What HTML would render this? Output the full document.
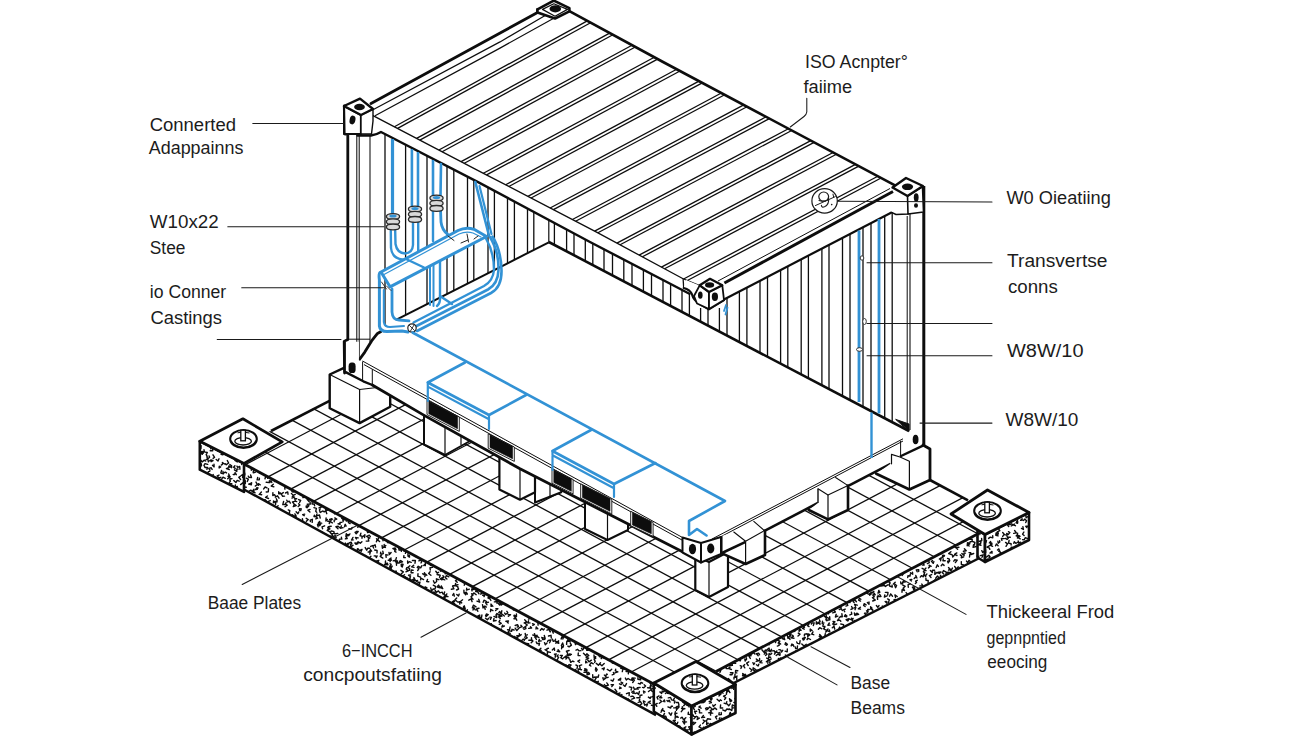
<!DOCTYPE html>
<html lang="en"><head><meta charset="utf-8"><title>Container foundation diagram</title>
<style>
html,body{margin:0;padding:0;background:#fff;}
body{width:1312px;height:736px;overflow:hidden;font-family:"Liberation Sans",sans-serif;}
svg{display:block;}
</style></head><body>
<svg width="1312" height="736" viewBox="0 0 1312 736">
<rect width="1312" height="736" fill="#ffffff"/>
<clipPath id="cTop"><polygon points="225.8,454.2 557.8,279.8 1004.6,519.8 672.6,694.2"/></clipPath>
<polygon points="225.8,454.2 557.8,279.8 1004.6,519.8 672.6,694.2" fill="#fff" stroke="none" stroke-width="1" stroke-linejoin="round"/>
<g clip-path="url(#cTop)" stroke="#0d0d0d" stroke-width="1.3">
<line x1="245.3" y1="464.7" x2="665.3" y2="244"/>
<line x1="268" y1="476.9" x2="688" y2="256.2"/>
<line x1="290.7" y1="489.1" x2="710.7" y2="268.4"/>
<line x1="313.4" y1="501.3" x2="733.4" y2="280.6"/>
<line x1="336.1" y1="513.5" x2="756.1" y2="292.8"/>
<line x1="358.8" y1="525.7" x2="778.8" y2="305"/>
<line x1="381.5" y1="537.9" x2="801.5" y2="317.2"/>
<line x1="404.2" y1="550" x2="824.2" y2="329.4"/>
<line x1="426.9" y1="562.2" x2="846.9" y2="341.6"/>
<line x1="449.6" y1="574.4" x2="869.6" y2="353.8"/>
<line x1="472.3" y1="586.6" x2="892.3" y2="366"/>
<line x1="495" y1="598.8" x2="915" y2="378.1"/>
<line x1="517.7" y1="611" x2="937.7" y2="390.3"/>
<line x1="540.4" y1="623.2" x2="960.4" y2="402.5"/>
<line x1="563.1" y1="635.4" x2="983.1" y2="414.7"/>
<line x1="585.8" y1="647.6" x2="1005.8" y2="426.9"/>
<line x1="608.5" y1="659.8" x2="1028.5" y2="439.1"/>
<line x1="631.2" y1="672" x2="1051.2" y2="451.3"/>
<line x1="653.9" y1="684.2" x2="1073.9" y2="463.5"/>
<line x1="676.6" y1="696.3" x2="1096.6" y2="475.7"/>
<line x1="694.4" y1="682.7" x2="174.4" y2="403.4"/>
<line x1="716.2" y1="671.3" x2="196.2" y2="392"/>
<line x1="738" y1="659.8" x2="218" y2="380.5"/>
<line x1="759.8" y1="648.4" x2="239.8" y2="369.1"/>
<line x1="781.6" y1="636.9" x2="261.6" y2="357.6"/>
<line x1="803.4" y1="625.5" x2="283.4" y2="346.2"/>
<line x1="825.2" y1="614" x2="305.2" y2="334.7"/>
<line x1="847" y1="602.6" x2="327" y2="323.3"/>
<line x1="868.8" y1="591.1" x2="348.8" y2="311.8"/>
<line x1="890.6" y1="579.7" x2="370.6" y2="300.4"/>
<line x1="912.4" y1="568.2" x2="392.4" y2="288.9"/>
<line x1="934.2" y1="556.7" x2="414.2" y2="277.5"/>
<line x1="956" y1="545.3" x2="436" y2="266"/>
<line x1="977.8" y1="533.8" x2="457.8" y2="254.5"/>
</g>
<polygon points="244,464 656,685.3 656,715.1 244,489.5" fill="#fff" stroke="none" stroke-width="1" stroke-linejoin="round"/>
<polygon points="716,671.4 980,532.7 980,557.7 716,692" fill="#fff" stroke="none" stroke-width="1" stroke-linejoin="round"/>
<clipPath id="cFL"><polygon points="244,464 656,685.3 656,715.1 244,489.5"/></clipPath>
<path d="M242.8 464.5l2.3 1.1l0.8 -2.8l1.2 -0.4M249.3 465.1l1.5 1.5l0.7 -2.3l-1.7 -0.2M254.9 464.1l-2.3 -1.1l0.2 2.4M261 462.5l1.9 0.8l-2.1 1.6M265.9 463.2l1.2 2.6l-1.9 1.3M271.3 465.6l1.8 1.6l0.3 -2.9l-2 0.2M278.9 463.4l-0.9 -2.5l1.7 0.1l0.6 -1.1M283.7 465.7l1 -2l1.3 1M287.5 462.5l0.2 -2l2.9 0.4M294.1 463.3l1.6 1.8l-2.8 0.9M299.1 462.6l1.6 2.2l1.8 -0.7l1.1 1.4M304.3 465.2l2.6 -0.8l-0.9 2.7M312.2 463.6l-1.6 1.2l1.7 0.8M315.5 464.3l2.1 1.6l-2.1 1.3l-1.2 -0.7M321.9 463.5l2.1 2.1l-2.3 -0.3l-0.8 -1.8M328.6 464.1l0.9 3l2.4 -1.1l-0.7 -1.8M333.2 462.9l0.3 -2.5l1.7 1.8M340.1 463l0.2 2.4l1.7 -1.6l-0.2 -2M343.8 464.4l-1.6 2.4l-1.1 -2.7l-1.7 -0.2M350.3 465.6l-1.4 -1.2l2.7 -0.2l0.3 2M355.9 462.9l0.6 -2.2l1.3 1.8M360.5 465.7l2.6 0.5l-0.3 -2.4M368.7 462.8l-1.7 -0.5l0.9 2.2M374 465.1l0.5 2.1l2.5 -0.9l-0.2 -1.2M379.7 464.5l1 -2.3l-2.2 0.7M383.8 462.9l2.9 0.1l0.1 2.5l-1.6 1.2M389.8 463.2l-0.5 2.8l2.6 -0.4M395.6 464l-2.8 -0.2l0.8 -2.2l2.1 0.3M399.8 463.8l-2 1.2l1.3 1.8l2 -0.5M407.1 464.5l1.9 2.4l0 -2.6l-2.2 0.3M410.9 463.8l-2.3 -0.2l0.1 -1.7l1.6 -0.5M417 464.4l-1.9 -0.1l2.2 2l1.9 -0.8M424.1 465.1l1.6 -2.2l0.1 1.8M429.5 462.6l2.6 1l0.2 -2l1.1 -0.6M432.9 465.2l-2.2 0.7l0.3 -2.5l-2.1 -0.3M438.9 465.5l-1.8 -1.8l1.6 -1.6l-0.9 -2M444 464l2.5 -0.3l0.2 1.7M451.2 465.1l-2 1.6l2 0.7M457.3 463.7l-1.1 1.5l1.8 1.6M460.9 464.6l-1.8 1.7l2.6 -0.2l0.9 1.4M469.6 465.6l-2 -0.6l1.8 -0.7l-0 -1.7M472.6 464l2.2 0.1l0.3 2.4l1.2 0.3M483.6 465.3l0.6 -2.6l1.2 1.4M488.9 465.1l2.1 -1.7l-2.8 -0.8M497.1 462.4l-1.1 -2.7l-1 1.4l1.2 1M500.1 462.4l-2.1 -0.4l0.7 -2.6M507.3 464.5l2.6 1.1l1 -2.6l-1.8 -0.7M518 463.9l-1.2 -2.6l-1.1 1.3l-1.8 -0.4M523.9 464l1.9 -0.3l0.4 2M529.5 462.7l1.6 -1.3l-0.4 1.6M536.8 463.8l-0.2 2.1l1.3 -1.2l1.5 1.6M541.9 464l2.1 -1.8l1.4 1.6l-1.4 0.8M546.1 463.6l1.6 1.6l-2.1 1.8l1.6 1.4M551.6 463.6l2.6 -0l-0.4 2.6M556.1 464.5l-1.3 -1.5l2.3 0.4l0.3 2.1M563.6 465.4l2.4 -0.9l-2.4 -1.7l-1.2 1.4M567.3 465.4l1.7 1.8l-1.6 1.2M574.1 463.1l-2.7 0.3l-0 1.7M580.2 463.8l-1.4 2.5l1.9 0.5l-0.2 1.4M585.8 465.3l-0 -2.4l-2.1 0.5l-1.3 -1.2M591.8 464.1l0.7 -2.9l-2 -0.9M596.2 465.1l1.9 -0.4l-0.1 3M603.8 465.4l-2.4 -0.4l0.2 1.9l2 -0.6M608.5 464.9l-2.5 0.7l0.1 1.9M612.9 462.7l-0 2.7l1.5 -0.9l-1.1 -1.2M619.5 462.4l-0.8 2.3l1.9 -1.2l1.6 1M623.2 464l-1.1 -2.1l2.6 -1.2l1.7 0.9M630.1 462.3l-0.8 2.9l-2.9 -0.2l-0 1.7M637.3 462.7l-1.9 -1.9l2.2 0M646.8 463l2 -0.3l0.1 -1.9l1.9 0M251.3 470.3l-0 -1.8l2.4 1.3M256.7 467.5l2.1 1.2l-0.6 -2M264.6 467.5l-0.6 -2l1.9 0.2l-0.1 -1.8M269.6 468.6l-1.7 1.7l2 0.2M274.3 468.1l2.6 -0.7l0.6 2.8l1.2 -0.2M280.3 470.4l2.2 -0.7l0.7 2.6l2 -0.1M287.1 469.8l-1.8 -1.4l1.9 -1.9M291.2 467.7l-2.3 1.5l-0.5 -1.8l-1.4 -0.4M295.8 468.9l-0.6 -2.3l2.2 -0.5M302.9 469.8l0.2 -2.9l2.4 0.3l0.2 -1.6M307.5 468.1l1.7 -1.1l2.1 2.1M315 469.4l1.9 -0.1l-1 -2.6M318.9 467.6l1.2 2.9l1.5 -1.5M324.4 469.8l1.8 -0.7l-0.2 1.9l1.8 1.3M331.6 470.3l1.2 -2.7l1.5 1.1l-0.2 1.7M335.1 468.5l-2.6 -0.8l-1 1.9l-1.2 -1M342.8 470.2l-1.6 0.9l0.3 -2.5l-1.5 -0.7M346.3 467.5l-2 -1.1l0.3 1.6M354.6 467.5l-1.7 -1.6l-0.9 1.9l0.8 1.1M359.8 470.4l0.6 1.9l-1.8 -1M363 469.6l-1.2 -2.8l-1.6 1.9M369.9 469.1l3 0.8l-0.3 1.7l1.2 0.2M376.5 467.3l1 -1.7l1.3 2.1l-1 1.6M381 467.3l-1.8 -1.7l1.9 -2M385.3 468.4l-1.9 2.2l1.5 0.6l-1 1.7M390.9 468.9l-2.3 2.2l1.8 2.4M397 470.5l-3.1 0.2l2 1.6M404.7 469.2l-0 2.3l-1.6 -0.8M408.2 468.1l-2.2 -0.1l-0.6 2.1M414.2 468.5l0.6 -2.1l-2.3 0.9l0.7 1.3M421.6 469.7l-1.6 1.7l1.7 1.2M424.9 469.7l2.8 0.9l-0.9 2.5M430.9 469.3l-2 1.1l-1.3 -1.4M435.5 468.4l1.8 1.4l-1.5 1.9l-1.2 -0.7M443.8 469.6l-1.8 0.6l-0.9 -2l0.9 -1.6M448.7 468.9l-2 0.1l-0.5 2.3l1.6 1.3M454.4 469.4l0.8 2.2l-2.7 -0.1l-0.7 -1.7M465.1 469l-1.7 1.7l2.6 -0.1M469.5 468l2.2 0.5l-2 1.7l-1.4 -1.2M478 468.2l2.7 -1.3l-0.5 -1.8M481 467.7l1.8 -1.1l-1.4 -1.6M489.2 470l-2.4 -0.6l0.4 2.8l-2 0.3M493.5 469.1l0.9 1.6l2 -0.7l0.4 -1.3M497.3 467.4l2.9 0.9l-0.9 -2.6M502.9 470.1l2.7 -1.6l-0.7 -1.7l-1.7 1.1M509.3 467.5l2.3 1.7l-1.2 1.7l-1.2 -0.3M517 469.8l-2 -1.5l-1.5 2.3l1.1 1.1M521.3 467.9l1.2 -1.5l-2.2 0M527.6 467.4l-1.1 1.6l3 0.2M538.3 467.7l1.2 -2.9l-1.6 -0.7M544.6 469.5l0.6 -2.6l2.7 1.1M548.9 469.4l-1.5 1.6l1.8 1.1M554.7 469l0.1 -2.9l2.1 1.2M560.2 469.1l-1.1 2.2l-1.3 -2.1l-1.6 0.5M566.9 470l-2.1 -1.9l2.4 0.2l0.7 -1.3M583.3 467.8l1.2 1.6l-1.9 1.1l0.6 1.3M588.3 467.2l1.5 -1.9l1.8 1.4l-0.6 1M595.2 469.5l-2.3 -1.4l0.5 2.5M599 469.3l2 1.4l-0.1 -1.9l1.6 -0.5M606.5 470.2l-0.9 1.6l1.6 -0.4M611.7 470.4l-1.9 -0.2l0.8 2.5M617.5 468.9l-2.6 1.7l1.1 1.8M623.6 468.4l2 0.8l0.2 -1.7M628.2 469.1l1.7 1.4l1.4 -2.7M632.1 470.3l2.6 1.2l1.2 -2.4l1.5 0.7M639 467.6l1.2 -2l0.8 2.5M649.9 469.9l0.7 -2.2l1.5 1.7l-0.9 1M655.2 467.5l-2.1 -0.9l2.4 -0.7l0.6 -1.7M242.7 472.5l0.3 2.9l1.8 -0.5l-0.1 -1.9M250.6 474.9l0.9 2.6l-2.5 -0.1l-0.7 -1.2M255.2 472.3l-2 0.4l0.2 -1.8M259.7 473.1l-0.8 -2.4l2.1 -0.5l-0.6 -1.2M266.9 472.1l2.7 0.8l-1.4 -1.9M270.4 474.5l-1.6 -1.6l2.1 -0M279 473l-1.2 1.8l-1.9 -0.7M283.2 473l-3.2 -0.1l0.9 1.8l2 -0.1M289.5 475l-1.8 -0.5l-0.3 1.6M295.3 472.3l-2.6 -0l0.4 2.4M300.6 472.8l-1.2 -2.1l-1 2.3M304.3 475.2l3 0.3l0 2.4l-1.1 0.5M311.4 474l2.1 -1.3l-2.1 -1.7l1 -1.3M316.4 474.1l2.9 -1.2l0.2 2.4l1.8 0.3M320.8 474.3l3 -0.3l-0.1 -1.8l-1.6 0.1M329.4 473.3l-0 -2.8l-2 -0.2M334.2 475.1l1.6 -1l-0.5 -1.5M337.8 473.1l-0.3 -2l2 1.5l-1.2 1.1M346.4 472.5l1.9 -0.6l-0.8 2M356.2 473l2.9 1.2l-2.3 1.6M360.4 474.9l-2.7 -1.6l1.4 -2.2M368.2 473l2.2 0l-0.4 -2l-1.4 0.5M373.8 474.4l2 -1.2l1.8 2.1l1.1 -1M378 474.4l2.3 -1.2l1.5 1.7l1 -1M385.3 475l-2.4 -0.3l0.6 1.8l-1.5 0.4M389.3 473.8l1.1 1.5l-2.7 -0.8l-0.7 1.2M394.7 473.8l1.8 0.2l-2.1 1.2l-0.6 -1.5M407.5 475.3l-0 1.9l2.1 0.1l1.1 1.7M413.5 475.1l2.4 1l0.5 -2.5l-1.5 -1M422.8 473.6l1.7 2.7l0.2 -1.8M434.6 472.2l1.9 -1.1l0.3 1.7l1.8 -0.3M440.3 474.6l1.8 1.4l1.2 -1.7l-1.3 -1.7M445.5 475.1l0.6 -1.9l-2.7 1.2M450 473.6l2.5 1.8l-0.3 -2.2l1.3 -0.1M456.2 474.5l1 2.2l-2.6 -1l-0.7 1M461.7 474.8l-0.1 1.9l-1.7 -0.6M469.3 474.3l0.6 2.4l-2.6 0.5M472.8 472.9l0.2 2.3l1.6 -0.5M480.8 472.1l0.8 -2.1l-2.4 -1.2M484.3 472.2l-1.8 1.2l1.2 2l2 -0M491.2 474.6l0.9 1.8l1.3 -2l2 -0.1M496.1 473.2l-0.5 2.6l1.3 -1M502.8 473l1.2 2.7l2.2 -1.4M506.7 475.2l1.9 -0.4l-1 -2.6M513.5 473.3l0 -1.9l1.6 1.6l0.8 -0.9M522.9 472.4l-0 2.9l2.8 0.7M530.7 474.2l-2.1 0.5l0.1 -2.8M533.9 473.7l-2.2 -0l-0.3 -2.8M539.9 474.3l-2.3 0.6l2.6 1.3l1.1 -1.2M551.5 472.9l-1.2 2.1l-0.4 -2.7M557.7 475.3l2 -0.9l-1.3 -1.7M563 473.8l2 0.3l-2.1 1.3M570.1 472.2l-1.4 -1.7l2.5 -0.3M573.1 472.5l2.1 0.2l0.6 -1.9M580.3 475.3l-2.2 -0.2l0.4 2.2M587 474l-0.4 2.8l-2 -1.9M591.7 472.7l-0.6 -2.4l2.2 0.3l0.8 -1.2M598.4 473.4l1.8 -0.9l-0.9 2.2M604 473.1l0.3 -2l2.2 -0.1l0.6 1.4M608.1 475.4l-1.4 -2.8l1.8 -0.4l0.7 1.9M614.4 474.6l0.2 -2.5l-1.8 1.2l0.5 1.6M624.5 474.7l1.8 -1.9l1.5 2.1l-0.9 1.3M630 473.1l0.7 -2.9l1.7 1.1M635.8 473.3l0.3 2.9l2.9 -0.7l0.1 -1.2M642.9 473.1l-2.2 -0.5l1.5 -1.8M646.8 473.3l-1.9 -1.3l0.6 2.2l-1.5 1.1M651.6 472.7l-2.1 1.1l0.4 -2.5M246.3 478.2l2 1l-1 2.4M257.7 477.5l-0.6 2.4l2.2 -0.2l0.1 -1.5M267.7 478.3l0.5 -2.2l-2.7 0.9l-0.5 1.8M274.8 478.8l-0.3 2.7l2.3 -0.6l0.5 -1.6M278.8 477.2l2.4 -0.8l0.1 2.7l-1 0.9M285.2 477l-2.1 -2.2l0.1 2.1l1.4 0.4M292.5 477.1l2 0.7l1 -2.7M298.5 479.7l-0.9 2.5l-1 -2.8l-1.5 0.5M303.5 477l1.3 -1.4l1.5 1.2M308.6 477.3l-2.3 -0.5l0 2.9l1.6 -0.2M313.5 478.4l-0.3 1.8l2.3 -1.3l-0.1 -1.7M320.6 477.7l-1.4 1.6l1.7 1M326.4 479.2l3 -1.1l-0.2 2.4l1.1 0.7M331.4 477.2l1.7 -2.3l-2.5 0M336 477.2l1.3 2.7l1.4 -0.9M342.9 477.6l-0.4 -1.9l2 -0.2l-0.6 -2.1M347.2 479.6l-1.1 -2.8l1.6 -1.1M353.6 477.5l2.3 2l0.2 -2.2M359.7 477.5l-0.2 -2.6l-2 1.3l-1.5 -1.5M364.7 480.1l2.2 1.9l0.5 -2.8M371.6 479.2l2.2 0.5l-2.1 1.7l-1.5 -1.7M374.7 478.7l-1.8 2.5l-1.6 -2M381.6 478.5l2.6 0.9l0.2 -2.3l1.3 0.4M387.7 477.7l-0.2 3.1l-2.2 0l-0.7 1.7M392.3 479.3l2.8 0.1l0.2 2.6l1.5 -0.1M398.2 479.5l1.3 2.4l-2.8 0.2l-0.6 -1M402.1 479.9l-0.6 1.8l1.8 0.4l-0.1 1.4M407.6 480.3l0 -1.9l1.5 1M413.8 478.8l3.1 0.2l-1.3 2.1l1.7 1M419.7 477.6l-1.9 -2.3l-0 1.7M426.4 478.2l-1.4 -1.8l-1.9 1.4l0.8 0.9M432.6 480l2.4 -0l0.5 -2.2M436.5 478.9l2.4 1.3l-1 2.3l-1.3 -1M442.4 477l-2.3 -1.9l-0.7 1.9M448.1 478.1l-2.5 1l1.9 1l-0.9 1.5M454.1 478.7l-2.3 1.1l2.4 1.8M460.6 477.1l-1.2 -2.4l2.7 -1.1M464.5 478.1l1.4 -1.2l1.8 1.9l-1 1.2M470.6 477.8l0.4 3.1l1.9 -0.2M475.4 479.2l-0.5 -2l-2.3 1.3M483.2 479.2l0.6 -1.9l-2.5 0M487.5 479.2l-3 -0.9l0.6 -2.6l-1.6 -0.3M491.7 479.3l2.3 -0.7l-0.3 -2.2M500.1 478.8l2.6 -1.5l1.5 2.3M503.6 477.7l-2.5 -0.2l0.4 -1.6M510.2 479.6l2.3 2l-2 0.7M517.2 478.4l0.6 -2.4l1.9 0.1M521.8 478.2l1.9 2.4l-2.8 0.8l-0.1 1.7M525.2 479.7l2.4 1.2l-2.3 1.6M532.2 477.7l2.4 -0.7l-0.8 -1.9l-1.3 0.4M537.9 478.9l-1.7 1.5l-1.7 -1.2l-1.4 1.2M542.4 478.2l2.9 1.2l0.7 -2.9l-1.9 -0.8M549.6 479.1l-1.4 1.7l2.6 0.1l-0.1 1.7M554.3 478.8l-1.6 1l-1.3 -2.5M561.7 479.7l2 -0l0.1 2.2l1.8 -0.1M566.7 477.8l-2.4 -1.2l1.2 2.6M570.5 478.9l2.3 -0.2l-1.4 2.2M576.6 477.5l2.1 -1.5l0 1.9l-1.1 0.8M584 479.1l0.9 2.7l0.6 -1.6M587.9 477.4l1 2.4l-2.7 -1.1l-1.3 1.3M594.6 478.1l2.2 0.8l-0.4 2.7M601.1 479.9l2.2 0.4l-1 1.3M604.6 477.2l1.1 1.7l0.7 -2l-1.4 -1.2M610.2 479.4l-0.1 2.8l-1.9 -1.6M616.6 478.2l-2.1 -0.4l0.4 -1.7M628 478.3l3.1 -0.4l-1 -1.4M632.1 480.1l-1.3 1.5l1.7 1.7l-1.5 1.6M639.3 478.1l0.8 -2.3l-1.7 -0.3M644.9 478.3l1.2 -1.4l1.2 2.6l1.1 -0.4M650.7 477.7l-1.4 1.8l-1.3 -1.6M655.8 477.5l2 -2.3l-2.2 -1.7l0.6 -2M243.4 483.9l2 -0.6l-0.2 -2.8M250.5 483.3l-1.8 0.8l2.6 0.8l0.3 -2.1M256 482.1l1.3 2.4l-2 1.6M260.2 484.8l-1.8 -1.1l-0.1 1.7M266.2 482.2l3.2 0.4l0 -1.8M271.8 482.4l-0.8 -1.8l-1.2 2M284.8 484.7l2.1 -0.4l0 -1.6l-1.7 0.3M289 483l2.8 0.2l-1.3 2M300.7 483.1l-1 2.2l-0.6 -2.6M306.9 483.9l0.2 2.5l-2 -2.2M309.8 483.9l2.7 0.6l-1.1 2.3l-2 -0.8M317.6 484.7l-2.6 -0.2l2.1 1.8M321.9 482l2.1 -0.3l-0.6 1.6M329.4 484.4l-0.2 3l-1.6 -1.7M332.4 484.9l-2.5 -0.5l1 -1.7l1.1 0.8M345.3 484.9l-1 2.1l-0.6 -1.7l-1.6 -0.1M350.5 482.8l-1.1 -1.9l2.3 -1.2l-0.5 -1.9M356.6 483l-2.1 -0.3l0.8 -2.6l-1.6 -0.8M360.5 484.2l-0.3 2.2l-1.7 -0.3M366.2 483.2l0.7 -2.6l-2.6 -0.2l-1.1 -1.9M373.2 482.7l0.2 3l3 0.1M376.9 482.5l1.2 -1.5l1.3 1.9M384.9 481.9l-2 -1.3l1.7 -1.4M389.4 483.5l-2.9 -0.2l1 1.9l-1.7 1M393.9 482.5l2.6 1.4l1.6 -2.2l-1.2 -1.5M399.3 484.1l-2.3 1.3l2.8 0.4l0.7 -1.2M406.5 482.1l-2 1.8l-1.4 -1.9l0.4 -1.4M411.8 483.6l-0.7 1.9l-2.8 -0.9M416.4 484.9l-1.3 2l2.6 -0l0.7 1M423 482.5l0.8 3.1l-2.8 -0.6l-0.1 1.4M427.5 482.3l2.1 -2l-2.6 -1.4M434.4 484.1l-1 -2l-1.6 0.8M438.7 482.1l0.7 -3.1l2.3 1.1l1.4 -1.6M444.5 483.3l0.2 -3l-1.6 1.2l0.6 1.2M452.8 483.1l2.3 0.5l-0.7 -2.4M455.6 482.4l-1.2 2l-1.7 -0.5M472.9 483l0 -2.5l-1.3 1.4l0.6 1.3M480.1 484.4l2.2 -1.5l-1.9 -2.3l1.1 -0.6M484.6 482.6l-0.1 -2l2.2 1.6M491.2 482.2l1.2 2l2.2 -0.7l-0.4 -1.6M494.6 484.3l-0.2 -2.3l-1.7 1.2M501.5 482.3l2.5 1.7l-0.9 1.8M506.3 483.7l2.1 0.6l-2 0.9l-0.2 1.9M511.9 482.1l1.5 1.2l-0 -2.6l-2 0M524.4 482.2l-1.8 -0.8l0.2 1.9M530.3 482l0.1 2.6l1.1 -1.5M534.5 482.1l0.2 -2.6l2.9 0l0.6 -1.9M540.8 482.4l0.8 -2.8l-2.4 -0.8M544.7 484.8l2.5 0.6l0.3 -2.6M552.4 484.6l0.4 -1.9l1.6 1.8M558.5 483.5l-0.2 2.8l2.6 -0.1M563.5 483.3l1.3 -2.6l0.8 2.5M569.2 482l0.6 -2.9l-1.8 0.8M575.7 483.7l2.8 -1.2l1.6 2.2M585.3 482.1l-1.7 -2.4l2.4 -1.2l-0.5 -2.1M591.1 483.2l-0.6 1.9l2.1 -0.2M596.1 482.1l-0.4 2.8l1.8 -0.2M603.5 482.4l-0.4 3.1l2.1 -0.1M609.5 482.8l-1.3 2.8l2.7 -0.7M612 484.7l1.7 1.3l-2.3 1.3M625.7 484l1.9 2.1l-1.3 1.1M631.9 483l-1.4 -2.3l-2.1 1.9M637.6 482l1.4 -2.4l1.2 1.6M642 483.3l2.3 -0.8l1 1.5M645.7 483.1l-0 -2.7l-2 0.2M654.4 484l0.9 -2.6l2.2 1.3l-0 2M246.3 487.2l-3 -0.3l-0.4 2.5M254 489.3l-1.8 2.1l-1.4 -1.3l-1.6 1M257.4 489.3l-1.9 0.3l1.4 -1.8l1.2 0.2M263.7 488.9l1.4 -1.9l1.9 0.9M268.5 488.8l-0.2 2.9l-2.1 0.3M273.9 486.9l-2.7 -0.9l2.1 -1.8M284.9 489.1l-0.1 -2l2.1 0.4M292.8 489.1l1.8 2.2l-1.6 0.8l-1.1 -0.6M297.4 487.5l-1.9 0.9l1.6 0.9M302.8 489.7l2.3 -1.7l-0.2 2.8l-1.8 -0.1M306.9 488.7l1 -1.9l-1.8 -0.9l-0.9 1.3M312.6 489.5l-0.8 1.6l2.2 -0M325.5 486.8l-2.4 -0.6l1.3 -2.1l-0.9 -1.1M329.8 489.5l0.9 -2.4l-1.4 -0.9M334.9 488.8l-0.4 -2.6l1.9 0.1M349.2 487.8l1.9 -0.2l-0.8 -2M353.6 487.3l-1.5 -1.3l-1.2 1.2M359.7 489.3l-0.1 -2.9l2.6 -0.2M365.1 489.1l1.9 0.8l-0.3 2.4M369.4 487.9l2.2 1.7l-2.7 1M374.3 487l1.6 2.4l1.8 -2.3M382.3 487.1l2 1.6l0.7 -2M391.7 489.4l-2.9 -0.3l1.3 2.4M396.4 487.4l-2 -1.2l-1.6 1.6l1.6 1.3M403.8 488.2l0.4 -3l-2.7 -1.1l-1.8 1.2M409.4 489.8l-1.2 -2.8l-1.4 2.4l1.6 1.1M416.1 488.7l1.8 1.7l1.4 -2.3M420.6 489.2l0.5 2.8l1.4 -1.1M424.4 486.8l0.2 3.1l2.9 -0.2M430.8 487.2l2.8 0.3l0.5 -1.8M437.2 487l0.7 -3l-1.4 1l0.8 1.5M443.1 489.4l1.7 0.9l-1.7 1.4M447.4 487.3l-3 -0.1l-0.2 2.5M452.6 488.4l-0.8 -1.7l-1.5 0.8l-1 -0.9M461.2 489.3l1.9 0.1l0.4 -2.3M465.6 488.9l2.4 -1.4l-2.6 -1M471.4 489.5l-2.7 1.3l-1 -2M475.7 487.9l-0.9 1.7l-2 -1.8M486.8 487.5l-1.6 1l-1.5 -2.5l-1.8 1.1M493.3 487l1 -2l1 1.4l1.6 -0.6M498.9 489.8l-2.6 1.7l2.3 1.1l0.8 -1.7M503.1 489.9l-2 -1.7l1.6 -2.2l-0.6 -1.1M510.5 488.8l-1.6 -2.4l-2.1 1.1M514.1 486.9l2.3 0.2l0.5 -2.6M522.5 489.8l-2.9 0.9l-0.6 -2.1M527.6 487l2.1 -0.9l-2 -0.9M531.4 487.9l-1.4 2.3l2.8 -0.6l0.5 1.8M536.8 487l2.3 -0.3l-1 -1.4l-2.1 0.4M543.7 487.3l-1.9 2.1l2 1.3l1.3 -0.8M550.1 487.4l0.7 2l-1.9 0.3M553.1 487l-1.7 1.6l-1.4 -1.7l0.7 -1.1M560.3 487.3l0.3 2.4l2 0l0.8 1.6M565.1 489.2l-2.8 -1.2l1.7 -0.5M570.7 487.3l1.4 -1.6l1.9 1.2M576 489.4l-1.3 -1.4l1.3 -1.1M582 488.4l-2 -2.1l2.6 0.1l0.1 1.9M587.9 488l1.7 -1.5l2 1.5M592.4 488.2l-0.4 -2.4l1.8 1.2l-0.2 1.8M605.8 486.7l2 -0.7l0.1 2.5l2 -0.3M612.5 488.2l0.5 3.1l-1.8 0.1l-0.1 -2M617.5 487.2l1 -2.5l1.4 1.1l-0.2 1.3M622.1 488.6l1.4 -1.2l-1.1 -1.3M626.8 488.6l0.3 2l-1.6 -0.8l-0.8 1.9M634.1 487.3l1.2 1.5l-2.4 1.4M637.5 487.5l-1.4 -2.2l-0.7 2.1M644 489.6l2.6 -0.7l0.1 2.5l-1.4 0.1M651.4 488.2l-1.5 2.4l2.1 -0.7l0.1 1.3M243.7 492l-0 -2.3l2.1 1.3M248.7 492.3l-0.2 1.8l-2.5 0M255 492.7l-2.2 -0.6l1.5 -1.1M261.4 492.1l-2.2 2.3l2.5 0.3M272.9 492.6l-0.1 2.9l1.7 -0.8l0.7 1M278.7 491.8l0 2l1.6 0.1l-0.2 -1.3M283.3 492.6l-2.1 1.2l1.5 2.5l1.8 -0.2M288 494.2l-0.3 -2.3l-2.2 1.1M295.2 494.4l-2 1l-1.8 -2M300.3 492.2l-0.8 -2.8l-1.4 2M305.4 491.6l1.9 -0.9l-0.6 1.8l-1.9 -0.1M312 492.3l-0.7 2.6l2.7 -0.9l0.9 1M316.7 492.7l-0.8 -2.6l2.1 0.6M323.3 492.6l-0.6 2.2l2.8 0.7M327 492l-2.5 -0.1l0.5 -2.3M332.2 492.9l-2.1 0.2l1.3 1.8M345.5 493.3l0.5 -2.8l-1.7 -0.1M349.7 491.7l3.1 -0.4l0.6 2.5l-1.6 0.5M355.6 491.9l1.8 -0.4l-0.7 -2.2M362.7 493.6l-1.8 1.2l-1 -2.4l2.1 -0.6M366.4 494l2.4 -1.9l-2 -1.4l-1.4 1.3M371.8 494.8l2.3 1.8l0.8 -1.4M379.1 494.8l-1.7 -1.5l2.5 -0.6M382.3 492.3l-1.6 2.4l2.4 1.5M390.8 494.3l-0.2 2.3l-2.1 -0.6l-0.2 2.1M395.7 494.5l0.1 -2.1l-2.1 2.1M401.9 492.4l-1.3 -1.9l-0.5 1.9M404.9 494.6l1 2l1.1 -2.5M423.1 494.1l1.5 -2.4l-1.6 -0.7l-1.2 0.7M427.3 494l0.8 2.3l-2.9 0.3l-0.3 -1.5M435.5 494l-1.8 2.5l2.2 0.4l0.1 -1.4M439.5 494.8l-0.7 -1.9l-0.9 2.1M444.4 494.9l0.9 2l-1.7 0.1M449.7 492.8l2.6 -1l-0.8 -2.8l1.3 -1.1M463.2 491.6l1.8 -1.9l-1.6 -1M468.9 494.5l-2 2.4l2.1 1.9M474.3 492.3l-2 0.5l0.5 2.4M479.5 492.4l-0.4 2.4l-1.5 -0.8M486.2 492.1l0.5 -2.5l-1.9 -0.4l-0.2 1.9M491.1 492.5l1.6 -2.6l-1.6 -1.5l0.2 -1.3M496.5 494.9l-1.5 2.5l1.7 0.9M501.4 492.6l-1.6 -1.8l1.2 -1.3l1.8 0.9M507.1 492.5l-2.4 -0.3l0.4 1.9l1.6 0.2M512.5 492.7l-0.9 -2.2l-1.6 0.5M518.4 493.9l-1.4 -2.8l-1.4 1.9M525.5 492l-2 2.2l2.1 0.1M529.3 492.2l2.3 2l0.1 -2.5M534.4 493.3l2.5 0.3l-1.8 1.7M540.4 493.6l0.5 -2.1l1.6 0.7M544.8 494.5l-0.6 2.4l-0.7 -1.4l-1.3 -0.2M550.5 492.4l-0.3 -2.8l-1.4 1.9M559 493l1 2.7l-2 -0.9M562.1 492l-0.6 1.8l1.5 0.6M567.5 492.1l1.1 2.4l1.2 -1.7M574 492.4l0.3 3.1l0.9 -1.6M580.4 493.8l-2.5 0.9l1.1 -2.1M585.4 491.6l-1.8 -2l-1.3 2.5M590 492.1l-2.1 1.9l1.3 2.5l1.6 -0.7M596.5 494.8l3 -0.9l-0.5 2.8l2 -0.1M603.5 494.9l-0.9 -2.1l2.6 0.7l-0.2 2.1M609.6 493.2l0.9 -1.6l-2.3 -0.6M613.4 494.7l2.5 1.5l-1.1 2.6M620.5 494.3l2.1 1.2l0.8 -2.2M625.3 492.5l-2.1 2.2l0.1 -2.7M629.7 493.7l-1.1 2.5l1.6 -0.2M635.3 493.6l1.9 -2.1l-0 2.5l1.5 0.7M640.2 494.2l1.6 -1.4l-2.4 -1l-0.5 2.1M648.1 493.7l1.1 -1.8l-1.8 -1.3M654.2 492.3l2.2 -1.5l-2.5 -0.2M246.6 496.8l2.5 -1.5l-0 1.9M254 499.5l1.5 2.3l-2.8 0.5M257.9 499.6l-1.8 -0.7l1.2 -1.4M265.1 499.7l1.7 2l-2.4 -0.5l0.3 -1.4M268.5 498.5l-2.9 -1.2l1.8 -1.3M276.3 498.7l0.9 1.8l-2.6 1.5l1.1 1.2M279 498.2l-1.5 -2.4l-2.2 1.4M292.3 496.4l2.3 0.7l-2.7 1M296.7 498.8l-2 -0.4l0.6 2.8l1.4 0.4M302.9 497.5l2.3 -0.5l-1.7 -1.7M309.5 499.4l-2.4 -0.2l1.9 2.3M320.1 497l-0.4 -2.5l2 0l0.7 -1.1M323.9 497.5l-1.8 -0.8l1.6 -1.7l1.3 0.2M329.1 499.4l-1.8 2.3l-0.4 -2.2M338 499.8l3 1l0.7 -2.3l-1.2 -1.5M341.5 496.7l0.1 -1.9l1.5 1.2l-0.6 2M347.6 499.5l-2.1 -1.3l1 2.6M351.7 496.6l-2.8 -0.4l0.2 -1.8M359.3 496.7l1.5 -1l1 1.4l-1.5 1.6M363.6 498.7l0.4 2.3l-1.6 -0.6l-1.8 1.2M368.7 498.1l-2.1 0.2l1.1 -2.1l1.3 -0.2M375.4 498.6l2 0.3l-1.9 -2M382.2 497.2l0.6 3.1l2.5 -0.6l0.4 1.3M385.7 496.9l-2.3 -0.7l-0.7 2.4l-1.2 0.4M391.2 499.4l1.9 1.1l-2.4 1.7M402.6 498.2l-2.3 0.2l0.7 2.4M407.6 497.9l-1.5 -1.1l-1.4 2.3M414.9 497.3l2.2 -1.1l0.6 1.9M419.6 497.5l-1.2 -2.6l2.1 0.7l1.3 -1.6M432.4 497.3l-1.2 1.4l-0.9 -1.9l1.9 -0.5M436.7 496.8l0.8 -2.7l1.5 1.1M441.6 497.6l-2.8 1.5l1.1 1.7M447.3 497.4l2.6 -1.4l-1.6 -2.3l0.8 -1.5M453.2 498.1l3.2 -0.1l-1.7 1.4l-1.3 -0.3M458.3 496.5l-0.4 -2l-1.6 1.2l1 1.1M465.5 497.5l2.2 0.5l-0.6 -2.2l1.6 -1.5M469.2 497.2l-1.2 2.1l-1 -1.7M474.8 499.1l0.8 -2l1.1 1.9l-1.2 0.8M482.9 499.3l-2.2 -0.7l1.1 2.8M489.1 499.4l-1.1 2.8l1.7 -0.3l0.8 1.4M494.6 497.6l-1.9 2.1l-1.5 -1l-1.5 1.5M498.2 498.5l-2 -0.9l0.6 -2.7l1.2 0.6M503.1 497l3 0.4l0.3 -1.8M509.8 497.8l0.3 2.9l-2.7 -0.5l-0.3 -1.9M515.6 498l0.7 1.9l1.3 -1.5M521.6 497l-2.2 -0.1l0.8 2.5M526 497.4l1 3l1.4 -2.1M531.1 499.3l-2.6 0.1l-0.1 2.5l1.8 0.3M538 496.9l0.7 -1.8l-1.5 0.7M544.7 498.7l-2.9 -0.6l0.4 -2.4l-1.1 -0.6M547.7 498.8l-1.1 -2l-1.3 2.5M555.8 497.4l2.6 -1.3l-1.8 -1M560.3 498.4l1.7 -1.6l0.9 2.5M567.5 497.4l-0.1 -3l2.2 -0l0.8 1.5M571.5 498.5l0.3 -2.9l1.5 1.2l-0.8 1.1M576.9 497l2.1 -0.4l-1.8 -1M582 498.6l-2.3 0.3l1 1.8M587.7 499.1l1.7 2l1.1 -2.3l-1.7 -1M595.1 497.9l-1.5 -2.8l-1.6 0.8l-0.4 -1.4M599.2 496.9l1.1 2.4l-2.2 1.1l-1.1 -1.7M606.6 497.1l2.8 0.7l-1.2 1.5M611.6 497.2l-2.4 -1.2l1.6 -2.2M615.8 497.3l1.1 -2.7l-1.6 -1l-1.3 0.8M620.3 499.5l0.4 2.1l-1.4 -1l-0.1 -1.9M627.6 496.5l0.4 2.3l-2.2 0.1M632.6 496.7l2.4 -0.8l0.2 2.4M638 499.2l2.4 -1.6l-1.3 -2M643.5 498.3l1.3 -1.4l1.9 2.3l1.7 -1.1M648.8 497.4l-0.7 -2.7l2.4 -0.6M655.4 497.5l-1.9 -1.3l-1.3 1.5M244.2 504l2.1 1.9l-0.8 1.4M248.5 502.6l-2.4 -0l-0.2 -2M255 502.1l2.2 -0.4l-0.7 2M259.5 501.4l-2.9 1l-0.7 -2M266.7 501.9l1.3 1.8l0.5 -2.3l1.7 -0.8M273.4 502.8l0.2 -1.9l1.5 1.4M277.2 501.7l-1.8 0.3l0.2 2.5M283.6 501.5l-0.8 3.1l2 -0M290.4 503.1l-1.2 -1.9l-1.6 0.7l-0.8 -1.7M294.7 501.4l-2.2 0.6l1.1 1.4M299.6 502.4l1.1 -1.9l-2 -0.9M307.2 504.3l3.1 -0.2l-0.2 -1.8M312.2 501.3l-0.1 2.8l2.1 -0.2l0.4 1.8M316.7 503.5l-0.7 -1.7l1.9 -0.9l1.1 1.2M322.5 501.9l3 -1l-0.6 1.6l1.8 0.7M334.9 502.2l0.6 -2.4l2.8 1M339.4 501.9l2.6 1.6l-1.7 1.3l0.3 2.2M346.4 502.3l1.8 1l-1.9 0.4M350.8 503.9l2.6 1.7l0.6 -1.5l-1.3 -0.6M357.6 502.5l3 -0.2l0.1 -2.5M361.6 501.8l-2.5 1.8l-0.7 -2l1.7 -0.7M368.2 503.2l-1.4 2.8l1.6 0.5l-0.6 1.8M378.2 502.8l0.1 -2.2l-2.7 -0.5l-0.4 1.4M384.6 501.9l-1.4 2.4l2.4 0.5l0 -1.6M388 504.3l-0.1 -2.5l-2.8 -0.3M394.3 502.3l-2.3 0.1l1.1 1.7M405.8 501.3l1.6 1l-1.9 1.7M412.3 503.2l2.3 0.2l0.1 -2.3M416.2 503.5l-2.4 0l0.6 1.7M424.8 503.8l2.9 0.9l-1.8 1.7l0.8 1.4M427.5 503.4l-1.5 -1.1l-1.5 2.5M434.6 504.6l2.4 0.4l-0.5 -2.4M440.1 503.7l1.7 -0.6l-1.2 -2.4l-1.7 1.1M445.2 502.1l-0.7 -2.4l2.4 0.4l0.2 -1.4M450.8 502.5l0.7 -1.9l2.2 2l-0.4 1.2M457.9 501.3l1.4 -2.4l0.8 1.9l-1 1.4M463.7 504.2l-2.8 0.7l1 1.6M467.1 501.3l2 -2.2l-1.7 -2.1M475.2 502.4l1.6 -2.7l2.1 1.5M478.4 502.1l-1.9 -0.5l0.9 1.7M483.5 503.9l0.2 -2.2l2.9 -0.1M490.5 502.8l2 1.3l1 -1.4M496.6 501.6l0.1 2.7l-1.8 -1.7l-1.3 0.7M502.3 503.9l-2.7 -0.6l0.1 -1.7l-1.2 -0.7M506.5 504.2l-1.6 -1.9l-1.8 2.3l-1.3 -0.7M511.5 503l0.2 -2l-2.3 0.3l-0.1 -1.6M518.9 503.8l2.4 -1.3l-1.1 -1.7l1.2 -1.3M522.9 502.1l-1.8 -0l1.1 1.7M530.9 504.2l-1.6 0.8l2.5 0.5M535.7 504.6l-0.8 1.9l-2.1 -1.3l-1.4 0.6M541.6 503.8l2.5 -1.1l-1.4 -1.3M548 502.4l-2.4 2.1l2.9 0.7M550.5 501.8l-1.6 2.4l2.3 -0.4l0.1 1.7M556.1 503.5l-0.9 -2.2l1.9 0.9l-0.1 1.4M563.2 501.4l-0.2 -2.7l3 -0.1l0.5 -2M569.5 502.5l0.9 -2.5l1.7 2l-0.9 1.7M574.9 501.6l-1.1 1.8l1.6 -0.3M580.4 502.5l-2.6 0l-0 2.6l-2 -0M592.8 501.3l1.3 -1.3l0.9 2.3M596.6 503.5l-1.7 -1.2l2.7 -0.1l0.4 -1.9M603 501.8l0.1 -2.9l-1.8 0.8M609.4 504.6l-1.5 1.1l1.6 1.8l1.2 -1M615.2 502.3l0.2 -2.4l2.5 1.6l-0.8 1.2M629.8 502.4l0.8 2.3l1.1 -2.4M636 504.5l1.5 1.8l-1.7 0.4l-1 -1.3M641.7 504.1l2.3 0.6l-1.6 1.8M646 504.3l-1.5 -1.2l0.3 1.6M652.9 504.1l-1.5 2l2.5 0.3l0.1 1.4M245.3 507.1l1.5 1.4l1.1 -2.7M251.2 507.4l-0.9 2.5l2.8 0.6l0.1 1.2M258 506.8l-3.2 -0.1l1.5 -2.3M262.3 509.4l2.3 1.7l-2 0.7l-0.4 1.5M270.2 507.7l-0.3 2.3l1.6 -1l1.6 0.9M276.4 509.3l1.8 -0.5l-1.8 -1.6l1.7 -1.4M279.6 509.2l-2.2 1.4l-0.4 -1.8M285 506.7l2.2 -1.6l-2 -1.1l1 -1.3M293.3 506.5l2.9 -0.9l-1.7 -1.4l-0.8 1.1M298.2 506.6l1.7 -1.7l-1.3 -1.2M301.4 509l-2 -0.4l0.2 1.6l1.2 0.3M307 507.8l1.9 -2l-2.7 0.1l0 1.3M313.9 507.7l2.5 0.7l-0.7 2.9l1 0.9M319 507.9l2.4 -0.9l-0.6 -2.4M326.1 508.1l1.7 1.7l-1.7 1M329.6 507l-0.8 2.5l-2.2 -1.4l-1.1 1.1M334.8 509.1l2 -0.8l0.3 2.9M342.6 507.7l1.4 -2.7l0.6 2.1l-1.3 0.3M349.2 508.6l-1.9 0.5l0.1 1.7M353.1 509.2l2.4 -1.1l-0.6 -2.1l-1.6 0.8M357.9 509.2l2.2 1.4l-2.9 0.8M365.7 506.2l-0 3.1l-2.8 0.2l-0.4 1.3M370.4 509.2l-2.1 -0.2l1.1 -1.9M376.3 506.9l-2 -1.6l-1.1 2.4l-1.4 -0.7M380.9 508.8l2 -1.4l-0.4 1.8M385.8 509.5l0.9 -1.8l0.6 2.2M392.9 509.5l0.3 -2.2l1.5 1.1M396.7 507.2l-2.6 0l2.1 -1.7M402.1 508.7l-2.5 -1.1l0 1.8l-1.4 0.3M409.3 508.9l-2.9 0.8l0.8 2M415 508.6l-0.1 -3.1l1.5 1.3l1.2 -0.3M420.6 508.4l-1.2 1.8l-0.9 -1.6M424.9 507l-2.5 -0.2l1.3 -2.5M432.7 506.2l-0.8 1.8l1.8 -0l-0.2 -1.7M438.5 508.3l-2.1 -0.6l0.4 -1.8l1.3 -0.5M441.9 507.4l0.6 -2.5l2.2 1.8M448.5 508.8l-1.8 -0.9l-0.7 1.7l1.7 0.5M454.7 508.8l0.9 -2.9l-2.6 -0.5l-0.6 -1.4M460.7 507.7l0.9 -2.1l-2.5 -0.7M465.8 507.5l1.8 -2.2l1 2l-0.9 1.6M471.3 507.6l3 0.8l0.4 -2.1M477.8 506.5l1.8 2.1l1.1 -2.7l-1 -1.7M481.6 509.1l1.8 2.4l-2.9 -0.4M488.7 506.9l-1 2.4l2 -0.5M493 508.1l0.9 -2.4l-2.2 1.3M499 508l2.5 0.1l-1.5 1.5M502.9 506.6l2.3 1.2l-1.4 2.1M510.1 509l2.4 -1.1l0.1 2.3M521 507.6l-2.8 -0.2l0.9 2.8l1.6 0.2M525.2 507.6l2.5 -1.4l0.8 2.5M531.3 507.7l1.5 -1.8l1.6 0.9M539.2 508.9l-2 0.1l0.3 2M543.2 508.7l2.9 -1l0.6 2.7l1.7 -0.5M547.7 508l-0.3 -3.2l-0.9 1.3l-2.1 -0.7M553.2 509.3l-0.2 2.6l-2.7 -0.7l-0.3 1.5M559.7 506.2l1.8 0.6l-1.1 1.3M566.7 507.3l1.2 1.5l-2.2 -0.6l-0.5 -2.1M572.7 507.8l0.4 -2.1l-1.7 0.5M578.4 506.4l0.9 -2.8l2 0.9M581.1 506.5l-0.5 -1.9l-2.5 0.7M589.6 507.2l2 0.8l1 -2.8l-0.7 -1.1M593.8 509.5l-1 2l2.7 0.5M599.2 507.7l-2.7 -0.6l0.1 -1.7M604.8 506.6l-2.2 -1.8l1.8 -1.2l0.6 1.2M611 509.2l2.6 -0.1l-0.4 -2.4M616.2 508.9l1.6 -1.9l-1.8 -0.7l-0.2 1.3M620.9 507.7l3 -0.6l-0.1 1.7l2 0.8M634.1 507.3l-1 1.9l2.4 -0.1l-0.1 -2.1M645.6 506.4l-0.9 -1.6l-0.7 1.5M656.4 507.4l1 -1.5l0.9 1.6l-1.4 0.7M245.4 512.8l2.3 0.3l-0.1 -2.7l-1.7 -0.4M250.6 512.7l1 -1.6l0.4 1.6l1.5 -0.5M255.8 513.1l-1 -2.3l-1.7 2.4M262.4 511.3l0 -2.1l2.1 0.3M267 512.7l0.9 -1.9l-2.5 -1l0.2 -1.9M271.4 513.9l-0.2 -2.6l1.7 0.2l0.9 -1.5M276.2 513.4l1.8 0.4l0.8 -2.3l1.3 -0.2M283.6 514.2l1 1.9l1.9 -2.1l2 0.6M289.3 513l0.5 -2.3l-1.5 -0.8M294.9 513.9l1.1 1.7l-2.1 0.4l-1.4 -1.2M298.8 511.9l-0.9 1.8l-1.8 -1.9M304.7 514.1l-2 0.6l1.5 1M309.9 512.1l-2 -1.9l2.2 -0.8M317 513.9l-0.9 2.9l-2.1 -0.3l0.4 -1.4M322.1 511.4l-1.9 1.1l-0.8 -2.6l0.9 -1M326.8 513.7l-1.1 -3l-1.5 1.2l-1.3 -0.9M334.1 511.3l0.5 2.6l2.2 -1.3M343.5 512.3l2.2 -0.9l-1.3 2.6l1.4 1.4M351.1 513.2l3.1 -0.8l-1.4 -1.1l1.4 -1.4M356.7 512.7l-2.5 1.2l0.4 -2.7l1.9 0.1M361.6 512.7l-1.2 -1.7l1.7 0.2M366.1 512.5l-1.4 2l-1.4 -2.1M371.4 512.3l1.7 2.3l-2 1.1M377.2 511.7l-1.6 1.7l-1.4 -2M384.3 513.8l0.2 2.8l1.8 -1.5M390.4 512.3l-1.4 -1.7l1.9 0.3M395.1 511.6l-0.1 -2.6l1.9 2l-1 1.7M402.1 512.2l1 -2.3l0.8 2M405.1 513.8l-0.7 -2l-1.5 1.2l-1.4 -0.4M412.8 512.8l-2.3 -1.9l0.4 1.9M418.1 513.1l2.7 -1.6l-0.7 -1.6M422.6 513.8l2.9 -1.2l-1.8 -0.5l-1 0.9M430.4 514l-1.9 0.6l-0.1 -2.7l1.1 -0.5M433 513.6l-2.7 1.4l0.9 1.7l2 0.2M444.2 513.4l0.8 -1.8l1.7 1.7l-0.7 1.7M449.9 511.2l-0.2 2.7l-1.6 -2.3l1.8 -1.1M456.8 511.8l-0.6 -1.7l-2.8 0.7l-1 -1M461 512.2l0.2 3.2l1.7 -1.7M468.1 511.4l0.5 2.7l2 0M473.3 512.6l3 0.6l-0 2.8l-2.1 0.6M478.1 513l-1.1 2.2l2.8 -0.4l0.6 1.9M485.2 512l-0.1 2.5l2 -0.7M489.8 511.5l-0.9 2.6l-1.5 -0.8M497.2 513.3l-1.3 2.1l2.1 -0l1 1.5M500.6 511.9l2.6 0.5l-1.4 1.9M507.3 512l-3 0.7l1.1 1.8M511.2 512.9l-1.3 1.7l-1.4 -0.9M518.9 512.7l2.4 0.5l-0.8 -1.5l-1.1 0.8M525.7 514.1l3.1 -0.7l0.4 2l-1.2 0.1M529.8 514.2l-2.2 -2l1 -1.5l1.9 0.1M536.4 511.8l1.2 1.5l-2.9 0M541.5 511.6l2.5 -0.3l-1.5 1.8l0.7 1.5M546.1 513.4l0.3 2l-1.7 -0.3l0.8 -1.9M550.7 511.4l1.9 2.6l-2 1.1M556.5 513.4l1.5 1.6l-2.3 0l-0.3 1.9M562.4 512.7l2.1 1l0.3 -2M569.2 513.5l-0.3 3l1.9 -0.5l0.1 -2M573.6 512.5l-2.4 -0.2l-0.7 2.5M579.2 511.8l-1.1 -2l1.9 0.7M585.1 511.3l-3.1 -0l1.8 -2.3M591.9 513.1l0.1 2.8l1.8 -1.2l1.4 1.6M595.1 513.7l-1.6 -2.2l-1.7 0.8M604.1 511.1l-1.9 -1l-0.6 1.7M609.4 511.5l-1.3 1.6l2.6 1l0.8 -1.2M617.7 512.1l2.8 1.5l-1.3 1.7l-1.7 -0.3M625 513.2l-1.2 -3l-2.6 0.9l-0.5 2M632 512.9l1.5 -2l1.9 1.1l-0.3 1.2M636.7 513.7l1.8 -1l0.8 2.4l-2.1 0.4M641.7 511.4l2 -1.5l0.3 2M647.9 513.2l-1.7 0.8l0.6 2M653.7 511.8l1.6 -2.4l0.5 1.7M246 518.6l-1.1 -2.1l2.6 -0M253.9 516.3l2.1 1.1l-0.5 2M264.8 516.1l1.6 -1.4l1.5 2.5M268 519.2l1.9 -1.9l0.6 1.7M274.8 516.6l-0.5 2.4l-2.2 -1.6M279 518.7l1.6 2.4l2.1 -0.9M285 516.5l-1 2.7l1.6 0.5l-0.5 1.5M291 519.2l-0.5 -1.8l-1.4 1.6M295.7 519.1l0.4 -2.7l-2.1 1.1l-0.3 2.2M302.4 518.7l0.5 3.1l-2.2 0.7l-0.2 -2.1M315.5 516.2l2.1 2l-1.8 0.7M320.2 518l-0.7 -3l-2 0.7M326.1 517.9l-0.2 3.1l1.4 -1.5M331.9 518.6l-2.3 0.7l1.4 0.9l1.3 -1.1M334.8 517.9l1.9 1.3l-2.5 0.9l0 1.7M341.7 518.2l2.1 1.8l-0.3 -2.3l-1.6 -0.7M348.2 517.9l-1.6 1.9l2.1 1.9l1.5 -0.7M354.4 517.2l-1.8 1l-0.4 -2.1M357.2 519.1l-0.6 2.5l2.3 -1.7l-0.5 -1.6M363.6 517.6l1 2l-2.2 -0.8M370.5 515.9l-2.4 -1.7l-1 2.7M374.5 518.3l0.7 -1.8l2.4 1.7M382.5 516l-1.9 -0.3l1.7 -1.5M385.7 518.7l1.2 1.9l-2.8 -0.5M391.2 516.2l-0.6 -1.8l1.5 -0.6l-0 -1.7M397.8 516.3l0.5 -2.5l2.9 0M403.7 516.5l-0.9 1.9l1.8 1M410.3 516.2l1.4 -2.1l-2.9 -0.4M416.3 516.8l0.5 2.9l1.6 -1.9M419.8 517.5l-2.8 0.4l-0.1 2M425 516.7l1.8 -1.4l-0.2 2M438.3 518.3l2.4 -0.6l-0.7 1.6M442.1 518.3l1.9 -2.3l1.7 0.9M448.3 518.9l1 -3l-2.2 1.4M454 517.6l0.5 2.1l-2.2 -1.3M459.8 518.2l2.4 0.1l-1.6 -1.4l0.6 -1.9M466.2 518.6l1.5 -1.6l-0 2.3M474.8 516.2l-0.4 -2.3l-2.4 -0M482.9 518.3l1.6 -2.6l-2.7 0.2M487.1 516.3l-1.3 2.5l1.7 0.1M493.4 516.3l-1.1 -1.9l2.6 0.3M498.9 519.2l-1.7 -1.6l2 0.1M505.6 519.2l2.2 -1.8l-1.1 -1.7l1.6 -1M509.9 516.8l-1.8 -1.5l1.6 -1.2l-0.2 -1.7M514.7 518.3l3 0.3l-1.4 2.7l0.7 1.3M527.9 517.8l0.2 -2.9l-1.7 0.5M533.7 517.9l-2 -1.4l1 -1.4l-1.4 -1.7M539.4 518.4l1.8 0.6l-0.6 -2.6l1.5 -0.7M544.8 518l-1 -2.5l-2.4 0.4M549.3 516.8l-2.1 -0.2l-0.7 1.8M555.1 517.5l-2.8 -0.2l1.8 2M559.6 517l-1.5 2l2.2 1.4l-0.7 1.2M567.5 517.2l2.1 -2l-1.7 -1.4M571.1 518.5l-2 1.2l-0.4 -1.8l-1.4 -0.7M577.8 517.6l-0.6 -2.6l2.5 -0.6l0.8 -1.8M582.1 516.8l-0.7 -1.9l-0.8 2.2l-1.8 0.1M588.8 518.1l0.3 -2.1l-1.6 1l-0.1 1.4M592.4 519.2l1.7 1.1l1.2 -1.3M600.8 515.9l-0.7 3l1.6 -0.7M606.1 516.6l-0.4 2.1l1.5 -1M610.7 516.8l0.3 -2.8l-1.8 0.9M616.2 516.5l0.8 -2.5l-2.2 1.2M622.1 518.5l-1.8 0.1l0.6 -1.8M628.8 518.6l0.6 2.7l1.7 -0.4l1.2 1.2M633.9 517.6l2.5 1.6l1.6 -1.5M639.7 517.8l0 -2l-1.2 1.5l-1.7 -1.3M649.7 519.2l-0.6 1.8l-0.9 -2.2l-2.1 0.2M655.6 518.6l2.3 2l-2.3 -0M245.3 521.3l-1.9 2.6l-1.8 -1.2M249.3 520.9l2 2.2l-1.5 1.8l0.6 1.3M253.7 522.7l-0.7 -2.8l-1.1 1.3M259.2 522.1l0.2 2.5l-1.8 -1.8M266.2 522.6l-1.9 1.8l-1.4 -1.1l1.3 -1.5M271.6 523.2l0.8 2.5l2.9 -0.2l-0.3 -1.2M276.2 524l2.5 -0.8l-1.1 2.5l-2 0.2M281.8 522.5l-2.2 -1.7l1.7 -2.4l1.7 1.3M293.5 522.7l0.6 -3l2.1 1.1M300.7 522.3l0.1 2.6l2.1 -0.3M306.4 521.3l1.8 -1.8l-2 -1.2M312.2 522.4l0.2 -3.1l-2.2 0.9l0.2 1.3M318.2 523.2l1.4 -1.8l0.4 1.9l1.7 -0.2M321.1 523.3l-1.4 2.4l-1.5 -1.4M329.2 523.5l0.7 -2.4l-2.2 0.1M332.3 522.9l-2.3 -1.6l-0.4 1.7M338.1 523.7l2 0.5l-0.1 -1.8l1.8 0M346.4 521.1l-1 -2l-2.5 1.1l0.2 1.4M350.1 523.6l-1.7 -1l0.7 -1.5l2.2 0.3M355.9 524l1.2 -1.7l-1.1 -1.3M362.4 522.2l1.5 -2.3l0.4 2.9M365.9 523.9l2.8 1.2l-1.1 -2.4M371.4 523.3l-1.9 0.6l0.2 -2.2l1.4 -0.4M377.5 521.9l2.2 0.9l-0.5 -1.8l-1.5 -0.2M389 523.3l1.1 -1.7l0.5 2.9M394 522.5l2.3 1.7l0.5 -2.1M399.6 520.8l-2.4 -0.8l0.5 -1.5l-1.6 -0.2M405.8 521.6l0.9 -2.8l1.7 0.4M413.4 523.4l2.8 -0.6l-1.1 -2.5l-1.9 0.4M418 523.3l-2 1.9l0.1 -1.8M424.1 523.3l-2.1 1.6l-1.1 -2.8M428.5 520.9l-2 1.7l1.3 2.1M433.5 521.9l-1.2 -1.7l2.7 -0.9l0.1 -1.9M438.6 523l-2.8 0.3l1.7 -1.8l-0.9 -1.4M445.9 523.2l2 -0.1l-0.8 -2.3l1.2 -1.2M449.7 522.8l1.3 2l-1.7 0.7l-0 1.9M456.6 522.4l1.3 1.7l1.2 -1.8M462.8 523.8l1.5 -1.3l-1.6 -2.1l-1.1 0.7M469.6 521.8l-0.5 1.9l-1.4 -1.6l1.2 -1M475.3 522.2l-2.1 0.8l0.4 -1.9l1.9 -0.4M480.3 523.9l2.4 -0.7l-1 -1.8l-1.9 1.1M486.3 520.8l-1.8 2.2l-0.8 -2.1l1.9 -0.5M490.1 521.8l-2.5 -1.2l2 -0.7M496.6 522.1l2.5 -1.8l-0.1 2.9M501.8 523.3l-0.5 2.5l2.4 -1.8M508.1 522.2l2.2 2l-0.1 -2.4M519.4 522.2l-2.1 0.2l1.2 1.5l-1.1 1.1M523.6 523.4l-2.7 0.1l1.5 -1.2l-0.1 -1.8M530.9 522.1l2.3 -0.2l-1.3 -1.6l0.7 -1.2M535.8 521.4l2.6 1.4l-2.2 1.9l-1.2 -1.6M539.5 522.6l-2.8 -0l1.3 2.3M544.9 521l-0.5 -2.6l-1.2 2.4l0.8 1.6M552.6 522.6l1.5 -1l-0.6 2l1 0.7M557.3 522.7l1 -1.7l0.6 1.8l-1.4 0.4M564.7 521.4l-0.6 2.3l-2 -1.8M568.5 522.5l2.4 1.8l-1.2 1.2M573.3 522.2l1.8 0.7l0.6 -2.8M580.3 522.5l-1.4 -2.1l2.6 -1.1M585.1 521.9l2.1 -2.2l-1.5 -2l-1.3 0.1M590.2 523l-0.9 -1.9l2.6 -1.3M598.3 521.7l2.6 -1.2l-0.3 1.7l-1.6 0.5M601.4 522.9l-2.5 1.9l-0.7 -2.2l-1.6 0.5M606.6 522.6l0.3 -1.9l2.7 -0M619.6 521.5l1.2 -1.5l-2.7 0.2l-0.2 1.4M625.9 521.1l1.9 1.9l2 -1.5M629.8 521.3l-1.4 -1.6l-2.5 1.3M635.5 522.5l1.8 -2.2l-1.4 -0.8M651.5 522.5l2.7 -0.1l-1.4 -1.1M248.3 529l-2.1 -1.5l1.3 -2.5l-1.2 -1M250.8 526.3l2 2.4l-2.1 1.4l-0 1.9M258.9 526.1l2.2 -1.2l0.1 1.7M262.9 528.5l-2.9 1.4l2.2 1.9l-1.2 1.4M269.8 528.2l0.7 1.8l2 -0.3l0.7 1M276.2 527.5l-1.5 2.2l-2.4 -1M281.4 527.8l0.9 -1.8l-1.9 0.8M287.3 527.7l-2.2 1.4l1.5 1.3M291.8 528.8l2.1 -1.9l-2.6 -1.3l-1.2 1.4M296.8 528.4l1.5 -2.4l-2.8 -0.9M301.4 528.7l1.9 0.6l-0.6 -2.6M307.2 528.9l-1.4 -2.4l2.2 0.5M318.2 526.9l-0.7 -2.2l2.7 -1M324.6 525.8l-2.6 1.1l0.6 1.8M331.2 526.3l-2.9 0.4l1.6 2.2l-1.5 0.8M338 528.8l-2.1 -2l2.2 -0.5l1.4 1.3M341.4 525.9l-1 2.3l2.7 -0.6M346.1 526.1l-0.9 -1.8l-0.7 2.4M352.1 527.4l-0.6 1.7l-2.6 -0.4M357.7 527.2l1.8 -1l-1.3 -1.6M365.8 529l1.7 -1.7l1.2 1.8l1.6 -1.1M376.2 528.4l-0.3 3l3 -0M380.8 527.2l-2.5 -1.5l-0.6 1.8M385.7 526.6l2.5 0.8l-1.7 1.8M393.6 527.2l2.7 -1l-0 1.8M398.6 528.6l1.5 -2.8l0.4 2.1M404.5 528.9l-2.2 -0.5l-0.5 2.4l-2.1 0.3M407.9 528.4l-2.8 -1.4l1.1 -1.5M413.9 525.7l-2.4 1.1l0.6 2.3l-1.7 0.2M420.7 526.3l-1.4 -1.9l2 -0.1M424.9 528.7l2.9 0.9l0 -2.1l-1.5 0.2M432.6 528.9l1 2.8l-2.5 1l-1.3 -0.9M437.8 527.6l1.7 -1l0.9 2.1M443.6 527.3l2.2 1.1l-1.6 2M446.9 528.4l-0.1 2.8l-2.6 -1M453.7 526.7l3 -0l-0.7 -1.9M458.1 526.2l2.4 1.9l-2.4 1.5l0.3 1.2M466.7 525.7l2.8 0.1l-1.3 1.2M470 526.8l-2.9 1l0.6 -1.9l1.6 -0.3M476.9 525.8l-1.6 -2.2l1.8 -1.8l1.5 0.2M481.6 526.8l2.5 -1.3l-0.8 1.7M488.4 527.9l-1.3 -2l2.2 -0.7l0 -1.8M499.9 527.6l-1.5 -1.4l-0 2M503.8 529l0.4 -2.7l-1.8 1.2M510.6 527.1l-1.9 -0l1.7 -1.7M514 527l-0 2.7l-2.1 -0.3l-0.8 -1.5M519.6 526l3.1 0l0.5 2.5l-1.7 0.7M531.7 526l-0.5 2l-2 -0M539 525.7l-2.6 -1.5l1.5 -0.9l1.5 0.7M542.5 527.9l1.4 -2.3l2.1 0.6M549.1 528.4l-1.8 0.9l1.7 0.7M555.5 526l2.8 -0.5l-2.3 -1.7M559 526.4l1.3 -2.6l-2.1 -1.5l1.3 -1.4M565.2 528.3l-1.9 0.8l0.4 1.7l1.3 -0.1M571.4 525.9l-2.3 2.1l2 0l0.1 -1.7M576.8 526.1l2.7 -0.9l-1.1 2M583.8 528.8l-0.6 2.3l1.7 -1.1M589.2 526.6l-2.1 1.3l-1.5 -2.5l0.6 -1.6M599.7 526.5l2.1 -1.5l1.2 1.8l-1.9 0.9M603.9 527.1l0.4 2.9l-2.7 -0.3l0.1 1.5M611.3 526.8l-1.6 -1.7l2.6 -0.1M616 526.2l-1.5 1.7l-2.1 -1M620.5 526.1l-0.4 -1.8l2.5 1.6M627.1 527.1l0.3 -2.4l-2.4 1.2M633.2 527.6l-2.7 1.5l2.6 0.4M639.7 526.4l-1.7 -2.5l-1.3 1l-1.1 -1.1M645.2 526.3l1.9 0.9l-1.4 1l0.8 1.1M650.5 526.5l-1 -1.7l-0.4 2.9M656.4 527.7l-2 1.9l2.6 0.4M242.7 531.3l-2.5 -0.4l0.5 2.2l1.6 0.4M251.2 531.9l-2 1.5l1.4 2.4l-0.9 1.3M254 531.9l2.1 -2.1l-1.9 -0.1l-0.3 -1.4M260.9 532l2.5 0.9l1.1 -2.4l-1.4 -1.1M266.3 530.6l2.9 0.8l0.1 -2.7l-1.3 -0.8M273.2 532.1l1.5 1.5l-2.2 0.4l-1.3 -1.3M276.9 530.7l-1.8 -2.1l-0.2 2.8l1.5 0.9M281.9 531.9l0.7 -2l2.8 0.3l0.8 1.7M289.4 531.9l-2.6 0.7l1 1.9M294.3 532.5l-0.9 2.5l3 -0.1l-0.1 1.8M301.3 532.6l0.3 -1.9l1.7 2.2M304.5 532.1l-0.7 -2.8l1.8 1.1l-0.6 1.9M309.6 533l1.1 2.8l1.5 -1.4M322.1 531.9l0.1 2.9l2.8 -0.6l1.4 1.2M329.5 531.7l-2.3 -1.3l1.2 -1.5l-0.6 -1.4M333.9 531.7l-2.6 -0.8l-1.1 1.7l1.3 1.3M337.8 533.4l-3 0.6l-1.2 -2.3M346.3 533.6l-0.4 2.8l2.3 -1.9M349.9 533.9l-1.2 1.8l-1.4 -1.3M356.2 531.5l2 0l-2 2.2l-1.1 -1.4M360.9 533.1l-0.8 2.7l1.9 0.3l-0 2.1M368.4 532.4l0.9 -2.5l-2.1 1l0.4 1.7M373.9 533.8l1.2 -2.9l0.5 1.7l1.3 -0.4M378.2 532.4l2.3 -0.1l0.9 2.6M383 533.7l-0.3 2.5l3 -0.2M390.1 533l-1.2 -2.5l2 -0.5l0.4 -1.3M394.5 531.8l-2.7 1.6l-0.3 -1.6M401.3 532.6l2.3 1.6l1.3 -1.5l-0.8 -1.2M405.7 530.6l2.1 -0.7l-0.3 1.8l-1.2 -0.4M416.8 533.7l2.3 0.7l0.2 -3l-1.2 -0.9M423.6 531l1.2 1.8l-2 0.9l-0.4 2M429.8 532.5l-1.7 -1.4l1.1 -2.4M433.9 532.6l-3 0.8l0.3 -2.5M440.5 532.5l2.2 -0l-0.8 -2.2l1.4 -1.6M444.3 533.2l-1.8 -0.7l1.4 2.3l1.9 -0M451.5 532.6l1.8 0.5l-1.5 2.1l0.9 1.5M457.1 531.7l-1 1.8l2.1 0.6M460.8 531.2l2.1 -1.8l2.1 1.8M466.5 531.1l-1.5 1.5l1.3 1.3l1.1 -1.1M473 532.7l-0.1 2.8l1.6 -1.9l-1.8 -1.1M479.2 531.6l-1.9 2.5l-0.1 -2.3M483.5 531.5l1.4 -2.1l-1.8 0.5M490.9 531.5l-2.2 -0.2l0 -2.3M497.6 531l1.6 -1.6l2.1 1.9M506.2 532.2l1.5 -2.5l2.3 1.3M512.5 532.6l-2.1 -0.6l0.5 -1.9l1.6 -0.1M519.5 532.9l1.1 -2.9l2.9 0.4M525.2 533.6l-0 -2.3l2 0M528.9 533l1.2 2.7l-2.5 -0.1M535.1 532.5l-2 -0.9l-0.9 2.8M540.4 532.9l-1.8 -2.5l2.5 -0M545.8 530.6l1.4 2.1l0.2 -2M552.5 532.5l0 2.7l-1.9 -0.9M557.1 532.7l1.2 1.7l-2.5 -0.4M564.5 533.1l-2.6 1.5l1.9 1.2l1.1 -0.6M568.6 533.8l-1.8 1.6l0.4 -2.2l-1.3 -1M574.4 533.9l2 1.6l-2.2 1.3M579.6 530.8l0.6 2.6l1.4 -2l1.6 0.6M585 531.8l-0.4 -2.4l1.8 0.1M590.1 532.3l-0.7 -2.4l2.7 0.1M597.5 533.8l-2.2 -0.6l0.1 1.9M601.7 532.4l-1.9 0.5l1 -2.8M607.2 530.9l0.7 -1.8l-2.1 0.4l-0.1 2.1M613.4 533.8l0.5 -2.1l1.2 1.2M618.8 531.7l2 -0.9l-1.4 -2.4M626.3 533.7l1.2 -1.9l-1.6 0.3M631 533.3l1.8 0.7l-1.5 2.5l1.2 0.6M643.2 532l-1.7 0.8l-0 -1.6l1.3 0.2M647.6 532.8l-2.1 0.7l1.8 2.2M654.4 532.2l-1.1 -1.9l-1.5 0.8l-0.9 -1.2M246.2 537.3l2.1 1.7l1.7 -1.2l-0.6 -1.3M253.3 538.2l2.4 -0.4l-0.5 2.3M259.5 537.1l-1.5 1.3l1.9 1.3l1.6 -1.3M262.7 538.4l1.7 -0.8l-1.6 -1.3M269 536l2.6 -1.8l-1.2 -1.4l-1.4 1.4M275 536.3l1.6 2.7l-2.8 0.2l-0.4 1.6M281 537.5l-1.1 -1.7l2.6 -0.3l0.3 1.9M287 535.6l2.6 -1.5l-0.6 -2M290.4 536.9l0.1 2.1l1.2 -1.4M296.3 536.8l-1 -2.1l-1.6 0.8l0.3 1.3M304 537.4l-2.3 -1.2l-1.1 1.8M307 538.4l-0.5 3.1l1.9 0.5M319.6 536.4l-2.1 0.3l0.9 1.9M324.4 536.6l1.5 -2.2l-1.6 -0.5M330.4 536.1l2.1 0.2l-0.4 -2.6l1.8 -0.3M336.2 537.7l-2.2 0.3l-0.3 -1.8l1.6 -0.6M341.4 537.3l0.4 1.8l-2.4 0l-0.1 1.3M347 536.8l-1.6 2.1l1.8 -0.4M353 537.4l-1.5 2.6l1.7 -0.1M358.2 537.9l-2.7 -0.4l0.9 1.4M364.6 537.5l0.3 -2.7l-1.9 1.8M369.2 537.8l-2.6 -1.5l2.7 -1.1l1 1.4M376.5 538.7l1.4 1.4l0.8 -2.5M381.7 538.4l-0.1 -2.7l-1.7 -0.3M394 536.2l-1.5 1.6l1.3 1.8M396.7 536.6l-2.1 -1.3l-0.8 2.3l1.5 1M402.8 535.4l0.7 -2l-2.4 0M409.5 538.7l1.3 2.8l-1.8 -0.4M414.8 536.5l1.8 -0.9l-1.2 -1.6M421.7 537.7l1.4 -2.3l-2.6 -0.5l-0.3 -1.2M425.1 538.2l1.2 2.6l-2.4 1.2l-0.6 -1.3M430.7 538.4l2.9 -1.2l-1.4 -1.3M438.4 537.6l-2.4 -0.2l1.3 2.5M441.4 537.6l2 0.8l1 -1.5M447.6 536.6l-1.1 -1.7l1.7 -0.4M454.1 536l1.9 1.1l-2.4 0.3M465.9 536.5l-2.3 0.5l-0 -1.9M469.2 538.7l-0.7 -2l-0.7 1.5l2 0.8M475.2 538.3l-2.8 -0.8l-0.9 1.7l-1.8 -1M482.8 536l2 0.3l-1.4 -2.4l-1.8 0M487.9 538.3l2.6 1.7l-2.2 0.9M492.6 536.9l-0.6 1.7l-1.9 -1.9M497.5 535.8l0.1 -1.9l1.6 2.3M503.3 536.2l1.7 1l-2 2.2l-1.3 -0.5M509 535.6l0.4 2l2.4 0.2l0.1 -1.3M514.6 538l1.8 1l1.1 -1.4l-1.1 -0.9M520.6 535.6l-1.1 2.2l-1 -1.6M526.9 538.4l-0.2 -1.8l2 -0.1M533.5 537.5l-2.4 -0.8l2 -1l-1.1 -1.5M537.3 536.7l2 -0.6l-1.6 -1.5l-1.1 1.2M544.7 536.8l0.7 2.4l-1.8 0.4M550 535.8l2 -0.6l-0.3 -2.4l1.9 -0.7M555.2 536l2.8 1l-0.2 1.8M559.6 536.2l2.2 0.3l-1.2 1.7l1.5 0.7M567.4 536.2l0.3 -2.1l-2.1 -0.1l-0.1 -1.9M570.4 537.1l-2 1.4l1.7 1.6M578.3 537.6l-1.8 -0.7l0.6 -2.1l1.5 0.6M583.5 535.4l2.4 0.1l0.4 2.1M589.6 536.9l0.6 -2.3l-2.5 -0.6M595.6 536.6l-0.9 2.9l2 -0.9l-0.8 -1.1M598.8 536.8l-2.8 -0.9l1.9 -0.8l1.1 1.5M610.8 535.5l2.4 1l-1.8 0.9M615.6 538l-1.6 -1.3l-0.5 2.8l-2 -0.5M623.3 536.3l-2.8 0.8l0.2 1.6l-1.9 0.9M629 538.7l-1.2 2.5l-2.5 -0.5l-1.5 1.4M634.2 536.1l-1.8 1.4l2.9 0.7M637.7 537.8l1.9 -0.9l-1.1 -2.2l-1.2 0.8M643.5 536.3l-1.8 1l0.7 2.2l-1.2 1.1M650.4 536.4l-2 1.4l1.4 1.6l-0.9 1.2M656 536.1l-2.8 -0.2l0.8 -2.1l1.5 -0.4M242.6 540.9l1.9 -1.5l-0.1 1.9l1.2 -0.1M251.1 541.2l2 1.3l-1.9 0.3l-1 1.9M256.8 541.2l0.9 2l-2.4 -1.3l-0.1 -2.1M259.9 542l2.4 -1.1l-2.4 -1l-0.2 -2M266.2 542.6l-0.9 -2.3l3 -0l0.1 -1.6M271 541.2l-2.1 -0.6l2.1 -1.6l1.7 0.6M276.8 541.4l0.3 2.9l1.9 -0.6M283 542.2l0.1 -2.2l-2.1 -0.3M289.1 540.8l-1.4 1.4l1.9 1.7M296.1 541.5l1.8 -0.7l0.5 2.5M298.5 540.4l0.4 -2l1.8 0.9M305.5 541.6l-1.2 -2.8l-1.5 2.2M311.8 541l1.7 1.5l-1.6 -0.1M315.5 542.3l1 2.9l-1.7 -0.1l-0.9 -1.9M322.7 540.8l-0.4 1.9l2.6 1.3l0.3 -1.2M326.6 542.8l-0.7 -3.1l-1.8 0l0.2 -1.2M334.1 540.8l-1.8 0.8l-1.1 -1.8l1.2 -1M339.4 540.8l-1.5 2.8l2.7 0l-0.3 -1.5M345.3 543.1l1 1.8l1.3 -1.5l1.1 0.8M349.1 543l2.1 -0.8l0.7 1.7M356.8 543.1l-1.9 -0.1l1.1 1.4l2 -0.8M361.9 541.7l-1.6 1.5l-2.2 -1.4l-1 1.3M366.2 541.1l2.6 -0l-0.5 -2.2l1.5 -0.9M379.6 541.5l-2.4 -1.9l-0.8 2.2M383 540.8l0.1 -2.7l1.7 -0.3M388.3 540.9l-0.3 1.9l-1.6 -1.9M396.3 542.5l0.5 2.9l-2.4 -1.3M399.8 542.5l1.7 -1.9l-1.6 0.1l0.4 1.6M407.7 543.3l0.5 -2.1l-1.9 0.2M412.2 542.2l-1.2 2.9l1.5 1.1M419.2 541.4l-2.5 -1.5l1.3 -2.1M422.6 543.3l-1.1 2.5l-2.8 -1M434.7 541.1l2.6 -1l0.4 1.7M440.5 542.1l2.2 2.2l0.7 -1.8l-0.9 -0.9M446.2 543.5l-1 1.7l-0.4 -1.9l1.3 -0.9M452.7 542.5l-0.5 2.4l-1.9 -2.2l0.8 -1.6M456.7 542.9l-1.4 -1.6l-1.8 1.6M462.6 543.3l0.2 -2.8l1.7 1.6l1.5 -1M467 542.1l-3.1 -0.2l-0 -1.7M472 540.7l1.3 -1.5l-2.9 -0.4M477.6 542l-1.1 1.6l-1.5 -1.9M485.3 543.3l-2.1 0.7l-0.2 -1.8M490.1 542l-2.2 0.1l2.1 1.8M501.5 541.2l-0.7 -2.3l-2.2 1l-0.9 -1M507.7 540.7l2.3 -2l0.5 1.9l-1.2 1.4M514.2 542.9l-1.2 -2.2l2.5 0.7M518.5 543.1l-2.9 1.2l-0.6 -2M522.7 541.3l1.9 1.6l-1.6 0.9M531 542.7l-0.2 3.1l1.6 -0.5M536.3 543.6l2.6 1.7l-0.9 2.8M541.6 541.8l-1.9 -1.4l0.5 1.8M545.7 542.5l1.5 2.1l1.7 -0.9M553.6 541.2l-0.8 -1.7l-0.4 1.6l-2.1 0.7M557.4 540.3l1.4 2.4l0.5 -1.6M563.7 543.6l-1.9 1.1l2.2 1M568.3 540.3l0.4 2l1.6 -0.1M573.1 542l1.8 2.1l1.2 -2.4M584 542.8l2.4 -0.4l-1.3 -1.9M592.6 542.2l2.4 -0.6l-0.9 -1.6l1.2 -0.9M597.1 541.1l-2.1 -0l1.4 1.5M603.8 541.2l1.2 -2.1l0.7 2.3M608.4 542l-0 -2.4l1.6 1M615 543.5l1.4 -1.4l2.4 1.6l0.8 -1.9M619.7 542.1l-1.8 -2.1l-1.5 2M623.8 543.6l0.6 2.9l2.3 0.1l1.1 1.5M632.1 540.7l2.4 1l1.1 -2.6M636 543.1l-1.9 2.1l2.3 1.2l1.8 -1M642.8 542.1l2.4 -0.2l-0.9 -2.5M648.4 541.1l2 -0.2l-1.1 -1.8l-1.2 0.1M653.9 542.7l0.2 2.9l-2.1 -1.5l-1.2 1.6M247.2 545.7l2.4 -0.9l-0.5 2.5M252.3 545.5l-0.3 -2.4l2.9 0.7l-0.4 1.8M257.4 548.1l-0.8 -1.6l2.3 -1.3l-1.4 -1.7M262.5 545.7l-1.8 0.5l2.3 0.9l-0.8 1.7M270.2 548.4l-2.1 -0.8l0.9 1.6l-1 0.9M276.4 546.3l-3 -0.7l0.3 2.3l-1.5 0.7M281.3 547.3l2.2 1.3l-1.9 0.7l-1.1 -1.6M287.2 547l0.4 -2.6l2.8 0.8M293.2 545.6l0.3 -2.6l-2.6 -0M295.5 545.7l0.5 2.7l2 -0.6l1.1 1.3M301.3 546.6l-2.8 -1.6l-1.6 1.9M312.8 546l2.5 0.9l-1.2 1.2M324.9 546.9l1.7 2.2l1 -2.7l1.1 0.5M329.3 548l0.9 2.4l-1.8 -0.4M335.3 546.7l1.7 -0.7l-2.3 -1.6M343.2 545.5l-0.8 -2l-1.8 0.3M347.5 545.2l-2.3 0.1l1.5 1.7M353.1 545.3l-2.3 1.6l-0.1 -2.8M365.2 547.6l1.5 2.6l1.1 -2.1l2 0.2M370.7 546.4l1.9 -0.8l1 2.5M375.6 547l-0.5 -2.2l-1.6 0.8M382.1 545.5l0.3 2.8l1.5 -1.6l1.5 0.8M385.8 545.6l-1.6 1.7l-0 -2.8M392.9 548.5l2.3 0.6l-0.5 2.2l1.3 0.8M398.5 547.3l0.6 2.7l1.9 -0.1M404.1 548.3l-0.5 -2l2.7 -1M408.2 547l-2.6 1.4l1.8 0.5l-0.9 1.8M414.7 545.7l2.7 -1.3l-1.4 -1.5M420.7 547.2l-0.4 -1.8l2.2 -0.3M424.9 546l-2.5 -1l1.6 -1.4M430.8 545.6l-2.1 -2.1l0.2 2.7M436.5 548l-0.4 2.5l2.6 -0.6l0.3 -1.5M443.3 546l-1.8 -1.8l-2.2 1.5M449.1 547.1l2.9 -0.1l-0.2 2.4l2 -0M454.8 546.3l-2.3 -0.1l1.6 2.5M460 546l2.4 1.2l1.3 -1.9M469.5 547.3l-1.8 -1.9l-0.6 1.5l-1.2 0.3M482.4 545.3l-1.8 2.1l1.6 2.1M491.6 547.7l-1.1 -2.7l2.4 0.5l0.2 -1.5M498.2 547.6l-0.5 -1.8l2.1 0.3l-0.6 1.6M510.6 545.3l0.9 1.7l-1.6 0.7l0.6 1.3M514.6 547.1l2.7 -1.6l-1.1 -1.9l1.4 -1.6M525.2 547.5l1.8 -1.9l1.2 2.4l1.4 -0.3M532.9 546.6l1.8 -0.9l-2.4 -1.8M536.7 546.7l0.8 2.9l1.3 -1.8l-0.7 -1.3M544 547.5l-1.6 2.6l1.2 1.1l-1.2 0.9M550.8 546.7l-2.6 1.5l2.6 0.8l-0.5 1.7M554.3 547.7l1.4 1.6l-2 1M565.3 545.6l2.6 -1.4l-2.1 -1.8M572.1 548.1l-2.4 0.4l1.5 1.9M577 547.8l0.2 2.8l-2 0.1M582.4 547.2l0.1 -3.2l-1.9 1.6l1.4 1.1M587.5 547.4l1.9 -2l0.5 1.9M595.3 547.2l-3.1 -0.3l1.6 2.5M599.9 548l-2.9 0.8l0.6 -1.8M604 545.5l-2 0.3l0.9 1.7l-1.2 1.3M610.5 545.3l2 0l-0 2.3l1.3 -0M617 546l1.7 -1.2l-2 -1.4l-1.4 0.5M621.1 547.5l-0.1 2.8l2.1 -2M628.5 547.9l-2 1.9l1.1 2M633 547.5l-2.3 -1.4l-1.8 1.7M640.3 548.1l2.9 0.9l1.3 -2M645.1 546.3l-0.8 1.9l1.8 0.3M651.5 547.1l0.8 1.7l-2.1 0.4M655.4 547.4l-0.9 -2.1l1.5 -0.8l-0.4 -2.1M243.5 550.3l0.3 -2.6l-2.2 2M254.3 551.1l0.2 2l-2.7 0.2l-0.1 -1.9M262.4 553l-2.3 0.4l-0.6 -2.8M266.3 550.2l0.2 2l1.8 0.1M273.5 551.3l-1.2 -1.3l1.6 -0.4M276.3 553.2l-2.4 -1.3l-1 1.8M284.2 551.6l-0.4 -1.8l2.3 -0.5l-0.4 -2.1M289.3 550.2l-0.7 2.1l3 0.2l0.7 -1.7M293.8 552.7l-0.3 -2.3l-2.8 0.1l-0.3 1.4M300.4 552.7l2.6 -0.9l-0.4 2.1l1.8 0.4M307 551.8l2.7 -0.4l-0.9 1.7l-1.6 -0.9M311.7 552.8l-2.5 -0.4l1.1 -1.2l1.4 0.7M316.5 550l1.8 1l-0.6 -2.3M321.1 550.3l1.4 -2l1.4 1.6l-0.7 1.7M327.4 551.6l2.2 -0.2l0.3 -1.8M334.3 552.8l-2 0.2l-0.2 -2.9M338.2 552.7l1.9 -0.9l-0.8 2.3M344.9 552.3l2.3 -1.3l-2.6 -0.9l-1 1.9M349.6 553.2l-0.9 2.2l2.2 0.4M354.8 550.8l2.6 -0.5l0.1 -1.7M361.1 551.4l0.9 -1.9l-2.7 1.2l-1 -1.8M368.2 552l2.2 -0.5l-0.6 2.6M371.6 551.1l-1.1 -1.5l-0.8 1.7M377 552.9l0.1 -2.4l-2.4 -0.5M382.8 551.2l0.5 2.4l-2.8 0.3l0.2 -1.6M391.1 552.5l-1.7 2l-0.4 -2M395.1 550.3l-1.9 -1.7l1.9 -0.7l0.9 1.9M401.4 551.3l-0.3 -2.6l2.3 -0.9l0.1 -2.1M405.4 553.3l0.6 -2l-2.1 -0.3l-0.6 -1.8M412.2 550.8l2.6 0.6l0.1 2.7l1.8 0.5M417.3 553.1l-2.6 -0l1.1 1.4M421.6 550.9l-1.1 -1.5l2 0.5M429.2 552.7l-2 2.1l-1.7 -1.3l0.4 -1.2M432.9 550.4l-2 -0.3l-0.1 1.7l1.4 0M438.6 552.3l0.5 2.9l-1.4 -0.9l-1.2 1M444.4 551.6l1.7 1l-1.9 1.1l-1 -1.4M450.1 553.4l0.2 -3l-2.9 0.1M455.6 550.3l2.3 1.5l-1 2.8l1.1 1.6M467.7 552.5l-1 2.8l2.3 -1.5l1.7 0.7M474.2 552.6l-2.6 0.9l0.4 2.7M477.6 553l-2.6 0.1l0 -1.6l1.9 0.1M490.7 552.6l0.2 1.8l-2.2 -1.4M497.3 552.2l2.4 -0.9l-1.8 -0.9l-0.9 1.3M502.9 550.3l1.6 -1.4l0.2 1.9l-1.2 0.8M506.5 550.4l-0.7 -2l2.3 1.3l-1 1.2M512.2 553.4l-0.6 1.8l2.1 1.4l-0.6 2.1M519.1 552.2l-2.5 1l0.1 -1.9l1.7 -0.6M524 550.3l2.4 -0.3l-0.5 -2M528.3 551.9l-0.4 2l-1 -2M534.5 550.5l-1.8 -1l0.3 2.4M544.9 551.1l2 0.1l-0.5 1.8l0.8 1M551.5 551.3l-0.2 -2l-2.1 1.6M559 552.9l2.7 -1.2l-1.5 -1.5M568.2 551.8l-2.1 -0.2l0.9 1.4M575.9 551.1l-2.1 -0.3l1.8 2.2M579.2 553.1l2.6 0.9l1 -2.7l-1.4 -0.3M585.7 551.5l-2.7 0.3l0 2.4M590.1 552.4l-2.1 2l-2 -1.7l-1.7 0.4M597.5 552.2l2.2 2.1l1.3 -1.1l1.2 0.4M602.3 552.1l-2 1.4l1.9 1l0.6 -1.5M606.6 552.4l-3.2 0.3l2 1.6l-0.9 1.2M612.6 550.1l1.8 -2.3l-2.1 -0.5l-0.9 0.9M620.7 552.9l-1.9 1.1l-0.5 -1.9l1.9 -0M626 553.2l2.2 0.3l-1.7 2.3M631.5 550.3l-0.6 -2l-0.8 1.9l-2 -0.9M635 551.3l-2 0.6l1 -1.7l1.3 0.1M640.3 552.9l-1.9 2.4l2.2 0.5M647.1 551.3l0.4 -2.7l1.3 2.5l1.6 -0.7M651.4 551l-2.9 0.2l-0.2 -1.7l1.8 -0.7M246.9 556.2l1.5 -1.6l-1.3 -1.4l-0.9 0.9M253.8 557.8l1.4 1.4l-1.2 1.7M258.6 558l1.1 -2.4l-2.2 -1.3M262.7 558.2l-1.8 -1.5l-0.3 1.7M269.1 557.8l-0.1 -2.9l2.6 -0.7l0.4 -2M276.1 555.2l-0.2 2.9l2.3 -1.7M281.9 556.8l-1.8 -0.4l1.6 -0.7M285.7 555.6l2.4 -0.3l-1.1 -2.6M290.4 555.2l2.2 -1.9l0.2 1.7M296.2 555.2l-1.4 -1.8l1.8 -1.6M307.5 555.1l0.7 1.7l1.6 -0.2l0.2 1.7M312.8 557.2l2.8 -0.4l0.3 2.7M319.5 558.2l-2.4 1.3l1.8 1.2M323.9 554.9l-1.5 2.5l2.5 0.4M336.7 556.7l-1.4 -1.7l1.7 -1.7M341.2 557.9l-2.1 1.1l1.9 1.3M347.9 555.8l0.6 2.6l1.1 -2l-1.4 -1M354.1 555.7l1 -2.1l2.2 1.9l-0.3 2.1M365.7 555.5l-0 2.1l-2 -1.2M370.9 556.2l-2 2.3l-1.9 -1.2M377.1 555.9l-0.8 1.7l-0.5 -1.6l-1.6 -0.1M382.8 558.1l-2.6 -1.8l1.8 -1.9M386.2 557.3l-0.4 -2.7l2.1 0.5M391 558l-1.5 1l1 1.5l-0.5 1.2M396.4 557.6l-0.9 3l2 0.4l-0.2 1.7M403.9 555.6l-0.2 1.9l1.6 0.1M409.4 555.1l0.1 2l-1.5 -1l-0.1 -2.1M416 556.8l2.8 -1.3l0.8 2.6M426.3 555.8l-2.1 1.3l-0.1 -2.9M431.6 555.9l2.7 -1.1l-2.4 -1.6l0.2 -1.5M436.4 556.3l-1.3 1.4l-0.3 -2.2l1.8 -1.2M442.9 555.3l-1.9 1.4l0.7 -2.6l-1.4 -1M448.8 556.8l2.9 0.4l-1.6 1.4l1.1 1.5M454 556.1l1.3 -2.2l1 2M459.6 557.6l-0.4 2l-1.3 -1.8l-1.7 0.8M465.2 557.8l1.7 1.9l-2.8 0.8M469.4 555.9l0.1 -2.8l-1.4 0.8M475.5 555.9l-1.9 0l0.6 2.5M480.4 557.7l1.7 -1.9l1.5 2.5l-1.3 1.2M487.8 556.5l1.2 2.3l0.6 -1.5M493.2 556.2l-0.4 -2l-1.5 0.8l-1.6 -1.2M499.3 555.7l0.4 -2.7l1.2 2.2l1.2 -0.7M503.7 555.8l-1.7 2.3l-0.8 -1.7M509.5 554.9l-1 1.8l-0.5 -1.6M515.1 556.7l2.5 0.1l-1.3 2.1M520.5 555.2l0.7 2l1.7 -0.7l-0.4 -1.5M525.9 557l-0 -1.8l1.9 1.1M533.7 558.1l-2.6 1.8l2.4 0.2l0.7 1.3M536.5 557.7l2 -2l-1.4 -1.7M541.9 558l2.6 0.5l-0 2.2l1.4 -0.1M549.8 556.6l0.6 -1.7l-2.1 0.2l0.2 -1.8M555.3 555.4l0.2 2.3l2.1 -1.3M559.2 554.9l2.1 1.3l0.3 -1.7l1.8 -0.8M566 558.1l-0.6 3.1l2.6 0.7l-0.5 1.7M572.4 555.8l2.6 0.4l0.1 -2.1M577.6 557l-2.3 -0.2l0.5 -2.6l-1.3 0M582.5 556.9l-2.2 2l0.9 1.4l1.9 -0.7M587.8 556.9l1.8 0.7l-2.4 0.7M598.5 558.2l2 -1.1l-2.7 -0.6M603.6 557.7l-1.6 1.5l-0.3 -2.4M609.2 557.3l1.5 -2l1.6 1.2l1.3 -1.6M614.8 555l-1.8 -0.6l0.4 3l-1.2 0.8M627.7 557.7l-0.7 3.1l2.5 0.3l0.2 -1.3M634.1 557.4l1.9 -0.1l-0.9 1.6l-1.7 0M638 556.9l-0.1 -2.3l-2.4 0.2M645.3 556.8l-1 -1.7l1.9 0.4l0 -1.6M649.6 557.9l0.8 2.5l-2.5 0.4M654.3 554.9l-0.4 -2.4l2 1.4l0.6 -1.2M244.9 562.7l-1.1 2.3l-0.6 -2.3M250.4 560.8l-2.6 -1.3l1.2 -2.2l1.6 1.1M254.4 561.1l-0.1 -2.9l2.2 0.4M259.8 561.6l-0.3 2l2.2 0.3l0.7 1.7M267.1 560.6l-2.3 1.6l2 0.9l-0 1.5M272.2 560.3l3.1 0.1l-1.1 -1.7M278 559.9l-0.4 2.3l3 -0.3M284.2 561.4l1.8 2.4l-2.3 0.1M289 562.5l0.2 2.7l-1.8 -1.1M294.2 562.2l-0 -2.9l-2.2 0.6M301.3 562.3l0.1 3.2l-1.3 -1.1l-1 1.2M311.4 560.9l1 2.6l1.9 -0.3l0.5 1.8M318.4 560.1l2 -1.8l0.5 2M321.2 563.1l-1.2 2.4l-1.4 -1.3l-1 0.9M327.9 560.7l1.4 1.4l-1.6 2.4M334.9 562.9l1.5 2l-2.1 -0.4M338 561.4l-1.1 1.5l-0.5 -2.4l1.2 -0.9M344.9 560.6l-2.5 -1.5l2.2 -1.9l1.1 1.2M350.3 560.2l2.2 2l1.6 -1.5l1.5 0.5M356.5 562.4l1.3 -1.7l1.8 1.9M367.2 561l-2.8 1l1.6 2.3M371.5 561l1.1 2.7l1.6 -2.1M378 562l0.8 -1.6l-2.7 0.8M385.5 561l-0.2 2.6l1.9 -0.3M388.2 560.3l3.1 -0.1l-0.6 -1.9M396 560l-0.1 2l-1.4 -1.6l-1.3 0.5M399.7 562.7l2.8 -0.9l-1.8 -1.2M407.6 560.9l0.1 2.3l1.6 -1.5l1.9 0.6M412.4 560.5l3 0l-0.4 2.7M418.9 560.8l1.7 -0.9l1.1 1.8l-0.7 1.3M428.2 560.8l-2.2 1.7l-0.5 -1.8M434.1 562.8l-0.2 -2.8l1.8 1.2l1.2 -1.4M440.9 561.6l-3 -1.2l-0 2.1M446.3 560.5l1.1 -1.6l1.4 1.9M452.8 562.6l-0.2 -2.5l2.1 0.9M458 562.5l-2.3 -1.1l2.1 -0.9l1.4 0.9M461.8 561.9l-1.9 -1.1l0.2 1.7M466.7 561.5l-1 -1.9l2.4 -0.9M477.7 562l-1.6 2.1l-1.6 -1.1l0 -1.4M485.3 560.8l-1.9 2.2l-0.9 -2.6M489.8 562.5l-1.4 -1.7l-0.3 2.9l-1.9 -0M497 562.7l0.9 -2.1l1.2 2.5M501.4 562.1l-2.9 1.3l1.2 1.6M507.9 563l-2.4 0.7l0.5 -2.9l-1.8 -0.8M511.5 562.1l2.1 2.1l2.4 -1.4M519.3 562l-0.1 1.9l2.7 0.5l-0.2 1.6M524.7 560l-2.3 1.3l-1.1 -2.5l-1.3 0.3M528.1 562.5l-2.4 -1.1l-0.8 1.8M536.4 560.5l-1.5 1.5l1.3 2M541.9 560.4l3 -0.4l-1.5 1.9l-1.7 -0.7M548 559.8l-1.2 -1.5l2.7 -0.9M550.7 561.5l2.3 -1.7l-1 -2.5M557.6 563l-0.2 2.3l-1.5 -0.8M564.1 561l-0.5 -2.2l-1.9 1.1l-1.6 -1.4M569 561.2l2.4 -0.9l-0.6 -1.6l-1.9 1.1M574.4 560.8l2.4 -0.7l0.7 2l-1.6 0.8M580.2 562.9l-1.5 1.8l-0.1 -2.2M586.2 563l0.7 2.3l2.5 -0.5l0.3 1.3M591.8 561.1l1 1.9l0.8 -2.2l-2 -0.4M596.6 561.9l-3 -1.1l2 -1l1.2 1.4M600.9 561.4l-1.2 1.9l-1.4 -1M612.7 562l-1.3 1.6l2.3 1.9l0.7 -1.2M619 561.8l-2.1 0.8l0.9 -2.7M624.7 562.4l-0.1 -2.2l1.6 0.1l0.9 -1.3M629.5 560.6l0.4 3l-2 -0.3M634.9 562l3.2 0l-1.6 -2.3l0.9 -1.8M640.6 561.9l-1.8 -1l-1.8 2.2l1.3 1.3M647.1 561.7l-2.1 -0l-0.1 -1.7l-1.7 -0.9M653.3 561.5l-2.2 -1l1.5 -1.4l-1.4 -1.2M246.9 564.7l-1.9 -0.9l1.6 -0.4l0.2 -1.7M253 566.8l2.2 -0.7l-0.6 1.5l1.3 0.9M257.8 567.4l-2.6 -1.5l1.1 -1.6M265.1 566.2l2 2l2.2 -1.9M270.2 567.4l-2.4 -1.9l2.2 -0.7l0.6 -1.5M275.8 567l-1.2 1.9l2 1l0.1 1.4M280.5 564.8l-1.7 1.2l0.5 -2.9M284.7 565.2l-1.6 -1.7l-0.2 2.5M292 567.7l2.4 0.3l-1.8 -1.9M296.2 566.1l-0.6 2.4l-1.6 -1.2M301.1 566.8l0.9 2.3l1.7 -1.2l-0.4 -1.7M308.7 566.1l-0.2 -2.8l-1.8 -0.2l0.1 2.1M319.1 566.4l-1.3 -1.5l1.3 -1M325.9 565l-2.4 -1.5l-1.2 2.3l-1.2 -0.1M329.5 566.8l-2.5 1.6l1.1 1.4l-0.9 0.8M335.5 566.1l1.2 -2.5l2.4 1.2l-0.4 1.5M342.8 564.8l-2.6 0l0.5 2.2M348.2 567.4l-1.9 -2.2l-2.5 1.2l-0.6 -1.3M352 565.7l-0.8 2.7l2.8 -0.4M358.8 564.7l0.1 -1.9l-2.1 2l0.3 1.8M365.5 568l1.6 1.4l-2 1.2l0.6 2M368.5 564.9l-2.2 1.6l-1 -2.5l1.3 -0.9M374.7 567.9l-1.2 2.2l-1.3 -1.3l1.2 -1.8M380 565.3l-0.8 1.7l-1.8 -1.2M387.3 564.9l-2.7 -0.4l2.6 -1.4l0.8 1.6M392.3 566.1l-2.6 0.4l1.4 -2.1l-1 -0.7M396.5 565.2l-0.1 -2.4l2.8 0.2l0.6 -2.1M402.2 567.1l0.9 -2.8l-1.9 -0.2l0.1 2.1M409.9 565.8l-2.5 1.9l2.2 0.7l-0.2 2M414 567.4l-2.3 -0.5l2 -1.6M421.9 565.7l-1.2 2.1l-2.3 -1.4M425.3 565.6l0.1 -1.9l-1.6 1.8M430.7 565.3l-1.4 -2.1l1.7 -0.9M438.3 567.7l1.8 -2.1l-2.8 -0.3M453 566.7l-2.3 -0.7l0.1 1.8M459.2 564.8l2.5 -0.8l-0 1.6M464.1 565.1l1.3 2.5l-2.7 0M470.3 566.7l0.2 2.4l-2.3 -0.2M482.1 566.1l-1.4 2.4l-1.9 -1.5M489.2 565l-0.5 2l-2.2 -0.4l0.5 -1.9M491.7 566.2l-0.6 2.5l2.1 -0.6M500.4 565.9l0.3 1.8l1.5 -0.7M502.8 567.8l0.6 -1.8l1.8 0.1l0.5 1.2M511.2 567.4l2 0.4l0.1 1.8M516.4 566.6l-0.2 -1.9l-1.2 1.9M522.2 565.3l0.8 1.7l-2.1 -0.8l0.2 -2M528.4 565.2l3.1 0.3l-1.3 -2.7l0.8 -1.3M533.7 566.1l2.5 -1l-0.5 -1.8M537.8 566.4l-2.3 0.6l0.4 -2.5M545.1 567.7l-2.4 1.8l-1 -1.7M550.7 566.2l-2.8 -0.4l1 -1.8l-1.7 -0.5M555.2 567.4l-1.9 2l1.7 1.7M567.5 567.1l-2.1 -1.6l2.4 -1.3M572.4 567.7l0.5 2.3l2.7 -0.4M578.8 565.3l1.7 1.9l1.4 -2.2M582.9 566.6l-1 -1.8l1.8 -0.6M588.1 567.6l1.5 1.4l-0.4 -2.9l2 0.1M595.4 568l2 -2.1l-1 -1.3M599.9 567.2l1.4 1.4l0.8 -1.5M605.6 565.7l2.4 -1.6l0.4 1.6l-1.7 0.3M610.8 564.9l2.5 -1.4l-1 -2.5l-1.6 -0.2M616.1 564.8l1.9 0.9l1.6 -2.1M627.2 566l0.8 -1.8l-2.2 1l-0.2 1.6M632 567.9l-0.3 2l-1.6 -0.6M638.4 567.5l-1.8 -1.4l2.1 -1.2M643.4 567.3l-0.7 -1.9l-2.5 1.1M651.3 566.2l-2.6 -1.8l-1.1 1.4M654.9 567.2l2.5 -0.8l-2.1 -0.9M242.9 571.2l-1.1 1.6l1.8 -0.1l-0.3 1.9M249.6 570.7l-1.9 0.1l0.1 -2.5M253.6 570.1l-1.5 1.6l1.5 1.7M262.4 571l-3.1 0.7l-0.3 -2M265.8 570.1l-3 1l-1.2 -1.9l-1.5 1M272.1 572l-0.9 1.6l-0.4 -2.4l-1.7 -0.6M279 571.6l2.4 0.1l0.3 2.9M282.5 570.3l-3.1 0.4l0.3 2.5l-1.6 1.5M287.1 570.5l0 -2.8l2.8 -0.5M295.6 570.6l0.3 2l1.6 -0.5M301.1 572.5l-0.2 2.3l-1.4 -2.1l-1.7 1.2M304.3 572.4l-2.8 0.1l1.3 1.1M310.1 571.8l0.6 -2.5l-2.7 0.7M316.8 572.2l-1.1 2.9l2.6 -1.4M322.1 572.6l-1.1 -2.9l-2 0.4l-0.3 -1.7M329.6 572.7l-1.8 -1.6l1.3 -2.4l1.3 0.9M332.2 572l-2.5 1.4l-0.2 -2l1.7 -0M351.5 572.5l2.3 0.4l-0.1 -2M363.1 571.9l2.6 -0.6l-0.9 -1.9M366.8 570.8l-1.3 1.4l-0.6 -2.7M374.1 570.7l1.1 -2.1l2.4 1.2M377.6 572.3l-1.4 -2.4l-0.6 1.9l1.5 0.2M382.6 572.2l-0.9 2.1l2.6 1.1M390.6 570l1 -2.7l-1.9 0.5l-0.1 1.7M395.1 571.5l-0.4 2l1.7 -1.1l-0.3 -1.4M400.9 570.3l2.4 1.6l-1.9 1.9M405.9 571.8l2.4 -0.9l-2.1 -1.8l0.5 -1.5M413.1 570.3l-1.9 -0.3l-0.1 2.8l2 0M417.7 570.5l1.3 -1.8l-1.7 -1.3l0.8 -1.1M424.5 572.6l-0.7 2.1l1.5 -0.8l1.5 1.3M430.3 570l-0.3 -2.3l2.5 -0.3M435.8 571.3l1.3 1.7l1.5 -0.7M440.5 571.2l2.7 -1.7l-2.3 -1.5l-0.5 1.2M446.4 569.9l1.1 2.5l-2.1 0l-0.2 1.4M450.4 571.5l-0.7 -2.6l1.7 0.5l-0.9 1.7M457.5 571.5l-2.7 1.6l1.2 1.2M462.4 570.6l-1 -2.1l-0.7 1.8M469.6 570.3l2.1 0.5l-1.5 -2.1M473.4 571.3l-1.7 -2.4l-0.1 1.7M479.1 571.7l1.3 1.5l0.9 -2.3l1.7 1M483.9 571.3l1.6 1.6l2.3 -1.5l1.4 1M490.6 570.7l1.7 2.7l1.3 -1.7l1.4 0.8M495.7 571.4l2.1 -0.2l-1.2 -1.5l-1.2 0.6M501.6 572l-2.2 -0.4l1.9 -1.2l-0.9 -0.9M507.2 571.9l-1.7 2.1l1.9 1.4M512.4 569.5l-2.1 2l-0.3 -2.7M516.9 570.9l-2.1 1.5l-0.6 -2.5M530.1 572l3 -0.2l-1.5 -2.1M534.3 571.2l0.2 3.1l2.8 0.5M539.9 572.7l-1.6 2.4l-1.4 -2.5M546.3 570.1l-2.2 1.2l0.7 2l-1.5 0.4M551 570.9l2.2 1l-1.3 1M558.8 571.5l-1.1 -2.6l1.6 0.6l1.5 -0.9M561.8 570.1l1.3 1.4l0.1 -2.1M569.5 569.8l1.8 -0.3l0.6 2M574.3 571.2l0.9 -2.2l-2.8 0.7l-0.3 1.7M580.4 570.6l2.5 1.7l-0.4 -2.1M585.6 569.8l2.6 -0.3l-1.2 -1.4l-1 1M592.3 571.5l-0.5 -2.5l-1 1.6l1.5 0.9M595.4 570.4l1.6 1l-2.3 0.8l0 2.1M603.2 572.8l-0.7 2.7l-1.6 -2M608.3 570.3l-2.8 -0.5l0.2 2.8M613.3 571l-2.3 -1.4l2.8 -0.7M619.3 569.8l2.7 1.1l-0.5 2.4l-1.4 0.3M630.9 570.3l2.8 -1.3l-1.8 -1.9M634.6 569.8l1.7 -2.7l2 2.1M640.1 571.4l-2.4 -0.7l1.7 -0.7M653.2 570.5l0 -3.2l2.3 1.9l1.1 -1.6M245.9 576.4l2.4 0.1l0.4 -2.6l-1.4 -0.7M251.5 577l2.2 -1.7l-2.1 -0.6l-0.3 -1.3M259.3 577.5l3.2 0.4l-1.3 1l-1.3 -1.2M265.3 577.6l1.8 1.8l-1.3 2.2M270.4 575.7l0.4 -2.4l-2.6 -0.9M273.7 575.5l-2.1 2.2l-2.1 -1.7M280.5 574.5l-2.2 1.6l2.3 1.2l0.3 -1.4M287.2 576.1l1.4 -1.8l0.4 2l1.3 0.5M292.4 575.3l1.1 1.9l1.6 -2.3l-0.8 -1.5M298.9 576.2l-0.4 -2.6l2.6 0.9M304.1 575.9l-2.6 1.2l1.7 1.8M307.9 574.4l-1.8 -2l1.4 -0.8l0.2 -1.6M312.5 574.5l-1.6 -2.7l-1.4 2.6M318 574.8l2.5 -0.6l-0 2.2l-2.1 -0.4M326.2 575.2l1.1 -1.5l0.3 2.4l1.8 -0.6M330.5 576.9l1.9 2.2l-2.7 -0.2l-0.3 1.3M336.9 576.3l1.1 -1.8l0.9 1.3l-0.9 1M341.5 576.5l-2.1 0.7l1 1.4l-1.1 1.9M346.6 575.3l1.8 1.4l-1.5 1.4l-1.3 -1.6M354.1 577.5l0.4 2.7l2.8 -0.3l0.8 1.4M358 575.1l-1.5 -1.2l-1.6 2M363 575l-2.1 -0.2l1 -1.9l1.5 -0M371 575.1l0.5 -3.1l-2.3 -0.3M376.9 576.3l-1.8 0.7l0.9 1.9l-0.7 1.3M382 574.6l0.7 2l1.3 -2.6l-1.5 -0.6M391.7 575.3l-2.4 -0l1.1 1.4l2 -0.8M398.9 577.6l2.5 -2l1.1 2.5l-1.5 1.2M404.5 574.8l-2 1.6l1.3 1.3l1.8 -0.9M410.6 575l-2.1 0.2l2 1.6l-0.9 1.8M413.9 577.6l1.3 2.4l-2 0.4l0.7 1.7M420.5 577.1l-2.7 -1l0.2 -2.3M424.8 576.6l0.5 -2l-2.7 -0.8M430.9 575.2l-2.2 -1.7l1.4 -1.7M437.1 574.5l3.1 0.8l-0.7 2.1M442.3 577.6l-2 1.2l1.6 1M448.9 576.8l-2.5 -1.2l-1.1 2.1l1.6 1.3M455 576.5l0.3 -1.8l-2.6 -0.3M461 575.3l-1.9 0.6l0.3 -2.7l1.9 -0.2M466.4 576.6l0.2 -2.2l-1.5 1.5M471 576.4l0.7 -3.1l2 0.4l-0.3 1.8M477.6 576.5l-0.5 2.4l-2.1 -0.2M480.7 575l-1.5 1.5l-1.8 -1.4l0.7 -1.5M486 576.4l-3.1 -0.5l-0.4 2.7M492.7 574.9l2.1 -0.3l-0.6 -2l1.1 -1.6M498.3 577.5l-0.2 2.8l-1.7 -2.2M503.8 577.4l1.3 2.4l2.3 -0.6M509.6 574.8l2 1.4l-2.7 1.2l-0.6 -1.4M520.3 575.7l2.1 0.1l-1 2.4M525.4 576l2.6 -0l-1.7 1.9M538.2 575.2l1.1 2.2l1.5 -2.5l-1 -0.7M544.3 575l-3.1 0.2l-0.2 -1.9M550.2 575.5l-0.7 -1.8l2.6 -0.2l0.5 -1.3M554.2 577.1l-0.2 -3.1l2.1 0.7M559.8 577.7l2 2.4l0.5 -2.1M564.9 576.1l-2.2 0.6l1 -2.1M570.7 576.6l-0.2 2.4l1.8 -1.7l1.3 1.3M578.8 575.7l2.4 0.4l0.2 1.8M583.8 576l1.7 -1.7l1.3 1.2l-1 1.3M589.7 576l2.1 -1.9l-2.8 -1.1M600.1 577.5l0.3 2.5l-2.8 -0.9l-0.4 -1.1M606.6 576.1l-0.5 2.5l-2.5 -0.8l-0.9 1.9M610.7 577.5l-1.4 -2l-0.2 1.9M616.7 575.1l-1.5 -1.1l2.5 -0.8l0.6 1.5M621.2 577.1l3 -1l1.1 1.8l1.6 -1M627.4 576.7l0.7 -2.9l2.1 0.3l0.7 1.1M633.4 576.2l-0.5 2.1l2 0.3l-0.3 2.2M637.2 575.7l-2.6 -0.9l0.8 1.8l-1.6 1.2M644.5 577.5l-2.3 1.5l0.2 -2.5l-2.1 0M650.2 574.9l-2.4 -0.5l0.8 2.7M656.8 575l2.8 -0.7l1.1 2.8M243.2 581l-2 -0l0.8 -1.7M248.6 582.1l1.9 2.2l-1.2 1.5M255.8 581.8l-0.3 2.4l-1.5 -1l-0.8 1.4M260.2 579.4l-0.7 -2.1l-2.3 0.3M265.9 582.6l-0.9 1.8l-0.9 -2.1M270.3 581.3l2.5 0l-0.3 -1.8l1.3 -0.8M277.2 581.3l-1.5 1.7l-1.6 -1.8M282.9 581.9l-2.4 -1.3l2.6 -1.4l1.2 1.8M289.6 579.7l-2 -0l1 1.3M295.6 582.3l-2.1 -1.3l1.5 -0.8l1.4 1.5M300.1 582.1l-1.1 1.9l-0.9 -2.2M305.2 580.7l2.4 1.1l-1.9 0.9l-1 -1M311.5 582.2l1.9 0.3l0.5 -2.9l1.3 0.3M316.7 581.3l-2 2.4l2.7 -0.2l0.5 2M323.3 581.6l-2.8 -0.1l0.9 -2.1l-1.2 -1.3M327 581.6l2.3 -0.9l0.1 2.4M332.1 582l-0.8 -1.8l2 0.9M339.7 580.4l2.8 0l0.5 2.9l1.3 0.3M344.7 579.3l-1.9 -0.8l-0.2 2.2l1.3 1M350.4 581.5l1 -2.7l-1.9 -1l-0.9 1.1M361.4 582l-0.5 -2.2l-1.8 0.2M366.6 580.6l-0.1 1.8l-1.2 -1.7M373.4 582.1l2.9 0.7l-2.1 1.3l0.9 1M379.7 579.7l0.3 -2.6l2.1 -0.2M384.5 581l-1.6 -1l1.4 -2.3M391 582l1 -1.7l-2.6 -0.6M394.7 581.4l-0.7 -3l1.9 0.8M401.4 582.6l2 -1.5l-1.7 -0.3M407.6 580l-2.8 -0.2l1.1 -2l1.8 0.4M413.2 581.1l0.4 -1.9l-2.5 1.3l-0.7 -1.4M418.5 582.4l-2.7 -1.4l1.8 -0.6M423.6 579.6l-2.8 -1.4l-0.2 1.6M428.8 581.7l-2.1 -0.2l0.8 -2.1M433.4 580.8l1.1 2.4l1.5 -1.1M438.8 579.7l-2.4 -0.9l0.3 2.5M444.8 579.8l-2.4 -0.7l1.5 -2.5l-1 -0.9M457.2 582.3l-1.7 -1.6l2 -1.8M463.2 582.5l2.9 0.3l-1.3 -2.6l1.9 -0.6M473.1 580.8l-1.9 -1.6l1.8 -2.1M478.8 581.1l0.2 2.5l-1.7 -0.9l0.5 -1.3M485.1 581.5l-1.7 0.8l0.1 -2l1.9 -0.1M489.7 582l1 2.2l-1.9 0.2M497.1 581l1.4 -1.4l1.8 1.3l-0.9 1.1M501.9 579.4l-2.6 -0.4l0.2 -2.1M507 582.5l-1.8 1.7l-1.4 -1.7l-1.7 1.3M520 579.9l2.4 0l-2 1.8l1 0.7M522.5 582.3l1.9 -2.6l2.4 1.4l1.1 -0.7M528.5 582.2l2.4 -1.3l-0.1 2l1.4 0.6M535.9 582.1l-2.8 1.4l-0.7 -1.7l1.1 -1.3M542.3 579.7l2.4 -0.2l0.9 2.6l1.9 -0.6M545.7 579.6l-2.2 -1.4l2.5 -0.7M552.3 581.3l2 -1l-2.5 -0.9l0.3 -1.3M558.4 582.1l1.9 2.2l0.8 -2.3l1.6 0.2M562.7 582.6l-1.8 1.9l1.7 1.1l1.7 -1M573.4 579.4l3.1 0.5l-1.6 1.1M578.9 580.4l2.4 0.4l0.7 -2.6M585.3 579.4l-1.9 0.6l1.1 2.6M597.6 581.4l-1.9 -0.6l0 2.9M602.1 582.1l-0.5 -2.4l2 0.2l-0.4 1.7M606.9 581.4l-2.2 -1.1l1.8 -1.7M613.5 581.9l1.3 2.6l-1.8 -0.9M619.4 580.2l2.2 1.8l-2.9 0.4M623.6 581.7l-0.3 2.6l-1.9 -0.2l-0.8 -1.7M629.2 581.4l2.8 -1l1.1 2.3M634.6 580l1.8 -0.9l-0.9 -2.1M641.9 580.8l-3 1.1l-1 -1.9l1.8 -0.9M648 579.8l1.6 -1.2l-1 -2.4M651.4 579.4l-1.7 -2.3l-1.5 1.5M247.4 586.3l1.8 2.1l0.4 -2.1M251.3 587.1l2.4 1.3l1.9 -2.2M258.1 585.9l1.8 0.3l0.7 -1.7M267.7 585.7l1.6 -1l-1.8 -0.7l0.6 -2.1M274.6 585l1.5 1.4l0.5 -2.7l2 0.6M287.3 586.2l1.1 -2.4l-1.6 -0.8M290.1 584.5l2.2 -1.7l-1.9 -1.2M296.8 585.3l-3.1 0.5l1 2.8M303.7 584.5l-0 -2.5l-1 1.3M309.1 585.9l2.4 -1.4l-0.8 2.6M320 586.6l2.3 1.1l-0.5 -2.1M324.3 585l1.2 -2.6l-2.1 -0.4l-0.9 -1.7M331.4 586.1l2.5 0.9l-2.3 1.7M337 585l-1.7 -0.6l-0.6 2.4l-1.7 -0.3M340.7 586.9l-0.8 -2.6l-2.5 0.9l-0.1 1.9M348.1 585.1l-1.5 -1.5l0.2 2.9M353.1 585.7l-2.9 0.3l1.2 1.2M357.6 586.6l1.9 1.2l1.2 -2.1M365.9 584.3l0.7 2.9l-2 -0.6l-0.3 1.6M368.8 584.8l-1.8 -1.7l1.8 -0.5M374.2 585.1l-1.9 1.7l-1.2 -1.1l-1.4 1.2M379.8 587.2l3 -0.6l-0.1 -2.9M388 584.2l2.1 -1.2l0.9 1.4M391 586.9l1.6 2.1l0.4 -2.3l1.8 0.1M397.9 586.4l-2.7 -0l1 -2.2M403 586.2l-2.3 -0.9l-0.7 2.3M409.8 587.4l-1.1 -1.8l1.7 -1.1M416.4 584.4l2.7 0.3l-0.2 2.8l1.5 0.1M419.2 584.8l0.8 -2.7l-1.8 0.5M425.2 586.8l0 1.8l1.6 -1.2M433.3 585.2l2.5 1.5l-0.9 2.3l-1.8 -0M438.6 585.1l1.4 2.7l-2.6 -0.8l0.7 -1.4M441.5 586.3l1.2 2.3l-2.1 -0.9l0.7 -1.8M452.8 585.6l2.3 0.2l0.5 -2.4M457.9 586.9l-2.7 -1.7l2.8 -0.6M464.2 585.2l1.2 -2.7l-2.2 -0.6M472.2 586.6l1.4 2.1l-1.9 0.3l0.3 1.9M475.2 586.3l-2.7 0.5l1.8 1.3M483.5 585.2l-1.9 -2.3l2.2 -1.1M486.1 586.8l-3 1l-0.8 -2.4l2 -0.6M492.9 587l-1.6 1.3l0.9 1.8l-1.5 0.7M497.4 585.2l-1.3 -2.3l2.4 -0.3M503.4 585.6l1 2.1l-1.6 0.3M508.4 585.1l-1.8 -0.4l1.8 -0.8M516 585.7l3 -1.1l-0.3 1.6M520.5 586.2l-2.9 0.4l0.4 2.6M527.3 584.2l1.9 -1.6l1.9 2.2M533.6 585.2l2.2 1.3l-0.8 2.5M536.6 586.6l-1 1.6l2.4 -0.8M549.7 587.4l0 1.9l2.6 -1.5M553.6 585.7l0.8 -2.4l2.6 0.2M562 587.3l1.5 -1.6l-1.2 -1.7M567.5 585.1l-1.2 -2.5l-1.9 1.8M573.2 586l-2.1 -0.5l0.5 1.7M577.9 586.7l1.8 -1.2l0.3 2.3l-1 0.9M583.3 584.4l-1.6 -1.1l1.8 -1.5l-1.1 -1.3M589.7 585.9l-1.4 -2.4l2.1 -0.7l0.8 1.7M595.2 585.5l-2.5 1.5l1.2 1.7M600.3 584.7l-0.1 -1.8l2.3 1.9l-0.3 1.3M604.1 586.7l-0.6 2.2l2.3 -1.5M611.1 587.4l1.9 -0.5l-1.3 -1.3l0.6 -2M615.8 584.3l-1.3 -2.4l-1.2 2l1.9 0.6M626 585.3l-2.6 -0.5l1.1 1.4M634.7 585.1l1.8 1.3l-0.3 -2.3l1.7 -0.9M639.3 585.6l2.2 1.9l-0.4 -2.9l-1.9 -0.7M645.2 586l-0.4 2.5l2.6 0.2M648.4 585.3l-2.1 -0.6l2.1 -1.5M657.2 586l-1.8 0.5l0.2 2.1M244 591.5l3 0l-0.3 2.7M248.7 590l-2.8 -0.2l-0.1 -1.8M256.5 589.5l1.5 -1.1l0.8 1.4l-1.5 1.5M260.4 589.7l2 1l1.9 -2.3M267.5 589.6l0.8 -1.9l1 2.4M273 592.1l-1.8 -2.1l2.2 -1.8M277.7 589.3l-2.6 0.2l0.5 1.7M284.8 590.4l0.8 -2.5l-1.6 0.3l-1.2 -1.4M289.5 591.6l-0.5 1.9l-1.8 -0.7l0.2 -1.6M294.7 591.6l2.6 0.2l-1.5 1l0.4 1.3M299.3 589.2l-2.3 2.2l0.2 -3M307.2 591.3l-1.7 1l2.4 0.4M312.1 589.1l2.5 0.6l1.2 -2.6M322.6 590.9l2.2 0.3l-0.4 -2.8M329.6 591l2.3 1.1l-1.5 2.5M332.5 591.8l-1.4 2.2l2.1 -0M339.6 589.7l-1.8 -1.1l-0.4 2.1M345 590.8l-2 -2.3l-0.3 2.6M351 590.7l1.1 2.5l0.5 -1.8l2 -0.1M357.6 592.1l-1.8 -1l0.2 1.9M360.8 589.3l3 -0.9l0.2 2.3l-1.3 0.6M368.2 592.3l0 2.3l2.5 -0.7l-0.5 -1.5M372.5 589.4l-1.3 -1.3l-1.3 1.5M378.6 591.9l-1.7 -1l-0.6 1.6l1.3 0.8M384.8 590.9l-0.4 -1.9l2.7 -0.1M390.7 589.1l-1.9 -1.1l1 -1.9l1.6 0.3M396 589.4l1.5 -2.6l-2 -1.2l0.8 -0.9M399.6 589.2l2.8 -1.4l-0.8 1.8l1 0.6M405.7 591.2l1.4 -2.5l-2.8 0.9l-1.1 -1.7M413.4 589.8l-0.2 -2.1l-1.3 2M417.3 590.3l-0.6 2l-1 -1.6M422.1 591.8l-0.2 2.3l2.6 0.7M429.7 592l-2.4 1.4l0.7 1.6M433.1 589.4l-1.6 1.2l-0.8 -2.7M438.5 590.9l-2.3 1.5l-1 -2M444.6 592l-0.6 2.4l2 0.9l0.8 -1.4M451.3 589.2l2.6 -0.4l-1.3 -2.5M456.6 590l2 -1l-1 -2.3M463.9 590.3l0.1 2.8l2.4 -0.9l0.7 1.7M469.4 589.2l-2.9 0.9l0.2 -1.8M473.1 589.6l2.7 -1.2l-0.5 1.6l1.4 0.3M478.3 589.8l-2.6 1.7l2.1 0.3l1 1.9M484 590.7l-2.4 0.5l0.3 2.3l-1.6 0.6M489.5 591.2l2.3 -2.1l-1.5 -1.3l-0.8 1.2M495.9 591.2l2 -1.6l-2 -0.4l-1.1 1.4M500.6 590l1.3 -1.6l-2.3 -1.5M505.6 590.6l1.9 0l-0.9 2.4l1.7 1.3M517.5 590.6l-3 0.5l1.6 1.7M523.8 592l2 2.2l0.8 -2.6M529.5 590.9l2.5 0.8l-0.2 -2.4l1.9 -0M535.8 591.5l-2.4 -0.1l0.5 2.9l1.3 -0.5M540.7 591.5l-2.1 -0.9l-1.2 1.7M547.5 592.4l1.4 1.3l0 -2M551.4 591.3l0.6 -2.4l-1.6 0.2l-0.7 -1.8M558.4 590.7l1.6 -1l0.3 2.4M563.4 592.2l1 1.8l1.1 -2M567.8 590l-0.9 2.1l-2 -0.6l-0.4 -1.4M574.3 591.1l-1.2 1.6l2.4 0.2M580.5 589.2l-1.6 1.2l1.4 1.6M587.1 591.8l1.6 2.4l-1.6 1.6l0.4 1.7M597.8 590.8l-1.4 1.4l1.3 1.5l1.2 -0.7M604 591.6l-2.4 -0.2l0.7 -1.7l1.8 0.4M606.4 590.3l-1 -3l-0.8 1.6M615.1 589.3l0.7 2.6l1.6 -0.6l-0.6 -1.2M618.4 589.1l2.9 0.2l-1.8 -1.6l-1.4 1.6M623.9 591.4l-1.5 1.3l1.3 2.6l1.3 -0.7M630.8 592.1l2.5 -1.4l0.4 2.8M635.3 589.7l-1 1.6l-0.7 -2.1M641.3 591.3l1.1 2.7l2.1 -0.6l1.5 1.3M648.3 591.5l0.4 2.2l1.6 -0M654.3 589.2l-1.3 1.3l1.5 0.5M245.3 596.1l-2.7 0.9l0.7 2.3M250.8 596.2l-0.8 2.5l-1.2 -1.6M257.8 595.6l2.5 0.6l-0.6 -2.6M262.9 596.2l0.6 -2.4l-2.1 -0.2M270.5 594.3l-0.5 1.9l-2.1 -1.5M273.7 594.1l1.7 1.5l1.1 -2l-1.2 -1.8M279.4 597l2 1.7l1.1 -1.2M286.6 596.7l0.3 -3l1.6 1.3l1.7 -0.4M298.6 594.3l2.2 -0.6l-0.8 -1.8l1.4 -0.9M301.6 594.6l2.2 -0.3l-1.1 1.7M313.7 596.8l1.9 1.6l1.5 -1.4M320.1 596.1l-1.4 1.8l1.6 -0.1l0.5 2M325.3 597l-2.7 1.2l1.4 1l1.3 -0.5M335.4 595.2l2.2 -0.1l-1.3 1.8M342.8 596.3l-0.8 -3l-1.8 0.4M347.6 595.5l-1.9 0.5l0.9 -1.5l-0.6 -1.2M353.8 596.2l-1.8 0.3l0.2 -2.1M357.3 595.3l-2.5 -1.1l-0.1 1.9M364.7 596.9l-2.1 1.8l-1.6 -1.3l-1.1 1.4M374.4 595.2l1.3 -1.3l1.7 2.1l-0.4 1.2M382.6 596.7l-0 -2.4l-2.5 -0.2l-0.4 -1.5M386.4 596.2l2.8 0.7l-0.9 -2.9M392.4 595.6l1.5 1.3l1.6 -2l-0.3 -1.4M397.7 595.9l1.2 2.3l-2.4 -0l0.2 1.8M402.2 594.2l2 -1.4l0.9 2.1l-1.3 1.3M407.7 596.4l-0.7 -3l-2.3 1l-0 1.9M414.8 595.8l-0.4 2.6l-0.8 -1.4M421.1 594.4l2.7 1.3l-1.5 0.7l-1.7 -1.2M425.8 596.7l1.5 1.8l-1.9 0.4l-0.7 1.7M430.4 595.4l-1.3 -1.3l1.7 0M435.8 594.1l-1.8 -2.2l-0.5 1.6l-1.4 -0.4M443 593.9l-0.7 -1.7l-2.5 0.7l-0.7 -1.2M447.2 596.2l-3 -0.1l-0.4 1.6M454.3 596.1l-0.6 -2.6l-1 1.7M459.2 594.1l-0.7 1.9l-1.7 -1.6M465.7 594.8l-1.1 -1.5l2.8 0.7M471.2 596.6l1.9 -1.6l-1.5 -1.3M476.2 594.7l-2.4 -1.8l-1.8 2.1M482.6 595.2l2.1 -0.2l-0.7 1.6M488.5 596.7l2.4 0.2l-1.6 1.7l-1.4 -0.7M493.6 594.1l-1.9 2.4l1.1 1.4M497.5 595.7l3 0.5l-1.3 -2.4l1.2 -1.7M503.7 597.2l-3 -0.2l1.6 2.5l1.2 -1M510.4 596.6l-0.8 -2.5l2.4 1.2l-0.8 1.2M521 596.5l1.8 1.2l-2.3 0.2M526.7 595.7l-0.6 3l1.3 -1l1.2 1.5M533.4 596.7l2.4 -0.8l-0.6 1.9M537.8 594.1l2.1 -1.9l1.7 1.3M544.5 594.9l-0.6 -1.9l2.7 -1.1l0.2 -1.6M549.7 594.3l1.9 -1l-2.2 -0.6l0.7 -1.4M554.7 594.8l0.8 -1.8l1.9 1.7M559.3 596.5l0.9 1.6l-1.6 0.2M567.3 596.6l-2.6 -0.9l0.3 1.7l1.3 0.4M571.4 595.1l-1.7 -2.4l-2.1 1.4M575.8 596l-2.4 -1.9l2.1 -0.6M583.1 593.9l1.8 2.2l-2.6 1.2l-0.4 -1.9M587.5 595.3l-2.4 0.8l2.1 1.5l-0.9 1.2M594.1 594.2l-2 0.3l0.9 2.2l1.9 -0.2M599 596.1l-1.7 0.6l2.2 1.6M603.7 596.1l2.7 -0.7l-0 -2.9l1.5 -1M609.8 595.5l1.5 -1.1l-0.7 -1.5M616.9 594.7l-2.7 0.4l1.5 1M623.3 597.2l-1.7 2.1l-1.1 -2.7M627.1 596.1l2.3 1.3l0.2 -2.3l2.1 -0.6M632.7 596.2l-2.6 -0.6l-0 2.2l1.6 0M639.5 593.9l1.3 -2.3l2 0.8M643.2 595l-2.7 -1.7l2.3 -1.2M648.5 596.8l1.2 1.6l-1.9 1.2l-0.1 1.9M656.9 594l1.2 -2.6l1.2 1.1l1.2 -0.4M243.2 598.9l1.3 -2.8l-1.9 0.4l-0.1 1.3M248.8 600.5l-0.9 2.2l2.1 0.1l0.1 1.8M253.6 600.5l1.9 -1.3l-1.4 -1.8l0.5 -1.3M259.6 600.2l-1.6 -2.2l-2.1 1.9M264.9 599l0.6 1.7l1.1 -1.3l1.3 0.4M273.5 601.1l-0.6 3.1l-1.6 -0.5M283.8 601.2l-2.5 0.5l1.2 2.5l-1.5 1.1M290 600.4l1.8 1.6l-0.7 1.4M293 601l-2.3 -1l1 -1.9M301.3 601l1.2 -2.6l1.1 2.3l-1 1.1M312.1 599.4l1.2 -2l1.5 0.7l-0.6 1.1M317.5 600l1.4 -1.2l0.2 1.7M323.8 599l1.7 -2.3l0.7 2.3M326.5 600.5l1.2 2l-1.3 1l0.1 1.7M339.5 601l-2.1 -0l0.1 2.5M346.5 599.4l0.7 -1.9l-2.1 -0.4M349.3 599.1l0.4 -2.6l1.8 0.2l0.5 1.7M362.6 601.2l-0.1 -2.5l1.8 2.1M368.1 599.5l-2.5 0.5l1.6 1.3l1.2 -0.4M377.5 600.5l1.3 2.9l2.2 -1.4l-0.1 -1.4M382.4 601.5l-1.7 -0.7l1 1.6M389.5 599.9l-2.7 0.1l0.4 1.7M395 599.3l-1.3 -2.6l1.7 0.8l0.5 -1.8M399.5 600.7l2.7 -0.7l-0.5 2.9M405.2 601.1l2.3 -1.7l-0.9 -1.4l1 -1.7M412.5 601.5l-0.8 -3.1l-2.2 1.8l0.5 1.8M416.1 601.9l-1.7 0.7l1 2.5M424.4 599.3l3 0.4l-1.2 1.2l1 1.1M427.5 600.8l-0.2 2.7l2.7 0.9l0.7 -1.8M433.1 599.9l-3.1 -0.3l1.4 -1.2M438.5 600.1l-2.1 -0.1l-0.1 -2.5M444.4 599.3l1.1 -3l2.5 0.3M452.3 601.8l1.8 -1.1l-0.7 2.5l-1.3 -0.1M457.1 601.5l-2.1 -1.7l1.7 -1.7M462.6 599.8l-2.5 1.9l1.6 1.2M468.8 600.2l2.3 -1.3l1 2.8M473 599.2l-2 -2.3l1.1 -1.5M478.7 599.3l1 2.9l-2.7 -1.1M486.3 601.4l-2.3 -1.2l-0.8 2.1M490.9 600.5l-1.5 -2.6l2 -0.9l-0.4 -1.7M494.4 601.9l3.1 -0.4l-0.6 1.7M500.6 601.6l-2.3 1.9l1.4 1.5l1 -1.2M506.8 602l-2.8 -1.2l-0.6 1.5M511.4 599.8l2.2 1.2l0.2 -2.9M518.7 598.8l-2.2 -0.9l2.2 -1.3M523.5 600.8l1.9 -1.2l-2.1 -0.8M530.2 601.6l2.8 1.1l-0.4 2.5l-1.7 -0.2M535.3 600.6l-2.4 -2.1l1 -1.7M541.9 600.6l-2.2 -1.1l2.2 -1.5M544.9 599l-1.4 -1.8l-1.4 1.4l1 1M551.7 602l-1.6 1.7l-0.9 -1.4l1.2 -1.7M558.8 601.7l-2.9 1.3l0.6 -2.4M561.7 602.1l-2.1 -1.5l2.6 -1M567.7 599.7l-1.7 1.5l-0.9 -2.4M573.7 600.8l-2.4 -0.5l1.3 1.7l1.8 -0.6M580.9 599.8l-0.4 2.3l2.1 0.6M586.1 600.9l-1 2.4l-0.6 -1.8l1.3 -0.7M592.5 600.2l1 -2.4l-1.9 0.7l-0.5 1.6M595.4 600.3l1.1 -1.8l-2.6 -0.5l-0.2 -1.8M601.8 600.1l-2.2 1.6l0.3 -1.7M609.2 599l1.3 -1.7l-1.1 -1.3M612.1 601.5l-1.7 2.4l-0.8 -2.9l-1.8 0.2M619.1 599.6l-2.1 1.6l-1.5 -2.1M625.1 600.3l1.9 2.1l-1.6 1.8l-1.3 -0.7M632 599.1l2.2 -0.7l-0 1.7M635.6 599.6l-2.6 -1.5l-1 1.9M643 599.7l1.3 1.3l1.3 -1.3M647.8 599l-2.3 -1.1l0.5 2.6l-1.2 0.3M247.3 604.6l-2.9 0.3l-0.5 -2.5M253.8 604.9l1.2 2.1l-2 1.1M256.5 606.4l-1.5 1.3l2.1 0.4M263.1 605.4l-2.9 -1.1l-0 2l1.3 -0M269.2 605.6l1.5 -1.2l-2.3 -0.4l-0.2 1.4M273.2 603.7l-2.2 2.2l2.5 0.7M280.5 604.9l1.6 1.3l-1.5 2l1.3 1.6M287.2 606.4l-2.5 0.4l-0.7 -2.1l-1.3 0.6M291.9 604.3l-2.7 -0.7l-0.2 2.8M297.1 606.1l-1.6 2.4l-1.6 -0.8M302.9 605.3l-0.9 -2.7l-2.5 0.4l-0.6 -2.1M308.2 603.7l0.1 2.2l-1.8 0l-0.5 -2M314.8 605l0.4 -3l-2.7 -0.9l0.2 -1.6M321 606.4l2.6 0.4l-0.8 -1.7l0.6 -1.2M325.9 605.2l-1.9 -0.4l0.2 -2.3l1.7 -0.9M331.3 604.7l-1.8 -1.1l2 -0.4l-0.4 -1.8M336.7 604l2.8 0.1l0.3 1.8M343.1 605.6l1.8 -1.3l0.7 2.5l-1.3 0.3M347.4 606.1l-0.3 -2.2l1.5 0.8M352.5 605.3l-0.2 2.6l-2.8 -0.2M363.9 605l2.3 1.1l0.9 -1.6l1.8 0.1M368.6 604.7l2.8 1.4l0.5 -2.7l-1.6 -0.2M375.8 603.7l-2.4 1.4l-1.8 -1.8l1.3 -1M380.6 606.9l2.3 -0.6l1.3 2.4l1.4 -0M387.6 606.2l-1.5 2.7l-1.7 -1.1M393.5 603.7l1 -2.9l0.8 1.6M397 605.4l-2 1l-1.1 -1.6l1 -1.3M402.2 604.7l0.2 2.3l-1.3 -1.3M409.3 605.3l0.3 -1.9l-2.2 1.3l-1.1 -1.7M415.1 604.6l-0.9 2.2l2.6 0.3M427.7 606.9l-1.6 0.7l2.3 1.5M430.1 606.5l-0.1 2.9l-1.6 -0.6l-0.7 1.8M437.3 605.2l1.6 -2.6l-2.3 0.1l-0.9 1.7M443.2 607l-0.5 2.5l2.2 -0.5l0.2 2M449.7 605.6l1.1 1.5l0.6 -2M454.6 603.6l-2.4 -0.5l2.4 -1.6M459.9 604l-0.4 -2.2l-1.6 0.3M464.2 605.8l1 3l-1.9 -0.4l0.3 -2M476 606.9l-2.6 -1.7l-1.1 2.7M482.5 604.6l0.5 2.7l1.9 -1.3l1.4 1M487 604.8l-1.5 -2.1l2.9 -0.5M492.3 605.7l-1.3 -1.6l0.1 2.3l1.8 -0.3M500.3 603.7l2.2 0.3l-1.2 1.1l-1 -1.7M514.3 604.1l0 2.4l-2.6 -1M521.4 606.8l2.2 -0.2l-0.3 -2.3M527.9 606.9l0.1 2.1l2.9 0.4M530.9 604.3l-2.7 -0.8l1.3 -1.7M539.1 605.5l-2.3 0.5l1.3 -1.8l-1.5 -1.3M544.1 604l1.3 1.9l-2.2 1.4M550.4 604.8l1.5 2.6l2 -2.3M553.4 606.1l1.3 2.2l-2 -0.6l-0.4 1.3M561.4 605.9l-1.7 -1.5l-0.2 2.4l2 0.8M565.2 604l2 2l1.1 -1.6M570 604.1l2.7 -0.5l0.5 2.3M577.3 604.7l2.3 0l0.4 2.1l-1.3 0.3M581.9 604.1l-2 -0.4l-0.7 1.7M589.6 605.6l-2.2 -1.1l-0.6 1.6l-1.9 -0.7M592.9 606.6l2.1 -1.5l-1.9 -2M605.3 606.6l-0.3 2l2.8 -1.1M611.9 606.2l0 2.5l2.4 0.2l0.7 -1.3M616.9 605l-0.6 -2l-1.5 2.1l-2 -0.9M626.6 604.4l0.8 -2.2l2.3 1.4M632.5 604.1l2.7 -0.6l-0 2.7M638.3 606.4l-0.2 -2.4l1.8 0.3l0.6 -1.7M644.9 603.6l-1.3 -1.7l-0.9 2M648.5 605.7l0.4 -2.6l2 -0.2M656.8 606l-1.7 -0.7l0.9 1.8l1.5 0M245.7 611.4l1.4 2.4l2 -0.8l-0.5 -1.8M250.1 609.7l2.4 -1.9l-0.1 2.7l1.3 0.2M255.5 608.7l0.6 -2.7l-2.2 -0.5l-0.4 -2M261.9 608.9l-1.3 2.6l2.2 -0.2M265.4 609.3l-0.3 -2.9l2.6 1.1M277 610.1l-0.4 -2l-2 1.7M282.4 608.9l-1.9 2.1l1.8 1.7M288.8 608.9l2.1 -1.8l0.7 2.5l1.4 -0.1M292.8 611l1 -1.8l2.6 1M300.6 609.9l-2.4 1.5l-0.1 -2.2M304 609.9l2.9 -0.4l0.3 2.5M310.6 611.7l3 -0.2l-1.7 -2.3l1.6 -0.8M317.2 611.8l-2.1 -0.2l1.6 -1M320.9 608.8l2.2 0.5l-0.1 1.8l1.7 0.7M328.2 610.3l-1.3 -1.9l-1.4 1.5M339.6 611.2l0.7 3l2.9 -0.7M346 610.5l-2.5 0.8l-0 -1.7l1.2 0.2M348.8 611.4l-2 1.4l2.1 2l-1.3 0.8M356.3 610.2l1.5 -1l-0.1 2.4l1.9 0.1M362.7 611.5l-1 -1.9l2.5 0.8M365.9 609.9l-1.4 1.5l1 1.5M372.1 611.3l1.9 0.2l0.7 -2.4l1.5 0.4M378.7 608.9l-1.3 2.1l-1.8 -0.7M384 609.9l2.2 1.1l0.4 -1.6l1.3 -0.3M390.5 610.3l-1.2 2.7l2.7 1l0.7 -1.9M396.5 609.4l-0.8 -1.9l-0.5 2.1M401.2 610.6l1.8 0.7l-0.9 -2.1M406.7 611.8l-0 -2.7l2 -0.1l-0.2 -1.2M413.1 610.6l0.6 -2.6l1.9 0.1M424.6 610.1l-1.8 -0.3l1.1 1.4l1.6 -1.4M429.8 608.9l-1.9 -0.6l1.5 -1.7l-1.5 -1.2M434.3 611l-0.2 2.2l2.3 -1.2M440.9 610.1l2.2 -0.5l-0.8 1.9M444.4 609.7l0 2.7l2.1 0.2l-0.4 1.5M451.6 610.8l0.4 -2.2l-2.1 0.2M455.8 610.1l1.8 1.2l1.2 -1.2M461.8 609.1l-1.8 -0.9l-1.5 2.1M467.4 609.8l-1.8 2.5l1.5 0.8M473 610l1 -2.4l1.1 2.1l1.4 0.2M477.8 611.3l-1.1 -2.5l2.3 -0.6M485.2 609.4l-0.6 -2.1l-1.7 0.6M490.5 611.6l0.2 -2.3l2.2 1.3M495.9 608.6l2 0.2l-2.3 1.7M501.8 610.8l-0.5 2.5l-1.7 -1.7l-0.8 1.1M506.9 611.3l1 1.7l-2.4 1.4l-0.8 -1.3M513.3 609.9l2.3 -1.9l-2 -1M517.4 610.7l0.9 -2.3l-2.4 1.5l-0.7 -1.7M525 609.4l-2 2.1l0.4 -2.9M528.2 611.7l-2.3 -0.7l0.9 -2.8l-1.3 -1.8M536.3 611.3l-0.7 -1.8l-1.3 1.8l1.2 1.6M541.4 611.6l-1.1 1.8l2.1 0.1l0.1 -2M544.7 610.3l-0.7 1.9l1.7 0.9l-0.7 1.2M552.3 609.8l-2.1 2.4l-0.7 -1.5l1.4 -1.5M559.2 610.3l-1.8 -2.1l1.8 0.1l0.4 1.5M562.3 610.7l2.4 0.2l-1.7 1.7l-1.2 -0.3M567.5 610.1l1.6 0.9l-0.1 -2.9l2.1 0M575.6 609.3l2.6 -0.6l-2.5 -1.3l0.4 -1.7M581.2 611.4l1.8 -1.4l-1.9 -0.3M586.6 609.2l1.8 -0.5l-0.6 1.9M592.8 611.7l2.4 -0.6l-1.6 -1.3M597 608.5l0.8 1.9l1 -2.8l-1.8 -0.2M603.7 608.7l-1.1 2.4l-1 -2.2l-1.3 0.2M607 611.5l0.7 1.7l2.3 -1.3M614.6 608.6l2.8 -1.3l-1.4 -1.8l1.3 -1.2M620.8 609.2l2.1 -1.7l-1.8 -2l-1.1 0.6M625.5 610.6l0.8 -1.7l1.7 1.9l1.4 -1.4M630.6 611.7l2.8 1.1l-1.7 2.4M642 609.9l-1.5 -2.2l-1.2 1.2l0.5 1.7M648.1 611.4l0.8 -2l1.6 2.1M654.2 610.9l0.4 -2.2l-2.3 -0.3l-0.1 1.3M248.4 615.5l1.2 2.2l0.8 -1.7l-1 -0.6M253.7 615l-1.1 2.9l-2.2 -2l-1.4 0.9M256.8 616.2l-2.5 0.9l0.6 2.2M262.8 615l-2.8 1.6l1.7 2l-0.8 0.9M270.8 614.4l-0.7 2.4l-1.4 -1M274.2 614.9l-1.1 -1.6l-1.2 1.7l0.7 1M280.7 613.8l2.6 0.8l-1.9 2l-1.6 -0.4M284.5 616.2l-0.3 2.4l2.9 0.8M290.1 614.6l-2.8 0.4l0 -2.4l1.5 0.3M296.3 613.8l2 -1.9l1.2 2.7M304.1 614.9l1.5 1.8l1.4 -1.6l-1.7 -1.4M308.6 613.5l1.5 -1.6l2.2 1.3M313.6 616.5l1.3 2l1.9 -1.7l1.5 1M320.4 614.7l-0.3 2.8l-2.4 -0.6M324.3 616.5l2.7 0.4l0.1 -3M330.1 616.5l1.9 0.2l-1.9 -2.1M337.2 614l-0.3 2.2l-1.6 -1.5M340.4 616.1l3 0.1l-1.4 2.3M348.3 614.8l-2.6 0.2l1.9 1.5M352.9 615.8l1.9 -0.9l-0 2.3M358.2 614.4l2.7 -1.5l-1.7 -0.4l-0.8 1.7M363.2 614.5l-1.1 -3l2.5 -0.1l0.9 1.2M368.5 616.4l-0.1 -2.3l-2.2 0.1M375.1 616.6l1.9 -1l-2.9 -0.5M382.2 614l0.9 1.9l-1.8 0.6M386.8 615.3l0.4 3l-2.5 -0.1M393.6 613.6l1.2 -2.3l1.6 1.3M398 613.8l-2.2 -2l0.3 1.9l1.2 0.7M403.2 613.7l0.6 2.8l-1.7 0.2M410.2 614.1l2 -0.8l-2.3 -1.7M415.2 615l2.1 1.8l-2.4 1.3l0.1 1.4M419.3 615.8l2.5 -1.4l-2.2 -0.4l-0.5 -1.8M425.8 613.8l2.8 0.7l1 -1.9M432.7 615.3l2.1 -1.5l-0.1 2.5l-1.8 -0.1M438.5 616.4l2.3 0.3l-2 1.3M441.6 616.4l-2.1 -0.1l0.9 -2.1l-1.6 -1.1M449.3 613.9l1 -1.8l-1.8 -0.7M455.3 613.9l2.4 0.4l-1.2 1.5M460.9 615.9l-1.3 2.5l2.5 -1l-0.6 -1.4M465.1 616.4l1.5 -2l-2 -0.6l-0.4 -1.8M469.5 615.9l-2.5 -0.3l1 -2.8M477.7 616.1l2 -1.1l-0.1 1.8l-1.2 -0.3M481.9 615l-0.3 2.2l-2.9 0.2M486.2 616.5l2.1 -1.9l-1.9 -0.6l-0.8 1.8M493.9 616.4l2.8 1.1l-0 -1.8M500.2 613.7l-1.2 1.5l-2 -1.8l-1.1 1.8M504.3 616l-2 -1.7l-1.9 2.3M508.4 616.3l2.1 -1.6l-2.4 -0.1M516.4 614l0.1 2.6l-2.3 -1.4M528.4 616.6l2.1 1.5l-2 1M531.2 615.4l-2.3 0.7l0.3 1.8M537.4 614.9l-2.1 1.5l1.5 2M543.6 613.8l-1 -1.7l-1.4 2.2M548.1 616.6l2.6 -0.9l0.2 1.6l-1.4 0.3M554.4 614.9l-1.2 -1.6l-1.7 1l0.3 1.6M559.2 616.4l3.1 0.5l0.1 -1.7l-1.8 -0.8M567.2 616.6l1.9 1l0.2 -2.6M572.2 615.1l-1.6 2.7l1.7 1.5l1.7 -0.8M578.5 616.3l0.7 -2.2l1.5 0.9l1.2 -1.2M582.7 615.6l-2.1 -1.6l1.7 -1.5M586.8 616.7l1.1 -2.7l1.1 1.3M592.5 615.8l-0.1 -3l2.5 1M599.9 614.6l-1.7 2.2l1.7 2M605.2 614.2l-2.1 -1.1l0.6 2.3M611.6 616.7l-1.2 -2.2l2 -1.6M615.6 615.7l0.8 2.9l-1.6 -0l-1 1.3M623.5 613.7l1.3 2l1.5 -1.8M629 616.2l0.4 -2.6l-1.9 -0M631.7 616l-1.6 1.1l-0.3 -1.6M638.4 614.6l-2.7 0.6l0.6 2.2l1.1 -0.4M644 614.1l-2.2 1.6l1.4 1.7M648.4 613.6l-2.9 -0.2l1.4 -1.7M656.4 614.3l-2.6 -0.8l1.5 -2.4M243.9 620.5l-1.3 -1.7l-1.3 1.6M251.3 620.2l1.3 1.7l-1.7 1.6l-1 -1.1M256 618.9l1.6 -1.8l2 1.3M262.2 618.5l2.8 0.5l0.5 -1.8l-1.1 -0.8M266.8 619.1l2.4 -0.1l0.5 1.9l-1.2 1.5M273.5 621.5l-2.1 -0.8l1.3 -2.3M276.9 619.6l0.1 -2.6l2.2 1.5l0.1 1.6M281.7 618.4l1.4 -1.2l-2.6 -1.3M290.2 621.4l0.5 2.9l-1.7 -0.7M294.3 618.3l1.1 2.9l2.5 -1.2M298.8 619.5l2.2 -0.3l-1.5 -1l-1.2 0.5M307.2 619l1.5 -1l-2.2 -1.1l1 -1.7M311.8 618.3l-1.1 -2.6l1.4 -0.9l-0.7 -1.3M317.9 618.9l-1.2 2l1.6 0.3M321.4 618.4l0.9 2.3l-2.1 -0.1l-0.9 1.1M328.7 621.4l1.7 -2.3l1.5 1.1M332.4 619.6l2.9 -0.1l-1.1 -2.3l-2.1 0M339.4 620.3l0.8 -3.1l1.7 1.5M345.7 618.3l-2.3 -0.4l1 -1.3l-1.5 -0.8M351.1 620.4l2.2 2.1l1.1 -2.5M354.8 618.3l-0.7 1.7l-1 -2.1M363.1 619.8l3.2 0.2l-0.5 -2.1M366.4 619.3l1.2 -1.8l-2.5 -0.2l-0.4 1.1M372.5 619.6l-2.8 -0.5l0.2 -1.7M378.4 618.9l-1.9 1.2l1.7 0.8l1.1 -1.4M385.4 620.3l-1.7 -1l-1.7 1.6l-1.8 -0.5M390.8 621.4l-0.8 -2.9l-1.6 1.4M396.1 621l-2.4 2l-0.5 -2.4M401.5 621.5l0.8 -2.9l1.7 0.1l0.9 -1.5M407 621.3l1.2 1.7l1.4 -1M412.4 618.4l-0.4 -2.7l1.8 0.3M418.7 620.3l-0.9 2.9l-2.1 -0.8l-0.6 -2.1M422.4 621.5l2 -1.5l-1.7 -0.5l-0 -1.5M427.3 621.4l1.5 -1.8l1.6 1l0.8 -1.8M434.3 620.8l2.1 1.7l-1.3 2.5l1.8 0.6M438.4 620.4l1.5 -2.6l-1.2 -1.1M444.2 619.4l-0.1 2.8l-2.8 -0.5l0.2 -1.4M452 618.5l2.4 0.8l-1.9 1.5M458 619.3l-1.5 2l2 1.1M463.2 619.4l-2 2.2l2.2 1.4l-0 1.6M466.6 619.2l-2.4 -1.1l1.6 -0.6M474 620.9l0.4 -2.2l2.9 0.1M479.9 620.8l-2.5 -1.2l1.7 -1.9l1.9 0.5M485.5 618.2l1.9 1.6l1.3 -1.6M490.4 619.3l1 -1.9l-1.6 -0.3M496.1 620.5l-2.6 0.5l0.5 -2.5M500.3 618.5l-1.6 -1.6l2.2 -1.7l1 1.1M505.9 621.3l2.6 -0.3l-1.2 1.2l0.9 0.9M514 618.6l1.8 -1.5l-2 -1.3M516.8 620.2l-0.8 -1.7l-1.9 0.4M524.7 619.8l2.1 2.2l-2.6 1M528.6 620.8l-0.7 2.2l2.1 -0.1M536.2 619.3l1.1 -1.8l-1.5 -1.3M539.2 621l-0.1 -2.8l1.6 1l-0.5 1.2M547.5 618.6l0.3 1.9l-1.8 -1.3M550.6 620.2l0 2l1.6 -0.3l0.2 -1.7M557.5 619.9l2.4 -0.3l0.1 -2.1M563.6 620.8l-1.2 1.8l1.8 -0.3M569.8 620.5l1.7 -1.7l-1.9 -1.8M574.5 621l1.7 1l-0 -2.1l-1.3 -0.1M579 620.2l1.8 -0.4l-0.3 -1.7l1.2 -0.2M585.5 620.6l-2.3 -1.2l1.2 -1.5M591.5 618.2l1.8 1.7l-0.1 -2.6l-1.5 -0.2M597.7 619l2.6 -1.6l-1.4 -1.9l-1.1 0.6M603.4 619.1l-1.3 2.2l-1.9 -1.1l-1.5 0.8M606.8 620.6l1.2 2.4l0.7 -2.3l1.7 0.1M612.9 618.8l-1.9 -0.5l-0.2 1.6M620.5 620.8l-0.3 -3l-2.1 0.7l0.7 1.5M626 620.4l1.2 1.3l-1.7 2.4M631.8 619.2l-2.3 -0.2l0.1 -2.2l1.3 -0.4M636.9 621l2.4 0.2l-2.2 1.6l-1.7 -0.8M640.7 619.9l-0.3 3l2.7 -0.1M646.3 618.4l-2.1 -1.5l2 -0.6M652.5 620.3l2.5 1.7l-0.1 -2.3M245.6 625.8l-1.4 1.3l-1.4 -1.2M251 624.8l-2.5 -1.6l2.4 -0.7M258.7 623.3l3 0.9l-1.2 2.5l1.1 1M263.9 624.6l-0.6 2.9l2.6 -0.3l0.2 2M269 623.9l-0.5 -1.9l-1.9 2.2l-1.7 -0.5M276.2 625.7l-3 0.1l0.3 2.8M280.7 625.9l-0.7 -2.1l-1.1 1.6M285.2 626.4l-1.9 -1.7l-1.4 1.3M290.7 625.1l-0.1 1.9l-1.6 -0.6M297 623.9l2.5 1.6l-2.5 0.3l-0.5 1.8M303.8 623.4l-1.3 -1.5l2.9 -0.2M308 625.9l0.7 2.2l-2.4 -0.9l0.2 -1.6M315.7 623.2l-1.9 -0.3l0.9 2.3M319.5 624.2l-0.1 2l-1.4 -1.3M323.5 625.6l-0.8 -1.7l2.5 -1.1M330 626.3l2.4 0.2l-0.9 -1.9l1 -1.9M335.1 625.2l-2.2 1l2.3 0.6M340.9 624.5l0.1 1.9l-2.6 0.5M349.2 624.2l-1.5 -2.3l2.7 0.1l-0.4 1.8M354.7 623.6l-2.1 -1l1.1 -2.1M357.5 624.9l-0.7 -2.4l1.8 -0.7M364.1 623.7l-1.1 1.8l-0.6 -2.8M371.3 625l-3.1 -0.1l0.9 2.4M377.2 623.9l0.5 -2.3l2.8 -0.1l1.1 -1.9M382.6 625.4l0.1 -2.9l1.8 -0.3M386.2 623.8l1 -2.2l-2.5 0.6M392.9 626.3l-1.9 0.1l0.7 -2.5M396.6 626.3l0.1 2.4l2.2 -0.3l0.8 0.9M404.4 623.2l-0.8 -2.2l2 0.1M409.2 624.9l-1.9 1.7l-0.1 -1.8l1.7 -0.6M415.8 626.2l-1.4 1.7l1.3 1.1l-0.2 1.5M420.9 623.5l2.2 0.2l-1.6 -2l-1 1.1M425.1 625.1l3.1 0.6l-1.2 -1.8M438.4 624.6l-0.3 -2.5l1.9 -0.2M441.4 623.6l0.8 -2.8l-2.9 -0.1l-0.2 -2.2M447.1 624.7l-0.1 -2.2l1.7 0.9M459.4 624.7l2.8 1.5l-1.5 2.5l-1.8 -1.1M464.1 623.2l1.4 -1.8l-2.5 -0.6M471.2 623.7l1.9 0.3l0.5 -2.6l-1.9 -0.3M475.4 623.8l-2.2 -0.6l-0.5 1.6l-1.4 0.4M483 624.3l-1.6 -1.6l1.3 -1.1l1.5 0.4M486.4 625.8l-1.7 -1.2l0.3 2.9l-1.7 0.6M492.8 625.7l-2.8 0.1l1.3 -2.1M499.2 624.3l2.1 -1l-2.3 -1.4l0.8 -1.6M504.4 626l-2.6 1l0.8 -1.8M515.2 625.5l2.3 -0.8l0.9 1.7l-1.2 0.7M520.9 625.3l1.2 1.4l-2.5 1M525.3 623.4l1.9 1.6l-2 1.7M532.8 625.3l1.6 -1l-1.9 -0.6M538.1 625.1l-0.2 -2.9l3 -0.2M544.6 623.8l2.8 1.6l-2.6 0.4l-0.2 -2.1M550.4 623.3l-0 -3l2 0.5l0.2 1.5M554.2 623.5l-2 0.9l-0.4 -1.9l-1.7 -0.6M561 625.8l0.9 -2.3l-2.5 -1.2M566.7 625.5l-1.4 -2.5l2.3 0.5l0 -1.2M571.8 623.4l-3 0.9l-1 -2.2M576.8 623.3l3 0.1l-0.7 -2.4l0.9 -1.1M581.8 625l1.1 -1.4l-1.3 -1.7l-1.7 -0M600.9 623.5l1.5 2.3l1.3 -1.4l-1.7 -1M603.7 624.8l0.9 -2.9l2.7 1.2M610.4 625.5l1.3 -1.6l-2.9 -0.6l-0.6 -1.2M616.4 624.9l-0.3 1.9l-1.7 -2.2M622 623.3l1.9 -1.3l-1.6 -0.8l0.3 -1.3M627.4 626.3l2.1 -2.2l2.3 1.2l-0.5 1.8M634.7 623.8l2.1 -1l1 2.3l1.5 -0.8M638.3 623.1l-0.1 -2.8l-2.3 0.5l0.2 1.7M644.1 624.7l-0.7 2.4l2.3 1.4M651.5 624.1l1.9 -0.8l-2.1 -1.8l1.1 -0.9M657.1 625.2l2.2 0.9l-0.6 -2.5M243.3 628.9l1.9 -0.2l0.6 2.1M254.5 630.6l3.1 -0.5l-0.4 2.2M259.7 629.9l1.2 2.8l-1.7 -0.5M266.3 630.2l1.5 -2l-2.7 0.6M270.4 629.7l1.2 1.9l2.4 -1M277.6 629.2l-0.2 -3.1l1.6 -0.4l0.9 1.3M284 629.7l0.1 2.6l-2.5 0.4l-0.4 -1.7M290.5 630.8l-0.8 -2.6l2.6 -0.3l0.8 -1.9M296 630.1l1.4 2.2l-2.3 -0.4l-0.6 1.3M299.9 629.8l-2.3 2l2.6 -0.1M304.1 630.8l-1.6 -1.9l-0.7 1.7M312.5 630.1l1 -2.5l1.4 2.6l-1.2 0.4M317.3 629.9l-0.5 -1.8l-1.1 1.8M322.5 628.6l0.8 -1.9l-2.4 -1l0.3 -1.3M329.3 629.6l2.8 -0.6l-2.4 -1.7M333.7 630l1.5 -2.3l1.4 1.5M339.4 629.9l-1.7 -0.7l0 1.8M350.1 629.6l-0 3l-2.7 0.5l0.5 1.4M357.5 631.2l1.3 -2.6l-2 0.5M360.3 629.3l-1.1 -1.7l-0.7 1.6M365.6 630.5l0.6 3l2.7 -1M371.3 630.1l2 -1l-0.1 2.9l-1.2 0.7M377.2 629.9l2.1 0.5l-0.2 2.7l2.1 -0.2M384.7 630.4l-0.8 2.6l2.9 -0.2l0.9 1.1M390.5 628.6l2 0.4l-1.4 2.4M395.8 630.1l-1.4 1.3l-1.7 -2.3l1.4 -1.2M400 628.6l1.2 1.4l-0.1 -1.9l-2.1 0.2M407.7 630.4l-2.2 -1.5l-1.6 1.7l1.1 0.8M410.5 630.2l-1.7 1.3l-1.2 -1.1M417.5 630.4l2.6 -0l-1.1 -2.6M422.9 628.5l1.5 1.3l2 -1.9l1.9 0.3M428.6 629.8l1.1 -2.4l1.3 1l1.3 -1.3M435.3 631.1l-2.4 -0.8l1.7 -2.2l-1.8 -1.1M441.1 630.7l1.4 2.7l-2 0.6M451.5 630.8l2.4 0.3l0.5 -2.6l1.9 -0.1M458.2 630.3l2 2.5l-2.5 0.9l-1.4 -1.2M462.8 630.5l1.1 2.8l-3 -0.5l0.4 -1.7M467.3 631.2l-1.7 -2.3l-1.7 0.6l0.5 2.1M472.6 628.1l1 1.7l-2.2 -0.2l0.5 -1.7M478.9 630l-3 -1l-0.3 1.7M486.1 630.7l-0.5 -1.9l2 0.6l1 -1.5M490.1 631.2l2.8 -0.9l-0.4 -2.2M497.3 630.7l-2.1 -0.2l0.9 2.4l1 -0.6M501.4 628.9l-0.1 2.6l-2.2 -1.7l-1.6 0.7M507.5 629.7l2 0.2l0.6 -2.9M514.1 630l-2.1 -0.7l-0.4 2l-1.7 -0.5M518.8 628.2l-2 2.4l-1.6 -2.4M523.2 628.1l2.2 -1.6l0.5 2.2l-1.9 0.7M528.7 628.4l2.9 -0.4l-1.1 -1.2M536 629l0.2 -2l1.6 1.7M540.3 630.2l1.5 -1.6l1.7 1.3l0.8 -1M547 630.2l1.9 -0.8l1.3 2.4M552.5 629l-2 -1.1l-1 1.9l0.9 2M556.7 630.5l-2.5 -0.7l1.9 -1.3M563.2 628.4l-1 2.7l2.2 0.8l0.2 1.5M567.9 630.2l1.9 -0l-0.1 -3l2 0.2M574.4 629.5l-2.5 1.3l-0.8 -1.4l1.6 -1.2M580 630l-2.7 -1.6l1.6 -2.5l1.8 0.7M584.8 629.1l-2.4 -0.1l-0.7 2.9M591.8 628l-2.2 0.6l1.7 2.4M597.3 629.6l0.6 2.9l1.8 -0.3M607.9 630.6l-0.6 -1.9l-2.3 0.2l-0.3 2.1M619.2 631.2l-1.9 1.1l2.2 0.4l0.6 1.9M623.3 628.2l-1.3 -2.8l2.8 0.9l0 1.4M631.3 629.7l1 -2.6l-2.5 -0.9M634.5 629.5l-0.2 -2.8l1.6 1.6l-0.7 1.2M642.4 631.1l-0.9 -1.7l-1.4 2.1M646.4 630.6l-0.8 -2.2l-1.7 0.1M248.4 633.2l2.1 2.4l-2.1 0.5l-0.9 -0.9M252.4 634.3l0.7 -2.4l2.3 0.9l-1 1.5M258.2 634.4l2.4 -1.4l0.1 1.9M263.3 636.2l-1.1 2.8l-2.1 -2M269.8 634.1l-2.1 -2l-1.1 1.3l0.7 1M276.2 635l-0 2.6l-1.6 -1.2M281.6 635.4l-2.4 1.9l2.8 0.3M286.9 633.3l0.9 -1.7l0.5 2.8M291.9 636.1l2 -1.9l2 1.5M298.4 633.7l-1.2 2l2.1 0.8l0.5 2.1M302.2 634.7l2.3 -1.9l-1.7 -0.3M307.5 633.8l0.8 2.8l-1.4 -0.8l-0.9 1.7M314 633l1.2 2.6l0.8 -2.5l1.9 0.3M321.2 633.1l-2 1.1l2 0.3l0.4 -1.2M324.4 633.7l0.8 -2.5l1.4 1.9l1.8 -0.3M329.6 635.7l-1.5 1.8l0.1 -2.4M336.6 634.4l-1.1 1.7l-1.7 -2.1M348.8 635.1l-1.4 -1.4l1.8 -0.5M353.1 633.6l1.8 0.4l-1.1 -1.7M359.2 636.1l2.1 1.6l1.2 -1.2M365.3 634.2l2.1 2.3l0.7 -2.2M369.1 634.4l-0.5 -2.4l2 0.1l0.9 -1.3M375.2 633.9l0.6 -2.3l-2.6 -0.5M382.1 633.1l-1.3 -2.7l1.7 -0.7M385.9 633.4l-0.2 -1.8l-2.3 -0.2l0.3 -1.4M392.3 636.2l-1.8 -1.2l-0.5 2.9M398.3 634.7l-1.4 2.6l1.9 -0.5M402 635.4l1.3 1.6l-1.5 0.8l-0.1 1.2M409.6 633.6l-0.2 3.1l-1.7 -1.3l-1.3 0.4M415 635.2l1.9 1.3l-2.4 0.2M422 636l2 2l-0.9 1.4l-1.6 -0.8M426.2 633.4l0.3 2.3l1.9 -1.1M431.9 635.1l-0.8 -2.7l2.8 0.8M442.9 634.6l1.7 0.8l-1.9 2.3l-1.6 -0.7M447 634.8l-1.2 1.7l-1.1 -2.6l-1.5 0.1M458.8 633.6l0.2 2.8l-2.8 0.6M466.3 634.5l-1.9 2l1.2 1.3M475.9 635.1l2.4 -0.7l-0.9 -1.5M482.8 635.6l1.5 1.6l0.5 -2l-1.1 -0.7M486.3 635.4l1.3 -1.5l0.6 1.6M493.3 634.9l0.7 -1.8l1.4 1.5l2 -0.4M499.1 634.5l0.7 2l-2.3 -1.4l-0.7 1.7M502.8 634.9l0.9 3.1l-2.6 -0.7l-0.4 1.4M510.2 633.4l-2.4 -1l1.7 -1.9M516.8 635.7l2.4 0.1l-1.8 1.7l-2.1 -0.4M521.2 634.6l-1.7 1.4l-0.2 -2.4M525.2 633.4l0.3 1.9l1.8 -0.5M532.8 635l2.4 0.6l-0.8 -2M537.2 635.3l-2.7 1.7l1.6 0.3l0.3 -1.9M544.3 635.5l0.9 3l-2.7 -0.8M548.5 636l2.5 -0.7l0.3 2.7M553.3 633.1l-1 -2.3l2 -0.1M560.1 633.7l2.7 0.7l-0.5 1.8M567.2 634.6l1.5 -1.6l-2 -0l-0 -2M570 635.2l-2.9 -0.7l0.6 -2M578.2 634.6l2.4 -0.8l-0.5 -2.6M582.3 636.1l-2.8 1.4l-0.8 -1.9l-2.2 -0.4M588.8 634.5l0.7 -1.7l2.4 1.4l1.4 -0.8M592.4 636.1l0.5 3l-2.4 -1.4M598.2 633.9l1.8 1.2l-1.8 1.5l0.9 1.7M609.3 633.3l0.2 2.4l-2.1 -1.1l0.3 -1.4M615.8 633.3l-2.9 0.5l-0.1 2.6l-1.5 -0.3M620.8 633.3l2.6 0l-0.5 2.7M627.2 635.4l3.1 0.1l-1.6 -1.4l-1.4 1.5M634.6 633.6l1.6 -2.5l-2.6 -0l-0.8 -1.2M638.6 633.1l2.1 -0.2l0.1 -2.3M644.3 634.1l-0.8 -3l-2.5 1.6M648.9 635.7l2.1 1.1l-1.9 1.3l1.1 1.7M656.5 634.2l1.5 2.2l1.8 -0.7M244 639.3l-1.4 -2.1l1.8 -0.5M250.2 640.2l1.7 -1.3l0.1 1.7l-1.7 -0.3M255.3 641l1.3 -1.9l-1.3 -1.3M262.2 639.3l0.2 -2.3l2.1 -0.1M267 640.8l-0.2 -1.9l-1.7 1.3l1.1 1M271.2 638.8l2 -2.1l-2.1 -0.6M277 638.4l0.6 1.7l1.3 -1.3M282 638.2l0.4 -3.1l2.2 0.4M288.9 638.2l-0.1 2l2.3 -0.7l0.7 1.5M295.3 639.2l-2.2 0.5l1.7 -2.4M300.5 638l2.6 1.5l-1.8 0.3l-0.9 -1.3M306.3 638.7l1.8 1.1l1.2 -2.3l-0.8 -1.2M309.6 640.4l-2.5 1.3l0.4 1.8l1.8 -0.8M323.7 640.7l2 -0.5l-0.5 1.6M329.3 640.1l1.1 2.3l2.8 -1M332.5 638.9l-2.4 0.7l0.5 -2.2M340.8 637.9l0.9 -1.9l-1.6 -0.7M344.5 640.3l1.4 1.6l0.1 -2.3l-1.7 0.1M351.8 640.5l-2.1 -1.2l0.7 -2.3l-1.3 -1.2M356.2 640.6l1.8 -1.1l-1.6 -1.5M363.2 639.7l-0.2 1.9l1.7 0.1l0.8 1.5M366 638.3l-1.7 -1.9l-1.3 1.2M371.9 640.3l1.5 2l-2.7 1M377.7 638.4l2.7 0.3l-1.4 1.1M384.1 639.5l-2.1 -0.4l0.5 -2.9M388 640.4l1.4 -2.1l2.2 1.5M394 640.2l-0.5 -3l1.5 -0.7l-0.4 -1.4M401.1 640.2l-2.3 2l1.6 1M406.6 640.1l-0.9 -1.7l-2.5 0.9M413.2 639.1l-2.3 -1.3l0.6 2.4M417.2 638.4l0.2 2.4l1.9 -0.5M422 640.6l1.8 0.7l-2.1 0.7l0.8 1.5M427.7 640.1l1.7 -1.6l-2.6 -0.3l-0.5 -2M435.2 638.1l-1.9 1.2l2.3 1.4M439.4 640l0.2 -2l1.5 1.5M445.4 638.5l-0.3 3.2l-1.5 -0.7l-1.2 1.7M452.6 640.9l-0.1 -2.5l2.1 -0.4M456 640.6l-2.5 0.3l0.2 -2.5l-1.5 -0.9M461.7 638.9l-2.5 0.1l1.1 -1.3M467.1 638.3l-1.5 1.4l1.4 1l2 -0.6M473.9 640.1l0.5 -2.3l2.6 1l-0.6 1.9M479.9 638.7l0.3 1.9l-2.1 -1.4M483.5 640.3l-1.8 -0.2l1.2 1.3M490.3 639.1l-1.2 2l2.8 0.5l0.5 -1.4M496.8 640l-0.6 3.1l1.9 0.2M508.5 640.9l2 0.7l0.4 -2.2M512.9 637.9l1.9 -1.5l-0.6 2.9l1.8 0.6M517.6 638.4l-2.4 1.9l1.6 2.3M524.8 639.2l2.4 -1.4l-1.1 -1.2l-1.5 0.6M528.8 640.3l2.7 -0.1l0 -2.6M536.4 639.5l-1.2 -2.1l1.9 -1l1.8 1.2M541.2 640.9l-2.6 0.3l0.7 -1.8M544.9 639.2l-2.1 0.4l-1 -2.1M552.5 639.2l0.8 2.2l1.9 -0.8l0.3 -1.4M558.6 640.8l-0.9 2.2l-2.1 -1.5M563.1 638.8l-2 0.1l0.7 -1.9l1.9 0.6M569.6 640.7l-2 -0.9l0.7 1.6l1.9 0.2M580.8 638.8l-0.6 1.7l-1.7 -1M584.9 639.2l-2 -1.8l0.9 -1.5l1.9 1M591.2 640.5l-0.6 -2.5l-1.9 1.9M596.9 638.7l-1.6 -1l1.4 -1.2l0.8 0.9M601.9 639.5l0.1 -2.3l1.8 -0.2M609 639.2l2.5 0.9l0.1 -2.3M612.9 639.2l-2.6 0.4l-0 -2.5l1.4 0.2M624 639.3l-0.9 1.9l-1.4 -1.5l-1 1.1M629 638.6l-2.1 1l-0.5 -2l-1.3 -0.4M637.1 639.8l1.7 1.3l1.8 -2.2l-1.9 -1M641.3 639.7l1.5 1.8l-1.9 0.4l-0.2 1.6M647.2 637.9l-2.2 -0.5l1.3 -2l1.2 0.9M651.9 638.3l-2.3 0.4l0.7 2.1l1.5 -0.3M247.7 643.6l1.4 -2.6l-1.6 -0.6l-1 1.4M251.5 645.9l0.3 2.1l1.3 -1.6M257 645.9l-0.9 1.8l2.4 1.2M264.1 643.4l2.9 -0.7l-0.4 2.3M267.9 644.6l-3.1 -0.5l1.3 1.4M273.6 644.2l-1.7 -1.4l2.3 -1.6l1.9 0.9M279.9 644.4l-0.3 -2.2l-2.5 0.7M286.2 643.3l0.9 -2.8l-2.3 -1.6l0.5 -1.3M292 643.7l1 1.8l1.2 -2.1l1.9 0.3M296.7 643.9l-1.3 -1.4l2.1 -0.7l1.5 1.4M303 642.8l-1.4 1.6l1.2 1.7l1.2 0M309.4 643.3l1.9 -0.6l-1.2 1.9M313.9 644.6l-0.8 -2.5l-1 2.8M318.3 644.3l-2.4 -0.7l1.5 -2.1M325.2 644.1l-1.1 -2l2.3 -1.5M330.9 643.2l0.1 2.7l2.3 0.5l1 -1M343 645.2l-1.2 2.1l2.4 1.2l0.4 2.1M346.7 644.9l-1 -1.8l-0.5 1.6l-1.2 -0.4M351.8 644.3l2.6 0.5l0.7 -1.5l-1.9 -0.4M359.8 645.1l1 -2l2.1 0.6M362.9 645.1l-2 -0.1l1.6 2M371.2 644.7l-1.9 1.3l1.1 2.7l1.2 0.1M374.1 644.6l-1.1 2.4l-2.4 -0.9M381 642.8l-2.4 -1.2l0.4 2.3l1.4 0.5M386.4 645.4l-1.8 1.6l-2.5 -1.6M394 644.1l0.9 2.9l2.1 -1.2M398.6 645.6l2.7 1.5l0.6 -2.6M404 645.3l1.2 2.2l-1.9 0.2M410.8 643.3l0.4 1.9l-2.5 -0.8l-0.4 -1.8M415.5 645.5l1.3 2.3l-1.4 1M421.8 643.8l-1.9 0.7l1.7 0.7l-0.7 1.3M427.2 643.9l0.3 -2.1l-2.2 0.9M431.2 645l-0.8 -1.8l-1.8 1.2l-1.7 -0.7M435.8 644l1.3 1.9l-1.7 0.3M441.3 644l1.6 -2l1.3 1.3l-1.3 1.3M447 642.8l0.9 2.4l-2.7 0.9M453.8 645.1l1.6 1.6l0.8 -1.7l1.5 -0.3M460.3 642.8l-2.1 0.9l1.6 0.6l-0.7 1.9M472.4 644.5l-0.8 -2.2l-2 0.7l-0.7 -1.5M475.3 645.4l-2.3 -0l0.4 2.1l-1.3 0.6M483.1 644l-1.4 1.8l1.2 1.2M486.3 645.6l-0 2l-2.1 -1.1M492.6 644l-1.5 -1.2l-1 2.5l-1.8 -1M497.8 644.4l-2.9 -0.3l0.7 2M504.4 644.5l2.4 1.3l0.3 -1.7l1.2 -0.4M509.7 642.6l-0.7 2.3l2.3 -1.1M516.6 643.7l-1.1 2l-2.4 -1.1M522.7 643.2l-1.6 -1.9l2 -2.2l1.2 1.1M526.4 643.5l2.3 0.2l-1.5 1.3l0.1 1.6M531.2 642.7l1.7 -1.8l-1.4 -1.3M539 645.2l0.5 -1.9l-2.4 0.3l-0.9 -1.7M544.5 642.6l0.8 2.2l1.7 -1.8M549.6 642.8l1.3 -2.8l-2.7 0.4l-0.6 1.1M555.9 643.3l0.6 -1.8l2 0.3l0.2 1.6M561.4 645.6l1.2 -2.6l0.9 2.8l-1 1.5M566.6 644.4l0.2 -3.2l1.9 -0.4M570.3 643.1l1.1 2l-2.3 1.8l-1.2 -0.8M575.5 644.6l-0.4 -1.8l1.9 1.2M582.3 642.7l-2 1.7l1.6 0.7M587.3 643.2l-1.9 0.5l-0.6 -1.7M594.2 643.8l3 0.9l-1.4 1.1l0.2 1.2M599.6 643.7l0.5 -3l2 -0.1M606.8 644.7l-2.7 0.7l0.1 2.6l1.9 0.6M612.1 643.3l2 2.3l-2.1 -0.4l-0 -2.2M615.9 644l-0.6 -2.9l-1.8 1.4M622 644.1l1.4 1.2l1.2 -1.5l1.4 0.6M627.1 644.1l-1.3 2.2l2.7 -0.4M632.3 643.6l1.8 -0.7l-0.9 2M639.2 643.8l-0 2.1l-2.2 -0.3l0.1 -1.3M645 642.6l0.9 -1.9l-2.2 -0.7l0.1 -1.4M650 643l-0.2 2.5l2.8 0.5l0.2 -1.5M656 642.6l0.6 1.8l-2 -1.2M244.6 648.5l-1.4 2.5l-1.7 -1.5M250.7 649.9l-0.9 2.1l1.6 -0.6l-0.5 -1.8M256.2 647.8l-0.9 -2.8l-2.5 1M260.3 650.3l-1.2 1.6l2.2 -0.5l0.3 1.6M265.9 648.5l0.3 -2.1l-2.3 1.4M278.5 650.2l1.6 0.9l-1.8 0.6M284 647.7l-1.3 2.9l-1.4 -2.3l1.9 -1M289.7 649.1l1.4 -2.2l1.3 1.9M293.4 649.2l1.8 -0.1l-1 2.8M298.9 649.2l1.4 -1.1l0.3 1.9M305.1 649.7l1.4 -1.8l1.2 2M312.3 648.7l1.7 -1.5l-2 0.1l0.2 2M317.2 647.9l-2.1 -2.3l-1.2 2.5M322.9 647.7l2.6 1l-1.5 1.8M327.2 650.7l-2.5 -0.3l-1 2.8M335.2 647.9l0.3 -2.5l1.4 1.1M340.1 648l2.6 -0.9l-0.8 -1.5l-1.5 1.2M345.4 648.7l-2.2 -0.1l-0.2 -2.1M349.5 647.6l2.7 -1.6l-1 -1.5M360.8 648.4l1.5 -1.2l1.3 1.1l-0.9 0.9M367.3 649l-1.6 -2l2.2 -1.3l-0.3 -1.2M371.9 649l1.6 -0.9l-1.3 -1.8M377.5 648.2l2.9 0.2l0.3 -2.2M384.8 649.1l-1.2 -1.6l2.8 -0.4M389.5 650.4l-2 2.4l-0 -2.1l-1.9 -0.8M396.5 647.7l2.9 0.5l0.1 2.5M400.9 647.5l2.5 1.5l1.1 -1.1M406.2 648.8l1.1 -2.7l-2 -0.1l-0.9 1.8M413.5 648.1l-1.8 -0.2l-0.4 -2.3l-1.7 0.2M417.6 649.8l2.2 -2.2l0.5 2.2M423.4 647.6l3 -0.5l-1.5 -1.2M428.6 650.6l-0.7 2.6l2.1 -1.5M434.1 649.6l0.2 -2.1l-1.5 0.5l-0.9 -1.9M438.5 649.1l-2.6 -0.5l1.6 -1.8M447 648.1l1.1 -1.7l0.3 1.7M449.7 647.6l-0 -2.1l-2.8 -0.3l-0.3 -1.4M457.7 647.7l0.8 2.2l-2.6 0.7M460.8 649.8l-2 1.8l-0.3 -2.1M468.3 649.5l1.2 -1.9l1.5 1.3l1.8 -0.6M471.9 648.7l2.3 1.2l0.7 -2M480.5 647.6l-3.1 -0.4l0.6 -2.1M491.7 647.9l-2.4 -0.9l1.5 -1.1M494.4 650l-2.3 -1.9l1.3 -0.9M500.4 647.5l1.3 2.8l2.4 -0.5M508.4 649.5l-0 2.8l-1.9 0l0.2 1.3M512.8 650.3l1.4 -1.7l-1.6 -1l1.1 -1.6M517.7 648.7l-0.4 2.4l-2.9 -0.2M525.5 649.5l1.9 -2.1l1 1.8M530.3 649.8l-1.9 0.8l-0.4 -1.9M535.6 649.6l0.3 1.9l1.2 -1.6l1.5 1.4M540.9 648.2l-1.5 1.6l1.7 0.6M545.1 649.6l1.7 1.2l0.1 -2.2l1.5 -0.3M552.3 649.9l2 -1.8l0.3 2.2M558.1 649.8l1.6 2l-2.5 -0.5M561.6 648.7l0.2 -2.4l1.5 0.7M569.1 650.5l-2.7 0.7l1.4 2.4l-0.7 1.2M576 650.1l1.7 -0.8l1.2 1.6l2 -0.3M581.5 648.3l1.1 1.7l1.3 -1.8M585.9 648.6l1.3 -2.7l1.9 1.9M589.7 649.1l-2.7 -1l-0.3 2.2l1.6 -0M602.1 647.9l1.9 -2.3l-1.6 0.3l-0.4 1.6M608.6 650.1l-1.1 -2.1l2 0l-0.2 1.4M613.3 649.9l1.8 -1l0.4 1.9l1.8 -0.8M626.3 647.7l-1.6 0.9l-1 -2.2l-2 -0M631.3 647.5l1.7 -0.8l0 2.4M635 649.3l2.7 -0.8l-0.3 -2.1l-1.3 -0.5M641.9 649.5l0.5 2.5l-2.5 -0.7l-0.4 1.6M647.1 649.9l1.5 2.1l0.9 -1.6l-1.1 -0.6M245.6 655.3l2.2 -1.1l0.9 2.7M253.1 652.8l2.2 1.8l-2.4 1l0 2.1M258.7 653.9l0.8 -3l-2.3 -1M263.5 655.6l0.9 2.3l1.7 -2l-1.5 -1.5M269.8 655.6l-2.4 0.8l-0.8 -1.7l-1.4 0.4M273.6 653.5l2.1 1.6l-2.7 -0l0.1 1.4M279.8 654.2l0.8 -2.1l-1.8 -0.1l-0.8 -1.9M285.7 655.5l-2.3 0.1l-0.3 1.8l1.3 0.4M290.1 655.5l2.9 0.4l-0.7 -1.8M297.1 655.6l-1.5 -1.6l-0.3 1.8M303.6 653.2l1.6 2.5l-1.8 0.4M309.5 655.5l-0.7 1.8l1.8 1.2M312.6 654.8l2.4 0.6l-0.3 2.4M318.5 654.9l1.8 1.2l-1.6 0.4M326.7 652.4l2.6 1.2l-0.2 -2.3M330.4 654.2l-2 0.3l0.6 2M337.4 655.3l-1 2.9l-1.6 -1.9M340.7 653.7l0.1 -2.3l0.9 1.4M345.9 654.5l-0.7 2.9l-2.2 -1.1M354.6 654.3l2.6 1.6l1.1 -2l-1.8 -0.5M359.5 654.9l1.9 -0.2l0.2 -2.4M370.9 655.6l1.1 1.5l2.2 -1.8l-0.8 -1.8M376.8 653.5l0.7 -1.9l2.4 0.5l0.2 -1.3M380.3 652.6l-1 2.9l-1.8 -1.8M385.8 654.6l-1.1 1.8l-0.4 -2.1l-1.9 0.4M399.1 654l1.8 2.5l1.7 -2.1M402.2 654.7l-0.9 1.8l2.5 -0.5M410 655.4l1.9 0.1l-0.5 -1.9l1.1 -0.7M415.5 655.6l-1.5 -1.5l2.1 -1.1M419.5 653.5l1 2.5l1.1 -1.2M425.3 652.5l0.3 -2.8l-1.5 1.1l0.9 1.7M433.1 653l2.1 -0.6l-1.5 -1M437.8 655.5l-2.6 1.3l1.4 1.4l1.6 -0.9M443.2 653l-2.4 0.4l1.3 -1.4l-0.8 -1.4M447.8 654.9l1.6 1.4l0.6 -2M452.6 654.6l-1.9 -1.1l1.8 -0.8M459.7 653.7l-0.5 -2.2l1.9 -0.9M471.5 652.8l-1.9 -1.9l1.8 -2.2l0.8 1M478 653.6l2.2 2.1l-2 0.7l-1 -1.2M481.4 652.8l-1.7 1.5l2.3 0.9l-0.5 1.2M486 652.7l2.9 -0.6l-1.5 -1.3l0.3 -1.5M492.7 654.2l1.4 1.5l0.7 -2.5M498.3 655.3l-1.2 2.3l1.3 1.1l-1.2 0.9M506 654.7l-1.3 2.5l-1.6 -2.1M509.1 655.6l-2.1 -0.4l1.2 1.6l1.9 -0.9M514.4 654.2l2.1 -0.8l1.1 1.8l-1.8 1.1M522.4 652.7l0.7 2.1l2.7 -0.6l1.4 1.4M533.7 653.3l-1.5 1l-1.9 -1.8M536.9 655l-2.4 1.5l2.2 1.3l1.5 -1.5M544.1 652.9l0.8 2.1l-2.7 -1l0.6 -1.7M550.4 652.4l-2.9 -0.7l-0.1 2.6M556.4 654l-2 0.1l1.2 1.4l-0.5 1.7M560.3 655.4l2.1 -0l-1.6 2.2l1.8 1.2M567.1 655.6l-1.2 2.2l2.8 -0.6l0.3 1.5M570.5 655.1l-2.2 0.1l1.5 -1.3l1.6 0.5M578.3 653l-0.2 2.5l2 0.1M583.5 653.2l2.2 2.3l1.3 -1.7M587.4 654.4l1.4 1.2l-2.4 1.2M594 655l0.2 2.6l1.5 -0.9M600.1 654.7l-1.8 -0.5l1.2 2.6M604.7 655.7l-0.6 2.3l-2.1 -0.9l-0.7 1.5M611.7 653.6l-2 1l1.2 -2.6l-1.4 -0.8M615.9 655.6l-1.8 1.1l1.3 1.7l-1.5 0.8M623.3 654.9l1.2 -2.8l2.1 1.5l1.2 -1.4M627.7 654.2l-0.8 -1.8l2 0.6M631.8 655.5l-1.5 -2.5l-2.8 0.9l-0.2 2M638.3 654.6l0.5 2.7l-2.9 0.3l-0.7 1.6M645.5 652.3l-0.9 -1.8l2 0.7M650.4 654.9l-1.6 -1.1l0.3 1.9l1.4 0M657 654l-1.1 -2.2l2.8 -0.6l0.1 -1.3M243.5 658.8l-1.5 -1.1l2.2 -0.4M249.7 660.5l2.1 -0.2l-1.2 2.6l-1.9 0.1M253.7 659.1l0.6 -2.9l-2.6 -0.6l-0.7 -1.8M261.4 659.5l-1.3 -1.4l2.1 -0.4l-0.1 -1.7M266.8 660.3l-1.3 -2.6l-2.3 1.3M273.3 659.6l-0.1 2.4l2.5 0.3l0.6 1.3M278.5 658.7l-1.3 2.5l2.4 0.1l0.2 1.9M283.4 660.1l2.2 -1.2l0.2 2.5l-1.6 0.8M289.7 660.4l1.2 -1.3l-2.6 -1l0.7 -1.3M294.4 659.4l2 -0l-1 2.4M298.8 657.8l2.9 0.7l0.7 -1.9l1.4 0M306 658.1l2.1 -0.5l-1.4 2l-1.7 -0.4M312.8 660.2l2.2 -1.2l0.5 2.1M318.2 658.8l1.8 -0.4l0.4 2.8M322.1 658.7l-1.7 1.5l-0 -2.3l1.3 -0.1M328.7 659.3l-2 2.1l-1.4 -1l-1.1 1.1M333.3 657.3l1.8 0.8l-1.1 2.3M337.9 660.3l-0.6 -1.9l2.2 -0.4M346.4 660.1l2.7 1.5l0 -1.7l-1.2 0.1M351.1 658.9l-1.4 -2.3l-0.8 2.4l0.8 0.9M357.7 659.8l2.6 -1.7l-0 3M368 657.8l0.8 2.1l2.2 -0.4l-0.1 1.4M385 657.5l-1.2 -1.6l1.7 0.3l0.7 1.4M390.3 659.6l-2.7 -0.5l1.5 -0.9M395.3 658.2l-1.5 2.8l1.8 0M400.4 660.4l-1.6 -1l0.8 -2.5M405 658.8l2.3 1.3l1.5 -1.6M411.2 658.1l-2.6 -0.2l-0.3 2.7l1.4 0.2M422.6 657.4l-1.7 1.7l1.7 0M428.9 658.1l1.2 1.9l-2 0.5M433.6 658.2l1.7 -1.4l-0.1 2.4l-1.8 0.2M440.2 660.4l-1.5 -2.7l2.2 -1.3M447.1 658.2l-2 2.3l1.6 0.4l0.9 -1.4M451.8 660.4l-1 -2l-1.7 1.5M456.9 660l-0.4 2.9l1.8 -0.9M463.9 659.7l1.4 1.5l-1.8 2.2l1.3 0.9M467.3 657.6l-2.1 -0.6l0.7 -2.6M474.4 657.6l2.7 -1l-1.8 -1.5M479.5 660.3l1.8 2.1l-2.9 0.3l0.1 1.5M484.3 657.5l-2.5 1.4l1.8 0.6l0.1 1.5M490.3 659l0.9 1.6l-1.9 0.4M496.1 658.9l-2.7 -0.6l2.2 -2l1.6 0.6M501.7 658.2l-1.9 1.4l-0.4 -2.2M506.5 658.8l-0.6 3l1.8 -0.9l-0.1 -1.6M514.5 657.3l0.6 -1.8l1 2l-1.2 1M524.7 659.4l-2.2 1.9l2.5 0.6l-0.4 2M531 660.2l1.6 1.4l2.1 -2.1M534.6 660.5l-2.1 -1.3l-0.6 1.9M541.5 658.7l-0.9 -1.6l2.7 -0.8l1.2 1.8M547.6 660.5l2.1 0.3l-0.6 -2.2M557.1 660l1.5 -2.6l-1.5 -1.2l1 -1.3M563.5 658l2.4 -1.9l1.1 1.8l-1.1 1.2M569.8 659.5l0.9 2.9l2 -1.4l1.2 0.7M579.7 660.1l-1.8 1.1l1.5 1.1M586 659.3l2.7 -1.1l-2.7 -1M591.4 660.2l-2.4 1.6l-1.2 -1.8M595.8 658.1l-1.7 1l1.1 2.3l-0.6 1.1M601.1 657.9l1 -2l1.4 1M608.2 659.9l-1.4 -1.2l1.8 -1.4l-0.5 -1.9M618.9 658.4l1.6 2.7l2 -2.1l-1.4 -1.3M626.2 658.8l-2.2 -1.4l-0.4 2.1M630.3 657.4l-2.9 0.4l1.1 -1.2l1.3 0.8M636.5 658.2l1.3 -1.8l1.6 1.3M646.8 660.2l2.3 0.1l-0.7 -2.8M651.8 659.7l-1.6 1.9l-1.2 -2.5l-1.5 0.7M246.8 664.8l2.5 -0.5l-1.9 -1.8M253.6 665.4l-1.3 -2.5l-2.6 0.7l0.3 1.4M256.8 663.7l-1 -1.6l2.4 1l1.5 -1.2M263.3 662.7l-2 -0.7l-1.1 2M267.8 662.8l1.6 1.8l1.4 -1.9M275 663.1l-1.6 -2l-2.4 1.4l-0.2 1.7M281.4 664.1l2.4 -0.5l-0.6 2.3l1.4 1.6M290.6 664.3l-2.4 -0.7l0.3 -2.2M298.6 663.4l-1.8 0.8l-0.4 -1.6M303.8 664.6l2.2 -0.3l-0.7 2.7l1.7 0.7M309 664.4l1.9 -0.1l-0.5 2.4l-1.3 -0.4M315.6 662.6l2.8 -0l-0.4 2.8l-1.6 0.8M318.4 662.2l0.3 -2l-2.1 1.4l-1.3 -1.5M324.7 665.3l-1.8 -1.3l-0.2 2.4M332.3 663.3l-0.3 -2.9l-1.5 1M337.5 664.5l0.2 -2l-2.5 1.1l0.7 1M341.2 664.6l1 1.9l2 -2.1M346.4 664.9l-2.1 -0.5l0.4 -2.4M351.7 663l1.1 1.9l1.4 -2.3l-1 -1.7M360 664.1l2.1 -0.8l0.7 1.8M364.3 662.5l-1.2 1.9l1.8 0.3M371.1 663.8l2.3 1.7l-0.7 1.7l-1.6 -0.1M376.9 662.3l2.3 -1.6l-2 -1.7M379.6 662.6l1 2.8l2.9 -0.6l0.7 1.1M394 664.5l-1.8 -0.5l0.3 -2.6l1.6 0.4M398.8 663.4l-0.2 -2.1l1.2 1.2M402.7 663.8l-1.7 2.2l1.7 0.9l-0.2 1.5M407.6 665.1l-1.1 -1.4l2.4 -0.7M413.7 662.2l-0.8 -1.8l1.6 0.7M420.7 664.4l-2.2 1l2.5 1.2l1.6 -0.9M425.9 665l-1.9 -1.2l-0.9 2l1.2 1M433 663.4l1.6 -1.7l-1.6 0M442.1 664l-2.2 0.4l2.3 1.2M448.8 663.6l1.2 1.8l0.5 -2.4M452.7 662.3l-2.5 1.1l1.2 2.2l-0.9 1.7M459.2 664.6l-0.7 -2.5l1.8 -0.2l1 -1.8M465.8 664l-1 -2.4l-2.5 0.3M471.5 664.9l-1.6 1l1.1 1.3l1.3 -0.7M476.8 664.6l3.1 -0.6l-1 2.1l1.1 1.4M481 662.1l1.4 -2.7l-2.3 -1.5l0.6 -1.4M488.1 663.9l-1 -1.9l1.8 -0.2M491.7 664.4l-2.7 -1.2l1 -1.6l-1.4 -1.3M498.9 663.8l0.2 2.2l1.6 -0.7l0.1 -2.1M503.9 664.5l-1.2 -1.7l-0.9 1.5l-1.5 -0.1M514.8 663.9l1.5 1.5l-1.5 0.9l-1.1 -0.5M522.1 662.8l-1.1 2.8l-1.5 -2l-1.3 -0M525.5 662.6l0.4 3.1l-2.6 0.4l0.3 2.1M544.2 662.7l-1.3 -2.1l-1.8 1.3M549.2 665l-3.2 -0.1l1.4 1.4M554.2 663l-2 -0.1l1.2 1.8l1.2 -0.6M560.6 662.4l-1.1 2.2l-1.8 -1.8M565.8 664.9l1.9 1.6l1.5 -2l1.7 0.9M570.8 664.7l-1.1 2.4l-2.6 -1.3l-1.2 0.7M575.9 665l1.7 0.8l-0.6 2.9M581.7 664.9l-2.3 0.7l0.8 2.7M587 662.6l-1.3 -1.6l0 1.9M593.3 663.8l-2.1 -1.1l-1.7 2.4l1.3 0.9M600.5 662.8l-2.1 2.4l-2.1 -1.8M604.2 663.6l-2.3 2.2l-1.8 -1.6M612.4 663.1l3.1 0.2l-0.7 -1.6M617.1 662.2l0.6 1.9l2.1 -1.8l-0.9 -0.8M620.9 665.4l2.9 0l-1.9 -1.7M629.3 664.3l0.4 2.4l-2.3 0.1l0.3 -1.5M633.2 663.1l-1.2 -1.4l1.3 -2l-1.7 -1.1M638.3 664.9l0.7 2.4l1.1 -1.4l1.7 1.3M644.4 662.8l2 -1.6l0.3 2.1M648.9 663.7l2.4 1.7l-1.2 2l0.8 1.1M657 665.1l2.3 1.8l-1.5 0.7M242.7 667.6l2.7 -0.3l-1.2 -2.4l-1.2 0.5M248.4 668.6l-1.9 -1.1l-1.3 1.7M254.6 668.6l-2.5 0l1 1.5l1.9 -0.8M262.4 668.5l-2.5 -1.2l0.2 2.2M267.8 670.1l-0.5 -3l-1.1 1.4M270.5 668.4l2.4 1.3l-0.4 -1.7l-1.7 -0M277.5 668.8l2.5 1.8l1.5 -1.4l1.3 1.2M282 667.6l-0.1 1.9l2.4 -1.4M289.7 667.2l1.4 -2.2l0.7 2.8M295.5 669.3l-2.5 1l0.7 -2.2M300.2 667.9l0.9 2.9l-2.7 -0.9M306.5 667.3l-0.3 -2l-2.1 0.7l-0.6 2.1M311.3 670l-1.7 1.8l2.8 -0.2M316.1 668.4l2 0.5l-1.4 1.8l0.8 1M322.4 668.5l1.1 -1.9l-1.8 -0.3l-0.1 -1.2M328 669l-1.1 1.8l-1.9 -0.7l-0.3 1.3M332.8 669.5l-2 -0.9l0.2 2l2 0.3M339.7 670l-0.9 3l2.2 -0.2l0.7 -1.5M345.4 668.3l1 -2.6l1.9 1.3M348.8 668.3l1.8 0.7l-0.8 1.8l-1.2 -0.4M356.4 669l0.9 1.8l1.2 -1.5l1 0.8M360 668.7l0.9 2.6l0.9 -1.7l1.2 0.3M368.3 670.2l-2.1 -0.2l-0.1 2.4l-1.3 -0.4M371.3 668.2l2.6 -0.3l-0.5 1.7M377.6 670l-3 1l0.8 1.4l1.6 -0.3M384.4 670l1.9 -2.2l1 2.1l2.1 0.3M395.9 669.9l-0.1 3l-2.3 -0.5l-1.2 1.7M405.1 669.8l2.7 -0.2l-0.4 2M411.3 668.8l1.3 -1.4l1 2M417.2 668.5l-0.2 2.4l1.6 -0.2l0.7 1.1M422.6 667.1l-2.9 -1.1l1.1 -2.3M428.6 667.4l-2.8 -0.5l0.3 1.7M433.9 667l-2.9 -1.1l1.8 -0.9l-0.7 -2.1M441.5 668.8l1.8 0.8l-0.8 2.1M446 668.8l-0.1 -2.9l1.7 0.5M451.6 667l1.7 0.6l1 -2.5M455.6 667.1l2.5 1.8l-1.6 0.9l0.4 1.8M461.3 670.1l0.7 2.3l-1.6 -0.7l-0.6 1.6M472.9 668.6l2.1 2.3l0.2 -2l1.8 -0.5M480.7 667.6l1.8 0.8l-0.4 -2.3M484.2 667.3l-2.5 -1.8l1.8 -2M488.9 667l-0.3 -2.6l2.2 -0.3M494.7 669.3l0.1 -2.7l1.7 0.4M501.5 669l0.3 1.9l-2.8 -0.6M506.5 669l1.8 0.6l-0.4 -2M513.4 668.7l2.2 2.2l-0.1 -2.4M518.8 667.3l-1.8 -0.2l-0.4 -2.9M523.4 668.4l-1.3 -2.7l2.3 -1.1M529.4 669.6l2.3 0.9l0.8 -1.7M535.6 668.1l-2.3 -1.7l1.6 -0.7l-0.9 -1.6M546 668.6l1.6 1.1l-1 2.8l1.2 1.7M553.6 669.8l2.3 1.6l0.6 -2.7l1.4 0.3M557.9 667.1l1.2 2.4l0.3 -1.9l-1.7 -1.3M564.7 667.4l0.5 -2l-1.4 0.9M568.2 670.2l0.1 -2l-1.3 1.5l-1.4 -1.6M575.3 669.4l1.1 2.2l-2.7 -0.1M581.5 669.7l-2.9 -0.7l-0.6 1.9l0.9 1M584.8 668.7l2.3 1.5l-2.8 0.4M595.4 670l0.4 -2.2l1.4 1.8l-1.1 1.7M603.6 669.9l0.7 -2l-2.2 0.9M607.3 669.4l2.6 1.6l1.8 -1.7M620.8 668.2l2.2 0.5l-0.7 2.9M624.2 669l1.9 -1.5l1.3 1.6M630.7 667.5l-2.9 0.3l0.5 -2.8M635.2 668.2l-0.7 -2.2l-1.5 2.1M642.9 669.2l2.6 -0.1l-0.4 2.3l-1.8 0.8M646.3 669.8l-2.8 -0.6l-1 2.1M652.2 669.5l1.2 -1.4l2.1 1l0.2 1.4M246.1 673.1l-2 2.4l2.3 0.7M250.8 673.7l-2.1 0.8l-0.9 -2l1.5 -1.6M259.6 673.7l-2.1 0.3l-0.1 2.8M265 673.3l-1 -1.9l3 0.1l0.4 1.9M268.8 674.8l-0.8 -2.3l-1.2 2.4l1.9 1M273.7 672.8l-0.4 -2l-1.4 1.3M281.7 672.4l-1.8 1.9l1.8 2.4M286.6 675.1l1.6 2.3l1.3 -1.4l-0.6 -1.1M290.8 673.8l-0.9 -2.1l-0.6 1.8M298.3 672.4l0.8 2.4l-2.4 -0.4M302.9 675.1l-2 1.9l-2 -1.7l-0.7 1.3M309.9 673.3l0.2 2.9l-2.1 -1M314.9 673.7l-0.4 2l-2.9 -0.3M320.8 674.1l-0.1 -2.5l1.7 0M324.5 672.7l-1.4 -1.2l-1.3 2.6l-2 -0.5M331.3 675l-1.8 0.1l-0.4 2.3M335.5 672.1l-0.8 -1.9l-0.8 2.2M341.9 672.8l2.2 -1.4l-0.8 -1.5M347.5 674.4l0.9 2.9l2.5 -0.2l-0.1 -1.3M352.3 673.3l-0.4 -2.4l1.9 0.8l1.6 -0.9M357.7 674.9l2.6 1.3l-1.2 1.9l1.3 0.6M364.2 673.2l-0.4 2l-2.2 -1l-1.4 1.4M370.3 674.6l-2.7 1.4l1.4 1.4M376.4 674.8l-0.9 1.9l2.4 -0.3M382.7 675l0.8 2.7l2.2 -1.1l-0.4 -1.4M385.3 673.4l-1.7 2.6l-0.6 -2.2M391.6 673.9l0.4 2l1.8 -1.7M398.8 674.8l-1.6 1.2l2.2 0.7l1 -1.9M402.4 673.6l0.9 1.8l1.8 -0.6M410.5 674.4l2.3 0.7l-0.9 -1.9l1.2 -0.9M415.7 673.8l1.4 1.6l1.4 -2.4M420.2 674.1l-1.1 -2l-1.8 1.3l-1.6 -0.4M425 674.8l-0 2.1l-2 -2.1l-1.2 0.8M432.3 672.4l-2.1 -0.3l1.3 1.4M436 673.7l1.3 -1.6l-1.7 -2.3M444.1 675l2.7 0.5l-2 1.7M447.3 672.7l1 2.7l2.5 -0.7l0.2 -1.2M452.8 673.6l0.5 2.3l2.1 -0.6M459.7 672.3l1.3 -1.7l-1.6 0.4l-0.3 -1.7M464 675l1.3 2.7l-1.4 0.9M469.9 674.5l1.4 1.2l-1.9 0.2M477.5 674.7l-1.3 -2.2l-2.2 1.8M482.7 672.6l1.1 2.6l1.6 -0.6l0.6 1.5M488 672.1l-0.1 -2.2l-1 1.4l-1.3 -0.1M510.9 674.5l0.7 -1.9l-1.8 -0.7M515.7 672.1l-0.8 2.3l2.7 -0.6M520 673.6l0.4 -2.6l2.3 0.3l-0.3 1.7M539.1 673.5l-2.6 0.5l-0.1 2.9M542.6 671.8l1.9 0.1l-0.8 2.7M550 673.8l0.3 3l2.2 -1.2M554.2 672.2l-1.8 1.8l2.3 -0.3M560.4 672l-1 2l2.3 0.3M567.3 673.9l-2.8 -0.3l1.4 -2.5M572.2 673l1.6 -1.3l2 1.6l-0.9 1M578.2 675l0.6 1.8l-1.4 -0.9M584 672.4l2.9 -0.4l-0.3 -2.7l-1.8 0.3M586.9 674.9l2.7 -0.9l-0.9 -1.6l-1.7 1.2M592.7 674.8l0.1 3.1l2.2 -0.9l1.1 1.2M598.7 675l-0.6 2.3l-2 -0.4M606.6 674.1l-1 2.3l-1.2 -1.3M612.2 674.8l1.9 -0.6l-0.7 -1.8M615 672.9l2.9 -1.1l-2.6 -0.9l0.4 -1.7M628.3 673.8l0.3 -2.4l-2.5 0.1M632.6 672.7l2.6 -1.4l-2.1 -1.8l0.3 -2M637.7 673.8l0.7 1.8l1.7 -1.8M650.1 672.4l2.3 -1.6l-1.7 -1l0.2 -1.9M655.5 673l-1.9 0.9l-1.9 -2.2M245.5 677.6l-1.5 1.4l-0.1 -2M250.8 678.7l-2.4 -0.1l0.1 -2.9l2 -0.4M254.8 679.3l1.2 -1.7l-2.1 -1M260.4 679l-3.1 0.4l1.1 2.8l2 0M266.2 679.6l1.6 1.1l-0.4 -2.6l-1.9 0.1M272.7 677.2l-2.4 0.7l-0.6 -1.6l-1.3 0.5M276.1 679.6l-2 -0.5l1.2 -1.7l-0.8 -1.7M283.6 677.7l-1.6 0.8l1.1 2.4M287.4 677.7l-1.2 -2.2l2.2 -0.4l-0 1.5M299.3 678.8l2.7 -0.2l-1.2 2.2M304.5 676.9l-1.8 -1.8l-1.2 1.6M310.4 678.6l1.8 0.8l-1.4 1.4M315.8 679.9l2.6 0.9l-0.7 1.6l-1.7 -0.5M323.4 677.8l2.3 2.1l-1.7 1.2M326.9 679.3l-2.8 -0.1l1.6 -1.9l1.6 0.4M334.7 677.4l1.9 2.2l-2.9 0.3M338.1 676.7l2.1 0.7l-1 -1.5M343.7 678.1l2.4 -1.7l-0.4 2l1.3 0.1M350.8 677l-1.3 -2l1.6 -1.5M356.1 679.3l-0.9 1.9l1.7 -0.2l0.2 -1.4M362.4 679.8l2.2 0.1l-1.5 -1.6M368.1 677.6l1.5 2l0.4 -1.8M372.1 680l2 0.6l-1.9 2M377.4 679.2l-1.4 -1.8l1.6 -0.3l0.4 -1.7M383.2 677.7l-2.9 0.3l-0.5 -1.7M389.7 678l2.2 -2.3l0.8 1.8M394.1 676.7l-0.3 2.3l-2.2 0.1M407.3 679.6l0 2.4l2.9 0.1M412.5 677.3l-2 2.3l0.1 -2.5M424.6 678.2l-3 0.4l-0 -2M427.6 677.4l1.1 2.8l-2.1 0.5M435.6 678.9l-2.7 -0.3l0.6 2l-1.4 0.7M441.5 680l0.3 2.8l1 -1.3M445.3 676.9l0.6 2.6l1.7 -0M452.3 678.6l-2.6 0.2l0.5 2.6l1.3 -0.2M458.4 677.4l-0.2 3.1l-1.6 0.1M461.2 677.9l-2.2 2l-0.4 -2.8l-1.2 0.4M467.4 678l1.6 1.1l1.6 -1.9M473.6 679.7l3 0.4l-2.5 1.4l0.1 1.5M478.9 677.5l-1.1 -1.7l2.1 0.4l0.3 -2.2M483.6 679l2.5 -1.6l0.7 1.5l-1 1.8M491.2 678.6l-1.5 2l-1.7 -1.3M497.1 678.9l-2.7 -0l1.3 -1.5l1.1 0.9M500.2 679.5l-0.6 2.9l2.3 1l0.1 1.4M507.4 679.2l-2 1.9l1.1 2M512.8 679.9l0.1 2.9l-2.1 0.4l-0.3 2.1M518.7 677.1l0.8 2.5l1.9 -1.7l-0.2 -1.7M523.7 679.2l-2.3 0.7l1.5 2.2M530.4 677.1l2.3 -0.2l0.1 -2.2M534.3 679.9l-2.1 1.4l-0.4 -1.9l-1.5 0.6M539.9 677.5l-0.9 2.6l-1.3 -1M547.7 678l2.5 0.6l-1.2 2l1 1.5M550.6 679.4l-0.1 -2.2l2.1 0l0.2 1.7M561.6 677.2l0.9 -2.5l1.3 2.2l1.6 -0.2M568.6 677.2l-1.6 1.3l-1 -2M574 679.5l1.4 -1.4l0.4 2.5M581.7 679.9l-2.2 2.3l-0.9 -2.2M587.1 677l-1.2 1.5l-2.3 -1.4l-1 1.9M595.6 678.8l-1.2 2l2.4 1.1l-0.2 2M602.6 678l2.8 0.4l-2.1 1.5M608.1 677.3l-2.1 0.6l0 -2.9l1.3 -0.7M613.8 678.9l-1 2.3l-1.8 -1M619.2 679.3l1.5 -1.1l-0.2 1.9l-2.2 -0.1M625.4 678.1l0.9 1.9l1.8 -1.5l1.6 1M630.4 679.9l2 0.4l-0.5 -2M635.2 678.1l-3 -0.2l-0.5 1.5M640.1 677.7l0.6 2.1l-2.8 -0.5l0 -1.6M647.5 678.1l3.2 -0.3l-0 2.4M652.9 679.4l0.8 2.6l2.9 -0.7M245.6 683.4l2.1 -1.1l-1.4 -0.9l-1.4 0.6M251.6 684l1.9 -2.1l-1.8 -2.2M258.1 684.3l0.6 2.4l2.4 -0.6M264.8 684.8l1.1 1.5l0.6 -2.4M268.2 683.4l-0.6 -3.1l-2.2 0.3M275.3 684.4l-1.9 1.8l1.7 1.9M285.8 684l1.7 1.1l-1 1.5M291.1 682.9l0.9 2.5l-1.6 0.9l0 1.2M296.4 681.9l-0.4 3.1l-1.9 0.2l-0.7 -1.1M303.8 683.1l2.5 1.6l-1.4 2M306.7 682l1.3 2.5l2.3 -1.3M312.7 682.9l-2.2 0.2l0.1 2.3M321 683.5l2.2 -2.1l-1.6 -0.4M325.9 684.1l-1.8 0.6l-1.1 -2.1M329.2 683.1l1.4 -2.5l-1.7 -0.6M335.7 683.6l1.9 -2.4l1.5 1.5M340.5 684.8l-2.7 1.5l-0.4 -2.4M347.7 684.8l1.6 1.2l-1 1.6l-2.2 -0.3M354 681.7l-2.6 -0.8l1.3 -1.6l-0.3 -1.3M358.1 681.9l1.8 1l-1.3 1.1M365.3 683l-0.4 -2l-1.7 2.1l-1.2 -0.8M368.7 683.3l-1 2.5l-1.3 -1.5l-1.7 0.5M374 683.6l0.4 1.9l2 -1.4l1.1 1.1M379.8 682.9l-2.1 1.4l1.7 0.6M387.8 682.8l-2 -1l-1.8 2l0.5 1.4M392 683.7l-2.1 0.6l-0.2 -2.7M398.8 683.1l1.5 -1.9l1.2 1.5M403.4 682.3l-0.4 -1.9l-1.6 1.2l0.1 1.9M408.2 682.1l2.6 -1l1 2.2l1.4 -0.7M413.8 683.5l-1 2.1l2.5 0.5M421.4 682.6l-0.2 2.8l2.3 0.6M424.5 684.2l1 -2.4l-1.9 -0.4l-0.3 1.9M430.3 683.7l0.5 -2l2 0.6M437.1 682.4l-1.2 2.2l-2.1 -1.9M444.1 682.4l1.8 -1l-1.1 -1.7l1.7 -1.2M448.3 684.1l2.3 -0.3l-1.2 2.2M458.5 684.8l2.6 0.4l-0.9 -2l1.2 -1.7M466.2 681.7l-2 0.5l1.8 1.6M470.1 681.8l1.5 1.1l0 -2.7M475.2 684.2l-1.9 0.8l-0.8 -1.9l-1.6 -0.4M482.8 683.5l1.9 -0.3l-1.6 -2.2M491.7 683l-3 0.5l0.2 2.4M500 683.4l1.2 2.9l1.8 -0.4l0.5 1.1M505.7 682.1l-1.4 2.5l-0.8 -1.5M509.9 684.1l2.2 0.1l-0.2 -2.1M516.7 681.6l-2.3 -0.6l1.3 -2.5l-1.3 -0.5M521.3 683.6l1.4 2.7l-2.9 0.5M526.6 684.6l2.9 1.1l-0.3 -1.8l-1.5 -0.3M533.7 684.4l1.4 -2.3l-2.8 0.1l0.2 -1.8M543.9 684.1l1.9 -1l-1.8 -0.9l-1.4 1.3M549.5 684.6l1.7 1.8l0.9 -1.6M554.9 681.8l1.2 2.8l-1.6 -0.5l-0.5 1.5M560.5 683.1l-1.8 1.7l-0.5 -1.8M564.5 684.4l2 2.3l-1.8 0.7l1 1.7M570.9 681.8l1.8 -2.2l-1.5 -1.4l-1.3 0.3M578 683.8l-0.7 2.5l-2.5 -0.5l-0.5 1.3M583 682.6l-2.2 0.3l0.5 2l1.2 -0.4M586.9 684.2l1 -1.7l-1.6 0.1M593 683.3l1.5 -1.9l1 2.2l-1.3 0.6M598.4 684.3l-2 -0.9l1.9 -2.2M606.8 682.9l1.6 2.2l-2.8 0.8l-1.2 -1.3M611.1 684.8l2.4 -0.2l-1.7 2M621 682.1l1.7 0.8l-1.6 1.6l-1.6 -0.7M626.5 683.6l-1.5 2.8l-1.6 -1.4M632.7 682.5l1.7 -2.4l-1.8 -1.3M638.3 683.4l2 0.6l0.7 -1.6l1.6 0.8M644.2 684.8l1.4 1.2l-1.8 1.7l-1.2 -0.3M651.6 682.6l-0.7 1.8l-1 -1.6l0.9 -1M655.9 681.9l-2 -1.9l2 -0.9M245.5 686.6l2.2 -0l-2.2 2l1.1 1.4M248.7 688.3l-0.6 -2.9l-1.9 0.7l0.8 1.4M255.9 687.7l-2.1 2.1l2.3 -0l0.9 1.7M260.7 688.8l2.5 0.1l-0.5 -1.9l2 -0.9M267.6 688.7l-2 0.2l0.6 -2l1.8 1M284.9 687.1l-2.3 0l1.6 -1.9l-1.5 -1.5M295.8 688.9l2.3 1.8l-0.2 -1.8M300.6 689.3l-2.5 -0.5l0.7 -2.2M305.4 689.5l1.8 0.6l-1.6 1.5M315.5 688.6l2.7 1.1l-1.8 0.6l-0.9 -1.1M323.9 687.6l-1.8 2.1l2.2 -0.4M335 689.7l-0.7 -2.2l2.3 0.6M339.2 687.6l-2.4 -0.4l0.4 -2.2l2 0.4M343.3 688.9l-1.3 2.8l2.7 -0.9M349.6 687.8l-0.6 2.6l2.5 -0.5M356.3 689.8l2.1 -0.3l0.6 2.1M363.1 689.1l-2.1 -0.2l0.7 1.6M367.8 688.9l-2.1 0.4l-1.3 -2.6M372.7 689.1l-0.6 -2.5l2.4 0.1M379.3 687.4l1 1.9l2.2 -1.8l1 0.8M384.1 687.7l0.1 1.9l-2.1 -0.7l0.6 -1.5M395.1 689.4l-2.7 -0.6l0.9 -1.3M400.8 688.7l-0.5 2.9l-2.1 -0.6l-0.5 -1.4M407.9 689.1l2.8 -1.3l-1.7 -0.7M410.6 689l1.5 -1.7l-1.8 -0.7l-1 1.6M418.5 689.2l-1.4 1.8l-0.7 -2.5l0.9 -1M423.4 687.2l-2.5 -0.8l0.8 -2.1l1.6 0.7M430.2 687l-2.3 1.6l-1.2 -1.9l-1.7 0.4M434 688.3l-1.9 -0.3l0.7 -1.6l-1.4 -1.4M441 689.5l-2.7 -0.9l1.7 -2.3M447.3 687.5l1.9 -1.5l-0.4 2.9l-1.3 -0.4M450.8 688.2l2 -0.6l-1.7 -2.3l0.4 -1.5M457.8 689.6l-1.9 2.5l2.6 0.2M462.4 688.7l-0.5 2.6l1.8 -0.4M469.4 687.8l-1.8 2.2l-0.3 -2.3M475.3 688.5l2.4 -1.9l0.2 1.6M478.7 686.6l-2.8 -0.1l0.3 2.7M490.9 687.6l-0.9 -2.1l2.1 0M496.1 689.2l-0.3 -3.1l-1.8 0.3M501.1 689.6l2.9 0.4l-1.6 1.3M508.8 688.4l1.9 1.1l1.9 -1.9l1.3 0.3M514.2 686.9l2.5 -0.5l-1.7 -2M517 687.3l-0 2l-2 -1.5l-1.7 0.5M522.6 686.5l2.1 -1.1l-2.2 -0.3l-0.9 1.2M530.5 689.4l-2 0.7l1.8 2.2M534.6 688.6l-2.2 -1.6l2.3 -0.3l0.9 -1.8M540.7 688l1.2 -2.2l-1.8 -1M546.4 688.1l-2.6 0.9l1.8 1.7l1.1 -0.9M553.5 686.9l-2.1 -0.6l0.8 -2.5M558 686.7l-1.4 -1.9l1.8 0.1l-0.1 2M562.6 689.7l-0.5 2.9l2.1 0.4M569.7 686.8l-1.4 1.8l-0.5 -2.5l1 -0.8M575.7 688l0.7 2.1l1.8 -1.5l-0.1 -2M580.3 688l-2.5 0.7l1.4 2l-0.8 1M584.6 689.2l-2 2.3l-1.5 -2l0.9 -1.7M592.5 688.8l-1.6 -1.1l-0.4 1.7M602.1 688.4l-1.6 2.4l-1.3 -2.1l1.1 -1.8M607.7 687.4l-2.4 -0.2l1 1.7l1.1 -0.9M615 689.3l1.9 2.3l-2.1 2l-1.2 -0.2M619.7 687.1l1.5 1l-1.7 0.5M629.3 686.9l2.5 0.6l-0.7 2.5M636.5 689l-2.2 0.2l-0.7 -2M640.1 687.5l-2.8 0.3l0.8 1.5M647.6 687.7l2.3 0.3l0.6 -2.7l1.7 0.8M653.7 687.9l-2.6 1.6l-0.5 -2.2M247.6 691.4l-1.9 -1.3l2.8 -0.3l-0.2 -1.5M251.8 694.1l-2.1 0.1l-0.4 -2.3l1.1 -0.9M257.3 693.1l-1 2.6l-2.1 -1.5M264 692.5l-0.1 -2.4l1.6 1.9M269.6 694.5l-0 3.2l-1.6 -0.5M274.9 692.8l-0 3.2l2.3 -1.2M281.8 692.9l0.9 -2.3l1.6 1.1M287.2 693.2l-2 -0.5l0 1.7l-2 0.6M291.3 692.4l1.9 0.4l-1.3 -1.7M297.7 693.1l2.1 0.8l-1.3 -2.6l-1.8 0.1M303.1 691.6l2.2 0.2l-0.9 -2.3M309.3 692.9l2.3 0.1l0.1 -2.3M315.1 693.6l-0.9 -2.9l-1.2 2.4l-1 -0.8M318.4 691.4l-0.5 2.4l2.1 0.5M324.3 694.4l-1.2 1.6l-2.3 -1.6M329.6 694.3l2.3 -0.4l-1.1 -2.7l1.5 -0.9M336.8 693.3l1.6 0.9l-1.1 2.6M343.4 694.1l2.9 0.8l-0.3 -2l2.1 -0.3M346.9 694.4l3.1 0.6l-2.3 1.1M352.3 693.2l-2.2 0.6l1.5 1.1l1.7 -0.6M358.4 691.8l-0.1 2.4l-1.8 -0.4M362.9 693.8l2.4 1.5l1.2 -2.6M371.1 692.6l2.6 0.3l0.9 -2.4M375.4 693.9l-2.2 2.3l-0.1 -2.3l-1.2 -0M386.9 693.1l-1.7 1.6l2.2 1.4M393 694.6l2.9 -1l-0.9 2.7l-1.8 0.6M396.8 693.7l1.4 2.2l1.2 -1.2M404.2 692.4l2.7 1.6l-0.8 -2M410.5 692.5l1.3 -1.9l1.1 2.4l1.3 0.2M420.4 691.6l-3.1 0.5l0.9 -1.4l-1.5 -0.8M425.3 691.9l-1.1 -2l2.3 -1.6M430 693.9l-0.1 -2.2l1.7 0M436.3 694.4l-1 -2.4l-0.9 2.8l1.2 0.5M443.6 692.1l-2.5 -0.8l2 -1l0.7 1.1M446.8 691.3l-0.1 -3l-1.6 -0.4l-0.1 1.5M454.1 691.7l-1.3 -2l2.1 -1.8M458.2 692.2l1.6 -1.3l0 2.5l-2 0.2M465.2 693.3l-1.8 -2.6l1.4 -1.2M469.7 692.2l0.1 -1.9l2.9 -0.2l0.1 1.4M476.8 694.2l0.5 2.9l-2.1 -0.5M487 694.5l2 1.9l1 -1.5l1.4 0.5M494.8 693.4l-2.8 0.3l0.8 -2.3l-2.1 -0.6M497.5 691.8l-1.5 -2.7l2.6 -0l0.2 -1.3M504.4 694.1l1.4 2.6l0.9 -1.5M509.5 692.2l-1.9 0.4l0.5 1.6l1.4 0.1M514.1 691.4l2.1 1.8l1.2 -1.4l-1.2 -0.7M522.1 691.7l2.1 -1.5l-0.5 1.7M525.4 692.3l-3 0.7l-0.5 -1.7l1.6 -0.5M533.1 693.5l-1.1 -2.1l2.5 -0.8M539.1 692.3l-1.8 -0.7l0.6 1.7l-1.2 1.5M542.3 693.1l2.2 -2.2l-2.5 -1.2l-0.4 -1.7M548.9 694.1l0.7 2.6l1.9 -1.8M555.7 692l-1.5 -2.3l2.2 0.7M559.3 692.6l2 1.8l-1.7 0.8M564.5 692l-1.8 2.2l-0.3 -2.8l1.2 -0.7M572 694.4l-1.8 0.6l0.8 -2.5l-1.8 -0.6M578.2 692.9l-2.4 1.3l-1.5 -1.8l0.9 -1.5M581.7 694.1l-0.2 -2l-2.7 -0.3l-0.9 1.1M589.9 692.9l1.9 -2.1l-1.3 -1.9l1.2 -0.8M594.3 693.8l-0.5 -3.1l1.6 0.8l-0.4 1.9M599.3 693.4l2.6 0.9l-1.3 1.8l1.2 1.1M606.3 692.7l0.6 -2.5l-2 -0.5M612.3 693.8l2.5 1.9l-0.3 -1.9l1.1 -1M621.9 694.6l-2.3 1.6l-1 -2.8l1.4 -0.4M626.5 693.7l2.8 -1l-0.2 2.9M631.8 692.2l2 -1.3l0.4 2.2l-1.3 0.2M639.4 691.5l-0.8 3l-1.7 -1.7l-1.7 0.8M643.9 693.1l-0.4 -2.1l1.7 1M648.5 691.5l2.4 -1.8l1.5 1.9l1.4 -0.7M654.1 692.1l1.2 -2.5l1.9 1M243.8 698.7l-1.9 -1.3l2.4 -0.7l1.3 1.5M249.1 698.2l-0.5 -2.5l2.7 -0.1M255.3 699.4l1 -1.8l-3 0.1M259.4 697.4l-0.5 -2.3l-2.8 0.5M266.4 697.8l2.6 0.8l-1.9 1.8M282.2 696.4l-1.8 -0.2l1.7 -1.5l0.9 1.5M288.8 698.6l1.1 -1.4l1.8 0.8l0.4 -1.3M292.8 697.1l2.5 -0.2l-1.7 -1.4M300.2 699.3l-2.1 -0.1l0.4 2M311 697.7l0.1 2.9l2.1 0.5M317 699.4l2.1 1.9l1.3 -2.7M321.3 697.9l2.2 -0.9l-1.5 -1.4M327.1 696.2l-0.3 2.4l-2.1 -0.7M333.4 699.5l-0.2 2.5l-1.3 -1.4l0.7 -1.1M338.4 696.8l2.4 -1.4l-1.1 -2.6l-1.9 0M344.8 699.4l0.2 -1.8l-1.9 -0.7l1.2 -1.8M350.4 697.5l1.8 -1.9l-0.2 1.8l1.8 0.5M355.2 699.4l2.6 -0.7l-1.3 -1.2l-1 0.9M360.5 697.5l-0.9 3l-2.5 -0.5M368.7 698.1l1 1.7l1.4 -1.6M379 697l-2.2 2l-1 -2.5l1.5 -0.4M383.1 698.5l-0.6 2.2l2.6 -0l0.7 1M391 698l0.6 -2l1.2 1.4l0.9 -1.1M394.5 696.8l0.5 -2.8l-2.1 -0.8M405.7 699.2l-2 -1.5l-1.4 1.5l0.4 1.2M418.2 698.5l0.8 -1.6l1.1 1.4M423.5 698.6l0.9 -2.8l-1.7 -0.7M429 699l0.3 -2.1l-1.7 1.4l-1.7 -1.2M434 696.2l1.1 2.4l-2.5 -0.8l-1.2 1.3M440.7 696.6l2 -0.2l-1 -2.7M452.4 698.6l0 2.2l1.7 -0.1l0.7 -1.1M455.9 697.4l-1.8 -0.5l0.4 2.6l-1.5 0.4M468.7 697.2l-1.9 2.3l2 0.4l1.1 -1.3M473.2 699.5l-0.7 -1.8l2.4 0.7M478.4 697.5l2.4 2.1l1.5 -1.3M483.4 698.9l-0.7 1.8l-2.1 -1M490.2 697.8l-2.8 1.5l2.5 0.6l0 -2.1M502.4 697.4l-1.7 1l1.4 0.7M507.6 697.8l0.2 -2l-2.3 1.2M513.3 697.8l-0.1 -2l2.4 0.2M518.4 699l-2.1 0.5l-0.5 -1.7l-1.4 -0.1M525.5 699l-1.7 1.1l-0.2 -2.6M529.8 699.2l0.8 2.5l2 -1.3M536.5 698.2l0.3 2.1l1.3 -1.8l1.2 0.8M539.4 696.8l2.5 -1.2l0.9 1.6M547.7 696.9l-1.9 -0.6l-0.1 2.3l1.7 0.5M552.9 696.4l-0.7 -2.8l2.4 0.6M556.3 697.4l2.7 -1.6l-1.2 -2.4l1.1 -1.2M563.4 699l0.9 -1.8l-2.1 1l-1 -1.4M568.7 699.4l1.3 1.4l-3 -0.1M575.2 698.8l1.8 0.4l0.2 -1.9M580.2 697.2l1.7 -1.2l-2.3 -1.5l0.2 -2.2M587 696.5l1.7 -1.4l-0.3 1.8M591.2 696.8l2 -2.1l-1.8 0.3M596.6 696.8l-0 2.8l-1.7 -0.9l-0.8 1.8M601.6 697.5l2.3 -0.9l0.8 2.3M606.5 698.9l2.8 1.6l-1.8 0.8M612.9 697.8l-0.3 2l2.3 -0.4l1.1 1.4M618.5 699.2l-0.5 2.4l-2.2 -0.7l-0.9 1.6M626.1 698.3l0.5 2.3l1.6 -0.1l-0.1 -1.9M631.8 699.2l2.8 -1.1l-2 -2l-1.7 0.4M636.8 697.7l3.1 0.1l0.1 -2.3l2 -0.5M648.4 697.1l1.8 1.3l0.6 -1.5M652 696.8l1.9 -0.6l-0 2.2M246.8 701.3l2.6 1l-0.4 2.6M251.3 703l1.7 0.6l-1.4 2.1l1.5 1.1M258.8 701.7l2.2 -1.9l-0 2.7M262 702.3l1.6 -1.9l-1.9 -1M267.8 702.6l-2.2 0.8l1.4 0.8l1 -1.2M276.1 703l-0.3 -3l1.7 -0.4M280.3 703.5l-0.9 2.5l-1.1 -2.2l-1.5 0.6M286.6 701.6l2.2 -1.6l-1.8 -1.6M292.4 703.1l-2.2 -0.4l1.3 1.5l1.4 -0.4M297.4 703.6l2.8 1.1l-1.7 1.8M303.1 701.1l-2.2 -1l1.2 -1.7M309.4 703.3l1.3 -1.7l-2.1 -1.3M312.4 702.4l-2.2 -2.1l2.2 -0.9l1.4 1M320.1 704.1l1.7 0.9l-2.4 1.2l0.8 0.9M325.1 701.5l0.8 -2.3l2.7 0.6M329.9 703.2l-1.3 2.5l1.9 0.3l0.9 -1M341.8 702.8l2.5 0.9l-0.2 1.9l-1.4 -0.2M348.7 701.6l-0.7 2.7l1.7 -0.2M353.7 701.8l0.9 1.6l-2 1.6l-1.3 -1.6M359.4 702.8l-3 0.3l1.4 -1.7M364.1 702.7l-2.2 -1.3l-0.9 2.3M370.9 703.2l2.3 0l-1.3 -1.7l1.6 -0.9M374.3 702.7l2.8 -1.1l-1.5 -2.3M381.2 704.1l-1.6 1.1l-1.9 -2.3M387.3 702.2l1.3 -2.1l1.8 0.7l0.8 -0.9M394.1 703.7l2.3 0.1l-2 1.8l1.4 1.3M398.1 702.9l-2.1 -1.6l1.3 -2.1l-1.7 -1.3M402.1 702.7l-1 -2l2.9 -0.8M410 702l1.1 2.3l-1.6 -0.6M414.3 702.2l-2.1 0.4l0.5 2.9l2 -0M425.6 701.6l2.5 1.7l-2.3 1.1M432.6 701.1l-0.5 2.6l-2.4 -1.6l-1.3 1.4M436.7 702.1l-2.4 -1.9l2.6 0.1M441.4 701.5l0.2 -2.3l-1.8 -0M447.9 703.8l2.8 0.5l-2.3 1.6l1.2 1.7M455.5 702.9l1.6 -2.7l-1.6 -1.1l1.3 -1.3M459.1 703.8l0 2.2l-2.1 -1.4l-1.3 1.1M466.5 701.3l-2.3 -2l2.5 -0.1M469.4 703l0.3 -3l-2.4 1.1l-1.6 -1.3M480.5 701.2l-0.2 -2.7l-1.6 0.9M487.2 701.9l2 1.3l-0.9 2.8M493.6 704.3l2.6 0.1l-2.1 -2M500 701.1l-1.9 0.8l2.4 1.2M511.3 703.5l0.5 -2.8l1.2 2.2l1.2 -0.4M515.8 704.4l2.5 1.9l0.9 -1.9M519.6 703l0.6 -2.4l-1.8 -0.3M525.2 702.7l-0.9 -2.2l-2.3 0.9M530.8 703.4l-2 -0.2l-0.2 -2.8M539 704l1.7 -1.8l-1.3 -1.2l-1.6 0.3M544.9 704l-2 -1.4l-0.7 2.6l1.6 0.1M549.1 703.1l-1.8 -1.3l-2 2M553.7 702.7l1.8 -0.4l-0 2M561.7 702.4l-2.9 -0.7l2.6 -1.3M565.8 703.7l-1.4 1.9l-0.5 -1.6M578.2 704.1l0.2 -2.3l-1.7 0M583.4 701.6l-0.7 -1.7l-1.7 1.9M588.1 702.2l0.7 -2.9l-2.1 -1.1M593.3 703.1l2.6 -1.3l-0.6 2.4l-1.9 -0.4M603.7 702.9l-1.4 -1.9l0 1.9l1.1 0.6M610.8 703.7l2 2.2l0.9 -2l-1.2 -0.7M617.7 703l-1.2 2l-0.7 -2.5M621.4 701.3l-0.4 -3l-1.4 1.6M629.3 703.6l-1.5 -1.3l1.7 -2.3M634.4 704l-1.8 2l1.7 0M638.2 702.4l2.5 -0.7l-1.5 -1.2l0.5 -1.1M645.1 701.8l-1.7 -0.9l0.3 1.9M650.5 703.3l-2.4 -1l2.2 -1.2M654.1 703.7l-0.7 1.9l-2 -0.3M244.4 706.5l1 2.8l2.5 -1.3M248.2 708.2l-0.1 2.3l-2 -0.3M254.5 706.8l-2.7 -0.4l1.3 -2.1M261.1 708.9l-0.5 -3.1l-2.1 0.6l-1.1 -1.5M265.2 708.3l0.9 -1.6l2.2 2M271.7 706.7l0.2 -2.7l-1.6 -0.5M279.1 707.2l-0.3 2.7l2.3 0.4M283.3 709l3 0.5l0.7 -2.1M287.2 709l2.6 -1.7l-1.5 -1.1M295.7 708l2.2 -1.7l-0.8 -1.5l-1.3 0.6M301.1 708.2l-1.4 -2.2l2.2 0.2l0.4 -1.2M306.2 708.4l-2.5 -0.3l0.3 -2.6M311.5 707.9l0.5 3.1l1.3 -1.7M317.3 706.4l-1.3 2.9l1.5 -0.6l0.2 1.3M321.4 707.5l2 0.4l0.2 -2.2M328.8 709.1l-1.9 0.4l0.7 1.8M334.2 708.7l-0.2 -2l1.9 1.1l-0.4 2.1M338.3 706.6l1.4 -1.2l-1.7 -1.3M346.4 707.2l1.7 1.4l-0.9 1.9l-2 -0.8M350.7 708.1l1.8 1.3l-1.3 1.4l-1.2 -1.8M356.8 705.9l-3.1 -0.5l1.3 1.4M362.8 706.5l1.5 1.3l2.1 -1.6M367.6 708l0.2 2.7l-2.5 0.3l-0.9 -0.9M372.1 706.7l3 0.3l-0.1 -2.3M379.7 706.8l-2.1 0.1l-0.1 -1.8l1.7 -0.4M383.8 706.2l1.8 0.3l-0.7 -2.8M388.1 707.7l-2.3 -1.2l-0.1 2.4M395.9 706.3l2 0.4l-2.1 1.8M402.1 706.2l-2.5 -1.6l1.7 -2.3M407.9 706.5l-2.1 2l-1.4 -2.1l-1.2 0.5M410.5 707.5l-0.3 -1.8l-0.9 1.4M417.4 707.8l0.5 1.8l2.7 -0.8M421.9 708.3l0.6 2.3l-1.6 -1.1l-1 0.7M429.3 708.2l2.1 0.9l-1.3 1.3M433.5 707.6l-1 -2.3l2 -0.4l0.4 -1.5M438.9 707.2l-0.7 -1.7l1.9 -1.1l-1.1 -1.4M445.3 706.7l0.1 2.7l1.7 -0.2M449.8 709.2l0.9 -1.9l2.8 1l-0.1 1.6M457.3 708.9l-1.2 2l2.3 -0.9l0.5 -1.7M463.8 708.9l2.1 1.9l0.3 -2.3M467 706.5l-0.6 -2.9l-2 1.6M474.2 706.9l-0.6 -2.1l-1.2 1.7M480.7 707.1l-2 1.8l-0.4 -3M489.3 706.4l-1.1 2.4l2.1 -0.2M495.4 707.3l-3 -0.4l0.5 -2M503.1 709.2l-2.1 0.9l2 1.7M507.5 706.7l1.4 1.7l-2 0.1M514.3 706.1l-0.6 2.9l-1.3 -1.4l-1.1 1.6M517.5 707l1.8 -2.5l1.5 1.6M523.6 708.3l-0.4 3l2.3 -1.4l1 1.3M531.1 707.4l-1.1 1.9l2.8 -0.8M536.6 708.6l-1.8 -0.7l-1.7 2.3M539.6 708.7l-2.9 0.1l1 1.7M551.6 708.2l1.8 -1l-2.5 -0.5M558.4 706.9l-1.8 -1.5l-1.7 1.8M563 707l1.4 -2.3l-1.7 -1.2M568.2 707.7l1.6 1.4l-2.7 0.1M575 706.2l1 -2.9l-1.9 -0.6l-1 1.7M581.6 707.4l-2.5 -1.4l2.2 -0.7M584.4 709.1l-0.5 -2.3l-1.2 1.6l-1.3 -1.3M591.3 709.2l-2.6 -0l-0.3 -2.7l-1.3 0.1M598.1 709.1l0.2 -2.8l-2.5 0.7M602.2 706.4l3 -0.1l0 2.1M607.5 708.3l-1.9 2.3l2 0.8M614.8 709.2l-0.2 2.2l-1.7 -0.9M625.8 707.4l-2.1 1.9l-1.9 -1.2l-1.2 1.3M631.4 707.2l2.7 1.3l-0.9 2.4l-1.3 0.3M637.1 707l1.9 -1l-1.9 -0.8M640.8 707.7l-1.1 -2.3l2.1 -1.7l-0.9 -1.3M646.8 706.1l0.7 -2.1l-2.8 1.2l-0.4 -1.4M247.9 712.8l-2 0.4l0.4 -2.3M252.7 710.9l-1.5 -2.6l-1.5 2.3l1.8 1M257.5 711.2l1.7 -1.4l1.1 2.6M262.9 713.4l2 0.2l-0.5 2.7l1.2 1M267.8 711.5l0.5 2.5l2 -1.5l-0.8 -1.5M276.5 712.8l0.5 2.9l1.7 -0.7M281.9 712.6l1.7 0.6l-1.9 1.6M291.4 711.6l-0.4 2.5l2.5 -0.3M296.6 713.3l-1 -2.5l-1.9 1.9M303.3 712.9l1.5 -2l-2.1 0.3M307.7 712l1.4 -1.3l0.1 2.8l-1.4 0.7M312.8 711.5l-1 2.3l1.7 1.3l-1.5 1.5M318.9 713.6l2.5 -1.9l-1.5 -0.8l-1.3 1M326.1 713.2l0.4 2l-2.6 0.9M330.8 712.6l1.2 -1.8l1.4 1.3M336.5 712l-0.3 2.7l2.3 -1.4M342.6 713.9l-2 -1.1l1 -2.6M349 713l-0.6 2.6l2.6 -0.6M353.7 711.1l1 2.4l1.5 -1.8M360.2 713.3l-2 0.1l1.2 -2.7l1.6 -0M368.4 714l1.5 2l1.7 -2.2M376.6 711.1l-1.9 2.4l-1.3 -1.7M379.9 712.7l0.5 1.7l1 -2l1.3 0.4M387.3 710.8l-2.3 -0.9l-1.2 2l-1.6 -0.9M392.6 712.5l1.3 1.5l-2.9 -0.3l-1.3 1.4M398.2 713.5l1.6 1.2l1.2 -2l-1.7 -0.9M402.7 713.7l-0.5 3.1l-1.7 -0.4M408.1 712.7l0 -2.4l-2.1 0.9l0.6 1.6M415 714.1l-1.8 -2.4l1.8 -1M420.2 712.1l2 1.9l0.1 -1.8M426.5 713.3l-1.5 1.4l1.7 0.7M432.8 713.5l-2.1 0.4l1.6 1.2M437.7 711.8l2.5 1.3l-0.6 -2.6l1.6 -0.4M444.5 713.5l0 -2.3l-2 -0.1M448.4 711.2l1.9 0.2l-1.6 -2.4M452.4 712.3l-2.8 -0l1.3 2.5M458.7 714.1l2 -0.6l-0.1 2.7M465.3 713l0.7 2.3l-1.6 1l-1.3 -0.9M469.8 711.3l1.6 2.4l-2.2 -0l-0.5 -2M475.6 711.5l-2.2 1l0.7 2.5l1.7 0.4M482.2 711.9l0.3 -1.8l1.5 0.9M494.2 713.6l1 3l-2.4 0.3l0.1 1.4M499.2 710.9l1.2 1.4l0.1 -2.8l1.9 -0.8M503 713.1l-2.5 1.2l0.4 1.8M511.3 713.6l-0.4 -2.1l-2.3 1.6l0.9 1.8M521 711l-1.8 1.8l2.7 -0.1l0.5 -1.3M525.4 714.1l1.7 -1.2l0.5 1.9M533.7 711.6l1.3 1.9l-1.7 2l-2 -0.2M536.4 712l0.5 2.3l2.9 -0.2l1.2 -1.8M542.3 712.9l-2 0.6l0.2 -2.5M549 711.6l1.4 -1.7l-1.8 -0.4l0.5 -1.8M555.1 712.4l-0 -1.9l1.9 -0.3l0.9 -1.9M560.1 711.7l-2 1.1l2.7 1M565.1 713.6l2.4 -0.3l-0.8 -1.9l2.1 -0.4M571.5 713.9l2.1 1.7l-2.2 1.5l0.4 1.2M578.5 711.3l-1.8 0.5l1.4 1.1M583.8 711.8l-2.2 -0.4l2.2 -1.6l0 -1.9M588.5 711.2l-2.1 0.9l2.3 1M593.6 711.4l-2.5 -0.1l1.9 -2l-0.9 -1.4M601.2 712.6l2.3 2.1l1.6 -1.3M606.4 712.8l-2.5 0.5l1.2 -1.8M612.2 711.2l-0.6 -3.1l2.5 0.6M617.2 711.3l-2.3 0.3l-0.4 -1.6M623.4 712.1l0.3 2.1l2.9 0.1M629 710.9l3.1 -0.3l-2 -1.3l-1.6 1M633.7 712.6l-2.6 0.2l1 1.4M637.1 711.3l0.2 -2.1l2.9 0.2M649.8 711.9l-1.5 1.7l2.4 -0l0.4 -1.6M655.8 713.3l1.6 -1.6l-1.5 -1.6" fill="none" stroke="#0d0d0d" stroke-width="1.4" stroke-linecap="round" stroke-linejoin="round" clip-path="url(#cFL)"/>
<clipPath id="cFR"><polygon points="716,671.4 980,532.7 980,557.7 716,692"/></clipPath>
<path d="M716.7 532.5l0.2 -1.9l-1.6 -0.6M722.9 532.1l-0.6 2.9l2.4 -0.2M725.7 534.1l-2.2 1.5l2.3 0.9M732.4 531.1l-0 -2.8l-1.8 2.3M738.9 531l-2.4 -1.2l1.1 2.4M743.6 532.4l-0.2 -2.2l-1.6 0.2M748.6 532.6l-2 2.1l1.7 1.9l1.8 -1.3M753.8 534.1l2.9 0.4l0.3 -2l1.4 0.4M762.2 532.3l-2.5 0.5l1.2 2.1M767.8 531.5l-0.4 -3.1l-1.1 1.5l1 0.7M771 532.3l-2.7 -0.8l2.3 -1.3M778.6 532.1l-1.8 0.6l-0.8 -1.7M782.4 533.1l1 2.8l0.9 -1.4M788.6 533.1l-0.3 2.3l-1 -1.6l1.1 -1.8M792.8 533.1l1.1 2l-1.4 1M799.3 533.9l-2.3 -0.4l1.3 -2.2M803.9 533.6l0.1 2.1l-2 -0.2M816.8 534.1l-2.3 0.3l1.4 2.2M823.6 531.1l-1.4 -1.7l2.1 -0.3M835.2 531.9l-0.2 2.1l-2.7 -0.3l-0.3 -1.5M839.3 533l-1.8 0.7l-0.6 -1.5l-2 -0.6M843.2 531.9l1.6 -1.6l1 2.4l1.3 -0.6M850.2 533.3l0.8 -2.8l2.3 0.4l0.6 -1.7M855.6 534.1l2.1 -0.1l0.3 1.7M862.9 532.6l-2 1.3l1.7 2.2M867.9 532.6l-1.4 -2.5l1.7 -1.4M874.4 532.1l0.7 2.6l1.5 -1.7l1 1.4M880 533.3l1.1 1.7l1.1 -2.7M885.7 532l0.6 3l-1.8 0l0.2 1.8M889 532l-2.3 0.7l0.3 2.7l-1.2 0.6M893.6 533.9l2.6 -1.6l-0.9 -1.7l1.2 -0.8M901 534.2l3.1 -0.2l-0 2.5M907.8 533l1.5 -2.3l0.9 1.8M910.5 533l2.5 -0.2l-1.4 1.5l-1.8 -1M916 531.2l-0.7 -1.8l-1.3 1.7M924.4 534.1l-2.9 1.2l-0 -1.7M930.4 533.7l-0.1 -3.1l2.5 -0.5M934.9 531.3l-2.5 -1.9l1.8 -0.7l0.2 1.4M939 531.1l-0.6 -2.4l2.4 -1.1M944.6 532.5l2.5 -1.6l-1.4 -1.1M951.2 531.5l-2.9 1.1l-1.1 -2.5l1.2 -1.7M956.8 532.2l1.2 2.2l-2.1 1.3l0.9 1.2M963.3 534.1l1.8 -1.6l-0.3 1.6M969.4 533.5l1.5 2.4l-2.4 0.1M973.6 532.2l-0.7 -2.3l2.7 -1M978.2 532.8l-1.8 -0.4l1.1 -1.3M719.8 536.6l2.2 2.1l1.1 -1.5M725.6 535.9l-2.6 -0.2l-0.3 1.7M731.5 538l2.8 0.1l-0.1 2.5l-1.8 0.5M735.1 537.9l2.6 1.7l-0.7 -2.1M740.8 538.2l2 -2.5l1.8 1.7M745.6 536.8l-2.9 1.1l1.1 2.1l1.9 -0.8M753.1 536.2l-0.7 -1.8l-2.3 1.4l-1.7 -0.7M757.1 536.9l-2.5 1.6l-1.6 -2.5l-1.4 0.8M764.9 539l-1 3l-2.8 -0.8M770.1 538.9l-0.8 -2l-2.4 0.8M773.3 537.2l-2.1 -2.1l2.8 0.3M780.2 537l0.9 2.1l1.7 -0.5M787.4 537.2l-2 -0.7l1.1 -1.9M793 537.6l-2 2.4l0 -2.6M798.3 538.8l2.1 -1.6l-1.1 -1.6M807.3 538.2l-2.4 0.3l0.6 2.4M813.8 538.9l-1.8 -0.3l1.5 -0.9l1.5 0.8M820.2 536.4l3 -0.8l0.7 2.3M824.5 537.1l1.5 -2.7l-2 0.4l0.2 1.6M830.5 535.9l1.4 -2.2l2.5 1.5M837 536.9l0.4 2.1l-1.7 0.3M842.2 536l-3.1 0.4l-0.8 -2.4M846.1 536.5l-1.4 1.1l-1.4 -1.8l-0.9 1M851.6 537.8l-1.2 2l-1.5 -2.5l0.7 -1.1M860 537.8l-0.2 2.7l1.6 0.2l0.4 -1.7M865.8 539.1l1.6 -1.1l-2.8 -0.3M869.7 537.8l-1.8 1.7l-0.4 -1.8M876 537.1l0.6 -2.6l-2.6 -0.7M881.8 538.1l1.8 -0.9l-0.7 2.1l2 0.4M886.4 538.2l2.6 -0.4l0.1 -2.3M891.3 537.4l-0.7 -2.3l-2 0.5l-1.5 -1.5M897.9 537.8l2.4 -0.6l-1.6 -0.9l0.3 -1.2M902.4 536.4l1.4 -1.9l1.5 0.9l1.2 -0.9M908.3 536.2l1.6 -1.8l0.7 2.4M914.1 538l0.1 2.8l-1.7 -1.3l0.5 -1.7M920.9 536.4l2.1 -0.8l-0.6 1.9l1.4 0.5M924.7 536l-0.3 2l1.7 -0.7M930.9 538.5l2.1 0.6l-1.6 1l1 1.1M938.1 537.8l-2 -0.1l0.7 2.7l-1.8 0.1M942.6 538.6l-1.6 -2.3l-2.5 1.4M948.9 538.9l1 2.4l1.4 -2.1M959.1 539.1l2.2 0.1l-1.1 2l-2.2 -0.3M966.2 537.8l0.3 2.9l-2.4 0.7l-0.4 -1.7M969.5 539.2l2.7 0.1l-0.1 2.3l-2 0M977.2 537.4l1.8 -0.8l-0.1 2M716.7 542l-0.1 2.2l2.6 0.5M721.9 540.9l-1.3 1.3l-1.7 -1.6M726.6 541.8l2.9 1.2l-1.8 2.4l-1.3 -0.1M733.1 541.5l1.7 1.8l0.3 -2.5l-2 -0.1M739 543.6l-1.2 -2.9l1.6 0.2M744.8 541l2.2 0.6l0.5 -1.6M749.5 542l1.8 0.7l0.2 -1.9l-1.2 -0.6M762.2 542.3l-2.3 -1l0.9 -2.6l-1.2 -0.6M767.5 541.5l3 -1l-1.7 -1.2l0.3 -2M771.6 543.8l2.4 1.9l-1.4 2.5l1.6 0.8M784 541l2 -1.1l0.6 1.7l1.3 0.4M788.6 543.4l0.7 1.9l-1.5 -0.8l-1.1 0.5M800.4 541.3l-1.8 -1.8l-0.4 2.7l-1.5 0.3M804.3 542.2l0.3 -1.9l-1.6 1l-1.1 -0.7M811.7 542.7l2.6 0.6l-2.6 1.2l-1.8 -1M818.2 541.9l-0.6 -2.8l2.7 1.2M822.9 543.4l-2.8 1.3l0.8 -2.4l1.2 -0.4M827.3 544.1l-0 -2.1l-2.9 0.5M833.5 541.5l0 2.4l-2 -1.9M840 541.4l-0.5 2l2.5 1.3l0.6 -1.6M844.7 541.4l-0.9 2.7l1.4 0.9M850.9 541l0.3 -2.7l-2.5 0.1M856.7 543.1l-1.9 1.8l2.9 0.2M861.7 541.2l-2.6 0.1l1 -2.3M865.7 543.4l-0.6 1.7l2.6 -1.1l0.4 -2M872.3 541.7l-1.5 -1.4l1.9 -1.1l-0.4 -2.1M878.3 542.2l1.5 -1l0.6 2.8l1.2 -0M884.7 543.4l-2.4 0.2l-0.2 -2.2M889.1 541.9l-0.1 2.9l-1.8 -1.2M896 542.1l-1.1 1.5l2.9 0.6l0.2 -1.3M901.3 541.7l-1.2 2.3l-1.1 -1.2M906.8 544l1.1 -1.7l-1.6 0.1M913.5 544l-1.5 -2.6l2.1 -0.9l0.3 1.5M918 541.6l1.9 -2.5l-1.8 -0M924.8 543.9l-2.1 -1.4l1.8 -1M929.7 541.9l1.3 2.3l-1.9 0.1l-1.1 -1.9M935.6 542.7l2.9 -0.2l0.2 -2.5M941.3 541.2l1.8 0.1l-1.1 1.5M946.5 542.6l2.5 -0.5l0.1 2.8l1.9 -0.4M952.3 542l3.1 -0.1l-0.3 1.7M955.5 541.9l1.9 -0.5l-0.2 2.3M963.2 541.3l-0.8 -2.8l-1.8 0.2M969.6 543.2l-2.1 -0.4l-0.3 2.9M973.1 541.7l1.8 0.8l-0.5 2.5M980.8 541.5l-1.5 -1.7l-1.6 2.1M718.4 546.4l1.2 -2.4l-1.9 0.3M725.6 548.2l2.8 -0.1l-1.6 1.3M728.7 546.3l2.1 1.7l-1.1 1.3l0.9 1.5M734 547.5l1.8 -0.2l0.3 2.4l-1.5 0.8M740.1 546.6l-1.4 1.2l-1.3 -2.6M747 546.9l1.9 1.2l-0.7 2.4M758 545.6l1.4 -2l-1.8 -0.7l-0.2 -2.1M770.1 548.3l-0.9 1.8l-1.6 -0.5l-0.5 -1.5M774.5 546.6l-0.8 3.1l2.1 -0.6M780.2 547.6l-1.8 0.8l2.1 1.9M786.6 547.5l2.7 -1.3l1.5 1.8M793.1 548.4l2 1.8l1.3 -1.8l-0.9 -1.6M795.6 545.7l-2.5 -2l2.7 -0l0.1 2M802.9 546.7l2.7 1.2l-1.6 0.5l-0.5 1.3M808.4 546l2.4 -0.9l-1.7 -1.7M813.4 546.8l2.6 0.9l-1.4 -2.3l1.2 -0.8M819.8 548.8l1.2 -2.5l-2.2 0.3l-0.1 -1.3M826.1 548.8l-0.6 -1.8l-0.8 2.1M834.7 545.8l-0.1 3l1.5 -1l1 1.9M840.4 548.7l-0.2 -3.1l1.2 1.3l1.3 -1.4M848.4 548.3l1.4 1.4l-2.3 -0M854.1 547.3l0.3 -1.9l0.9 1.3l-0.7 1.9M857.6 548.4l1.7 -2.6l-2.3 0.7M863.3 548.4l-1.6 2.2l-1.8 -1.6l-1.7 0.3M871.6 546.4l-1.9 0.6l-0.2 -2.4M876.9 546.5l-2.3 -1.9l0.5 2.8l1.7 0.9M881.6 546.7l-2.5 1.9l0.2 -1.7l1.6 0.2M885.7 548.3l0.3 2.2l-2.2 -1.6M892.9 547.2l-2 1.6l-0.4 -2.5l-1.2 0.4M899.4 546.9l-1.8 -1.9l-2.3 1.4M902.5 548.9l-3 0.7l0.7 -1.7M908.6 546.9l-1.3 1.6l-0.9 -1.7M915.9 547.4l0.1 -2.9l-2.1 -0.3M919.2 546.4l-1 -2.3l2.3 -1M927.6 548.7l-1.4 -1.2l1.6 -1l-0.4 -1.9M930.5 548.3l1.9 0.3l-0.7 -1.8M935.7 548.3l-1.4 -2.1l-0.6 1.8l2.1 0.3M942.6 546.7l-2.2 -1.1l0.8 1.5M948.7 548l2.2 0.2l-1.5 -2M955.1 547.3l0.5 -3.2l-1.6 1M958.9 547.2l-3 0.6l1.7 1.5M964.4 548.7l1.8 2.1l-2.8 0.5M969.1 546l-1.4 -1.3l1.8 -0.5l0.5 -1.8M976.1 546.5l-3 0.9l0.4 -2.6M714.4 552.5l-2.3 -1.2l0.2 2.3l1.6 0.8M721.8 552.3l0.8 1.8l-2.8 0.2l-0.3 -1.5M728.3 551.6l2.8 1.5l-0.6 -1.7l-1.4 0.6M732.8 551.6l-2.5 -1.8l2 -1.5M739.1 553.4l-2.7 0.2l0.7 -2.5M745.6 553.6l-2 -1.2l0.5 1.8l1.3 0.4M748.6 553.3l-0.7 2.2l-2.3 -0.4l-0.3 -1.5M755.9 552.9l1.3 -2.7l-2 -0.8l0.4 -1.6M762.1 553.7l0.4 -1.9l-2.8 -0.4l-0.1 -2M765.8 550.6l2.7 0.3l-1.2 -1.6M779.1 552.2l-0 -2.4l-2.1 1.9M781.9 552.4l-2.3 -1.9l0.2 2.4l1.8 -0.1M788.1 553l-1.6 -1.7l-2.3 1.4l0 1.3M795 553.3l1.3 -1.5l1.6 1.3l0.8 -1.1M799.4 551.3l-1.8 0.2l1.6 1.8l-1.7 0.9M805.4 552.6l-1 1.9l-1.3 -2.2M812.5 552l0.2 -2.5l-2.4 1.7M816.2 553.7l2.3 -2l-2.8 -0M826.4 553.6l-3.1 -0.5l1.3 2.5l-1.2 0.5M833.1 550.6l-0.5 -2.9l2.5 1.1l0.3 1.9M840.5 553.6l-2.1 -1.7l1.9 -0.4l0.8 1.5M844.8 550.8l1.7 1.3l0.7 -2.2l-1.6 -0.9M850 552.8l-1.7 1.5l2.3 -0.1l0.2 -1.6M855.9 552.2l0.4 -2.8l2.2 2M861 553.6l2.9 -0.8l-1.7 -1.7M868.3 550.6l-2.2 -1.5l0.5 1.7M872.9 552.1l0.4 2.5l3 -0.5l1.3 1.4M878.2 552.2l1.8 -1l0.9 2.5l-1.2 1.2M885.4 550.8l-2.1 0.6l1.4 2.5M893.8 553.8l-0 3.2l1.9 -2.2l1 1.2M900.5 553.8l-1.4 2.1l-1.7 -1.1M907.5 552l0.3 -2.4l-2 1.1M913.2 552.9l-0.8 2.9l-2.9 -0.5M919 552.9l1.3 -2.7l2.4 1.7M923.9 551.5l2.3 1.6l1.6 -2.4l1.4 0.5M928.3 552.3l0.6 2.8l-1.3 -0.9l-1 0.9M936 553.5l2.7 -0.5l-1.8 -2.1l-1.5 1.2M941.1 553.8l-0.2 -2.1l-1 1.3l0.8 1.2M950.9 551.8l-2.2 1.8l2.7 0.9M956.8 552.9l-2.2 1.5l2.4 1.1M961.9 553.4l2.2 2l-0.1 -2.4l1.4 0.1M973.7 553.5l-2.7 1l-0.3 -1.9l-1.7 -0M978.6 553.1l1.8 -0.6l-0.7 2.7l-1.7 0.1M717.8 556.2l1.9 0l-1.3 -1.2M724.9 558.1l-1.7 -1.4l-1.8 1.8l-1.6 -0.3M730 555.5l-2.4 1.3l0.6 2l-0.9 1.1M737 558.6l-0.4 2.6l1.8 -0.7l0 -1.7M742.4 556.1l-0.4 -2.6l-1.2 1.8l1.1 0.9M747.2 557.1l1 1.5l-2.6 1.5M752.4 555.6l-1.3 -1.3l0.9 -1.4M759.5 558.3l-2.2 0.8l1.7 0.9M765.2 557.4l-1.5 -1.9l1.7 -1.9l1 1.2M770.8 555.6l-2.8 -0.7l0.6 1.6M774.2 555.5l1 -1.7l1.8 1.2M779.3 557.6l-1.9 -0.8l1 2.6M785.2 558.2l-2.1 -2.2l-1.6 1.8l-1.3 -1.1M792.1 556.6l2.8 0.6l-2.1 1.4M795.5 558.4l1.3 1.4l1.5 -1.2l-0.1 -1.3M801.5 558l1.1 -1.9l-1.9 -0.7M807.5 556.2l3.1 -0.9l-0.1 1.6M813.3 557.4l-1.4 1.8l1.6 1.9M818.1 558.6l-2 -1.4l-1.3 1.4M832 556.5l2 0l-0.6 2.4M835.9 556.4l-2.3 -1.9l-1.6 1.2l-1.9 -0.5M843.6 556.1l-2.6 -1.8l2 -0.4M846.2 557.9l-2.9 -1l-0.4 2.9l-1.6 -0.1M853.2 557.5l-2.5 0.5l-0.6 -1.5M857.4 555.6l-1.6 -2.6l2.1 -2M864.6 555.4l-1.8 0.1l1.8 1.6M869.7 557.1l-1.2 -2.5l2.6 0.1l0.3 -1.6M876.1 556.8l-1.1 1.6l1.6 0.6M880 555.6l-2.2 1.1l-0.5 -2.4M887.9 558.5l-0.4 2.5l2.8 0.5M891.1 556l2.6 1l1.1 -2.5M897.1 558.5l-1.8 1.6l1.2 1.7M904.8 557.1l-1.2 -1.5l1.3 -1.1M909.4 557.8l2.1 1.6l-1.2 2.5M922 556.1l-1.4 -2.7l-2.6 1l-0.9 -1.7M924.5 556.3l-1.1 2.6l-2.8 -1l0.3 -1.8M930 557.9l-0.7 -1.7l1.9 -1.1M936.9 555.6l-2.5 -1.8l0.9 -1.7l1.3 0.4M944.2 556.3l-2.1 1.5l0.7 -2.6l1.7 0.2M947.6 558.4l1.8 0.8l-0.6 2.1M954.1 555.6l-1.4 1.4l-0.3 -2.1M963.7 556.8l-2.4 1l0.5 -1.7l-1.5 -1.2M969.5 557l0.4 -2.9l1.9 0.3M978 557.9l-1 -1.9l2.4 -0.2l0.6 1.3M716.6 563l1.3 -2.2l-1.4 -0.8l-1.2 0.9M727.7 563.5l0.6 -2.3l-2.9 -0.7M733.9 562.8l2.7 0.1l-1.1 2.1l1.3 0.7M737 562.1l1.8 -0.3l0.5 1.6l-1.5 0.9M743 561.6l-2.1 -1.9l-0.7 2.6M750.5 560.6l1.8 -0.2l0.5 2.7M761.8 560.5l-0.9 2.1l-1.8 -2.2M765.8 560.8l1.3 -2.4l1.4 1M770.8 563.3l-1 2.6l1.5 0.6M778.9 561.9l3 -0.4l-0.1 -2M782.5 563.5l0.2 3l-2.4 0.4M789.9 562.1l-2.6 -0.2l0.3 2.2M794.7 563l0.7 -1.9l2.2 1.8M800.5 561.4l-2 -1.7l1.8 -0.6l0.2 1.6M806 561.1l1.2 -2.7l2.1 1.6l-0.6 2M810.4 561.6l2.6 -1.1l0.8 2.5M815.8 562.8l2.5 -1.7l-1.5 -2.4l1.3 -1.3M821.7 563.5l-2 0.8l-0.9 -1.6l-1.3 0.4M828.9 562.1l0.8 -2.4l1.4 1.9M834 560.9l-0.5 1.8l1.8 -0.8M838.8 561.1l-1.4 1.3l-1.8 -1.5l-1.4 0.9M843.8 561.9l2.5 -1.3l0.5 2.1l-1.4 1.2M850.5 560.3l-0.3 -2.6l-2.1 0.8l-0.2 -1.5M855 560.6l0.6 -3l-1.9 1.2l0.7 2.1M862.3 560.8l-0.3 2.8l-1.5 -1M866.9 563.4l1.5 2.4l0.9 -1.4l-1.3 -0.7M873.5 560.8l-2.5 0.3l1.2 2.7M879.6 562.4l-2.2 0.5l1.6 2.3l-1 0.9M882.6 562.2l0 -2.6l2.6 -0.7l0.5 -1.7M890.9 561.1l-0.4 -2l2.2 -0.5M895.9 561.7l3.2 0.4l-0.8 2.1M902.4 560.5l-1.7 -2.1l2.3 -1.5M907.4 562.2l2.3 -0l-0.6 2.1M911 561.2l2.3 -1.5l2 1.9l1.5 -0.8M916.6 562.2l-2 -1.5l0.3 1.6l2.1 -0M923.1 562.6l1 2.5l-1.7 0M927.4 563.6l1.9 -1l-0.6 -2l-1.5 -0.3M933.9 561.6l-0.7 1.8l-1.7 -2l1.1 -0.8M940.6 560.7l0.5 -2.8l-1.7 1.2M945.2 560.7l-2.3 0.1l0.4 -1.9M949.8 560.7l-1.6 2.2l-0.6 -1.7M955.4 562.6l1.8 -2.5l-2.5 -0.3l-0.9 1.4M961.3 561.6l0.1 2.9l2.3 0.4M966.5 561.1l1.1 1.5l1.4 -2.3l1.2 1.1M973.1 562.9l0.4 -2l2.1 1.8M718 567.5l-1.3 1.7l-1.2 -1.4M723.8 566.4l-2.3 1.3l0.8 2.1M731.6 566.5l0.9 2.4l-2.6 0.8l-0.6 2M735 565.7l-1.9 1.1l2.3 0.5l-0.2 1.9M741.6 565.8l-1.8 1.1l1.4 1.5M745.5 568.1l-2.1 0.1l1.2 2M753.3 567l-0.4 2.4l2.1 0.4M759.3 565.3l-2.6 0.4l-0.5 -2.5M762.3 566.2l3.2 0.3l-0.1 -2.2l-1.5 -0.9M769 567.8l1 -2.2l0.9 1.8M773.7 567.5l1.9 -1.7l-1.8 0.1M780 566.7l2.7 -0.7l1 2.2M786.4 567.5l1.4 1.8l-2.6 0.1M792 566l-2 2.1l-1 -2l1.4 -1.4M801.2 565.6l-2.4 1.1l1.1 1.9l-1.1 0.8M807.8 567.4l-3 -0.2l1.5 -1.7M812.9 567.8l-1.6 -1.9l-0.1 2.6M819.7 566.3l-1.1 1.9l2.5 1.3M831.8 567l0.7 2.6l1.9 -0.4M837.7 566l-1.8 2.2l-1.9 -1.5M843 567.3l-3 -0.5l1.5 -1.9M852.3 566.9l-1 1.9l-0.4 -1.7l-1.3 0.2M858.2 566.9l0.3 -2.3l2.3 1.5l1.3 -1.7M871.3 566.4l-1.4 1.6l1.9 2.4l-0.6 1.3M875.4 567.1l1.3 -2.3l-2.7 -0.8M882.1 565.4l-0.9 1.7l2.8 -0.6l-0.2 -1.3M888 567.5l2.9 -0.9l-0.9 2.8M890.8 567.3l1.2 2.3l-2.3 -0.4M898.1 567.6l0.1 -2.2l-2.4 -0.2M903.8 566.7l1 1.9l2.4 -1.2M910.5 566.6l1 -2.4l-2.4 -0.4l-0.3 1.3M914.1 567l-1 -2.7l2.8 0.6M922.1 568.3l2.8 1.3l-1.6 2.2l1.5 0.7M925.9 568.1l-1.7 2.3l1.9 0.2M931.2 566.3l-2.1 -1.1l0.5 1.8l-1.1 0.9M936.2 567.6l1.1 -2.8l1.1 1.6M944.1 565.4l-1.6 -1.3l-1.3 1.7M948.5 567.6l1.9 1.6l-1.8 0.9M952.4 568.1l-1.4 2.6l-1.8 -1.2M958.4 566.9l-2.3 1.9l-1.4 -2.4M966 567.6l2.2 -2.2l0.2 2.3M969.8 565.5l1.6 2.3l1.8 -1.8M975 568.2l-0.3 2l-1 -1.5l-1.7 0.2M715.5 572.9l-1.9 -1.1l0.8 -1.5l2.1 0.1M720.5 570.9l0.7 -2.1l2 0.7l-0.1 1.8M726.6 571.9l2.2 -0.3l-0.2 2.6l-1.8 1.1M733.5 571.9l2 0.7l1 -2.5M738.2 571.2l1.6 2.3l-2.4 -0M745.1 572.8l-1.2 2.2l2.2 -0.2l0.8 -1.4M756.1 571.2l-2.3 0.8l1.1 -2.2M761.9 572.2l1.8 1.1l-0.7 1.9M765.6 573.2l-3 0.4l1 1.3l-0.7 1M778.1 572.7l-2.2 -1.5l1.4 -0.8M783.5 570.9l-2.1 -0.4l0.6 -2.7M788.3 572l2.1 1.6l-1.5 0.6M800.7 570.2l0.5 -3.1l1.5 1.9M804.8 572.9l1 -1.6l1.9 1.3M810.2 571.7l0.6 1.8l-2.5 0.1M818 573.2l-0.7 -2l-1.6 2.4l1.3 0.5M822 571.6l-0.1 2.7l2 0.7l1.6 -1.4M828.1 571.7l-2.4 -1.3l-0.2 3l-1.5 0.9M832.1 571.6l-0.2 3.2l1.8 0.3l1 -1.2M844.7 572l-1.5 -1.6l0.1 2.2l-1.1 0.9M849.1 571.4l1.8 2.4l-2 0.5l-0.7 -1.5M855.4 571.5l-1.9 1l2.6 1M861.7 571.9l-3.1 -0.1l1.6 1.9M865.5 572.1l1.8 1.8l1.2 -2.5M874.1 573l-1.9 1.4l1.5 1.8l-0.4 1.6M883.1 573.2l-0.9 2.8l1.5 0.9M889.7 570.2l1.7 0.6l1.3 -2.5l1.1 0.6M896.2 572.8l-1.4 1.4l-1.3 -1.1M899.4 571.8l2.3 -1l-0.4 2.6l1.8 0.6M904.9 570.2l-0.9 -3l-0.9 1.4M912.5 572.3l0.2 2l-2.2 -1.6M917.2 571.8l-0.9 -1.9l2.4 -0.3l-0 1.9M924.7 572.4l-1 2.5l2.6 0.2l0.5 -1.2M930.4 570.4l2 2.1l0.1 -2.4l2.1 0.1M934.9 571.8l-0.1 2.6l2 -1.9l1.5 0.5M938.3 572.3l2.7 -0.3l-1.6 1.5M946.2 572.1l-2.7 -1.5l-1.1 2.2l1.3 1.2M955.2 572.7l1 1.9l-2 0.4l-0.4 -1.3M961.5 571.3l-0.6 2.2l-0.7 -1.6l-1.8 1.1M967.2 571.7l0.7 -1.8l2.8 0.9l1.3 -1.3M972.7 570.1l0.2 -2.4l1.6 -0.1M978.8 570l-2 -2l-1 2.7M718.7 576.9l-2.6 -1.1l0.6 -2.8l-1.7 -1.1M723 576.6l0.1 2.5l-1.4 -1.3l0.5 -1.7M731 577.7l1.9 -0.9l-0 1.9M734.8 577l1.3 1.7l-1.7 0.1M741.9 577.2l3.1 -0.3l0.3 1.6l1.3 0.7M748 576.2l2.8 0.4l-1.2 1.4l0.9 1.2M751.2 575.4l-2 -1.2l1.2 -2.5M759.4 576.1l-1.9 2l0.2 -3l1.8 -0.2M764.9 575.4l0.1 -2.3l-2.6 0.7l-0.7 -1.9M768.1 576.6l-1.8 -1.1l2.2 -0.5M774.4 576.5l0.5 -2.6l0.9 1.8M780.2 576.3l-0.8 2.5l2.4 0.9l0.1 1.7M785.3 576.1l-1.8 0.7l-0.8 -1.9l1.5 -0.5M790 576l0.2 -2.6l-2.4 0.1M796 576.9l-2.2 1l-0.7 -2.2l1.2 -1.1M802.9 574.9l-1.8 1.4l1.2 1.3l1 -0.8M807.5 575.3l2.1 0l-0.2 -2.9M813.1 576.6l-2.6 1.6l2.5 0.3l0.6 1.7M819.8 576.8l2.2 1.1l-1.2 2M826.2 577.9l-0.2 -3.1l-1.8 2l0.7 2.1M829.9 575.2l2.2 1.7l-1.3 1.3M836.8 576.9l1.8 2.4l-2.7 -0.3M841.5 578.2l1.8 -0.4l-0.1 2M846.2 576.7l2.2 1.2l-2.2 0.4l0.3 2M852.3 575l1.5 -1.4l-1.4 -2.5M860.1 578.2l-1.6 -1.5l2.3 -0.4M864.1 575.8l0.7 1.7l-2.2 0.2M870.9 576.9l2.6 -0.5l-1.6 -1.8M874 576.3l2.7 1.3l1.1 -2.4l1.2 0.9M882.8 577.1l0.3 3l-2.5 -0.4M885.7 575.8l2.5 1.3l-2.3 0.4M893.9 576.2l1.5 -2.7l1.3 1.8l1.8 -0.4M898.1 576.2l-3.1 0.7l0.6 -2.8l-1.7 -0.3M902.2 575.4l1.5 -2.3l-2 -0.2l-0.3 -2.1M907.7 577.5l0.3 -1.8l2 0.4l0.3 -1.9M915.8 575.5l1.1 2.5l-1.5 -0.8l-1.2 1.2M920.3 577.1l1.1 -1.5l1.5 0.8l0.7 -1.1M925.7 576.6l-1.2 -1.9l-1.4 2.1M931 577.5l-1.6 -1.9l2.2 -1M938.8 577.7l-1.3 -1.7l-1.8 2.2M942 576.5l-0.5 1.7l-1.3 -1.8l0.5 -1.1M949.4 575.3l-0.4 -3.1l-2.6 0.3l-0.5 1.8M955.1 577.9l-0.7 2.1l2.2 0.3M958.9 577.5l1.8 -0.7l-1.6 -1.4M964.4 576.3l1.5 2.8l-1.7 0.8l0.5 2.1M972 575.4l-1.3 1.6l1.9 -0.1M976.3 578.1l0.6 -1.7l1.5 0.7l-0.2 1.8M716.3 580.4l2.7 -0.1l-1.2 1.2M722.8 580.7l2.1 -0.1l-0.8 -2M728.2 581l2.2 0.4l-0.3 -3l-1.2 0.4M733.2 580.4l2.8 -0.6l0 2.4l-1.6 0.9M737.1 581.5l2.1 0.3l0.7 -1.9M745.4 580.2l-1.9 -1.8l-1.3 2.1M755.2 579.7l2.6 -0.9l0.3 1.9M759.7 581.8l-2.4 -1.7l-1.4 1.2M768 580.2l2 0.6l-0.7 -1.5l1.3 -1.7M771 580.7l-2.5 -2l2.9 -0.7l0.5 2M776.4 580.3l-2.6 -0l1.6 1.6l-1.7 1.2M788.4 583l-2.1 0.6l0.7 1.7M793.4 580.2l-2.2 -0.5l1 2.6M801.3 580.2l0.2 2.5l2.9 0.4M806.5 582.8l-0.7 2.7l-1.1 -1.3M810.3 580.6l0.4 2.6l2.7 -0.3l1.3 1.4M821.3 580.4l1.7 -1l-1.4 -1.5l-1.2 0.8M827 580.2l-1.8 1l0.6 -2.4l2 -0.1M832.3 582.8l2.5 -1.3l0.3 1.8l1.4 0.8M838.2 580.5l-2.1 1.8l2.7 0.8l0.4 -1.8M843.7 581.2l-2 0.6l1.5 0.9M850.4 581.9l-3 0.9l2.3 1.9l-0.5 1.7M856.7 580.5l-1 2.1l2.8 0.7l0.8 -1.3M861.3 582.2l2.5 1.4l-1.9 0.5M868.5 580.9l3 0.1l-1.4 -1.8l-1 0.8M871.8 582.4l3 0l0.5 -1.9l1.4 0.6M878.1 579.9l-2.3 1.5l0.4 -2.6M884.6 580.8l-1.7 -2.5l1.4 -1.3M888.2 581.4l1.9 1.5l-1 2.2l1.2 1.1M895.2 582.2l-1.8 1.9l2.1 0.3M900.6 581.9l0.4 2l1.9 -0.9M905.5 581.7l-2.9 0.6l1.1 -1.7M911.4 580.9l-1.5 -1.1l1.9 -0.3M917.3 580.3l-1.7 0.8l0.9 1.5l-1.1 1M928.1 582.6l0.1 -2.1l-2.2 -0.2l-0.1 -2.1M932.8 581.9l2.3 -2.1l-0.4 2.4l1.1 1.1M940.1 581.9l-0.2 2l2.8 0.5M945.9 581.7l1.3 -1.6l0.8 2.2M952.2 582.6l0.4 2.9l-2.1 -0.6l-0.2 1.5M958.3 579.9l0.2 2.2l-1.6 0.4M963.6 580.8l2 -0.4l-1.8 -1.4l-1.1 1.1M969.5 582.6l0.8 2l2.8 -0.8l-0.3 -2M977.6 580.1l-2.4 -1.6l-0.3 2.5M717.8 587.9l0.5 -2.2l-2.1 0.3M728.5 586.5l1.4 -1.4l0.7 2.2M736.2 586.7l1 -2.3l-1.8 0.7l0.8 1.4M742.6 586l-3 0.2l0.2 -2.2l-1.6 -0.9M753.2 587l2.5 0.9l-1.2 1.2l1.6 1.5M758.3 585.8l-0.2 3l2.8 0.1l0.8 1.4M764.7 587.9l1.9 0.9l-1.9 0.7M768.2 585.8l-1.4 -1.4l1.7 -1.8M774.9 584.9l-1.8 -1.4l2.6 0l1.3 1.7M786.2 586.1l1.2 1.5l1.5 -1.4M792.2 585.3l-2.6 1.3l1.4 1.6l1.3 -0.7M796.4 586.5l-2 -0.5l0.9 2.1M801.8 585.3l2 0.2l-1.1 1.3M807.7 586.8l-2.4 -1.1l-1.3 1.6l-1.2 -1.1M814.7 585.5l-2.4 0.5l1 1.4M819 584.7l-1.9 -1l2.3 -0.7M825.4 587.3l-1.9 -2l2.9 -0.3M829.9 584.8l-0.4 2.6l1.8 0.5M836.5 587.2l2.3 1.8l-0.5 -2.6M841.5 587l-0.3 -2.6l-1.1 1.9M848.4 584.9l-0.4 -2.8l1.8 0.6M853.6 587.3l1.4 -2.8l2 1.3l1.5 -0.7M859.2 586.9l1.5 -1.9l1.5 2.3l-0.8 1.7M864.8 586l-2.1 0.5l1.5 0.7M869.6 584.8l-2.5 0.9l1.8 0.7l1.2 -1.7M876.1 585.7l2.4 -0.6l-1.2 -1.6l1.1 -1.1M880.8 586l3.1 -0.4l-1.9 -1.5l1.3 -1.5M887.7 584.9l-2.3 1.6l-1.6 -2M892 585.1l0.3 1.9l-2.7 -0.9l-0.5 -1.6M896.6 585.3l-1 2.4l-0.9 -2.4M902.5 584.9l2.7 1.4l-2.1 1.9l0.9 1M908.3 587.3l-0.2 -2.6l2.3 -0.8M914.4 586.7l-2 0.4l1.3 1.8M919.8 585.9l3.1 -0.3l-1.1 -1.5M927.6 586.3l1.3 2l-2.3 -0.3M931 584.9l1.9 0l-0.2 2M935.8 585.8l2.5 -0.5l-1.5 2.2M941.9 585l1.9 -1.9l0.1 2l1.9 -0.6M948.3 587.6l1.9 -0.4l0 1.9M952.8 586l-1.4 -1.5l-0.8 2.1l-1.4 0.3M957.9 584.7l3.2 -0.3l0 2l1.5 0.7M965.3 586.4l1.6 2.4l-1.9 0.4M969.6 586.1l-1.9 -0.8l1.7 -1.2l1.7 0.9M976.6 586.9l1.4 -1.2l-2.2 -0.5l0.3 -1.7M714.5 590.1l-0.1 -2.3l3 0M720.4 591.7l-2.2 -1.1l0.6 -2.2M727.4 591.2l-1.6 -1.8l0.1 1.9l1.3 0.4M732.7 592.7l2.3 -0.8l-0.3 1.6M742.9 589.8l2 -0.7l-0.9 -1.4M750.7 590.4l-0.3 2.1l-1.4 -1.8M755.1 590.3l-2.6 -0.9l-0.6 1.5M761.6 590.8l2.1 0l-1.1 1.7l-1.5 0.2M767 589.6l1.8 -0.6l-1.1 -1.7l1.3 -1.4M773.5 592l1.4 -1.8l1.1 2.3M778.3 590.3l1.5 2.6l-1.9 0.7M783.2 589.6l1.7 1.7l-2.8 0.6l-0.9 -1.2M789.9 591.7l1.2 1.7l-2.2 1.3l0 1.3M793.9 590l1.1 1.7l2.5 -0.7M801.3 592.4l-1.8 1.8l2.3 0.2M807 590.7l1.2 -2.2l0.6 2.5M810.4 590.5l-1.6 -1l-0.9 2.4M818.4 590.2l-2.4 0.5l0.1 2.6M823.4 590.8l-2.7 1.6l2.5 1.3l0.9 -0.8M826.7 591.3l1.7 -2.2l-1.9 -1.9M832.1 592.2l1 -2.2l-2.1 0.1M840.6 591.5l-2.6 -1.3l-0.6 1.9M844.3 591.5l-0.4 2l2.2 0.5M849.2 591.6l-3 0.4l1.1 2.3l2 0.2M855.8 589.6l-0.9 1.6l2.5 1.3M867.9 591.8l-1.4 1.4l2.2 1M873.9 591.3l-1.9 1.2l2.5 0.9l-0.6 1.2M879 590.4l-1 2.7l1.9 -0.9l-1.2 -1.6M885.4 592.4l2.6 0.1l-0.3 2.3M902 592.2l0.1 -2.6l2.4 0.9M906.1 592.6l1.9 2.4l-2.4 0.9M912.5 592.1l-0.1 2.4l-1.7 -1.4M916 590.7l-2.5 -1l1.4 -1.7M922.8 591.5l-2.7 -0.8l1.5 -2M927.9 592.1l2.4 0.1l0.3 -2.6l-1.3 -0.1M934.7 592.2l1.6 2.6l2.1 -1.4l-0.4 -1.6M940.7 589.9l-2.5 -1.2l-0.8 2.5M944 589.5l-2.2 1.3l0.7 2.2l1.3 0.5M952.6 592.8l3.1 0.6l0.8 -2.5l-1 -1.2M957.7 590.6l2.3 0.4l-1.6 1.1M961.8 590l1.3 1.3l1.1 -2.6l-1.1 -1.6M968.5 591.6l0.2 2.5l1.8 -2.2M972 592.1l2.8 0.8l-0 -1.6l-1.4 -0.1M979.9 590.9l-1.8 -0.1l-0.4 -2.6M718.1 594.9l0.1 -3.1l2 -0.3l0 1.9M724.6 595.1l1.8 -1.5l-2.8 -0.8l-0.2 -1.2M730 594.4l1.7 2.1l1.3 -2.3M734.1 597.2l-0.5 -1.7l2.6 1.1M742.8 596.8l-2.4 1.3l1.3 1.8l1.5 -0.2M746.4 594.5l0.4 -2.2l1.6 2l1.3 -1.3M753.4 597.1l1.9 -1.5l-0 2.4M756.7 595l-1.8 -1.3l-0.5 2M762.3 595.6l1.5 1.6l-0.2 -1.6M770.4 594.5l-2.8 0l1.9 1.9l-0.5 1.9M774.3 595.7l1.9 0.8l0.8 -2.8M781.9 595.6l1.9 -0.3l-1.8 -2.2M786.9 595.9l-1.7 -2.5l-0.5 1.5M791.3 595.2l-1.5 1.3l2.1 0.9l-0.3 1.4M796.6 595.8l0.8 2.1l-2.3 -0.7M803.5 595.2l0.5 3l-2.8 0M808.8 595l-2.1 0.6l0.9 -1.6M813.5 597l1.6 2.6l-2.5 1.6l0.7 1.3M825.2 596.3l-1.8 1.6l2.1 0.8M830.4 595l1.3 2.7l1.4 -1.5M835.3 597.3l-1.7 0.9l0.6 -1.9l-1 -0.6M843.2 596.6l-0.8 2.4l2.3 -1.1l-0.5 -1.5M847.7 595.3l-0.1 -3l2.2 -0.2l0.6 -1.6M857.5 595.1l-2.3 0.4l0.5 -1.6M870.9 594.5l0.4 -2.3l-1.7 1.5l0.1 1.5M875.2 594.7l-2.4 0.3l1.4 1.8l-1.7 0.9M879.7 594.4l1.3 2.1l-2.5 -0.1l-0.5 -1.2M887 595.9l-2.6 1.2l0.4 -2.2M892.5 596.2l-1.8 -2.3l-1.1 2.3M897.2 596.5l-2.3 -1.6l0.6 2.4M903 596.7l-0.5 1.9l-1.9 -0.1l-1.2 1.5M910 595.8l-2.1 2.3l-1.3 -1.9l1.5 -0.7M914.8 595.4l-0.6 -2.7l2.4 -0.5M920.2 594.7l-2.3 0.8l2.2 1.6l-1 0.9M925.7 595.7l2.8 -1.2l1 2.2M936.5 594.6l0.9 1.7l1.8 -0.6l1 1.1M943.3 596.2l-1.5 1.2l0.3 -2.9M947.5 594.6l0.7 -1.8l-2.8 -1M953 594.8l-1.7 -1l2.3 -0.5l0.4 -2M958.9 597.4l-1 -2.6l-1.1 1.7M966.7 594.6l2.6 -1.1l-0.9 -1.9M970.7 596.6l-1.1 2.9l1.9 0.5l0.2 1.3M975.6 595.6l0.3 2l1.4 -1.6l1.1 1.4M717 601.1l-1.5 1.2l1.8 0.8M723.1 601l-2.4 0l0.3 2.5M727.3 601l-1.8 0.4l1.4 -2.1l-0.7 -1.1M733.4 601.6l2.4 -1.3l-0.1 1.7l1.3 0.2M739.3 602.2l1.3 1.7l-2.2 1.1M743.9 600.8l-1.5 -1.6l-1.2 1.6l1.2 1.6M749.3 602.1l-0.9 -2.6l1.9 -1.3M755.1 601.4l-1.3 -2.9l-1.8 1M760.1 602.5l0.1 1.9l1.6 -2.1M765.7 599.8l-1.7 -2.3l1.7 -1.2M771.8 599.6l1.3 1.5l-2 1.7M778.7 601.5l2.6 1.1l-1.2 2.7M781.9 602.1l-0.7 -1.8l-2.6 0.9M788.5 601.8l-1.9 -0.5l0.8 1.9l-1.1 1.8M795.7 602.5l-1.3 -1.9l1.3 -1.3M800.2 602.2l2.7 -0.5l-1.6 -1.8M806.4 599.4l0.8 2.9l0.8 -1.6M811.4 602.2l1.9 -0.4l-1 -1.3M818.4 602.5l-1.8 1l-1.2 -2.1l1.2 -1.7M823.1 600.8l1.3 1.6l-1.5 1.3M826.5 600.8l-1.1 -2.7l1.9 0.6M835.2 600.1l1.5 2.7l2.3 -1.2l0.4 1.3M840.7 601.9l-1.2 1.3l1.4 1.2l-0.5 1.6M843.2 602l1.5 -1.9l0.5 2.6M850.5 599.4l-0.6 3.1l-1.5 -2.2l1.2 -1.8M856.4 601.7l-1.8 -2.2l-1.5 2l1 1M860.5 601.1l-1.9 -0.9l0.8 -1.9l1.4 1M867.4 602.5l1.6 1.8l0 -2.4M872.7 601l2.6 -1l-2.2 -1.8M877.6 599.4l-0.3 -2.7l1.6 -0.1M885.2 601.4l1.8 1.9l-0.2 -1.8M888.5 602.4l0.8 -2.5l-1.7 -1M896.2 601.1l-2.2 -1.3l1.6 -0.4M901.7 602l-2.1 0.5l1.8 0.9M905 601.1l-1.2 2.5l2.1 1.3M912.9 599.9l0.9 -1.6l0.9 2.4l1.7 -0.7M917 602l0.6 1.9l1.5 -2.4l-1.8 -0.9M922.1 600.2l-1.9 0.9l0.2 -2M927.9 601.5l1.7 -0.9l-1.9 -0.7M934.5 600.4l1.8 -2.5l-2.1 -1.3l-1.5 1.2M941 602.2l1.4 -1.4l1.3 1.9M944.2 599.7l-2.4 1.2l-0.3 -2.7l-1.4 -0.8M952.4 600.3l0.2 -2.2l2.6 1.3M957.2 601.8l0.1 -2.5l-2.7 -0.4M962.2 600.6l2 0.5l-0.4 -2.5l-1.7 0.6M966.5 601.1l1.3 -1.5l-1.9 -0.5M973.8 602.1l0.7 -2.8l-1.6 1.2M979.1 599.7l1 2l-2.3 0.7M717.9 605.9l-1 2.1l1.5 1.1l-1.2 1.2M724.3 606.7l-0.1 -2.3l1.7 0.9l1 -1.4M729.6 606.9l-3 0.9l1.2 2M741.6 606.2l-0.1 1.9l1.6 -1.7l1.4 1.5M745.8 607.2l1.9 0.2l-0.8 2.1M752.5 605.4l0.1 -2l-2.4 0.5M758.2 604.6l-0.6 -1.8l2.2 0.8l0.6 -1.3M768.8 606.8l0.5 2.2l2.4 -1.6M773.5 606.8l-0.5 -2.1l-1.7 1.2l-1.5 -0.8M780.5 605.5l-0.9 -1.8l1.9 -0.4l1 1.7M787.1 605.3l0.3 3.1l-2.7 -0.6M791.1 607l3.1 -0.7l-2.3 -1.8l0.8 -1.7M796.8 604.2l2.5 -0.9l-1.5 -1.4M801.7 606.2l1.2 1.4l-2.9 -0.1M807.3 605.5l0.2 -2.4l2.3 1.4l-0.8 1.9M814.3 604.9l-0.7 2.9l-1.6 -1M819.9 606.4l-0.9 -1.6l2.3 -1.7M826.7 605.6l-1.5 -1.8l-1.5 2M832.3 604.5l3.1 -0l0 2.9l-1.7 -0.3M837.7 606l2.6 -1.8l0.5 1.6M841.2 607.2l-1.9 0l1.2 -2.1l1.3 0.3M845.9 606.1l1.9 -0.8l-1 -1.6M851.6 606.6l1.2 1.9l-1.8 0.9M857.2 605.2l-2.6 -0.9l0.8 1.8M866.1 604.9l-1.9 -1.2l-0.6 1.7l1.5 1.1M870.6 606.8l0.1 2.1l1.8 0.2l0.4 2M876.4 605.5l1.4 1.9l1.2 -1.8M882.6 606.5l-0.1 2.6l1.6 -1.5M891.1 604.5l1.4 -1.1l0.4 2.1M898.4 605.6l-1.9 0.9l0.5 -1.6M902.4 605.8l-2.9 0.4l-0.3 -2.3l2.1 -0.4M908.6 605.1l-2.4 -0.1l1.3 -2.5l-0.9 -1M915.4 604.6l-1.5 -1.4l1.2 -1.1M920.4 605.9l-1.7 -2.1l-2 2.1l1.2 1.8M925.8 606.5l3.1 0.1l-1.5 -1.7l-1.1 1.5M937 604.3l-3.2 0.4l1.3 -1.9M941.8 604.6l-1.2 -1.7l-1.6 2.5l-1.2 -1.2M947.9 605.8l1.2 -2.3l-1.8 -0.8M960.8 605l-0.5 -1.9l2.5 -1.2l1.1 1.8M966.5 606.9l1.1 -1.6l1.5 2.2l1.6 -1.5M969.6 606l2.5 -0.4l0.5 1.7M976.8 606.3l1.1 2.2l-2.3 -0M715.5 609.9l-1.6 2.7l-1 -1.8l1.2 -0.9M723.2 610.9l-0.1 3l2.1 -0.6M726.1 612.3l-1.5 -1.5l2 -1.6l-0.2 -1.6M731.2 611.8l-2.9 -1.1l2.1 -0.8M739.3 609.4l-1.2 2l-2.3 -0.8M749.7 610.4l-2.1 0.6l0.2 -2.6M754.8 611.5l3.1 0.9l0.3 -1.8M762.4 611l-1.2 2.2l-1.1 -1.3M766.2 611.8l-3 -0.3l0.3 -2.9M771.5 609.5l-0.9 -2.4l2.1 -1.3M778.6 612.1l0.5 -2.6l2 0M781.6 611.6l1 -1.5l1 2.2M790 610l-2.3 -1.2l-1.9 2.3M793.3 611.3l0.6 1.9l-1.7 1l0.8 2M798.8 611l-1.9 2.3l-1 -1.4M804.6 611.5l1.7 1.6l-2.1 2l-1.4 -0.9M812 609.9l2.3 -0.8l0.2 1.6l-1.6 -0.1M815.6 609.1l-0.4 -2.6l-2.6 0.5M822.2 609.4l1.7 -1.8l0.1 2.1l1.5 0.9M829.1 611.8l-0.8 2.1l-1.9 -2.2l0.3 -1.7M833.7 609.9l1.7 2.1l-2.7 0.8M839.3 609.5l1.9 -0.8l1.2 1.8M844.7 611.7l-1 -2l1.6 -0.6M851.4 612.1l0.4 2l-1.9 0.8M855 609.7l0.8 -2.2l-1.8 0.4M860.5 609.1l-2.2 -0.3l2.1 -1.6M866.5 610.8l1.6 1.1l-0.4 -2.4l1.6 -0M872.6 609.9l-1.9 -0.9l1 -1.5M878.9 612.2l-1.9 -0.8l0.1 2M885.6 609.5l-0.4 -2.8l-1.7 1l-1.2 -1.6M888.2 611.2l-2.8 -0.9l1.9 -1M894.4 612.2l0.7 -1.9l2.3 0.3l-0.6 1.5M899.3 610l0.4 2.8l2.7 -0.7M906.5 609.2l-0.6 -2l-0.9 2.1l-1.9 -0.7M910.5 609l-0.1 3.2l-1.8 -0.8M916.1 611l-0.1 2.4l-1.4 -1.1M923.7 612.2l1.1 -2.8l-1.9 -0.6l0 -1.2M928 610.9l-2.4 1.3l-0.8 -1.6M934.8 611.3l-1.8 1.5l-1.9 -1.4l-1.3 0.7M940.4 611.6l-0.6 -3.1l-2.4 1.4M945.6 610l1.5 -1.1l-2.9 -0.1l-1.1 1.3M958.3 611.2l2.2 0.9l0.1 -2.4M962 611.2l3 -0.4l-0.4 2.1l1.7 0.9M966.5 611.4l-0.1 -2.6l-3 -0.2l-0.4 1.4M973.7 610.2l-1.9 0l1.7 -1.9M979.8 612.3l1.7 -2.6l1 2.3M718.2 614.8l1.2 1.7l2.5 -1.3M725.3 614.7l1.5 -1.6l-1.7 -0.7M730.3 613.9l2.5 -0.7l-0.9 1.8l1.2 1.6M741.2 615.9l-0 -2.6l-2.7 0.7M747.7 614.2l1.8 1.3l1.4 -2.6M754.1 616.1l-2.2 -2l1.8 -0.6l0.3 -1.8M757.5 614.1l2.9 -0.7l-1.5 -2.6M763.2 615.3l1.9 -0.6l-0.2 -2.2M770.1 615.5l-0.7 2.8l-2.6 -0.6l-0.5 2M774.6 616.7l-1.3 -2.4l2 0.5l0.5 -1.1M779.7 616.4l3.1 0.1l-0.9 2.5M787.5 615.5l1.2 -1.6l1.6 1.4M791.4 614.7l1.6 -1.8l-1.4 -1l0.7 -1.5M798 617l-2.1 -2.2l1.6 -0.9M801.9 614.9l0.8 3l1.7 -0.4l1.7 1.4M808.9 614.7l2.3 -0.3l-0.6 2.4l-1.6 -0.1M812.8 616.9l-1.6 -1.2l0.5 2.2M820.3 615.7l1.6 -2l-1.5 -1.6M824.4 616.3l1.6 1.3l0.3 -2M829.7 616.7l0.2 3.1l-2.9 0.5l-1 -1M837.8 616.1l-2.4 0.9l0.8 -2.7M841.9 613.8l0.4 3l-1.8 -0.3l-1.2 1.2M846.5 616.8l-2.1 -0.4l1 -1.7l1.5 1.4M854.7 615.1l2.1 -1.9l1.8 1.2M857.6 614.5l-2.8 0.7l-0.4 -2.2M865.8 615l-1.3 -1.8l2.6 -0.1l0.8 -1.4M870.6 615.2l-1.5 1.9l2.5 1.3l0.6 -1M876.9 615.4l2.4 1.9l-1.8 1.4M881.9 616.1l2.7 -0.5l-0.8 1.7l-1.6 -0.4M886.3 615.7l-1.9 -0.1l1.7 -2l-0.6 -1.4M893.3 615.9l-0.4 -2.7l-2 0.1M896.4 614.9l1.8 1.6l1.8 -2.3l1.6 0.8M902.5 616.8l-2 1.1l0.9 1.7M908.8 616.1l-2.1 -0.2l1.5 2M913.4 615.2l-3.1 0.7l-0.1 2.6l-2.1 -0.1M919.4 616.8l0.5 -1.9l-2.5 -1.4l0.6 -1.8M927.6 614.6l-0.6 -2.3l-1.7 1.4M932.6 616.4l1.8 0.9l-1.5 2.2l-1.5 -1.4M936.3 616.3l2.3 -1.4l1.3 2.3l1.3 -0.5M942.6 616.7l0.3 -2.1l1.8 0.3l0.6 -1.5M947.4 615.7l-1.6 0.9l1.7 0.3l0.6 1.2M953.4 616.8l2.4 0.7l-1.9 2.2l1 0.6M958.8 614.5l2.4 -0.5l0 1.6l-1.7 0.9M969.9 615.4l2.3 1.9l-1.4 1.1l0.7 1.8M976.7 615.2l0.5 1.9l2.3 -0.4M717.7 618.8l-0.1 2.1l-2.2 -0.4l-1.2 1.2M720.6 620.1l2 -1.7l0.4 1.7l-1.8 -0M726.7 619.2l-2.1 0.7l-0.6 -1.5M732.3 620.6l-2.2 -1.4l-0.3 2.2l-1.3 -0.2M739.7 621.7l0.8 -1.7l2.3 1.2l-0.6 1.4M744.3 620.7l-1.7 -1.6l-0.7 2.7M750.3 620.7l2.7 -1.5l-0.4 2.6M756.4 620.4l1.2 2l-2.5 1.4M761.7 622l-1 2.7l-1.7 -1.3l0.9 -1.3M765.1 621l1.1 -1.7l0.2 2.2M770.8 618.7l-0.6 2.4l-1.9 -0.5M779.1 618.9l-1.2 -2.9l1.6 -0.7l1.3 1.3M783.3 621.9l2.4 -0.4l-1.5 -1.6l1 -1.5M788.7 620.1l-1.8 1.2l1.2 2M804.1 621.8l-0.6 -1.9l1.8 -0.1M810.8 621.7l-0.9 -2.9l-1.4 0.8M816.3 621.8l0 2.3l2.7 -1.1l1 1.2M822.5 621.3l-0.3 2.3l1.8 -0.7M829.3 618.7l-2.7 -1.5l-0.7 2.5l1 1.1M834.9 621.8l-1.9 -0.3l1.2 1.4l-1.6 1.1M838.6 619l-1.1 1.6l2.3 -0.5l1 1.2M846.1 619.7l2.9 -1.1l-1.1 2.4l-1 -0.6M849.7 619.2l2.5 0.8l-0.7 -1.9M854.9 620.4l-1.4 1.5l-1.3 -1.7l0.9 -1.8M862 621.2l2.9 -1.2l-2.7 -1.2M866 619.9l-1.8 -0.5l0.9 -2.6l-1.6 -0.2M874.3 620.6l0.5 2.3l-2.2 -1.1l0.9 -1.4M878 619.3l0 -2l-1.9 0.2l0.1 1.9M883.4 621l1.2 -2.6l0.9 1.8l1.4 0.2M888.6 621.5l-2.1 -0.4l-0.5 1.6l-1.2 0.3M895.2 619.5l-1.2 2.1l-1.9 -0.9l-1.2 1.6M900.4 621.8l1.3 1.6l1.7 -2M911.2 621.1l0.2 3l-1.5 -1l-1.2 1.1M916.2 619.4l1.3 -1.4l1.7 2.1M921.5 621.8l1.4 1.9l-2.8 -0.1M932.8 618.9l2.1 -1.9l-2 -0.2M939.9 620.8l-1.6 1.7l1.6 1.8M944 620.8l2.8 -1.4l-0.5 -2M950.3 621.4l1.7 -1.3l-2.7 -1l0.2 -1.9M955.6 621.9l0.8 -1.9l1.5 1.2l-0.5 1.2M961.6 621.6l-0.5 -2.6l1.6 0.2M968.2 619l-2.6 0.8l1.8 1l1.1 -0.7M974.8 620.4l-2 0.4l1.2 1.9l-1.5 0.7M977.8 621.5l-0.9 -2l2.3 -0.5M720 625.4l-2 0l1.1 1.5l1 -1M723.9 625.2l-2.3 1.2l0.9 1.8l-1.8 0.6M729.6 626.8l-0.2 2.4l2.9 0.5l-0.4 1.9M736.5 625.5l-2.1 0.6l-0.6 -1.9l2 -0.2M739.5 625.8l-2.7 0.2l0.8 1.8M747.2 624.3l0.7 2.7l-2.6 -0.1l-0.4 -1.4M753.7 623.8l-1.7 1.1l-1.4 -2.2l-2 0.9M756.6 624l2.7 1l0.8 -2.1M764.2 626l-1.4 -2.6l1.8 -0.3M770 623.9l3 0.8l-0.4 2l1.6 0.6M775.5 625.7l2.1 0.5l0.3 -1.8M779.1 625.9l0.6 2l1.4 -1.3M784.7 626.6l-1.8 -1l-1 2.8l0.8 1.1M792.4 624.1l-3 0.6l-0.4 -2M798.6 625l1.2 -1.5l1.9 2.2l1.2 -0.1M803.3 626.3l1.8 -1.2l-2.4 -0.9l-0.5 -2M808.8 624.3l-1.3 1.4l1.5 0.9M813.3 625.6l0.9 -2.7l-2 0l-0.8 1.1M820.1 623.8l-2.4 -1.3l2.4 -0.7l-0.6 -1.9M824.9 626.3l-0.9 2.9l2.6 1.2l1.4 -1.3M829.9 625.1l-2 0.1l1.4 -2.2M836.7 624l-2.9 0.8l0 -2.2M840.8 624l2.8 0.6l-0.3 2.8l1.4 0.3M848.3 626.7l1.5 -1.2l-2.4 -0.3M857.9 625.7l-1.8 -1l2 -2.3M864.2 626.1l0.2 1.9l-1.8 -0.4l0.3 -1.3M871 623.8l-2.9 -1.2l1.9 -0.9M882.6 625l1.9 0.4l-2.1 1.2M892.1 625.1l-1.8 -0.6l-1.3 2.2M896.6 623.8l1.9 -1.2l1.5 2.6l1.8 0.1M902.7 625.5l-1.9 1.2l0.3 -2.8M909.5 624.2l-0.1 2.1l2.2 -0.4l0.3 1.4M916.4 625.9l1.6 1.8l1.6 -1.2l-1.1 -1M921.9 624.5l-2.3 -1l0.4 1.9l-1.4 1.5M925.8 624.2l1.5 1.1l0.4 -2.2M931.4 625.8l-0.5 2.6l2.3 0M937.5 626.2l0.5 2.2l-2.3 -1.4l-0.7 1M949.6 626.6l-2.6 -1.2l-0.4 2.6l-1.8 0.1M954.4 625.1l-1.1 -2.2l1.6 -0M959.4 625.7l1.2 1.4l0.5 -2.3l1.3 0.5M964.4 624.7l-1.2 2.5l-2 -1.2M970.7 624.3l-2.3 0.6l-0.2 -2.1l1.7 -0.2M975 624.1l-2 1.9l1.5 2.3M715.1 631.3l-1.7 -0.6l0.6 -2.3M721.8 630.3l2.2 -2.2l-2 -1.2M728.1 631.1l-2.2 0.1l-0 2.3M733.6 629.4l-0.6 -2.1l2.4 -1.1M737.5 629.9l2 -0.5l-0.6 -2.3M744.2 630.8l2 -0.3l-0.9 2l1 1.4M749.6 628.8l-1.1 -2.1l1.5 -0.5l1.1 1.5M755.8 628.5l-0.4 -1.8l2.7 1.2l0.2 1.5M761.4 631.4l0 2.1l-1.9 0.1l-0.4 2.1M765.6 629l-1.8 -1.8l0.9 -1.5M772 629.4l-0.4 -3.1l-1.7 1.9l-1.2 -1.4M776.5 629.4l-1.7 -0.8l0.6 -2.8M784.9 629.7l2.3 -0.1l-0.3 -2.7l1.8 -0M789 628.8l-2.9 0.1l1.3 -2.1M795.5 630.7l-1.7 0.8l-1.8 -2.3M799.4 628.7l1.7 1.5l-2.1 0l0.2 1.3M804.2 629.2l-1.6 -0.8l1.9 -1.2M812.1 630.6l-1.9 -1.5l0.1 2.2M818.4 629.3l1.3 -1.6l2.2 1.1M823.6 628.6l1.3 -1.5l-2.1 -1l0.6 -1.8M829.4 629.9l0.4 1.9l-2.5 -1.1l-1.7 1.4M834.7 629l-0.7 -2.8l-1.7 1.5M840.6 628.8l-1 -1.7l-0.8 2.1M844.5 631l1.4 -1.4l1.3 1.1M849.7 630.8l-2.8 1.3l1.4 1.6l-1.7 1M856.7 629.3l-0 2.4l-2.3 -1.2M862.6 629.9l0.9 2.2l2.4 -0.9M868.1 629.4l0.6 2.5l2.6 -0.6M879.2 629.8l-0.9 2.3l1.8 -0.3l0.4 1.9M883.9 630.5l2.2 2.1l-0.8 1.5M888.1 631.4l0.7 -1.8l-2.8 0M895.1 630.5l1 -1.9l1.2 1.4M902.4 630.5l-2.1 -1.5l1.8 -2.3M905.1 631.4l-1 -2.1l2.4 0.8M911 629.7l-0.2 -2.8l-1.6 1.1M919.1 631l-2.2 -0.9l-1.1 1.5l-1.8 -0.2M923.7 631.8l-1.1 -1.6l-0.3 2M928 629.3l1.8 -0.8l-1.5 -1.2M938.4 631.6l-2.6 1.7l-0.6 -1.8M945.5 629.7l-1.6 -1.7l2.3 -0.1l0.5 1.2M952.9 630.4l-0.8 -2.1l2.1 1l1.1 -0.5M955.6 630.7l-0.9 -1.9l-2.4 1.2l-1 -1.5M963.2 628.5l1.7 1.5l1 -1.4M967.6 630.3l0 -2l2.6 0.1M974.1 628.8l-2.8 0.6l0.7 -2.6M980.1 631.4l1.6 0.8l-1.1 1.8M723.5 633.7l-0 -2.5l1.8 0.2M729.1 633.8l2.5 1.7l1.2 -2.3M739.9 634.7l1.9 0.1l-1.1 1.2l-1.4 -0.9M745.7 634.5l1.8 1.7l-2 1.2l0.9 1.8M757 635.6l-0.5 2.1l2.4 0.3l1.3 -1.3M762.9 635.9l-2.8 1.1l-0.9 -1.5l0.6 -1.8M768.6 635.5l-2.7 0.5l1.3 -2.1M774 635.7l1.8 -2.4l-1.9 -0M780.1 635.9l-2 0.6l2.3 1.4l1.4 -1.6M787.3 635.2l0.7 3.1l1.4 -2.3M790.5 636l0.6 -2l-2.5 0.1M798 636l2 -1.8l-1.7 -1.1M804.4 635.9l0.1 -1.8l2.6 -0.3l0.7 1.8M807.7 636.5l2.2 -1.9l-1.7 -0.6M813.7 634.7l-2 -0.6l1.3 -2.2M819.2 636.3l2.5 0.4l-2 -2.2M825.3 633.6l-0.3 2l2.6 0.3l1 -1.9M831 634.1l-0.9 1.7l-1.6 -1M836.6 634l0.2 2.8l1.8 -0.2M841.7 635.5l-1 -2.3l-2.3 0.6M849.1 633.5l-1.9 -1.5l0.4 1.6l-1.4 1.6M851.7 635.8l-0.8 2.8l-1.6 -0.7M857.6 636.1l-2.4 0.4l1.2 -1.7l-1.2 -1M870.3 635.3l-1.5 -1.4l-1.5 2.3l1.3 1.3M875.3 633.6l1.5 2.7l1.9 -1.5M880.3 635.6l0.1 2.7l2.1 -1l0.9 1.1M888.1 633.7l-2.5 1.3l-0.9 -2.4l1.2 -0.9M891 634.1l2.5 -1.6l-0.2 2.8l2.2 0.2M896.7 636.1l-2 0.3l-0.6 -2.1M902.9 635.7l-0 2l-2 -1.7l-1.1 1.6M908.2 634l-3.1 -0.5l-0.7 1.9M913.4 635.3l-2.4 -1.3l-0.2 3l-2.1 -0.3M919 634.3l0.9 -2l-2.3 -1.2l-1.4 1.4M927.4 633.4l-0.6 -2.6l2 -0.3M931 634.8l2.8 1l-0.8 -2.7l-1.6 -0.6M938.4 634.6l2.5 0.7l-1 -1.9M950 635.6l0.7 -2.9l-2.6 -0.6l-1 1.4M961 633.7l0.9 2.7l1.8 -0.2M965.3 633.7l1.1 -2.5l-2.5 0.3l-0.1 -1.4M971 635.7l-1 -1.9l1.6 -1.6l2 0.7M977.9 635.3l-2.2 2l1.7 1.4l1.3 -0.4M717.1 639.3l2.2 0.1l-0.8 1.7l-1.6 0.2M720.6 639.6l-1.3 -2.2l2.5 0.4l0.5 -1.2M725.9 641.2l0.1 -2.6l-2 0.2l0.1 1.3M731.5 638.6l-1.9 0.4l1.2 2.3M737.2 638.2l-2.9 0.2l0.1 -2.6l-1.8 0.1M743 640.3l1.6 -1.1l-0.1 2.1M750.8 641.5l-2.7 1.7l0.3 -1.6M755.5 639.8l1.2 -1.9l1.9 1.5M759.3 640.6l0.9 2.2l2.3 -1.2l0.7 1.2M765.8 639.8l-0.3 1.9l2 -1.3l-0.7 -1.5M773.6 639.9l2.5 0.7l-0.6 2M777 640.1l2.8 1.1l-1.7 1.9M782.2 638.5l2.5 1.1l-0.6 -2.1M790 639.4l-1.4 -2.2l1.4 -1.3l-0.2 -1.7M794 638.2l-3 -0.5l2.4 -1.4l-0.9 -1M800.1 640.7l-0.4 3l-2.3 -0.3l-0.7 -1.4M804 639.7l1.3 -2.2l-2.7 0.9l0.6 1.7M810.5 639.5l-2.7 -1.4l-0.7 1.5M821.7 640l-1.2 -2.9l-1.7 2.4M827.7 640.2l2.8 1.2l-1.3 2.1l-1.1 -0.5M832.9 639.2l1.8 -0.7l-1.5 -0.9M840.7 639.7l-2.4 -0.3l1.2 -2.1l-1.9 -0.8M845.7 640.6l1.8 0.6l-1.6 2.3l0.9 0.9M856.9 638.4l-2.8 -0.5l-0.1 2.1M863.1 639.7l2.9 -0.9l1 1.8M867.8 640.6l2.5 0.4l-1.8 1.2l0.9 1M873.5 640.2l-1.5 1.6l-1.3 -1.4l1.2 -1.2M878.5 640.9l-2 0.3l-0.8 -2.3M883.8 639.6l-0.4 2.4l-2.6 -0.6M889.9 640.9l-1.7 2.7l1.7 0.7l0.5 1.9M894.7 639.8l1.7 -0.8l-1.1 -2l-1.6 0.1M901.7 638.3l2.3 -0.2l0.2 1.7M907.4 640.3l2.2 0.3l-1.7 -1.7l-1 1.1M911.4 639.6l1.8 1.6l-0.2 -2l1 -1M916.6 640.5l2.4 0.6l-2.3 1.1M922.9 640.1l-0.6 1.9l2 -0.9M927.3 639.9l2.4 0.9l-2.8 1.1l-0.3 -1.4M935.4 639l-1.8 0.3l-0.8 -2.3l-1.5 0.3M938.7 639.4l1.7 2.2l1.3 -1.8M946.8 641.5l-1.5 2.5l-2 -1.7l0.3 -1.9M951.2 639.4l1.3 1.3l-2.3 0.2M955.9 641.5l1.8 2l1.5 -1.8l-1.4 -1.4M961.5 640.1l0.6 -2.4l-2.5 0.9M968.7 639.4l-1.1 2.7l-2.3 -1.2l0.8 -1.1M972.6 641l2 -0.7l0.6 1.6M720.1 645.5l-2.7 0.9l1.3 1.5l-1.4 0.8M728.6 646.3l2.8 1.5l-0.4 -2.7l1.4 -1.4M736.1 643.5l-2.3 -0.7l-0.2 2.1l-1.8 0.4M740.3 644l2 0.2l-0 1.7l2 -0.2M745.5 643.1l2.2 0.9l-1.3 2.2M753.3 643.9l1.7 -1.1l-0.3 2l-1.7 -0.7M758.7 645.5l-0.6 -3l1.7 -0.1l0.9 -1.8M762.8 643.1l1.2 2.1l-2.8 -0.2M769.1 644.7l-1.4 -1.4l-1.9 1.6M780.6 644l-1.5 -1.2l0 2.6l-1.8 0.7M787.4 644.3l-1.8 -1.5l-0.6 1.6l1.8 0.9M791.9 643.9l-0.7 1.9l2 -1.1l0.7 1.7M797.5 646l-0.3 2.6l-1.6 0l-0.3 -1.6M801.8 643.9l2.2 2.1l2.3 -1.7M813.1 645l1 -1.5l0.3 2.4M819.1 646.1l2.7 0.6l-2.1 1.9M825.4 645.9l-2.7 1l-0.5 -2.4l-1.3 0.3M832.4 645.5l-2.6 0.1l-0.2 -2.1M834.8 644.2l1.9 2.3l2.3 -1.8M840.9 646.3l0.6 -2.5l-1.9 0.5l-0.6 1.6M846.5 643.4l-0 -2.2l1.9 0.4M852.4 643.4l-1.8 0.7l2.4 1.5M859.6 644.7l0.8 -2.3l0.8 1.6l-1.6 0.9M865.4 644.5l-1 -2l-1.3 1.3M868.9 644.6l3 -0.7l-1.2 -2.7l-1.7 1.1M875.5 644.1l-1.8 2.4l-0.1 -1.8M880.8 643.8l3.1 0.4l-1.2 1.4M886.3 643.7l-0.7 1.8l2 -0l-0 -1.6M891.4 643.4l0.7 1.8l2.2 -0.3l0.4 1.2M904.3 645l-0.8 -2.2l2 -1.3M909.8 646.2l3 -0.1l0.3 -1.7M920.4 644.5l1.7 2.3l-1.6 0.5l0.5 1.3M925.5 645.7l0.4 2.5l-2.4 -0.1M933.1 646.2l-2.4 0.1l-0.2 -1.8l-1.2 0.3M936.3 645.1l-0.3 -1.9l-1.5 1.5M941.7 646.2l-1.2 2l2.4 0.8l1.1 -1.4M948.4 643.8l-2.2 0.8l0.5 1.6l-2.1 0.2M952.8 643.3l0.8 -3l-2.5 -0.7l-0.3 -2M961.3 646.2l-1.8 -0.6l-1.6 2.4l-1.3 -0.3M964.1 646.3l-2.1 -0.4l1.7 -2.4M970.4 646.2l1.7 -2.6l0.8 2.7M976.8 645.6l-1.4 -2.1l-1.3 2.6l-1.4 -0.6M716.3 648.1l-0.5 1.9l-2.6 -0.4M723.1 650.8l-0.4 2.3l2.2 -0.5M727.4 648.4l2.8 -1.1l-0.5 -2.4l1.3 -0M732.9 648.2l0.5 -3l2.4 1.8M739.7 650.7l0.5 -2.3l-2.4 -0.2l-0.2 -1.8M744.8 649l-1.6 2.7l1.9 0.2M751.2 649.8l0.3 2.4l1.5 -1.9M754.8 651.1l-1.8 1.3l1.9 1.7M761.9 649.8l2.1 2.4l1.5 -2.2l1.5 1.1M766.9 649.8l2.2 -1.7l0.2 1.9l1.7 1.1M771.5 649.3l-1.1 2.4l-2.1 -1M776.8 650.9l-1.6 2l-0.9 -2.1l-2.2 0.1M782.7 650.3l-1.2 1.7l-0.8 -2.1l-1.8 -0.3M787.3 648.9l-0.1 2.9l-2.1 -0.6M796 650.6l2.4 0.4l-1.7 1l-0.5 -1.4M801.2 648.3l0.2 1.9l1.5 -2.1M806.2 650.4l1.4 1.8l1.2 -1.9M811.8 651l-1.1 2.7l-1.1 -1.9l-1.7 -0M817 649.4l-1 2.9l-1.1 -1.6M822.1 650.8l-2 0.3l0.8 -2M829.3 650l0.7 -2.8l1.4 1.9M835.1 649l2.2 -1.9l-1.5 -1.2M839.9 649l-0.1 2l-2.4 0.1l-0.6 1.1M843.5 649.9l1.5 -1.2l-0.4 2.9M851.7 650.4l0.2 -2.9l1.9 1.4M856.7 649.5l-1.2 2.5l-1.1 -1.2l1.2 -1.2M861.9 648.5l1.5 1.6l-2.1 -0l-0.6 -1.3M867.3 649.3l-1.3 2l2.8 -0.3M874.3 651.2l-2.5 -1.4l1.5 -2.1l-0.7 -1.1M876.9 648.5l-1.4 2.5l2.4 1.6l0.8 -0.9M882.5 650.3l0.1 -2l1.6 0.4l-0.2 2.2M896.4 649.7l2.2 0.5l-1.5 -2.3M901.2 650.7l1.8 -1.8l-0 2.1l-1.1 0.8M908 648.6l0.5 -2.3l0.8 1.5l-1.1 1.1M910.3 650l-0.8 1.7l1.7 1.3l-0.8 1M917.4 651l-2.1 0.2l1.6 -2.3l1.5 1.6M929.2 650.5l2.2 -0.8l-0.8 2M935.6 648.8l-0.6 2.4l1.8 1M940.2 649.6l-0.8 1.8l-1.1 -1.3M946.9 648.9l1.5 2.4l1.7 -1.4M951.6 648.6l1.9 2.1l1.6 -1.8l-1.2 -1M958.2 651.1l-0.9 -1.8l-1.1 2.8l0.8 1.1M961.5 650.7l-0.2 2.7l1.7 -0.4l0.6 1.5M974.2 648.1l2.5 -1.6l1.8 1.9l2.1 -0.4M980.7 648.4l0.7 -1.8l0.6 2l1.6 -0.9M720.3 655.9l-1.4 -1.1l-1.7 1.3l-1.3 -1.4M723.4 653.8l0.3 2.7l-1.6 -1.5M728.5 655l-2.3 0.9l1.2 2.6M734.5 653.2l0.9 -3l-1.8 0.6l0.4 2M741.5 653.8l-2.5 -1.1l-0.3 1.6M748.2 655.4l2.7 0.4l0.5 -2.7M751.4 652.8l-2.6 -0l1.7 2.1l1.8 -1.2M758.2 655.8l-1.8 -2l2.4 -0.6l0.7 1.6M764.3 654.1l1.4 -1.9l1.3 2.1l-1.4 1.1M768.8 656.1l0.3 -2.6l1.5 1.1l1.1 -1.4M774.5 654.2l1.4 -2.4l2.6 1.2l1.2 -0.7M780 652.9l-0 2.4l-2.1 -1.1l-1.7 1.2M785.4 655l2.2 1.5l-0.8 2l1.3 0.8M790.7 654.8l0.7 2.5l1.6 -1.5l-0.8 -1.5M798.4 655.7l0.2 2.4l-2.2 -1.5M801.8 655.6l-1.2 1.4l-2.4 -1.1l-0.7 1M809.8 654.5l2.6 -0.3l-0.2 2.1M815.2 655.7l2.2 1.6l1.8 -2.1l-1.4 -0.9M818.3 655.8l-0.7 1.7l1.9 -0.9l0.4 1.3M826 656l0.4 -2.3l-1.7 1.2M830.5 653.4l2.3 1.1l0.4 -2.1M838 655.4l-3 0.4l1 2.3l-0.7 1.2M840.3 655.4l-1.3 -2.5l1.9 -1M846.8 655.5l2.5 -0.1l-0.9 -1.7M852.8 654.9l-2 1.4l1.2 1.8M860 655.3l0.8 -2.7l1.5 2.4M862.8 653l3.2 0.3l-1 -1.7l1.7 -0.9M871.5 653.8l0.8 2l-1.5 0.7M875.2 656l-0.4 1.8l-2.1 -1M882.8 655.9l3.1 0.7l0.1 2.7M887.2 655.2l2.3 -1l-1.7 -2.3M891.1 655.3l2.3 -0.1l0 2.2l1.1 0.6M899.5 654.9l2 0.1l-2.4 1.7M903.6 653.8l-0.1 -2.5l-1.5 1.4M910.7 655.3l-2.4 0.5l1.6 1.8M915.2 653.6l-1.9 0.6l0.1 1.8M919.7 654.4l-1.9 0.5l0.1 -2.6l-2.1 0.2M925.5 654.6l1.4 -1.9l-2.1 -0.4l0.5 -1.1M930.2 655.7l-1.9 0.7l0 -2l1.3 -1M938.6 653.7l0.8 2l1.2 -1.9M944 653.4l-0.2 1.9l-2.7 -1.2M947.9 653.7l2.7 -0.1l0.3 -2.5l-1.2 -0.3M953.3 655.3l-1.2 2l-1.8 -1.2l-0.8 1.9M958.7 653.1l2 -1.1l-0.7 2M965.8 656l-1.6 -2.4l2.5 0.5M970.6 655.7l-0.2 -2l2.1 -0.8M975.6 653.8l-1.4 -1.6l-0.5 2.6l1.4 0.8M715.2 660.4l2.3 -1.8l-2.3 -1.8M720.4 659.6l1.7 -1l-0.3 2.8l2 -0.2M726.4 658.2l2.2 0.4l-1.6 -2M732.4 660.6l-1.8 1l2.2 0.3M738.5 660.3l2 0.4l-0.6 -2.4l1.5 -0.8M744.8 659l0.3 2l1.5 -2l-0.4 -1.3M750.3 658.4l-1.5 -2.4l2.3 -1.2l-0.4 -1.3M756.3 659l2.2 1.9l-2.3 0.5M759.6 658.4l0 2.5l-2.9 -0M766.7 658.1l1.6 0.9l0.4 -2l1.9 0.3M771.3 658.9l-2.6 1.1l1.4 1l-0.4 1.9M778.4 658.4l0.6 2l1.9 -0.3l0.4 -1.8M781.8 659.9l-1.9 -0l0.4 -2M788.4 658l0.9 1.9l0.9 -1.4l1.2 0.3M799.5 658.3l-2.6 0.5l0.8 -2.4l-1.2 -0.1M804.5 659.9l-2.2 -1.6l-1.8 1.7M812.8 657.9l-0.3 -2.9l-1.8 0.9M815.3 658.9l1.7 -2.6l1.4 1.6l-1 1.9M822.5 658.4l-1.5 2.6l-2.5 -0.9l-0.6 2.1M829.3 657.9l-1.7 0.6l1.1 -2.2M832.8 658.1l0.4 -2.3l-2.2 0.4l-0.6 1.1M839.9 659.6l1.8 -0.6l-0.6 2.6M845.3 661l-2 2.2l1.1 1.6l-0.6 1.5M851 658.7l1 -2.6l-2.1 -1.1l-1.1 0.7M856.2 659.4l1.8 1.3l-1.7 1.1l0.5 1.7M867 658.7l0.6 -1.9l-1.9 -1M872.6 660.4l2 0.4l-1.1 2.7l-2.1 -0.4M879.7 657.7l2.3 0.4l0.4 -1.6M885.1 658.1l-2.4 -1.4l1.4 -2.5l1.8 -0.2M889.3 657.9l2.4 1.9l-1.7 0.5M894.9 658.6l2.1 0.4l-1.2 2.4l-1.3 -1M902.3 659.7l-0.4 -2.9l-1 1.7l-1.7 -1.2M907.8 658.6l-1.1 -1.5l-1.9 1.3M919.2 660.8l-0.3 -2.1l-2 1.2M922.7 660.9l1.6 1.9l-1.5 1.2M929.2 658.5l-2.7 1.6l2.3 0.9l0.2 -1.2M933.7 657.8l2.1 0.7l-1.9 0.6M946.1 658.6l-2.1 -0.6l1.1 1.5l1.7 -1.1M949.7 658.2l2.3 -0.5l-0.9 -2.4M956.3 659.5l1.5 -2.5l1.7 2.1l1.3 -1.7M967.8 659.6l1.4 1.4l2 -1.3l-0.2 -1.8M972.4 661l-2.9 1.1l0.4 2.3M718.4 664.5l-1.1 2.3l2.2 0.9M724.5 665.9l-2.4 0.2l-0.1 -2.3l-1.9 -0.6M729.3 665.7l3.1 -0.3l-0.5 -2.2M735.7 663.2l-2.8 -0.2l0.6 -2.1l-1.4 -0.2M740.2 665.7l1.6 0.8l-0.9 1.9M748.2 665.5l-1.6 -2.4l2.2 -1.3M752.9 662.6l0.8 2l1 -1.6M758.8 664.2l-0.7 1.8l-1.7 -1.2M762.1 662.9l-2.2 -0.4l1.8 -1.7M767.8 663.3l0.3 -3l-1.7 1.4M775.3 664.7l-0.9 -2.5l2.1 1.4M779 665.6l0.9 2.2l2.3 -0.6M784.9 663.7l-0.3 -2.8l-2.5 0.5M792.2 665.9l1.5 1.1l0.1 -1.6M798.4 662.8l1.3 -1.6l-1.4 -1.2l0.8 -1.1M804.4 663.5l1.3 1.3l-2.2 0.2M807 662.6l-1.8 -2l1.9 -1.2l-0.7 -1.1M814.7 663.3l-2.5 -1.3l-0.6 1.7l1.5 1.2M819.7 664.5l-0.7 -2l2.5 -1.6M825.9 665l-0 -3.1l-1.5 1.3M831.8 663.7l-1.7 2.4l-1.8 -1.2M836.9 663.2l1.7 -1.1l-0.8 -1.4l0.9 -1.5M842.9 663l0.3 2.1l1.6 -0l-0.3 1.3M847.1 665.8l-2.4 -0.5l0.6 1.8l1.2 -0.5M851.9 664.2l0.2 -2.6l2.6 1.2M868.7 664.7l2.3 -1l-0.5 -2.2M875.5 664.2l-0.7 -2.3l-1 2.4M880.4 665.5l1.7 1.1l2 -2.2M887.5 665.8l0.2 2.1l2.2 -0.4M893.8 663.8l-2.4 -1.1l0.7 2.8M898.6 665.7l-1.8 -1.9l1.6 -1.9l1.3 1.7M904.7 664l0.1 2.2l1.1 -1.4M909 663.2l0.7 -2.7l2 1.8l1.8 -0.8M915.7 663.7l-0.2 2.1l2 -1.9l1 0.9M918.7 663.9l-0.5 -1.8l-2.1 1.5M924.7 664.7l-1.8 1l-1.3 -1.4M930.8 663.9l-2.3 -0l1.1 -1.3M937.7 662.9l-2.4 0.6l1.2 2.1M941.6 663.5l-0.1 2.7l-1.7 -0.6M948.2 663.6l-1.2 2.1l1.7 -0.5l1.3 1.2M953.4 663.7l-1.1 -1.6l-0.7 1.7l1 0.8M959.4 664.6l1.3 -2.5l-2.5 -0.7M965.5 664.1l-0.1 1.8l2.3 -1.8l1.3 1.7M972.2 664l1.8 -0.6l-1.6 -2.3M975.4 665.6l-0.3 2.6l1.7 -1.8M720.3 669.1l0.1 -1.9l-1.3 1.2M728 668.6l-1.9 -0.1l0.4 -3l1.3 -0.4M731.4 669.5l-3 -1.1l1.6 -1.1M737.8 670.7l-2.2 -0.2l-0.1 2.4l1.3 0M744.8 667.8l-1.4 -2.1l1.3 -1.1M749.7 668.3l2.1 1.7l-0.9 1.5M755.7 669.5l-2.6 -1.7l-0 2.1l1.8 1M759.5 670.1l-3.1 0.2l-0 2M765.7 667.9l-0.3 1.8l1.9 -1.5l1.1 1.7M770.5 669.8l-1.3 2.3l-1.1 -1.3M777.2 668.1l1.9 1.5l1.2 -1.7M782.8 669.9l-1.7 2l2.1 1.9l-1.3 1M790.3 670.3l-1.5 1.1l0.4 -2.1l-1.9 -0.4M794.6 669.6l-2.2 -1.6l0.3 2.2M800.1 667.7l2.5 0.3l-0.2 -2.6M806.4 670l2.7 -1.5l0.7 2.4M810 670l-1.6 -2.2l2.3 0.5l-0 1.5M817.6 670.7l-0.5 -2.9l2.3 -0.8l-1.2 -1.8M823.4 669.1l-2.3 -0.6l-0.5 2.1M826.9 670.4l0.9 1.7l1.1 -1.4l-1.2 -1M834.3 668.4l2.1 0.9l-0.4 1.8l-1.9 0.7M840.2 669l-2 0.7l-0.8 -1.9M845.3 667.7l1.2 2.4l-2 0.5l-0.1 -1.5M856.9 669.5l-2.3 -0.8l1.8 -1.3l1.2 1.8M862.3 667.6l-2.2 1.8l2.6 1.4M866 669.6l-2.5 1.5l-0.9 -1.7M873.2 668.2l2.4 1.3l0.5 -2.9M877.6 670.1l-1.9 -0.4l1.6 -0.9l1.3 0.9M884 668.5l-3 -0.4l-0.1 2.1M889.8 668.7l-0.8 2.2l2.9 0.6l0.2 -1.7M896.7 667.8l1.9 -0.1l-0.5 2.3M899.6 670.7l0.9 -2.4l-2.5 0.4l-0.9 1.6M906.9 669.5l-2 -0.9l1.7 -0.6M913.4 670.8l-0.4 -2.6l1.8 -0.1M924.5 669.8l-3 0.7l0.7 -1.8l-1.2 -1M928 668.1l0.8 -1.9l2.1 0.9l0.6 -1.8M933.8 668l2 2.3l0.4 -2.6M938.3 668.2l-2.2 0.5l-1.2 -2.3l1.1 -0.6M946.8 668l-0.4 -2l-1.4 1.4M951.1 669.2l0.2 -2.4l1.7 1.6M956.4 670.8l2.3 0.5l-0.7 -1.7M963 669.8l2.3 -1l-1.3 -2M969.4 669.4l0.1 -2.4l-2 1.2M973.4 670l-0.1 3l1.5 -1.7l-0.9 -0.8M978.5 670.4l1.5 1.9l-2.4 -0.5M719.9 672.4l0.9 -2.2l-2.9 0.4M730.4 672.8l2.6 0l-1.2 2l-1.8 -0.1M735 674.1l-0.2 3.1l2.3 -1.1M742.7 673.6l1.6 1.1l-1.6 0.2M745.4 674.3l-2.8 1.4l2.9 0.6l0.3 -1.3M751.5 675.6l-1.2 2.2l2.5 -0.8l0.5 -1.7M756.4 673.1l-1.5 -2l-1.3 2M764.4 673.8l2.7 1.6l-0.9 2.8M769.6 674.9l2.2 0.7l-2 1.1M773.2 674.7l1.7 -0.7l-2.6 -0.9M780.9 673.4l2.8 0.8l-0.6 -2.3l-1.8 0.8M784.9 675.3l-1.6 2.2l1.6 -0.3M793 673.7l-1.8 -2.6l1.6 -0.8l0.2 -1.4M798.4 674.5l-1.8 2.4l1.8 1.4M801.2 675.6l1.5 -2.1l0 2.1l1.9 0M809.3 673.2l0.1 -2.7l1.8 -0.1l0.4 2.1M815.2 674.4l0.9 -1.6l-1.6 0.3l-0.3 -1.3M818.1 672.5l-0.2 -1.8l-1.3 1.4M826.2 675.1l2.5 1.9l0.9 -2.7M835 672.6l1.3 1.5l-1.6 0.4M841.8 673.3l-1.7 -2l2.4 -0.1l0.3 2.1M853.5 675l1.4 -2.1l-2.2 -0.5l-0.4 -2M858.2 674.8l2.7 0.4l-2.4 1.4M868.4 675l1.8 -0.1l-0.8 2.2M876.7 674.7l-2.8 -0.3l0.1 -2.2M879.9 674.5l-1.4 -2.5l-1.9 1.8M887.4 674.3l0.2 2.4l-2.5 0.6M891.9 672.7l1.8 2.6l2.5 -1.5M898 674.1l-3 -0.3l-0.5 2.2M902.6 672.6l-1.6 1.7l-0.7 -1.6M910.4 675.1l2.1 1.8l-1.5 1.7M913.8 673.5l-0.1 2.9l-1.9 0.3M926.2 673.4l0.2 -2.1l1.7 0.2l0.9 1.6M930.8 672.6l-2.2 1.4l0.4 -2.2l1.3 -0.7M938.4 673.6l-1.6 -2.4l2.6 0.4M943.6 673.5l1.2 -2.2l2.2 1.2M949.8 672.8l-2 2.3l-0 -2.7l1.8 -0.2M953 674.6l-2.2 -1.1l2.9 -0.6l0.8 -1.7M958.7 672.9l0.5 -2.5l2.1 0.7M965.4 674.9l0.8 -2.2l0.6 1.6l1.4 -0.7M969.5 674.4l-1.9 2.2l-0.8 -2.4l-2 -0.4M977.9 674.2l-1.4 -2.6l2.5 -1.6M717.6 680.5l1.6 2l-1.7 -0.1l-0.8 1.7M721.8 677.4l-2 2.1l-0.8 -1.5l1.4 -1.6M728.3 678.6l2.4 2.2l-0.9 1.4l1 0.7M736.8 679.9l-0.1 -2.7l-2.7 0.1l0 1.8M744.5 678.5l1 -2.5l1.2 2M754.7 679.2l-1.7 1.8l-1.1 -2.1M767.3 677.3l0.3 2.2l2.7 -0.1M771.7 677.7l2.9 -0.2l-1 -1.6M776.4 679.3l2.5 1.6l-2.9 0.4M781.7 678.3l-1.5 1l2.7 1M789.9 677.2l2.7 -0.6l0.1 -2.5l1.4 0.1M795.6 677.7l-1.9 -1.5l-1.3 1.1l0.1 1.3M799.4 680.3l2.5 0.9l-0.5 -1.7l1.4 -1.2M805.5 678.9l0.6 -2.5l-1.8 0.6l0.8 1.8M810.5 677.3l0.7 1.7l1.9 -0.4l0.2 -1.3M822 678.6l-0.4 2.7l1.9 0.3M828.8 680l3 1.1l-2.2 0.9M834.3 679.2l-1.4 -1.5l-1.1 1.2M839.3 678.8l1.7 1l-2.6 0.5l0.3 1.3M846.5 677.3l-1.9 1l1.2 2.3M849.1 678.9l-1.1 -1.9l1.7 -0.9l-0.2 -1.6M855.9 678.3l-1.1 1.5l-2 -1.6M861.7 678.8l-2 0.1l1 -1.7M868.4 679.4l-1.8 0.7l1.5 1.6l1.9 -0.8M873 680.4l-1.2 -2.5l-1.5 1.8M876.9 679.5l-1.4 1.4l2 1.9M896.2 679.9l-0.6 2.4l-1.9 0l-0 -1.2M901.3 677.3l1.2 2.2l1.6 -0.7M907.5 677.3l-2.1 0.5l0.8 2.3l2 0.6M911.5 679.3l2.2 0.1l-1.5 -2.2M917.6 680.5l-1.9 1.2l2.5 1.7M922.5 679.2l-1.5 -2.7l-1.5 0.9M927.4 680.2l-1.4 -1.6l-2.2 1.3l-1.1 -0.5M935.4 679.8l-1.4 -1.6l2 -2.1M938.8 679.1l0.4 -2.2l2.1 -0.1l0.7 1.2M944.3 678.8l-1.7 -0.8l-1.4 2.6M952.7 680.2l-2.4 0.2l1 -2.2l-1.6 -0.4M958.2 679.7l1.2 2.1l-1.8 -0.6l0.1 -1.5M962.5 679.7l-1.6 2.7l1.6 1M972.6 677.7l-1.5 1.6l-1.1 -2.2l-1.2 -0.1M978.9 679.1l-1.8 -0.7l-1.2 2M718.3 683.4l-1.4 -2.4l-0.3 2.4M723.5 684.5l-0.1 -2.6l-1.6 1.1M729.5 684.2l2 -1.4l-2.1 -0.5l-1.4 1.3M736 683l2.1 1.8l-2 2M741.5 683.1l2.2 2.2l0.5 -2.9M748 682.9l-1.6 -1.7l-1.5 1M751.9 683l-1.7 -1l1.8 -1.5M758 682.4l0.7 -2.6l-1.9 -1M764.6 682.7l0.8 -2.5l-2 0l-0 1.8M769.2 684.7l1.8 -1.4l1.3 1.1l1.1 -0.5M774.3 682.7l-1.9 0.5l0.4 1.8l1.8 -0.6M785.6 682.6l2.7 -1l-0.9 2.2M792.9 684.2l-2.4 -0.9l-0.3 1.9l1.3 1.1M796.8 684l-1.5 2.7l-0.5 -1.7l-1.9 -0.5M806.8 685.1l0.6 -2.5l-2.6 -0.2M812.5 682.4l-2.4 1.7l2.1 0.5M820.1 683.7l-3 -0.6l0.5 -2.1M824.8 684.6l1.3 1.9l1.6 -1.6M831.8 685.3l-1.5 2.2l-1.5 -1M840.9 685l-1.9 0.4l0.9 -2.6l1.4 -0.4M846.4 683.1l1.7 0.9l0.5 -2.4M851.8 682.8l-0.1 -2.7l2.2 -0.7M857.3 685.4l-0.6 -2.5l-2.2 0.9M864.6 685.1l2.5 0.2l-0.9 -2.6M869 683l-0.1 2.9l-2.7 -1.1M875.7 685.2l-2.1 1.7l0.1 -2.3l-1.4 -0.1M880.9 684.3l-1.5 2.2l2.8 -0l-0.1 1.9M886.3 684.6l-2.1 -0.6l0.9 -2.8M893.9 682.3l2.1 -1.7l-1.9 -0.4l-0.6 -1.7M898 682.3l0.2 1.9l-2.4 -0.4M903.3 682.2l1.9 1.7l-1.3 1.8M909.3 685.1l0.4 -2.1l-2.6 0.5M913.8 683.7l2.5 0.9l0.5 -2.3l2 -0.2M921.5 683.1l1.3 -2.4l0.5 1.9M925 683.9l3 -0.8l0.1 2.7l1.8 1M930.5 682.1l-0.6 2.1l-1.2 -1.2M937.2 682.5l-1.2 2.8l-1.4 -2.1M941.4 684.3l2.1 1.5l-1.5 1.1l0.7 1M948.3 684l2.7 1.6l0.9 -2M955.6 684.8l2.4 0.4l0.1 -2.7l1.9 -1M960.1 683.9l0.3 -2.1l-2.6 -0.4l-0.9 1.5M964.3 683.3l2.5 0.7l-2.1 2M971 684.9l-0.4 2.3l-1.8 -0.9M975.2 683.4l2.2 -0.1l-1.1 -1.5M716.9 688.4l-1.8 -1l1.8 -0.6M722.1 687.2l0.4 2.8l-2.1 0.7l0 1.2M725.8 687.4l0.1 -2.9l1.9 0.5l0.5 -2M733.7 689.2l-0.6 -2l1.6 0.4M738.5 689.8l1.7 0.9l1 -2M743.3 688.7l1.6 2.7l-2.1 -0.2l-0.1 -2M750 687.5l0.1 -3.1l-1.6 -0l-1 -1.8M755.4 687.1l1.5 -1.5l2 1.2l-0 1.7M761.8 687.7l-2.3 -2.2l-0.2 1.9M767.9 688.8l0.8 2.2l1.4 -1.5M773.4 689l-0.2 2.1l2 -0.2M778.3 688.9l-1.9 0.2l0.5 2.9l1.6 0.5M784.4 689.3l-2.9 0.6l1.1 1.2M787.2 687.3l-1.6 1.8l0.2 -2.5l1.2 -0.4M793.6 689l0.9 -2.7l-1.9 0.3M799.7 686.9l2.4 0.1l-1.2 -2.6l-2.1 0.4M806.5 688.3l-0.2 -2.7l1.4 1.1l-0.1 1.2M812.1 690l-1.9 -2.6l2.2 -0.9l1.2 0.7M817.1 688.2l-2.1 -0.6l2.2 -1.9l0.9 1.5M822.5 689.2l2.4 0.1l-0.5 -2.2l-1.7 -0.4M829.5 687.9l1.8 -0.3l-1.9 -1.1M835.2 690.1l1 2.9l2.1 -1.2l0.8 1M838.4 688l0.5 -2.2l2.7 1.1l-1.3 1.8M843.4 688.8l-0.3 2l-2 -1.5l-1.3 0.5M851.1 688.4l-1.1 1.7l-0.3 -1.9l2.1 -0.1M854.9 689.1l1.2 2.2l-2 1.8l-1.1 -0.9M861 689.6l2.5 0.8l-2.5 1.2M867.8 688.5l1.5 -1.6l-2 -1.6M877.6 689.1l2.2 -1.5l-1.4 -1.8M885.2 687l2.4 2l0.4 -1.6l-2 -0.4M890.5 688.4l2.2 0.1l-0.8 -2.7M895 687.2l-3.1 -0.3l0.4 2.9M902.2 690l2.6 0l-0.8 -2.5M905.9 689.1l2.3 1.3l-1.6 0.4l-0.6 2M917.1 688.3l1.8 1.3l0.7 -1.9l-1.4 -0.8M924.8 689.3l0.6 2.6l2.2 -0.3l0.2 1.4M930.4 690.1l1.1 1.9l0.7 -2.4M934.5 689.6l-0.5 2.4l-1.7 -0.8l-1.4 0.7M939.9 689.4l-0.9 -1.7l-0.2 1.6M946.6 689.3l1.8 -0.1l-1.2 -1.5M951.5 689.5l0.1 -2.8l2.8 1l0 2.1M958.4 687l1 -2.4l-2.4 0.8l-1 -1.9M963.9 689.9l-2.3 -1.4l-1 2.4l-1.3 -0.6M973.8 689l-2 -0.5l2.7 -1.3M978.7 689.8l-1.6 -1.5l-0.7 1.9" fill="none" stroke="#0d0d0d" stroke-width="1.4" stroke-linecap="round" stroke-linejoin="round" clip-path="url(#cFR)"/>
<line x1="244" y1="464" x2="656" y2="685.3" stroke="#0d0d0d" stroke-width="2.8"/>
<line x1="244" y1="489.5" x2="656" y2="715.1" stroke="#0d0d0d" stroke-width="2.4"/>
<line x1="716" y1="671.4" x2="980" y2="532.7" stroke="#0d0d0d" stroke-width="2.8"/>
<line x1="716" y1="692" x2="980" y2="557.7" stroke="#0d0d0d" stroke-width="2.4"/>
<line x1="271" y1="431" x2="330" y2="400.7" stroke="#0d0d0d" stroke-width="2.6"/>
<line x1="929" y1="479.5" x2="968" y2="500.3" stroke="#0d0d0d" stroke-width="2.6"/>
<polygon points="199.8,441.2 244,463.4 244,491.9 199.8,469.7" fill="#fff" stroke="none" stroke-width="1" stroke-linejoin="round"/>
<clipPath id="cbLa"><polygon points="199.8,441.2 244,463.4 244,491.9 199.8,469.7"/></clipPath>
<path d="M198.6 442.7l1.2 1.6l0.5 -1.6M206.9 441.7l-2.6 -1.8l1.3 -1.9l1.9 0.1M209.4 442l1.7 -2.4l-1.5 -1.5M216.5 441.6l-0.8 -2.9l-2.7 0.1M223.5 440.5l0.3 2.6l1.5 -2.3M229.2 440.5l-0.3 2.4l2.2 -0.5l0.1 -2.2M234.4 440.9l2 0.1l-0.8 2M238.8 439.9l-1.8 -0.6l0.2 2.3M201.1 445.6l-0.2 3l-1.6 -0.1M209.3 445.4l-0 -1.8l-1.7 0.7l-1.1 -0.9M212.4 445.8l-2.1 0.3l0.6 2.8M217.9 446.6l0.2 -2.9l1.5 1.3l-1.3 1.7M232 446.2l-1.5 -1.6l2.6 -1l-0.6 -1.8M236.1 447.3l-2 -1.6l1.2 -2M242.2 446.5l-2.5 0.9l1.8 0.6l1.7 -1.4M201.3 451.5l0.4 2.5l1.6 -0.9l-0.7 -1.7M205.1 452.1l2.2 0.4l-1.1 2.1l1 1.8M210.2 450.8l2.5 -0.1l0 -2.5l1.8 -0.4M216.3 450.1l2.5 1.3l1.2 -2.2M223.3 451.2l0.6 3.1l-1.6 0.4l-0.4 -1.3M228 452.4l-1.4 -1.3l1 -1.7M232 452.5l0.4 -1.8l-1.9 -0.7M237.7 451.7l2.4 -1.4l0.2 2.4M202.4 454.4l-0.7 -2.6l2.6 -0.1l-0.3 -1.9M206.9 456.8l0.7 2.2l2 -1.8l-0.5 -1.2M213 454.8l1.6 2.5l-1.5 1.1M221.1 454.4l1.3 -2.9l-2.8 0.1M225.3 454.3l2.5 -0.7l-2.1 -1.1l-0.1 -1.3M237.1 454.6l1.1 1.9l1.2 -2.4M241.1 455.3l2.2 1.2l-2.3 0.3M201 460.3l1.1 1.7l2.2 -1.9l1.3 0.9M206 459.6l1.8 -0.6l0.6 2.8M211.1 461.7l1.9 -1.1l-1.9 -0.7l-1.5 0.9M216.2 459.5l1.8 1.5l1 -2.2M227.3 460.5l1.3 2.5l-2.3 1.8l-1 -1.1M234.9 460.5l2.4 1.4l0.4 -1.6M237.4 460.5l0 -2.7l1.4 1.7l-0.7 1.4M201.5 465.7l-0.2 -2l-1.5 1.1l0.9 1.5M207.7 464.4l-2.7 -0.8l-1.1 1.9M214 464.3l0.1 2.6l-1.6 -1.6M220.7 466.8l-1.6 1.1l0.2 -1.7M224.6 464l-2.2 -1.5l0.2 1.7l-1.3 0.9M229 465.9l2.6 1.8l0 -1.9l-1.7 -1.3M234.9 465.7l-1.3 1.5l1.6 1.2M241.7 464.5l0 -2.9l2.1 -0.5M206.9 469.4l0.6 -1.9l-2.5 0l-0.6 -1.4M210 470.2l-1.2 -1.8l2.4 -0.6l0.9 1.6M223 471.4l0 1.9l2.3 -1.2l1.2 0.8M229.3 469.6l-2.9 -0.9l2.7 -1.2l-0.4 -1.3M234.4 469.8l2.4 1.6l-0 -2.4l1.3 0.1M239.9 469.3l-0.2 -2.9l-2 1l-0.7 -1.2M202.4 476.5l-1.8 -0.5l0.9 2M209.2 474.4l-1.8 -0l1 -2.8l1.3 -0.2M213.2 474.6l-1.5 2.5l2.6 0.4M219 475.1l-1.8 0.8l1.8 2l1.8 -0.6M223.4 473.8l-2.6 -0.8l0.8 -2.6M230.1 476.4l-2.1 -0l1.3 -1l-0.6 -1.5M236.3 474.7l-1.2 -2l-0.5 1.9l-1.4 -0.1M241.4 475.3l1.8 -0.8l-0.6 2.9l1.5 0.4M201.3 479.1l1.9 -0.1l-1.8 -1.8M204 480.5l1.9 0.2l0.2 -2M212.1 480.3l1.8 -1.6l0.2 2.3M216.7 479.9l-1.3 2.1l-0.4 -1.7l1.2 -0.2M221.3 479.6l1.7 -2.4l2.3 1.1M227.7 478.8l1.8 -1.9l0.8 2.2l1.7 -0.5M233.8 480.5l2.1 2.1l1.3 -2.2l2 0.8M240.6 479.5l-1.8 -2.2l1.9 -1.3M202.9 485.4l1.9 1.8l1.6 -2.2M206.8 483.4l-1.7 -1.1l2.7 -1.2M212.6 485.1l-0.1 2.4l2.7 0.9l-0.6 1.8M219.4 484.9l0.9 -2.4l-2.1 -1.1M225.9 484.5l0.7 1.8l-2.1 -0.6M231.8 483.8l-3 -0.4l1.6 -2.2l-0.7 -1.3M235.4 484.9l-0.3 2l2.2 -0.4M240.6 484.6l2.3 -1.8l1.1 2.1M200.8 491.4l1.1 1.7l1 -2.8M211.2 491l-1 1.8l2 1.1l1.3 -1.4M215.2 489.7l2.3 -2l-1.3 -1M222.4 491l0.9 -2.3l-1.7 -1.2l0.7 -1.1M235 489.2l-2.1 -0.1l0.2 1.6M238.2 489.4l-0.8 -1.8l-0.6 1.7l1.1 0.8" fill="none" stroke="#0d0d0d" stroke-width="1.4" stroke-linecap="round" stroke-linejoin="round" clip-path="url(#cbLa)"/>
<polygon points="199.8,441.2 244,463.4 244,491.9 199.8,469.7" fill="none" stroke="#0d0d0d" stroke-width="2.6" stroke-linejoin="round"/>
<polygon points="199.8,441.2 242.9,418.8 282.2,441.9 244,463.4" fill="#fff" stroke="#0d0d0d" stroke-width="2.8" stroke-linejoin="round"/>
<ellipse cx="243.5" cy="439" rx="13.3" ry="9" fill="#fff" stroke="#0d0d0d" stroke-width="2.1"/>
<path d="M231.3 441 A12.6 8.2 0 0 0 255.7 441" fill="none" stroke="#0d0d0d" stroke-width="1.3" stroke-linejoin="round" stroke-linecap="round"/>
<ellipse cx="243.1" cy="441.3" rx="8.3" ry="3.7" fill="#fff" stroke="#0d0d0d" stroke-width="1.3"/>
<rect x="240.8" y="430.2" width="4.6" height="10.6" fill="#fff" stroke="#0d0d0d" stroke-width="1.3"/>
<line x1="237.5" y1="432.8" x2="240.8" y2="432.4" stroke="#0d0d0d" stroke-width="1"/>
<line x1="245.4" y1="432.4" x2="249.5" y2="433" stroke="#0d0d0d" stroke-width="1"/>
<polygon points="977.5,530 985,534.5 985,562 977.5,557.5" fill="#fff" stroke="none" stroke-width="1" stroke-linejoin="round"/>
<clipPath id="cbRa"><polygon points="977.5,530 985,534.5 985,562 977.5,557.5"/></clipPath>
<path d="M980.4 533.9l-2.3 -0.8l0.8 1.7M976.2 541.4l1.5 -1.3l-2.2 -0.1M981.6 538.5l0.2 2l-2.8 1M980.9 545.3l-2.8 -0.7l2.5 -1.1l0.3 -1.5M981.8 550.7l1 1.9l1.4 -1.3M980.3 555.6l2.8 -0.8l-1.1 2.5M976.3 558.3l2.4 -1.8l-0.1 2.6M984.7 558.7l1.9 0.5l-1 1.3l-1.1 -0.6" fill="none" stroke="#0d0d0d" stroke-width="1.4" stroke-linecap="round" stroke-linejoin="round" clip-path="url(#cbRa)"/>
<polygon points="977.5,530 985,534.5 985,562 977.5,557.5" fill="none" stroke="#0d0d0d" stroke-width="2.6" stroke-linejoin="round"/>
<polygon points="985,534.5 1029,512.5 1029,540 985,562" fill="#fff" stroke="none" stroke-width="1" stroke-linejoin="round"/>
<clipPath id="cbRb"><polygon points="985,534.5 1029,512.5 1029,540 985,562"/></clipPath>
<path d="M986.3 513.6l-2 -1.1l1.8 -2.2M989.4 513.3l2.5 0.9l-0.1 -2.4M996.5 514l-2.4 0.7l0.4 1.6M1002.6 511.6l-2.5 0.6l1.3 1.9l-0.7 1.3M1007.2 512.6l-2.2 0.3l0.9 1.7M1014.5 512.6l1.4 1.2l0.3 -2.4M1019.7 513.9l-2.7 -1.1l-0.4 1.9l-2 0.4M1022.8 512.1l1.6 1.4l-1.1 2.1M988.1 517.1l2.4 0.9l-0.1 -3l1.7 0M994.7 516.1l1.9 -0.8l1.5 2.2l-1 1.3M998.1 517.5l-1.9 0.3l1 -1.8M1006 517.1l-2.1 0.8l1.4 0.9l1.2 -0.8M1010 518.2l1.9 1l-0.9 2.7M1014.3 518.4l2.1 -2.3l2.1 1.4l-0.4 1.2M1022.1 518.7l-1.5 1.7l2.1 -0.3M1028.3 516.3l-2.1 1.5l-0.5 -2.7M986.1 521.3l0.8 -3l1.3 1.6M991.1 520.6l0.6 -1.9l2.2 0.9M995 520.8l-2.6 -1.5l2.5 -1M1001.4 521.8l0.9 2.1l1.9 -2.1M1008.5 522.1l1.1 1.8l-2 1.1l1.1 1.5M1017.8 522.2l-0.4 -1.9l-1.3 2.5l1.5 0.5M1025.7 522.5l0.9 -1.8l-1.9 -1.6l-1.1 1.3M987.5 527.7l3.1 0.5l-1.3 1.1l0.3 1.9M992.6 528.7l-2.1 -1l2.3 -1M998.2 528.3l1.6 2.3l-2.5 1.3M1003.2 526.3l-1.3 -1.6l-1.3 1M1011.2 526l1.9 -1.1l-1.7 -1.1l-1.7 0.9M1015.4 525.7l-2.5 -0.8l1.6 -0.9M1021.5 528.4l1.9 1.1l-0.5 -2.9M1026.9 527.6l-1.1 -1.4l1.9 0.1M986.5 532.4l-2.3 -2.1l2.7 -0.2l-0.5 -2M989.8 531.3l1.5 -1.6l-1.2 -1.3M996.1 532.9l2.3 0.1l-0.7 1.9l-2 -0.8M1002.7 532.6l1.5 1.6l-1.5 2.2M1006.7 533.4l1.5 1.2l1.6 -2l-1.3 -0.9M1014.6 530.5l1.8 2.4l-2.7 0.5M1017.6 533.2l-0.5 1.9l2.1 0.5M1023.9 532l-1.3 2.2l1.5 1.3M992.7 535.7l0.1 2.1l-2.5 -0.7l-1.7 1.3M998.1 535.9l-2.2 -0.5l0.7 -1.9M1005.5 538.4l1.6 1l1.3 -1.4M1010.3 537.2l-2.9 0.1l-0.8 -2.7l-1.6 0.3M1016.2 535.8l2.3 0.8l-1.1 1.4M1020 536.3l-2.3 1l2.5 1.5M1027.4 538.4l-2.2 -0.6l-1.1 2.1l-1.5 -0.3M984.8 541.1l1 1.6l0.7 -2.1M990.6 541.5l-1.2 1.4l2.5 0.3l-0.1 1.8M997.9 541.2l0.3 2l1.6 -1.2l-0.2 -1.2M1001.9 540.4l-0.5 -1.9l2.9 0.1M1009.1 540.5l-0.6 2.6l2.6 0.6l-0 1.3M1013.8 543.3l0.5 -1.7l1.5 1.8l1.6 -0.9M1018.2 541l0.4 2l2.1 -0.8M1025.6 542.3l1.8 0.9l-2.3 1M989.3 545.8l-2.3 1.4l2.5 1l0.3 1.2M992.6 546.3l-2.3 -0.9l0.7 -2.6M998.1 545.7l-1.7 -1.7l-0.8 1.8M1006 546.3l1.5 -2.4l-1.9 -1.5M1011.2 547.2l2.3 0.6l-1.8 1.5l-0.7 -1M1015.6 546.5l1.8 -0.7l0.3 2.1M1023 546.5l-0.3 3.1l2.9 0.7l1 -1.5M1027 546.4l0.9 -3l2.5 1M985.7 552.6l-0.1 -2.8l-1.8 1.4M990 553.1l2 -1.7l-0 1.9M997.5 550l1.4 -1.1l0.8 2.6M1003.2 552.6l-2.8 0.9l-0.5 -2.3l-1.2 0.1M1008.9 552.8l2.2 1.2l-1.7 0.8M1018.4 550l0.6 1.8l2.1 -0.2M1025.8 551.7l-1.3 -2.2l-2.4 0.8l-0.1 2.1M986.4 557.1l2.4 -1.8l1.3 1.7l-1.3 1M997.8 557.8l2.1 -0.8l0.5 1.9l1.7 -0.1M1005.8 557.1l-1.9 1.3l-0.4 -2M1009 557.3l-0.6 2.5l-2.2 -0.9l0.7 -1.5M1015.3 555.5l-1.6 1.9l-1.7 -1.5M1021.2 557.4l2.2 -0.3l-0.6 2.4M1026.5 557.9l2.3 -1.6l-2 -1.8M985.2 561.7l2 -1.5l-1.6 -0.6M989.5 561.1l-2.1 -2l-1.3 1M994.8 561.3l-0.7 2.7l2.4 -1.7l-1.1 -1.8M1003.1 560.6l-1.8 -1.8l-0.7 1.9l-1.1 -0.6M1007.6 559.6l-1.8 0.4l0 2.7M1012.8 560.2l0.7 1.8l-2 0.6M1017 561.3l2.1 2.3l-2 1.9M1022.8 560.6l2.1 1.4l-2.6 0.6l-0.5 -2.1" fill="none" stroke="#0d0d0d" stroke-width="1.4" stroke-linecap="round" stroke-linejoin="round" clip-path="url(#cbRb)"/>
<polygon points="985,534.5 1029,512.5 1029,540 985,562" fill="none" stroke="#0d0d0d" stroke-width="2.6" stroke-linejoin="round"/>
<polygon points="951,514 987.5,490 1029,512.5 985,534.5" fill="#fff" stroke="#0d0d0d" stroke-width="2.8" stroke-linejoin="round"/>
<ellipse cx="987.5" cy="511" rx="13.3" ry="9" fill="#fff" stroke="#0d0d0d" stroke-width="2.1"/>
<path d="M975.3 513 A12.6 8.2 0 0 0 999.7 513" fill="none" stroke="#0d0d0d" stroke-width="1.3" stroke-linejoin="round" stroke-linecap="round"/>
<ellipse cx="987.1" cy="513.3" rx="8.3" ry="3.7" fill="#fff" stroke="#0d0d0d" stroke-width="1.3"/>
<rect x="984.8" y="502.2" width="4.6" height="10.6" fill="#fff" stroke="#0d0d0d" stroke-width="1.3"/>
<line x1="981.5" y1="504.8" x2="984.8" y2="504.4" stroke="#0d0d0d" stroke-width="1"/>
<line x1="989.4" y1="504.4" x2="993.5" y2="505" stroke="#0d0d0d" stroke-width="1"/>
<polygon points="653.8,683 691.5,706 691.5,734.5 653.8,711.5" fill="#fff" stroke="none" stroke-width="1" stroke-linejoin="round"/>
<clipPath id="cbBa"><polygon points="653.8,683 691.5,706 691.5,734.5 653.8,711.5"/></clipPath>
<path d="M654.2 683.5l1.5 1.6l-1.5 0.5M666.1 682.2l2.6 0.6l-1 1.6M670.1 681.4l1.6 1.2l1.3 -1.2l-1.6 -1.2M675.2 684.1l-2 2.1l1.1 1.7l1.3 -0.1M688.9 683.2l0.4 -2.1l1.6 1.8M655.3 687.9l-2.1 2.2l-1.7 -2.2l0.9 -1.8M663.5 688.9l1.8 1.1l-1.5 1.7l-1.4 -0.2M667.3 686.7l-0.5 2.7l2.2 0.9M673.7 689.2l1.3 1.8l-1.8 0.1l-0.5 -1.1M678.6 686.5l-2.4 0.9l0.5 2M686 689.3l-1.1 -2.1l-2 0.5M691.1 688.8l0.3 2.3l-2.5 -1.6l0.3 -1.4M659.9 691.9l1.8 1.5l0.5 -2.4M665.4 693.6l2 -2.2l-0.1 1.9l2 0.3M669.6 692.4l-1.5 -2.1l2.9 -0.7l1 1.9M686.5 693.4l1.7 2.3l2.4 -1.2l0.1 -1.2M657.9 699.1l-0.9 -2l2 -1.2M661.2 696l-1.5 1.8l2.2 -0M668.3 697.9l2.3 -0.5l1 2.5l1.2 0.2M674.4 698.1l-1.2 2.3l1.7 0.8l-0.5 1.8M678.2 696.7l2 0.7l-0.3 2M683.8 697.8l1.9 2.1l-1.4 1.5M690.8 698.6l-1.8 -1.9l1.8 -0.4M654 700.9l-1.6 -1l-0.2 2.2l1.5 0.4M659.3 703.3l2.4 -1.8l-1.7 -1.5M664.8 701.7l-0.4 -1.8l-1.1 1.5M670 702.1l-0.8 -1.9l-1.2 1.2l-1 -0.9M676.3 702.5l2 -0l0.7 2.6l-1.1 1.5M682.8 702.2l2.4 1.8l-1.5 1.7M686.9 701.8l2.3 1.5l-1.4 2.3l-1.5 -0.8M656.8 706.2l-1.4 -1.8l1.8 -1M662.8 708.6l-1.4 2.1l2.2 -0.3M667.9 706.9l2.8 1.1l0.5 -1.7l1.3 0M673.7 707.9l3 -0.1l-0.3 2.5M679.2 706.7l-2 2.3l-1.2 -1.6l1.2 -1M684.9 708.7l-2.7 -0.5l0.1 -1.6M689.1 707l-0.9 -2l1.7 0.4M653.4 713.8l0.4 2.3l-1.8 -0.9l-1.1 0.9M661 712.3l1.2 -2.4l2.2 1.4M664.5 713.4l-1.4 2.8l2.7 0.1l0.6 1.7M669 712.8l1.9 2.4l0.9 -2.3M677 713.2l-2.2 1l0.6 -2.6M681.3 711.7l1.8 -2.4l-1.5 -0.9M688.4 712.1l-0.3 2.2l2.7 0.3M656.2 718.6l-1.7 -0.6l0.6 -2.2M661.1 717.7l1.6 -1.9l0.6 1.6l1.1 -0.8M675.1 718.5l0.2 -2.2l2.2 0.2M678.2 717.3l-2.8 -0.4l-0.1 -2M685.8 717.7l-2.3 2.1l-1.3 -2.6l-1.5 0.9M690.2 717.5l1.9 0.7l-0.2 -2.7M652.9 721.2l1.1 -1.5l1.5 2.1l1.5 -0.1M660.9 722.8l2.5 -0.6l0 -2.6M664.2 722.9l2.7 0.8l-0.4 2.1M669.4 722.6l-2.4 -0l-0.6 -2.7M675.3 722.6l-2.1 -2.2l2.2 -0.1M682.8 721.4l1.7 2.6l0.2 -2.5M686.5 721.9l-2 0.3l0.1 -2.8M658 725.7l0.2 3l-2.2 -2.1l0.2 -1.9M666.8 726.5l-1.7 1.8l-0.9 -1.8M674.7 726.1l0.4 -2.6l2.1 0.3l0.6 -1.6M678.5 725.7l1.7 0.6l-2.4 1.5M685.9 726.8l-1.9 1l1.8 1.8M690.5 726.5l-1.9 0.4l1.5 2.2M654.6 733.2l-0.5 2.7l1.9 0.4l0.4 2.1M659.5 731.9l1.7 -1.5l-1.5 -2.2M663.7 731.3l2.2 -1.2l-0.8 -1.6l-1.6 -0.2M672.1 732.2l-1.8 -0.6l-0.2 1.8M676.3 730.8l0 -2.1l2 0.2l0.2 -2M682.8 732.6l-2.1 -2.1l-2 1.5M687.5 732.8l-0.5 -2.9l2.4 -0.3" fill="none" stroke="#0d0d0d" stroke-width="1.4" stroke-linecap="round" stroke-linejoin="round" clip-path="url(#cbBa)"/>
<polygon points="653.8,683 691.5,706 691.5,734.5 653.8,711.5" fill="none" stroke="#0d0d0d" stroke-width="2.6" stroke-linejoin="round"/>
<polygon points="691.5,706 735.5,684.5 735.5,713 691.5,734.5" fill="#fff" stroke="none" stroke-width="1" stroke-linejoin="round"/>
<clipPath id="cbBb"><polygon points="691.5,706 735.5,684.5 735.5,713 691.5,734.5"/></clipPath>
<path d="M691.1 684.5l-2.5 -0l1.9 1.8l0.9 -1M696 683.6l-1.5 -2.6l2.3 -1.1M702.2 685.2l2.8 0.9l-0.5 2.2M707 684.6l1.6 2.3l-2.2 -0.3M713.3 685.8l-0.5 -2.3l1.8 0.4l0.6 1.9M720.5 684.3l1.7 1.9l-0.1 -2.1l1.7 -0.1M724.9 686.2l-2.9 0.3l1.9 -1.9l-0.2 -1.3M731.9 684.7l-0.1 -3.1l-1.2 1.5M692.9 688.8l2 -0.2l-1.1 2.2M698.7 689.2l-2.9 0.7l0.1 3l-1.6 0.2M707.1 688.5l-0.4 -3.1l2.3 0.1l0.3 1.3M710.4 689l2.4 0.3l0.2 2.2M716.1 687.8l-1.9 -0.2l-0 1.6l1.8 1.2M723.2 690.4l-1.4 1.2l1.2 1.6M727 687.9l1.6 1.6l-2.2 1l0.7 1.6M731.9 688.5l2.3 -1.6l-0.5 2.4M696.3 692.6l2.7 -0.4l-1.3 -2.1M707.8 693.7l-0.2 -1.8l-2.5 1M712.2 694.5l0.7 -2.1l-2.5 1M718.9 695.9l2.3 -2.1l-2.9 0.3M725.4 695.3l-1.8 0.9l2.2 1.6l-1.2 1.7M729.9 692.6l-1.1 -1.9l-2.3 1.8l0 1.7M692.7 700.6l-1.3 -1.8l2 0.1l1.2 -1.4M700.3 699.7l0.6 3.1l2.5 -0.2M705.5 699.3l-0.9 2.8l-2 -0.2M710.5 699.5l0.3 -2.4l1.3 1.5l-0.7 1.4M717.1 699.3l2.2 1.9l1 -1.4l1.1 0.7M729.5 698.8l0.7 2.9l1.5 -0.9l-1.2 -1.4M734.9 698.6l2.1 2.3l-1.4 1.8l-1.7 -0.2M690.9 703.3l3 0.5l-1.2 -1.6l1.4 -1.2M703 702.5l2.4 -1.5l-1.8 -1.6M709.4 703.1l2 -0.5l-1 -1.4l-1.2 0.2M715.5 704.6l-2.1 1.9l-0.6 -1.6M720.6 704.9l-0.3 3.1l2.4 0M724.1 703.2l2 0.7l0.7 -2.3M730.2 703.8l-1.5 2l-1.3 -1.7M694.4 709.7l-1.4 -2.2l2.2 -1.2l-1.2 -1.6M701.1 708.2l-2.3 -1.2l1.4 -0.9M705.9 709.9l1.8 -0.6l-0.5 -1.7l-1.6 0.8M711.1 708l-1.6 -1.1l-1 1.4M716.6 709.4l-1.9 -1.5l-1.5 1.6l-1.5 -0.6M722.7 709.9l2.6 1.1l1.6 -2l2.1 0.5M729.2 708.9l2.5 1.6l0.6 -2.9l2.1 0.3M732 707.3l0.3 -2.3l2.7 1.2l0.6 -1M689.9 714.1l2.2 1.8l-0 -1.8M695.6 713.6l-1 -2.1l2.1 -0.3M701.8 712.9l-2.3 -0l0 -3l-1.1 -0.6M708.6 712.8l2.7 -0.9l-1 -1.5l1.5 -0.6M712.7 713.1l-2.4 0.2l0.3 1.8M719.2 712.7l-0.3 2l2.5 -0.2l-0.2 -2M731.4 715.1l-1.2 -2.7l-0.8 2.1l1 0.8M693.9 718.7l2.1 -2.1l-2.4 -0.2l-0.4 -1.5M699.3 718.1l-2.1 1.4l0.6 -2.3l-1.3 -0.9M704.6 717.2l-3 0.4l1.8 -2.1M710.6 719.2l-3.1 -0.5l-0.9 2.1l-1.3 0.2M716.7 719l-1.2 -2.2l1.6 -0.8M721.6 718.2l-0.1 2l-2.3 -1.4l0.7 -1M728 719.4l1.3 -2.1l1.9 2l1.2 -0.6M733.5 717.3l2.6 -1.7l-2 -1.4M692.5 723.2l-2.1 0.5l-0 -2.1M695.7 722.6l-2.2 2l-1.2 -1.6l1.7 -0.8M702.7 723.6l2 -2.5l-1.5 -1.1M708.3 723.2l-1.7 1.1l0.2 -2.4M712.8 724.8l-2.7 -1.3l-0.8 2.3l1.7 0.6M718.2 724.9l-0.8 1.8l3 -0.1M724.7 724.4l0.9 2.1l1.4 -1.9l-1.5 -1.2M730.7 723l-2.8 1.4l0.1 -2.6M701.1 727.9l-2.1 -1l1.4 -1.8M705.9 727.5l-2.8 1.3l0.4 -1.6M711.2 727.3l-1.5 1.2l1.5 0.6l0 1.3M717.1 729.2l-1.8 -0.5l1.1 2.3l1.7 -0.9M723.5 729.5l-0.3 -2.1l-1.1 1.3l-1.4 -0.8M729.4 726.9l-0.8 2.6l-1.6 -0.5l-0.3 -1.3M731.9 727.5l-1.7 -2l1.6 -1.2M690.3 733.3l-1 1.6l-2.3 -1.4l-1 1.3M696.3 733.6l-2 -1.6l-1.6 1.6M703.1 733.3l-0.8 2.9l2.6 -1.2M709.8 734.5l-0.8 -2.3l1.7 0.8M718.6 732l1.8 -1.8l2.2 1.7M725.4 731.7l0.5 -2.4l-2.2 -0.6M731.3 732l1.4 1.9l1.9 -1" fill="none" stroke="#0d0d0d" stroke-width="1.4" stroke-linecap="round" stroke-linejoin="round" clip-path="url(#cbBb)"/>
<polygon points="691.5,706 735.5,684.5 735.5,713 691.5,734.5" fill="none" stroke="#0d0d0d" stroke-width="2.6" stroke-linejoin="round"/>
<polygon points="653.8,683 696,661.5 735.5,684.5 691.5,706" fill="#fff" stroke="#0d0d0d" stroke-width="2.8" stroke-linejoin="round"/>
<ellipse cx="695" cy="683.2" rx="13.3" ry="9" fill="#fff" stroke="#0d0d0d" stroke-width="2.1"/>
<path d="M682.8 685.2 A12.6 8.2 0 0 0 707.2 685.2" fill="none" stroke="#0d0d0d" stroke-width="1.3" stroke-linejoin="round" stroke-linecap="round"/>
<ellipse cx="694.6" cy="685.5" rx="8.3" ry="3.7" fill="#fff" stroke="#0d0d0d" stroke-width="1.3"/>
<rect x="692.3" y="674.4" width="4.6" height="10.6" fill="#fff" stroke="#0d0d0d" stroke-width="1.3"/>
<line x1="689" y1="677" x2="692.3" y2="676.6" stroke="#0d0d0d" stroke-width="1"/>
<line x1="696.9" y1="676.6" x2="701" y2="677.2" stroke="#0d0d0d" stroke-width="1"/>
<polygon points="345,104 553,0 924,184 924,446 902.5,441 715,540 701,563 372,386 344,374" fill="#fff" stroke="none" stroke-width="1" stroke-linejoin="round"/>
<polygon points="329.7,374.5 344,367.8 390.2,386 390.2,406.7 359.6,423.1 329.7,408.2" fill="#fff" stroke="#0d0d0d" stroke-width="2.4" stroke-linejoin="round"/>
<polyline points="329.7,374.5 359.6,389.5 390.2,386" fill="none" stroke="#0d0d0d" stroke-width="1.2" stroke-linejoin="round" stroke-linecap="round"/>
<line x1="359.6" y1="389.5" x2="359.6" y2="423.1" stroke="#0d0d0d" stroke-width="1.2"/>
<polygon points="424,410 445,421 470,430 470,441 445,455 424,444.5" fill="#fff" stroke="#0d0d0d" stroke-width="2" stroke-linejoin="round"/>
<line x1="445" y1="421" x2="445" y2="455" stroke="#0d0d0d" stroke-width="1.2"/>
<line x1="461" y1="436" x2="461" y2="445" stroke="#0d0d0d" stroke-width="1.2"/>
<polygon points="535,474 561.3,486 561.3,492.2 535,502.5" fill="#fff" stroke="#0d0d0d" stroke-width="2" stroke-linejoin="round"/>
<line x1="550" y1="484" x2="550" y2="496.6" stroke="#0d0d0d" stroke-width="1.2"/>
<polygon points="499.4,455 520,466 535,472 535,492.2 520,499.7 499.4,489.4" fill="#fff" stroke="#0d0d0d" stroke-width="2.2" stroke-linejoin="round"/>
<line x1="520" y1="466" x2="520" y2="499.7" stroke="#0d0d0d" stroke-width="1.2"/>
<polygon points="585,496 607.5,506 628,514 628,530 607.5,540 585,529" fill="#fff" stroke="#0d0d0d" stroke-width="2" stroke-linejoin="round"/>
<line x1="607.5" y1="506" x2="607.5" y2="540" stroke="#0d0d0d" stroke-width="1.2"/>
<polygon points="695.3,556 709,562 728,552 728,587 709,597 695.3,590" fill="#fff" stroke="#0d0d0d" stroke-width="2.2" stroke-linejoin="round"/>
<line x1="709" y1="562" x2="709" y2="597" stroke="#0d0d0d" stroke-width="1.2"/>
<g stroke="#0d0d0d" stroke-width="1.3">
<line x1="385" y1="134.1" x2="385" y2="325.5"/>
<line x1="405.6" y1="144.7" x2="405.6" y2="315.1"/>
<line x1="427" y1="155.7" x2="427" y2="304.2"/>
<line x1="447" y1="166.1" x2="447" y2="294.1"/>
<line x1="453.8" y1="169.6" x2="453.8" y2="290.7"/>
<line x1="467.5" y1="176.6" x2="467.5" y2="283.7"/>
<line x1="473.8" y1="179.9" x2="473.8" y2="280.5"/>
<line x1="488" y1="187.4" x2="488" y2="273.3"/>
<line x1="494.4" y1="190.8" x2="494.4" y2="270.1"/>
<line x1="507.5" y1="197.8" x2="507.5" y2="263.4"/>
<line x1="514.4" y1="201.5" x2="514.4" y2="259.9"/>
<line x1="527.5" y1="208.5" x2="527.5" y2="253.3"/>
<line x1="533.8" y1="211.9" x2="533.8" y2="250.1"/>
<line x1="356.8" y1="135" x2="356.8" y2="360" stroke-width="1.05"/>
<line x1="359.2" y1="135" x2="359.2" y2="360" stroke-width="1.05"/>
<line x1="370" y1="135" x2="370" y2="342" stroke-width="1.05"/>
<line x1="554.4" y1="222.9" x2="554.4" y2="245"/>
<line x1="566.6" y1="229.5" x2="566.6" y2="251.4"/>
<line x1="574" y1="233.4" x2="574" y2="255.2"/>
<line x1="585.3" y1="239.5" x2="585.3" y2="261.2"/>
<line x1="592.8" y1="243.5" x2="592.8" y2="265.1"/>
<line x1="604" y1="249.3" x2="604" y2="271"/>
<line x1="612.5" y1="253.7" x2="612.5" y2="275.4"/>
<line x1="623.8" y1="259.6" x2="623.8" y2="281.4"/>
<line x1="632" y1="263.9" x2="632" y2="285.7"/>
<line x1="643.4" y1="269.8" x2="643.4" y2="291.7"/>
<line x1="651.5" y1="274" x2="651.5" y2="295.9"/>
<line x1="663" y1="280" x2="663" y2="301.9"/>
<line x1="670.6" y1="284" x2="670.6" y2="305.9"/>
<line x1="682" y1="289.9" x2="682" y2="311.9"/>
<line x1="689.4" y1="293.8" x2="689.4" y2="315.8"/>
<line x1="700.6" y1="308" x2="700.6" y2="321.7"/>
<line x1="708" y1="308" x2="708" y2="325.6"/>
<line x1="719.4" y1="308" x2="719.4" y2="331.5"/>
<line x1="727" y1="297.8" x2="727" y2="335.5"/>
<line x1="739.4" y1="291.4" x2="739.4" y2="342"/>
<line x1="746.9" y1="287.5" x2="746.9" y2="346"/>
<line x1="760" y1="280.7" x2="760" y2="352.8"/>
<line x1="767.5" y1="276.8" x2="767.5" y2="356.8"/>
<line x1="780.6" y1="270" x2="780.6" y2="363.7"/>
<line x1="787.8" y1="266.2" x2="787.8" y2="367.4"/>
<line x1="801.2" y1="259.3" x2="801.2" y2="374.5"/>
<line x1="808.4" y1="255.5" x2="808.4" y2="378.2"/>
<line x1="821.9" y1="248.5" x2="821.9" y2="385.3"/>
<line x1="829" y1="244.8" x2="829" y2="389"/>
<line x1="842.5" y1="237.8" x2="842.5" y2="396.1"/>
<line x1="850" y1="233.9" x2="850" y2="400.1"/>
<line x1="863" y1="227.1" x2="863" y2="406.9"/>
<line x1="871" y1="223" x2="871" y2="411.1"/>
<line x1="884.7" y1="215.8" x2="884.7" y2="418.3"/>
<line x1="892.2" y1="211.9" x2="892.2" y2="422.2"/>
</g>
<line x1="548.8" y1="219.9" x2="548.8" y2="242" stroke="#0d0d0d" stroke-width="1.2"/>
<line x1="548.8" y1="242.3" x2="396" y2="319.9" stroke="#0d0d0d" stroke-width="2"/>
<line x1="548.8" y1="242" x2="909" y2="431" stroke="#0d0d0d" stroke-width="2.6"/>
<polygon points="373,114 371,102 537,10 569,11.6 895,185.4 894,191 724.4,283 698,286.5" fill="#fff" stroke="none" stroke-width="1" stroke-linejoin="round"/>
<g stroke="#0d0d0d" stroke-width="1.3">
<line x1="394.4" y1="126.8" x2="587.3" y2="20.9"/>
<line x1="397.6" y1="128.4" x2="590.6" y2="22.7"/>
<line x1="416.6" y1="138.4" x2="609.6" y2="33.1"/>
<line x1="419.8" y1="140.1" x2="612.9" y2="34.8"/>
<line x1="438.9" y1="150" x2="632" y2="45.2"/>
<line x1="442.1" y1="151.7" x2="635.3" y2="47"/>
<line x1="461.1" y1="161.6" x2="654.3" y2="57.3"/>
<line x1="464.3" y1="163.3" x2="657.6" y2="59.1"/>
<line x1="483.4" y1="173.2" x2="676.7" y2="69.3"/>
<line x1="486.6" y1="174.9" x2="680" y2="71"/>
<line x1="505.6" y1="184.8" x2="699" y2="81.1"/>
<line x1="508.8" y1="186.5" x2="702.3" y2="82.9"/>
<line x1="527.9" y1="196.4" x2="721.4" y2="93"/>
<line x1="531.1" y1="198" x2="724.7" y2="94.8"/>
<line x1="550.1" y1="208" x2="743.8" y2="104.9"/>
<line x1="553.4" y1="209.6" x2="747" y2="106.7"/>
<line x1="572.4" y1="219.5" x2="766.1" y2="116.8"/>
<line x1="575.6" y1="221.2" x2="769.4" y2="118.6"/>
<line x1="594.6" y1="231.1" x2="788.4" y2="128.7"/>
<line x1="597.9" y1="232.8" x2="791.7" y2="130.5"/>
<line x1="616.9" y1="243.1" x2="810.8" y2="140.6"/>
<line x1="620.1" y1="244.8" x2="814.1" y2="142.4"/>
<line x1="639.1" y1="255.1" x2="833.1" y2="152.5"/>
<line x1="642.4" y1="256.8" x2="836.4" y2="154.2"/>
<line x1="661.4" y1="267.1" x2="855.5" y2="164.4"/>
<line x1="664.6" y1="268.8" x2="858.8" y2="166.1"/>
<line x1="683.6" y1="279" x2="877.8" y2="176.3"/>
<line x1="686.9" y1="280.8" x2="881.1" y2="178"/>
</g>
<polyline points="371,103.5 537.5,12.5 537.5,9.4" fill="none" stroke="#0d0d0d" stroke-width="2.8" stroke-linejoin="round" stroke-linecap="round"/>
<polyline points="372.5,110 500,41.9 546,15" fill="none" stroke="#0d0d0d" stroke-width="1.2" stroke-linejoin="round" stroke-linecap="round"/>
<polyline points="375.5,115.5 500,48.1 565,11.9" fill="none" stroke="#0d0d0d" stroke-width="1.2" stroke-linejoin="round" stroke-linecap="round"/>
<polyline points="569.4,11.2 664,62.5 895,185.4" fill="none" stroke="#0d0d0d" stroke-width="2.6" stroke-linejoin="round" stroke-linecap="round"/>
<polyline points="373,115.6 484.4,173.8 595.6,231.6 683.1,278.8 683.7,288" fill="none" stroke="#0d0d0d" stroke-width="1.3" stroke-linejoin="round" stroke-linecap="round"/>
<line x1="683.1" y1="278.8" x2="701.5" y2="286.2" stroke="#0d0d0d" stroke-width="1.2"/>
<line x1="718" y1="281" x2="890" y2="188.5" stroke="#0d0d0d" stroke-width="1"/>
<line x1="724.4" y1="283" x2="893" y2="191.5" stroke="#0d0d0d" stroke-width="3"/>
<line x1="709.4" y1="307" x2="891.5" y2="212.4" stroke="#0d0d0d" stroke-width="2.2"/>
<path d="M357.5 135.5 L371 135.5 Q376 135 381 132 L480 183.1 L590 242 L689.4 293.75" fill="none" stroke="#0d0d0d" stroke-width="2.4" stroke-linejoin="round" stroke-linecap="round"/>
<path d="M344.4 106 L344.4 133.8 L347.8 134.5 L347.8 339.5 L344.2 341.5 L344.6 373" fill="none" stroke="#0d0d0d" stroke-width="2.8" stroke-linejoin="round" stroke-linecap="round"/>
<line x1="923.8" y1="186" x2="923.8" y2="447" stroke="#0d0d0d" stroke-width="3"/>
<line x1="910" y1="214" x2="910" y2="430" stroke="#0d0d0d" stroke-width="1.1"/>
<line x1="907.2" y1="216" x2="907.2" y2="428" stroke="#0d0d0d" stroke-width="1"/>
<path d="M891.5 212.4 L896 214.5 L908 214 L911 211" fill="none" stroke="#0d0d0d" stroke-width="1.6" stroke-linejoin="round" stroke-linecap="round"/>
<path d="M909 431 L909 424 L896 419.5 Z" fill="#0d0d0d" stroke="#0d0d0d" stroke-width="1" stroke-linejoin="round" stroke-linecap="round"/>
<polygon points="537.5,9.4 553.8,0.6 569.4,8.1 569.4,11.3 555,18.5 537.5,12.5" fill="#fff" stroke="#0d0d0d" stroke-width="2.6" stroke-linejoin="round"/>
<polygon points="542.5,9.4 553.8,3.8 567.5,9.4 555,16.2" fill="#fff" stroke="#0d0d0d" stroke-width="1.2" stroke-linejoin="round"/>
<ellipse cx="555.3" cy="8.8" rx="5.8" ry="3.6" fill="#0d0d0d" stroke="none" stroke-width="1"/>
<polygon points="344,106 361,115 361,134 344.5,134" fill="#fff" stroke="#0d0d0d" stroke-width="2.2" stroke-linejoin="round"/>
<polygon points="361,115 373,109 373,121 371.5,134 361,134" fill="#fff" stroke="#0d0d0d" stroke-width="1.4" stroke-linejoin="round"/>
<polygon points="344,106 360,98.6 373,109 361,115" fill="#fff" stroke="#0d0d0d" stroke-width="2.4" stroke-linejoin="round"/>
<ellipse cx="359.5" cy="107" rx="5.4" ry="3.2" fill="#0d0d0d" stroke="none" stroke-width="1"/>
<ellipse cx="352.5" cy="120" rx="2.9" ry="4.4" fill="#0d0d0d" stroke="none" stroke-width="1" transform="rotate(12 352.5 120)"/>
<polygon points="907.5,196 922.5,186.5 923.5,212 908,214" fill="#fff" stroke="#0d0d0d" stroke-width="1.6" stroke-linejoin="round"/>
<polygon points="892.5,187.5 906,178 923,186 907.5,196" fill="#fff" stroke="#0d0d0d" stroke-width="2.4" stroke-linejoin="round"/>
<ellipse cx="907.5" cy="186.8" rx="5.6" ry="3.3" fill="#0d0d0d" stroke="none" stroke-width="1"/>
<ellipse cx="916.2" cy="197.5" rx="2.4" ry="4.2" fill="#0d0d0d" stroke="none" stroke-width="1"/>
<ellipse cx="916" cy="205.5" rx="2" ry="2.2" fill="#0d0d0d" stroke="none" stroke-width="1"/>
<path d="M683.7 288 Q690 289.5 692 294.5 Q693.5 300 699 303.5 L708.8 309.4 L724 300 L723.5 284.5 L709 292 L701.3 286.3 L686 280 Z" fill="#fff" stroke="none" stroke-width="2" stroke-linejoin="round" stroke-linecap="round"/>
<path d="M683.7 288 Q690 289.5 692 294.5 Q693.5 300 699 303.5 L708.8 309.4 L724 300" fill="none" stroke="#0d0d0d" stroke-width="2.2" stroke-linejoin="round" stroke-linecap="round"/>
<polygon points="699.7,285.3 709,292 709,309 697,303.5 694,296" fill="#fff" stroke="#0d0d0d" stroke-width="1.8" stroke-linejoin="round"/>
<polygon points="709,292 722.3,285.3 724,300 709,309" fill="#fff" stroke="#0d0d0d" stroke-width="1.8" stroke-linejoin="round"/>
<polygon points="699.7,285.3 710,278.8 722.3,285.3 709,292" fill="#fff" stroke="#0d0d0d" stroke-width="2.2" stroke-linejoin="round"/>
<ellipse cx="709.6" cy="285" rx="4.6" ry="2.7" fill="#0d0d0d" stroke="none" stroke-width="1"/>
<ellipse cx="700.3" cy="295.2" rx="2.3" ry="3.6" fill="#0d0d0d" stroke="none" stroke-width="1"/>
<ellipse cx="714.9" cy="296.8" rx="3.1" ry="4.2" fill="#0d0d0d" stroke="none" stroke-width="1"/>
<polygon points="362.5,361 682.5,537.5 682,551.5 520,468.8 372.3,385 362.6,381.3" fill="#fff" stroke="none" stroke-width="1" stroke-linejoin="round"/>
<polygon points="712,539 903,438.8 903,457 890.6,463.8 848.8,485.6 818,503 765,530.6 722,553 721,540" fill="#fff" stroke="none" stroke-width="1" stroke-linejoin="round"/>
<path d="M358.9 360.3 L364.8 352.1 L371.6 340.9 L377.5 333.4 L381 331.5" fill="none" stroke="#0d0d0d" stroke-width="2.8" stroke-linejoin="round" stroke-linecap="round"/>
<line x1="362.5" y1="361" x2="682.5" y2="537.5" stroke="#0d0d0d" stroke-width="1"/>
<line x1="364" y1="364.6" x2="682.5" y2="540.3" stroke="#0d0d0d" stroke-width="1"/>
<line x1="712" y1="539" x2="903" y2="438.8" stroke="#0d0d0d" stroke-width="1"/>
<line x1="713.5" y1="540.6" x2="903" y2="441" stroke="#0d0d0d" stroke-width="1"/>
<polyline points="372.3,385 424.6,415.6 520,468.8 682,551.5" fill="none" stroke="#0d0d0d" stroke-width="2.8" stroke-linejoin="round" stroke-linecap="round"/>
<polygon points="344.7,341.7 358.9,341.7 358.9,360.3 362.6,362 362.6,381.3 344.7,371.6" fill="#fff" stroke="none" stroke-width="1" stroke-linejoin="round"/>
<path d="M344.7 341.7 L344.7 371.6 L363.3 381.3 L372.3 385" fill="none" stroke="#0d0d0d" stroke-width="2.4" stroke-linejoin="round" stroke-linecap="round"/>
<line x1="347.6" y1="339.2" x2="370" y2="339.2" stroke="#0d0d0d" stroke-width="1"/>
<line x1="362.6" y1="361.5" x2="362.6" y2="381.3" stroke="#0d0d0d" stroke-width="1"/>
<rect x="348.6" y="362.6" width="7" height="10.4" rx="3" ry="3.6" fill="#0d0d0d"/>
<line x1="372.3" y1="369.3" x2="372.3" y2="385" stroke="#0d0d0d" stroke-width="1"/>
<polygon points="427,400.1 459.3,417 459.3,431.4 427,414.5" fill="#fff" stroke="#0d0d0d" stroke-width="0.9" stroke-linejoin="round"/>
<polygon points="428.8,401.3 457.5,416.3 457.5,428.8 428.8,413.8" fill="#0d0d0d" stroke="#0d0d0d" stroke-width="0.6" stroke-linejoin="round"/>
<polygon points="488.2,433.8 514.3,447 514.3,461.4 488.2,448.2" fill="#fff" stroke="#0d0d0d" stroke-width="0.9" stroke-linejoin="round"/>
<polygon points="490,435 512.5,446.3 512.5,458.8 490,447.5" fill="#0d0d0d" stroke="#0d0d0d" stroke-width="0.6" stroke-linejoin="round"/>
<polygon points="552,468.8 573.1,479.5 573.1,493.9 552,483.2" fill="#fff" stroke="#0d0d0d" stroke-width="0.9" stroke-linejoin="round"/>
<polygon points="553.8,470 571.3,478.8 571.3,491.3 553.8,482.5" fill="#0d0d0d" stroke="#0d0d0d" stroke-width="0.6" stroke-linejoin="round"/>
<polygon points="580.7,483.8 611.8,499.5 611.8,513.9 580.7,498.2" fill="#fff" stroke="#0d0d0d" stroke-width="0.9" stroke-linejoin="round"/>
<polygon points="582.5,485 610,498.8 610,511.3 582.5,497.5" fill="#0d0d0d" stroke="#0d0d0d" stroke-width="0.6" stroke-linejoin="round"/>
<polygon points="630.7,511.3 653.1,522.5 653.1,536.4 630.7,525.7" fill="#fff" stroke="#0d0d0d" stroke-width="0.9" stroke-linejoin="round"/>
<polygon points="632.5,512.5 651.3,521.8 651.3,533.8 632.5,525" fill="#0d0d0d" stroke="#0d0d0d" stroke-width="0.6" stroke-linejoin="round"/>
<polygon points="682.5,537.5 701,543 701,562.5 682.5,552.5" fill="#fff" stroke="#0d0d0d" stroke-width="2" stroke-linejoin="round"/>
<polygon points="701,543 721,537 721,554 701,562.5" fill="#fff" stroke="#0d0d0d" stroke-width="2" stroke-linejoin="round"/>
<ellipse cx="692.5" cy="549" rx="3.6" ry="5.2" fill="#0d0d0d" stroke="none" stroke-width="1"/>
<ellipse cx="710.7" cy="548.5" rx="3.6" ry="5" fill="#0d0d0d" stroke="none" stroke-width="1"/>
<line x1="765" y1="530.6" x2="818" y2="503" stroke="#0d0d0d" stroke-width="2.6"/>
<line x1="848.8" y1="485.6" x2="890.6" y2="463.8" stroke="#0d0d0d" stroke-width="2.6"/>
<polygon points="722,536 733.8,532 753.8,521.3 764.4,530.6 765,555 745.6,564 722,553" fill="#fff" stroke="none" stroke-width="1" stroke-linejoin="round"/>
<polyline points="733.8,532 745.6,541.3 764.4,530.6 753.8,521.3" fill="none" stroke="#0d0d0d" stroke-width="1.1" stroke-linejoin="round" stroke-linecap="round"/>
<line x1="745.6" y1="541.3" x2="745.6" y2="564" stroke="#0d0d0d" stroke-width="1.2"/>
<line x1="722" y1="536" x2="722" y2="553" stroke="#0d0d0d" stroke-width="1.1"/>
<polyline points="722,553.4 745.6,564 765,555 765,530.6" fill="none" stroke="#0d0d0d" stroke-width="2.6" stroke-linejoin="round" stroke-linecap="round"/>
<line x1="722" y1="553" x2="745.6" y2="541.8" stroke="#0d0d0d" stroke-width="2.6"/>
<polygon points="818,488.8 835.6,477.5 848,485.6 848,510 828,519.4 808.8,510 818,503" fill="#fff" stroke="none" stroke-width="1" stroke-linejoin="round"/>
<polyline points="818,488.8 828,495 848,485.6 835.6,477.5" fill="none" stroke="#0d0d0d" stroke-width="1.1" stroke-linejoin="round" stroke-linecap="round"/>
<line x1="828" y1="495" x2="828" y2="519.4" stroke="#0d0d0d" stroke-width="1.2"/>
<line x1="818" y1="488.8" x2="818" y2="503" stroke="#0d0d0d" stroke-width="1.4"/>
<polyline points="808.8,510 828,519.4 848,510 848,485.6" fill="none" stroke="#0d0d0d" stroke-width="2.6" stroke-linejoin="round" stroke-linecap="round"/>
<polygon points="923,445 930,449 930,480 909.4,489.4 876.3,473.8 890.6,463.8 891.5,454.4 900,456.5" fill="#fff" stroke="none" stroke-width="1" stroke-linejoin="round"/>
<polyline points="923,445 930,449 930,480 909.4,489.4 876.3,473.8" fill="none" stroke="#0d0d0d" stroke-width="2.8" stroke-linejoin="round" stroke-linecap="round"/>
<line x1="900" y1="456.5" x2="923" y2="445.6" stroke="#0d0d0d" stroke-width="2.4"/>
<polyline points="891.5,463.8 891.5,454.4 900,457 909.4,461.3 909.4,489.4" fill="none" stroke="#0d0d0d" stroke-width="1.2" stroke-linejoin="round" stroke-linecap="round"/>
<line x1="900.6" y1="441" x2="900.6" y2="456" stroke="#0d0d0d" stroke-width="1"/>
<ellipse cx="915.6" cy="439.5" rx="2.9" ry="4.8" fill="#0d0d0d" stroke="none" stroke-width="1"/>
<line x1="392.5" y1="139" x2="392.5" y2="214" stroke="#3292d5" stroke-width="3.2"/>
<line x1="411.9" y1="149" x2="411.9" y2="207" stroke="#3292d5" stroke-width="2.6"/>
<line x1="418" y1="152" x2="418" y2="207" stroke="#3292d5" stroke-width="2.6"/>
<line x1="433" y1="160" x2="433" y2="196" stroke="#3292d5" stroke-width="2.6"/>
<path d="M441 164 L440.5 196" fill="none" stroke="#3292d5" stroke-width="2.6" stroke-linejoin="round" stroke-linecap="round"/>
<path d="M390.8 231 L391 248 Q392 258 402 259.5 L410 261" fill="none" stroke="#3292d5" stroke-width="2.4" stroke-linejoin="round" stroke-linecap="round"/>
<path d="M395.2 231 L395.5 244 Q397 253 405 253.5 Q412.5 253 413 245 L413 219" fill="none" stroke="#3292d5" stroke-width="2.4" stroke-linejoin="round" stroke-linecap="round"/>
<path d="M418.2 219 L418.2 253.5" fill="none" stroke="#3292d5" stroke-width="2.4" stroke-linejoin="round" stroke-linecap="round"/>
<path d="M433 209 L433 241" fill="none" stroke="#3292d5" stroke-width="2.4" stroke-linejoin="round" stroke-linecap="round"/>
<path d="M440.5 209 L441 222 Q442 230 447.5 234" fill="none" stroke="#3292d5" stroke-width="2.8" stroke-linejoin="round" stroke-linecap="round"/>
<path d="M475.3 182 L489 235.5" fill="none" stroke="#3292d5" stroke-width="2.6" stroke-linejoin="round" stroke-linecap="round"/>
<path d="M479.5 186 L491.5 234" fill="none" stroke="#3292d5" stroke-width="2.2" stroke-linejoin="round" stroke-linecap="round"/>
<path d="M430 262 L430 305" fill="none" stroke="#3292d5" stroke-width="2" stroke-linejoin="round" stroke-linecap="round"/>
<path d="M433.5 262 L433.5 306 " fill="none" stroke="#3292d5" stroke-width="2" stroke-linejoin="round" stroke-linecap="round"/>
<path d="M440 259 L440 297 Q440.5 303 437 306" fill="none" stroke="#3292d5" stroke-width="2.4" stroke-linejoin="round" stroke-linecap="round"/>
<path d="M440 296 L452 304" fill="none" stroke="#3292d5" stroke-width="2.4" stroke-linejoin="round" stroke-linecap="round"/>
<path d="M381 272 L458 230.5 Q466 226.5 474 229.3 L486.5 236.5 L390 286.8 Z" fill="#fff" stroke="#3292d5" stroke-width="3" stroke-linejoin="round" stroke-linecap="round"/>
<path d="M384 274.5 L459 234 Q466 231 473 233 L481 237" fill="none" stroke="#3292d5" stroke-width="1.2" stroke-linejoin="round" stroke-linecap="round"/>
<path d="M406 259 L424 267.5" fill="none" stroke="#3292d5" stroke-width="2.4" stroke-linejoin="round" stroke-linecap="round"/>
<path d="M380 272.5 Q378.5 274 379.4 280 L379.4 326 Q380 331.5 387 331.5 L402 331 L408 332" fill="none" stroke="#3292d5" stroke-width="3" stroke-linejoin="round" stroke-linecap="round"/>
<path d="M383.8 290 L383.8 322 Q384.5 327 390 327 L404 326" fill="none" stroke="#3292d5" stroke-width="2" stroke-linejoin="round" stroke-linecap="round"/>
<path d="M392 289 L392 312 Q392.5 320 399 320 L409 320.8" fill="none" stroke="#3292d5" stroke-width="2.8" stroke-linejoin="round" stroke-linecap="round"/>
<path d="M448 236 L454 240.5 M461 243 L468 240 M467 234 L468.5 242 M474 239 L478 236" fill="none" stroke="#222" stroke-width="1" stroke-linejoin="round" stroke-linecap="round"/>
<path d="M381.5 282 L386.5 289 M391 290.5 L386.5 286" fill="none" stroke="#222" stroke-width="0.9" stroke-linejoin="round" stroke-linecap="round"/>
<path d="M413.5 322.5 L484 286 Q493 281 494 270" fill="none" stroke="#3292d5" stroke-width="2.4" stroke-linejoin="round" stroke-linecap="round"/>
<path d="M415.5 326.5 L488 289.5 Q498 284 498.5 270 Q499 252 490 237" fill="none" stroke="#3292d5" stroke-width="2.6" stroke-linejoin="round" stroke-linecap="round"/>
<path d="M417 331 L491 293 Q502 287 501.5 270 Q501 250 492.5 236.5" fill="none" stroke="#3292d5" stroke-width="2.6" stroke-linejoin="round" stroke-linecap="round"/>
<path d="M486 238.5 Q494 252 494 270" fill="none" stroke="#3292d5" stroke-width="2.4" stroke-linejoin="round" stroke-linecap="round"/>
<ellipse cx="412" cy="328" rx="4.2" ry="4.2" fill="#fff" stroke="#222" stroke-width="1.2"/>
<path d="M409.5 325.5 L414.5 330.5 M414 325 L410.5 331" fill="none" stroke="#222" stroke-width="0.9" stroke-linejoin="round" stroke-linecap="round"/>
<polyline points="412.5,332.5 725,501 689,521 689,535 697,529 706.5,535.5" fill="none" stroke="#3292d5" stroke-width="2.6" stroke-linejoin="round" stroke-linecap="round"/>
<path d="M465 362.5 L427.8 382.5 L489 415 L526 395" fill="none" stroke="#3292d5" stroke-width="2.6" stroke-linejoin="round" stroke-linecap="round"/>
<path d="M427.8 382.5 L427.8 401 M427.8 386.6 L489 419.2 M489 415 L489 429" fill="none" stroke="#3292d5" stroke-width="2.2" stroke-linejoin="round" stroke-linecap="round"/>
<path d="M591 430 L552.5 451 L614 484 L655.5 463" fill="none" stroke="#3292d5" stroke-width="2.6" stroke-linejoin="round" stroke-linecap="round"/>
<path d="M552.5 451 L552.5 470 M552.5 455.2 L614 488.2 M614 484 L614 497" fill="none" stroke="#3292d5" stroke-width="2.2" stroke-linejoin="round" stroke-linecap="round"/>
<line x1="859" y1="230.5" x2="859" y2="402" stroke="#3292d5" stroke-width="2.8"/>
<line x1="879" y1="219" x2="879" y2="413.4" stroke="#3292d5" stroke-width="2.8"/>
<line x1="871.5" y1="412.5" x2="871.5" y2="458" stroke="#3292d5" stroke-width="2.4"/>
<path d="M726 305 L724 311 M727.5 307.5 L725.5 314.5" fill="none" stroke="#3292d5" stroke-width="1.8" stroke-linejoin="round" stroke-linecap="round"/>
<ellipse cx="393" cy="216.5" rx="6.6" ry="2.9" fill="#d9d9d9" stroke="#2a2a2a" stroke-width="1.3"/>
<ellipse cx="393" cy="221.7" rx="6.6" ry="2.9" fill="#d9d9d9" stroke="#2a2a2a" stroke-width="1.3"/>
<ellipse cx="393" cy="226.9" rx="6.6" ry="2.9" fill="#d9d9d9" stroke="#2a2a2a" stroke-width="1.3"/>
<ellipse cx="393" cy="215.9" rx="3.6" ry="1.5" fill="#3292d5" stroke="none" stroke-width="1"/>
<ellipse cx="415" cy="209" rx="6.6" ry="2.9" fill="#d9d9d9" stroke="#2a2a2a" stroke-width="1.3"/>
<ellipse cx="415" cy="214.2" rx="6.6" ry="2.9" fill="#d9d9d9" stroke="#2a2a2a" stroke-width="1.3"/>
<ellipse cx="415" cy="219.4" rx="6.6" ry="2.9" fill="#d9d9d9" stroke="#2a2a2a" stroke-width="1.3"/>
<ellipse cx="415" cy="208.4" rx="3.6" ry="1.5" fill="#3292d5" stroke="none" stroke-width="1"/>
<ellipse cx="436.5" cy="198" rx="6.6" ry="2.9" fill="#d9d9d9" stroke="#2a2a2a" stroke-width="1.3"/>
<ellipse cx="436.5" cy="203.2" rx="6.6" ry="2.9" fill="#d9d9d9" stroke="#2a2a2a" stroke-width="1.3"/>
<ellipse cx="436.5" cy="208.4" rx="6.6" ry="2.9" fill="#d9d9d9" stroke="#2a2a2a" stroke-width="1.3"/>
<ellipse cx="436.5" cy="197.4" rx="3.6" ry="1.5" fill="#3292d5" stroke="none" stroke-width="1"/>
<g stroke="#1a1a1a" stroke-width="1.05" fill="none" stroke-linecap="round">
<line x1="252.8" y1="123.4" x2="343.8" y2="123.4"/>
<line x1="227.8" y1="226.7" x2="384" y2="226.7"/>
<line x1="241.7" y1="287.8" x2="384" y2="287.8"/>
<line x1="217.2" y1="339.4" x2="341" y2="339.4"/>
<line x1="837.5" y1="201.2" x2="992" y2="202"/>
<line x1="867" y1="262.8" x2="992" y2="262.8"/>
<line x1="867" y1="323.5" x2="992" y2="323.5"/>
<line x1="867" y1="355.8" x2="992" y2="355.8"/>
<line x1="920" y1="423.1" x2="992" y2="423.1"/>
<line x1="897" y1="576.5" x2="966" y2="614.4"/>
<line x1="811" y1="646.8" x2="850" y2="667.5"/>
<line x1="787.8" y1="657.2" x2="837" y2="684.9"/>
<line x1="242.2" y1="584.5" x2="357" y2="525.5"/>
<line x1="421" y1="637.2" x2="466" y2="613"/>
<path d="M806.8 98.3 L806.8 112 Q806.5 114.5 804 116.5 L790.3 127"/>
</g>
<ellipse cx="824.6" cy="200.9" rx="12.7" ry="12.2" fill="#fff" stroke="#1a1a1a" stroke-width="1.2"/>
<ellipse cx="823.7" cy="196.6" rx="4.9" ry="4.6" fill="none" stroke="#1a1a1a" stroke-width="1.2"/>
<path d="M828.5 197.5 Q829.5 204.5 824.5 206.8 Q821.6 207.8 821.4 205.4 M819 200.6 Q824 202.4 828.4 199.6" fill="none" stroke="#1a1a1a" stroke-width="1.1" stroke-linejoin="round" stroke-linecap="round"/>
<line x1="815.1" y1="205.7" x2="835.6" y2="196.5" stroke="#1a1a1a" stroke-width="1"/>
<line x1="832.9" y1="193.8" x2="833.7" y2="197.2" stroke="#1a1a1a" stroke-width="1"/>
<ellipse cx="831.7" cy="204.6" rx="0.8" ry="0.8" fill="#1a1a1a" stroke="none" stroke-width="1"/>
<ellipse cx="862" cy="258" rx="1.8" ry="2.2" fill="#fff" stroke="#222" stroke-width="0.9"/>
<ellipse cx="864.5" cy="321.5" rx="1.8" ry="3" fill="#fff" stroke="#222" stroke-width="0.9"/>
<ellipse cx="859.5" cy="349.5" rx="3" ry="1.8" fill="#fff" stroke="#222" stroke-width="0.9"/>
<g font-family="'Liberation Sans', sans-serif" font-size="18.3" fill="#1c1c1c">
<text x="149.7" y="131" textLength="86.3" lengthAdjust="spacingAndGlyphs">Connerted</text>
<text x="148.8" y="154.4" textLength="94.6" lengthAdjust="spacingAndGlyphs">Adappainns</text>
<text x="149.8" y="228.3" textLength="68.9" lengthAdjust="spacingAndGlyphs">W10x22</text>
<text x="149.8" y="254.2" textLength="35.6" lengthAdjust="spacingAndGlyphs">Stee</text>
<text x="149.8" y="297.6" textLength="76.4" lengthAdjust="spacingAndGlyphs">io Conner</text>
<text x="150.4" y="324.1" textLength="71.7" lengthAdjust="spacingAndGlyphs">Castings</text>
<text x="805" y="68" textLength="102.9" lengthAdjust="spacingAndGlyphs">ISO Acnpter°</text>
<text x="803.5" y="92.6" textLength="48.7" lengthAdjust="spacingAndGlyphs">faiime</text>
<text x="1006.4" y="204" textLength="104.4" lengthAdjust="spacingAndGlyphs">W0 Oieatiing</text>
<text x="1007" y="266.5" textLength="100.5" lengthAdjust="spacingAndGlyphs">Transvertse</text>
<text x="1008" y="292.7" textLength="49.8" lengthAdjust="spacingAndGlyphs">conns</text>
<text x="1007" y="357.2" textLength="76.5" lengthAdjust="spacingAndGlyphs">W8W/10</text>
<text x="1005.6" y="426.2" textLength="72.8" lengthAdjust="spacingAndGlyphs">W8W/10</text>
<text x="207.7" y="608.7" textLength="93.5" lengthAdjust="spacingAndGlyphs">Baae Plates</text>
<text x="342" y="657.2" textLength="70.5" lengthAdjust="spacingAndGlyphs">6−INCCH</text>
<text x="303.2" y="681.4" textLength="138.7" lengthAdjust="spacingAndGlyphs">concpoutsfatiing</text>
<text x="986.5" y="617.5" textLength="127.8" lengthAdjust="spacingAndGlyphs">Thickeeral Frod</text>
<text x="986.5" y="644.2" textLength="79.3" lengthAdjust="spacingAndGlyphs">gepnpntied</text>
<text x="987.3" y="667.5" textLength="60.1" lengthAdjust="spacingAndGlyphs">eeocing</text>
<text x="850.5" y="688.8" textLength="39.6" lengthAdjust="spacingAndGlyphs">Base</text>
<text x="850.5" y="714.2" textLength="54.4" lengthAdjust="spacingAndGlyphs">Beams</text>
</g>
</svg>
</body></html>
